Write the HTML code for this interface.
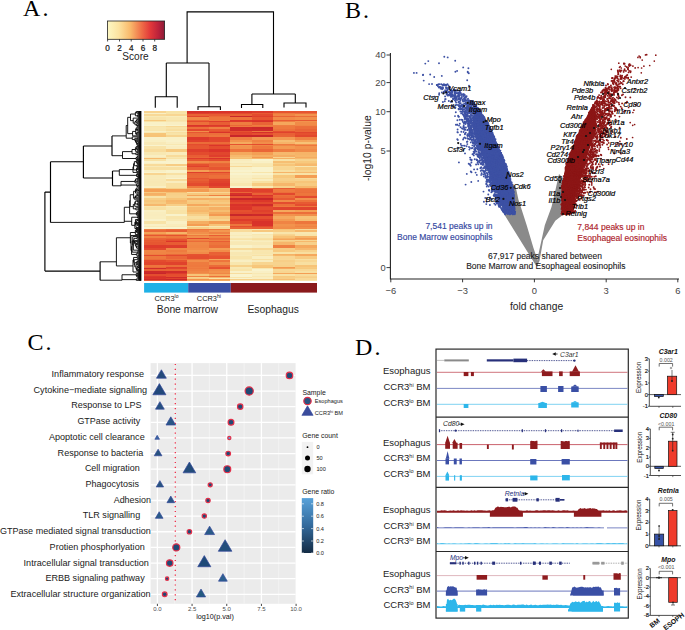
<!DOCTYPE html>
<html><head><meta charset="utf-8"><style>
html,body{margin:0;padding:0;background:#fff;}
svg{display:block;font-family:"Liberation Sans",sans-serif;}
</style></head><body>
<svg width="685" height="630" viewBox="0 0 685 630">
<text x="22.9" y="15.6" font-family="Liberation Serif" font-size="24" letter-spacing="2.2">A.</text>
<defs><linearGradient id="cb" x1="0" x2="1" y1="0" y2="0"><stop offset="0" stop-color="#fdf8c4"/><stop offset="0.2" stop-color="#fce3a0"/><stop offset="0.4" stop-color="#f9b96b"/><stop offset="0.6" stop-color="#ef6d47"/><stop offset="0.75" stop-color="#e2383a"/><stop offset="0.9" stop-color="#b9213b"/><stop offset="1" stop-color="#8a1c37"/></linearGradient></defs>
<rect x="107.4" y="21" width="57.2" height="18.3" fill="url(#cb)" stroke="#222" stroke-width="0.8"/>
<line x1="107.6" y1="39.3" x2="107.6" y2="41.5" stroke="#222" stroke-width="0.8"/>
<text x="107.6" y="50.8" font-size="8.2" text-anchor="middle" fill="#111" stroke="#111" stroke-width="0.2">0</text>
<line x1="119.5" y1="39.3" x2="119.5" y2="41.5" stroke="#222" stroke-width="0.8"/>
<text x="119.5" y="50.8" font-size="8.2" text-anchor="middle" fill="#111" stroke="#111" stroke-width="0.2">2</text>
<line x1="131.2" y1="39.3" x2="131.2" y2="41.5" stroke="#222" stroke-width="0.8"/>
<text x="131.2" y="50.8" font-size="8.2" text-anchor="middle" fill="#111" stroke="#111" stroke-width="0.2">4</text>
<line x1="143.0" y1="39.3" x2="143.0" y2="41.5" stroke="#222" stroke-width="0.8"/>
<text x="143.0" y="50.8" font-size="8.2" text-anchor="middle" fill="#111" stroke="#111" stroke-width="0.2">6</text>
<line x1="154.7" y1="39.3" x2="154.7" y2="41.5" stroke="#222" stroke-width="0.8"/>
<text x="154.7" y="50.8" font-size="8.2" text-anchor="middle" fill="#111" stroke="#111" stroke-width="0.2">8</text>
<text x="135.5" y="60.2" font-size="10.1" text-anchor="middle" fill="#222">Score</text>
<path d="M187.1,63 V11.9 H273.5 V94 M166.3,63 H209 M166.3,63 V96.8 M155.3,107.7 V96.8 H177.2 V107.7 M209,63 V106.7 M198,110 V106.7 H220.4 V110 M251.9,94 H295.3 M251.9,94 V104.5 M241.5,108 V104.5 H262.8 V108 M295.3,94 V103 M284,107.5 V103 H306 V107.5" fill="none" stroke="#000" stroke-width="1.1"/>
<g shape-rendering="crispEdges"><rect x="144.10" y="110.90" width="21.86" height="2.30" fill="#f8d490"/><rect x="165.66" y="110.90" width="21.86" height="2.30" fill="#f8e2a5"/><rect x="187.22" y="110.90" width="21.86" height="2.30" fill="#d7312a"/><rect x="208.79" y="110.90" width="21.86" height="2.30" fill="#d9332a"/><rect x="230.35" y="110.90" width="21.86" height="2.30" fill="#db352a"/><rect x="251.91" y="110.90" width="21.86" height="2.30" fill="#dd3a2b"/><rect x="273.48" y="110.90" width="21.86" height="2.30" fill="#e65430"/><rect x="295.04" y="110.90" width="21.86" height="2.30" fill="#e65531"/><rect x="144.10" y="112.90" width="21.86" height="1.80" fill="#f9efc3"/><rect x="165.66" y="112.90" width="21.86" height="1.80" fill="#f8e4a9"/><rect x="187.22" y="112.90" width="21.86" height="1.80" fill="#df3f2c"/><rect x="208.79" y="112.90" width="21.86" height="1.80" fill="#e1452d"/><rect x="230.35" y="112.90" width="21.86" height="1.80" fill="#e34b2e"/><rect x="251.91" y="112.90" width="21.86" height="1.80" fill="#e75932"/><rect x="273.48" y="112.90" width="21.86" height="1.80" fill="#ee7a3e"/><rect x="295.04" y="112.90" width="21.86" height="1.80" fill="#ec703a"/><rect x="144.10" y="114.40" width="21.86" height="1.80" fill="#f8d997"/><rect x="165.66" y="114.40" width="21.86" height="1.80" fill="#f8d693"/><rect x="187.22" y="114.40" width="21.86" height="1.80" fill="#e96235"/><rect x="208.79" y="114.40" width="21.86" height="1.80" fill="#e75b33"/><rect x="230.35" y="114.40" width="21.86" height="1.80" fill="#e96135"/><rect x="251.91" y="114.40" width="21.86" height="1.80" fill="#e34b2e"/><rect x="273.48" y="114.40" width="21.86" height="1.80" fill="#f08545"/><rect x="295.04" y="114.40" width="21.86" height="1.80" fill="#f2944e"/><rect x="144.10" y="115.90" width="21.86" height="1.80" fill="#f8eab7"/><rect x="165.66" y="115.90" width="21.86" height="1.80" fill="#f9ecbb"/><rect x="187.22" y="115.90" width="21.86" height="1.80" fill="#e1462d"/><rect x="208.79" y="115.90" width="21.86" height="1.80" fill="#eb6a38"/><rect x="230.35" y="115.90" width="21.86" height="1.80" fill="#ca282a"/><rect x="251.91" y="115.90" width="21.86" height="1.80" fill="#df3f2c"/><rect x="273.48" y="115.90" width="21.86" height="1.80" fill="#e96336"/><rect x="295.04" y="115.90" width="21.86" height="1.80" fill="#eb6d39"/><rect x="144.10" y="117.40" width="21.86" height="3.30" fill="#f8e4ab"/><rect x="165.66" y="117.40" width="21.86" height="3.30" fill="#f8e7b1"/><rect x="187.22" y="117.40" width="21.86" height="3.30" fill="#f08947"/><rect x="208.79" y="117.40" width="21.86" height="3.30" fill="#ed753c"/><rect x="230.35" y="117.40" width="21.86" height="3.30" fill="#ed743c"/><rect x="251.91" y="117.40" width="21.86" height="3.30" fill="#e65531"/><rect x="273.48" y="117.40" width="21.86" height="3.30" fill="#f18a48"/><rect x="295.04" y="117.40" width="21.86" height="3.30" fill="#f1904b"/><rect x="144.10" y="120.40" width="21.86" height="1.30" fill="#f7c97e"/><rect x="165.66" y="120.40" width="21.86" height="1.30" fill="#f8e3a8"/><rect x="187.22" y="120.40" width="21.86" height="1.30" fill="#ea6537"/><rect x="208.79" y="120.40" width="21.86" height="1.30" fill="#ee783d"/><rect x="230.35" y="120.40" width="21.86" height="1.30" fill="#dc372b"/><rect x="251.91" y="120.40" width="21.86" height="1.30" fill="#dc362a"/><rect x="273.48" y="120.40" width="21.86" height="1.30" fill="#e85c33"/><rect x="295.04" y="120.40" width="21.86" height="1.30" fill="#e75932"/><rect x="144.10" y="121.40" width="21.86" height="1.30" fill="#f8e3a7"/><rect x="165.66" y="121.40" width="21.86" height="1.30" fill="#f8e7b2"/><rect x="187.22" y="121.40" width="21.86" height="1.30" fill="#e44d2e"/><rect x="208.79" y="121.40" width="21.86" height="1.30" fill="#de3e2c"/><rect x="230.35" y="121.40" width="21.86" height="1.30" fill="#dd3a2b"/><rect x="251.91" y="121.40" width="21.86" height="1.30" fill="#d8322a"/><rect x="273.48" y="121.40" width="21.86" height="1.30" fill="#ef7f41"/><rect x="295.04" y="121.40" width="21.86" height="1.30" fill="#f2934d"/><rect x="144.10" y="122.40" width="21.86" height="2.80" fill="#f9f1c7"/><rect x="165.66" y="122.40" width="21.86" height="2.80" fill="#f9eec2"/><rect x="187.22" y="122.40" width="21.86" height="2.80" fill="#ec6f3a"/><rect x="208.79" y="122.40" width="21.86" height="2.80" fill="#e85d34"/><rect x="230.35" y="122.40" width="21.86" height="2.80" fill="#ee7d40"/><rect x="251.91" y="122.40" width="21.86" height="2.80" fill="#e96436"/><rect x="273.48" y="122.40" width="21.86" height="2.80" fill="#f5a75c"/><rect x="295.04" y="122.40" width="21.86" height="2.80" fill="#f18b48"/><rect x="144.10" y="124.90" width="21.86" height="1.80" fill="#f9f3cd"/><rect x="165.66" y="124.90" width="21.86" height="1.80" fill="#f9f3cd"/><rect x="187.22" y="124.90" width="21.86" height="1.80" fill="#da332a"/><rect x="208.79" y="124.90" width="21.86" height="1.80" fill="#dc382b"/><rect x="230.35" y="124.90" width="21.86" height="1.80" fill="#ea6737"/><rect x="251.91" y="124.90" width="21.86" height="1.80" fill="#ee7c3f"/><rect x="273.48" y="124.90" width="21.86" height="1.80" fill="#ef7e41"/><rect x="295.04" y="124.90" width="21.86" height="1.80" fill="#f08645"/><rect x="144.10" y="126.40" width="21.86" height="1.30" fill="#f8e3a8"/><rect x="165.66" y="126.40" width="21.86" height="1.30" fill="#f8d895"/><rect x="187.22" y="126.40" width="21.86" height="1.30" fill="#de3d2c"/><rect x="208.79" y="126.40" width="21.86" height="1.30" fill="#e0412c"/><rect x="230.35" y="126.40" width="21.86" height="1.30" fill="#ee7a3e"/><rect x="251.91" y="126.40" width="21.86" height="1.30" fill="#ed753c"/><rect x="273.48" y="126.40" width="21.86" height="1.30" fill="#ee7b3e"/><rect x="295.04" y="126.40" width="21.86" height="1.30" fill="#ec6f3a"/><rect x="144.10" y="127.40" width="21.86" height="2.30" fill="#f8e6af"/><rect x="165.66" y="127.40" width="21.86" height="2.30" fill="#f8e3a8"/><rect x="187.22" y="127.40" width="21.86" height="2.30" fill="#ec6f3a"/><rect x="208.79" y="127.40" width="21.86" height="2.30" fill="#ef8042"/><rect x="230.35" y="127.40" width="21.86" height="2.30" fill="#cf2b2a"/><rect x="251.91" y="127.40" width="21.86" height="2.30" fill="#cb282a"/><rect x="273.48" y="127.40" width="21.86" height="2.30" fill="#ee7a3e"/><rect x="295.04" y="127.40" width="21.86" height="2.30" fill="#eb6e3a"/><rect x="144.10" y="129.40" width="21.86" height="1.80" fill="#f8e6ae"/><rect x="165.66" y="129.40" width="21.86" height="1.80" fill="#f8de9f"/><rect x="187.22" y="129.40" width="21.86" height="1.80" fill="#e3492e"/><rect x="208.79" y="129.40" width="21.86" height="1.80" fill="#e75932"/><rect x="230.35" y="129.40" width="21.86" height="1.80" fill="#cf2c2a"/><rect x="251.91" y="129.40" width="21.86" height="1.80" fill="#cf2b2a"/><rect x="273.48" y="129.40" width="21.86" height="1.80" fill="#ec723b"/><rect x="295.04" y="129.40" width="21.86" height="1.80" fill="#e96436"/><rect x="144.10" y="130.90" width="21.86" height="1.80" fill="#f9f0c6"/><rect x="165.66" y="130.90" width="21.86" height="1.80" fill="#f9ebba"/><rect x="187.22" y="130.90" width="21.86" height="1.80" fill="#f18e4a"/><rect x="208.79" y="130.90" width="21.86" height="1.80" fill="#e5502f"/><rect x="230.35" y="130.90" width="21.86" height="1.80" fill="#e55230"/><rect x="251.91" y="130.90" width="21.86" height="1.80" fill="#ed773d"/><rect x="273.48" y="130.90" width="21.86" height="1.80" fill="#e5502f"/><rect x="295.04" y="130.90" width="21.86" height="1.80" fill="#ea6637"/><rect x="144.10" y="132.40" width="21.86" height="1.30" fill="#f8e9b5"/><rect x="165.66" y="132.40" width="21.86" height="1.30" fill="#f8dfa1"/><rect x="187.22" y="132.40" width="21.86" height="1.30" fill="#e75732"/><rect x="208.79" y="132.40" width="21.86" height="1.30" fill="#d9332a"/><rect x="230.35" y="132.40" width="21.86" height="1.30" fill="#e0412c"/><rect x="251.91" y="132.40" width="21.86" height="1.30" fill="#d5302a"/><rect x="273.48" y="132.40" width="21.86" height="1.30" fill="#e0422d"/><rect x="295.04" y="132.40" width="21.86" height="1.30" fill="#e1452d"/><rect x="144.10" y="133.40" width="21.86" height="2.30" fill="#f7c579"/><rect x="165.66" y="133.40" width="21.86" height="2.30" fill="#f8e3a7"/><rect x="187.22" y="133.40" width="21.86" height="2.30" fill="#eb6e3a"/><rect x="208.79" y="133.40" width="21.86" height="2.30" fill="#ec6f3a"/><rect x="230.35" y="133.40" width="21.86" height="2.30" fill="#e1462d"/><rect x="251.91" y="133.40" width="21.86" height="2.30" fill="#e54f2f"/><rect x="273.48" y="133.40" width="21.86" height="2.30" fill="#e96035"/><rect x="295.04" y="133.40" width="21.86" height="2.30" fill="#e5502f"/><rect x="144.10" y="135.40" width="21.86" height="2.30" fill="#f7c377"/><rect x="165.66" y="135.40" width="21.86" height="2.30" fill="#f7d48f"/><rect x="187.22" y="135.40" width="21.86" height="2.30" fill="#ec703a"/><rect x="208.79" y="135.40" width="21.86" height="2.30" fill="#ed763d"/><rect x="230.35" y="135.40" width="21.86" height="2.30" fill="#c8262a"/><rect x="251.91" y="135.40" width="21.86" height="2.30" fill="#c8262a"/><rect x="273.48" y="135.40" width="21.86" height="2.30" fill="#e96336"/><rect x="295.04" y="135.40" width="21.86" height="2.30" fill="#e2472d"/><rect x="144.10" y="137.40" width="21.86" height="3.30" fill="#f9f1c9"/><rect x="165.66" y="137.40" width="21.86" height="3.30" fill="#f9f0c5"/><rect x="187.22" y="137.40" width="21.86" height="3.30" fill="#dd392b"/><rect x="208.79" y="137.40" width="21.86" height="3.30" fill="#e2462d"/><rect x="230.35" y="137.40" width="21.86" height="3.30" fill="#ef8042"/><rect x="251.91" y="137.40" width="21.86" height="3.30" fill="#f2964f"/><rect x="273.48" y="137.40" width="21.86" height="3.30" fill="#f39a52"/><rect x="295.04" y="137.40" width="21.86" height="3.30" fill="#ef8343"/><rect x="144.10" y="140.40" width="21.86" height="2.30" fill="#f9efc2"/><rect x="165.66" y="140.40" width="21.86" height="2.30" fill="#f9f1c9"/><rect x="187.22" y="140.40" width="21.86" height="2.30" fill="#e0412c"/><rect x="208.79" y="140.40" width="21.86" height="2.30" fill="#e2482e"/><rect x="230.35" y="140.40" width="21.86" height="2.30" fill="#f2934d"/><rect x="251.91" y="140.40" width="21.86" height="2.30" fill="#ef8243"/><rect x="273.48" y="140.40" width="21.86" height="2.30" fill="#f6be73"/><rect x="295.04" y="140.40" width="21.86" height="2.30" fill="#f4a55a"/><rect x="144.10" y="142.40" width="21.86" height="1.80" fill="#f8e9b7"/><rect x="165.66" y="142.40" width="21.86" height="1.80" fill="#f9eec2"/><rect x="187.22" y="142.40" width="21.86" height="1.80" fill="#eb6c39"/><rect x="208.79" y="142.40" width="21.86" height="1.80" fill="#eb6a38"/><rect x="230.35" y="142.40" width="21.86" height="1.80" fill="#f5aa5e"/><rect x="251.91" y="142.40" width="21.86" height="1.80" fill="#f18d4a"/><rect x="273.48" y="142.40" width="21.86" height="1.80" fill="#f6b368"/><rect x="295.04" y="142.40" width="21.86" height="1.80" fill="#f7c276"/><rect x="144.10" y="143.90" width="21.86" height="1.30" fill="#f8e9b6"/><rect x="165.66" y="143.90" width="21.86" height="1.30" fill="#f8e8b2"/><rect x="187.22" y="143.90" width="21.86" height="1.30" fill="#e44d2e"/><rect x="208.79" y="143.90" width="21.86" height="1.30" fill="#e5512f"/><rect x="230.35" y="143.90" width="21.86" height="1.30" fill="#e65330"/><rect x="251.91" y="143.90" width="21.86" height="1.30" fill="#e44c2e"/><rect x="273.48" y="143.90" width="21.86" height="1.30" fill="#ee7b3f"/><rect x="295.04" y="143.90" width="21.86" height="1.30" fill="#f2934d"/><rect x="144.10" y="144.90" width="21.86" height="1.80" fill="#f9f3cd"/><rect x="165.66" y="144.90" width="21.86" height="1.80" fill="#f9f1c8"/><rect x="187.22" y="144.90" width="21.86" height="1.80" fill="#e65431"/><rect x="208.79" y="144.90" width="21.86" height="1.80" fill="#db342a"/><rect x="230.35" y="144.90" width="21.86" height="1.80" fill="#f39951"/><rect x="251.91" y="144.90" width="21.86" height="1.80" fill="#f08544"/><rect x="273.48" y="144.90" width="21.86" height="1.80" fill="#f08746"/><rect x="295.04" y="144.90" width="21.86" height="1.80" fill="#ed773d"/><rect x="144.10" y="146.40" width="21.86" height="3.30" fill="#f8e3a8"/><rect x="165.66" y="146.40" width="21.86" height="3.30" fill="#f9edc0"/><rect x="187.22" y="146.40" width="21.86" height="3.30" fill="#e65731"/><rect x="208.79" y="146.40" width="21.86" height="3.30" fill="#e44c2e"/><rect x="230.35" y="146.40" width="21.86" height="3.30" fill="#f2934d"/><rect x="251.91" y="146.40" width="21.86" height="3.30" fill="#ee783d"/><rect x="273.48" y="146.40" width="21.86" height="3.30" fill="#f39a51"/><rect x="295.04" y="146.40" width="21.86" height="3.30" fill="#f2924c"/><rect x="144.10" y="149.40" width="21.86" height="3.30" fill="#f8dc9c"/><rect x="165.66" y="149.40" width="21.86" height="3.30" fill="#f7ca80"/><rect x="187.22" y="149.40" width="21.86" height="3.30" fill="#de3e2c"/><rect x="208.79" y="149.40" width="21.86" height="3.30" fill="#db342a"/><rect x="230.35" y="149.40" width="21.86" height="3.30" fill="#ed743c"/><rect x="251.91" y="149.40" width="21.86" height="3.30" fill="#ea6637"/><rect x="273.48" y="149.40" width="21.86" height="3.30" fill="#ee7d40"/><rect x="295.04" y="149.40" width="21.86" height="3.30" fill="#f08a48"/><rect x="144.10" y="152.40" width="21.86" height="3.30" fill="#f8e8b2"/><rect x="165.66" y="152.40" width="21.86" height="3.30" fill="#f9ebbb"/><rect x="187.22" y="152.40" width="21.86" height="3.30" fill="#e34b2e"/><rect x="208.79" y="152.40" width="21.86" height="3.30" fill="#e1462d"/><rect x="230.35" y="152.40" width="21.86" height="3.30" fill="#f5a95d"/><rect x="251.91" y="152.40" width="21.86" height="3.30" fill="#f49f54"/><rect x="273.48" y="152.40" width="21.86" height="3.30" fill="#f6b86d"/><rect x="295.04" y="152.40" width="21.86" height="3.30" fill="#f6b468"/><rect x="144.10" y="155.40" width="21.86" height="1.80" fill="#f9eec1"/><rect x="165.66" y="155.40" width="21.86" height="1.80" fill="#f8db9a"/><rect x="187.22" y="155.40" width="21.86" height="1.80" fill="#e85d34"/><rect x="208.79" y="155.40" width="21.86" height="1.80" fill="#df3e2c"/><rect x="230.35" y="155.40" width="21.86" height="1.80" fill="#f6b96d"/><rect x="251.91" y="155.40" width="21.86" height="1.80" fill="#f5ae62"/><rect x="273.48" y="155.40" width="21.86" height="1.80" fill="#f5ae63"/><rect x="295.04" y="155.40" width="21.86" height="1.80" fill="#f6b76b"/><rect x="144.10" y="156.90" width="21.86" height="1.30" fill="#f8e9b6"/><rect x="165.66" y="156.90" width="21.86" height="1.30" fill="#f8e7b1"/><rect x="187.22" y="156.90" width="21.86" height="1.30" fill="#ea6537"/><rect x="208.79" y="156.90" width="21.86" height="1.30" fill="#e96336"/><rect x="230.35" y="156.90" width="21.86" height="1.30" fill="#f7c377"/><rect x="251.91" y="156.90" width="21.86" height="1.30" fill="#f39a51"/><rect x="273.48" y="156.90" width="21.86" height="1.30" fill="#f8d591"/><rect x="295.04" y="156.90" width="21.86" height="1.30" fill="#f5ac61"/><rect x="144.10" y="157.90" width="21.86" height="1.80" fill="#f6bb6f"/><rect x="165.66" y="157.90" width="21.86" height="1.80" fill="#f8e3a7"/><rect x="187.22" y="157.90" width="21.86" height="1.80" fill="#de3c2b"/><rect x="208.79" y="157.90" width="21.86" height="1.80" fill="#d9332a"/><rect x="230.35" y="157.90" width="21.86" height="1.80" fill="#f6bf73"/><rect x="251.91" y="157.90" width="21.86" height="1.80" fill="#f6b76b"/><rect x="273.48" y="157.90" width="21.86" height="1.80" fill="#f5b064"/><rect x="295.04" y="157.90" width="21.86" height="1.80" fill="#f6bb6f"/><rect x="144.10" y="159.40" width="21.86" height="2.30" fill="#f8e2a5"/><rect x="165.66" y="159.40" width="21.86" height="2.30" fill="#f9f0c7"/><rect x="187.22" y="159.40" width="21.86" height="2.30" fill="#e65731"/><rect x="208.79" y="159.40" width="21.86" height="2.30" fill="#e44c2e"/><rect x="230.35" y="159.40" width="21.86" height="2.30" fill="#f9ecbd"/><rect x="251.91" y="159.40" width="21.86" height="2.30" fill="#f9f3cd"/><rect x="273.48" y="159.40" width="21.86" height="2.30" fill="#f8e2a6"/><rect x="295.04" y="159.40" width="21.86" height="2.30" fill="#f7d38e"/><rect x="144.10" y="161.40" width="21.86" height="2.30" fill="#f9f3cd"/><rect x="165.66" y="161.40" width="21.86" height="2.30" fill="#f9f3cd"/><rect x="187.22" y="161.40" width="21.86" height="2.30" fill="#f18b48"/><rect x="208.79" y="161.40" width="21.86" height="2.30" fill="#ef8243"/><rect x="230.35" y="161.40" width="21.86" height="2.30" fill="#f9eec1"/><rect x="251.91" y="161.40" width="21.86" height="2.30" fill="#f9f0c5"/><rect x="273.48" y="161.40" width="21.86" height="2.30" fill="#f6bf73"/><rect x="295.04" y="161.40" width="21.86" height="2.30" fill="#f7c97e"/><rect x="144.10" y="163.40" width="21.86" height="1.30" fill="#f9efc3"/><rect x="165.66" y="163.40" width="21.86" height="1.30" fill="#f9f3cd"/><rect x="187.22" y="163.40" width="21.86" height="1.30" fill="#ec6f3a"/><rect x="208.79" y="163.40" width="21.86" height="1.30" fill="#ea6938"/><rect x="230.35" y="163.40" width="21.86" height="1.30" fill="#f8e8b4"/><rect x="251.91" y="163.40" width="21.86" height="1.30" fill="#f8e9b6"/><rect x="273.48" y="163.40" width="21.86" height="1.30" fill="#f7d089"/><rect x="295.04" y="163.40" width="21.86" height="1.30" fill="#f7c074"/><rect x="144.10" y="164.40" width="21.86" height="2.30" fill="#f8db9a"/><rect x="165.66" y="164.40" width="21.86" height="2.30" fill="#f7cd85"/><rect x="187.22" y="164.40" width="21.86" height="2.30" fill="#e54f2f"/><rect x="208.79" y="164.40" width="21.86" height="2.30" fill="#e96336"/><rect x="230.35" y="164.40" width="21.86" height="2.30" fill="#f9ecbc"/><rect x="251.91" y="164.40" width="21.86" height="2.30" fill="#f8e8b2"/><rect x="273.48" y="164.40" width="21.86" height="2.30" fill="#f7c579"/><rect x="295.04" y="164.40" width="21.86" height="2.30" fill="#f6b96d"/><rect x="144.10" y="166.40" width="21.86" height="1.30" fill="#f8e9b6"/><rect x="165.66" y="166.40" width="21.86" height="1.30" fill="#f9edbf"/><rect x="187.22" y="166.40" width="21.86" height="1.30" fill="#e0422c"/><rect x="208.79" y="166.40" width="21.86" height="1.30" fill="#ea6737"/><rect x="230.35" y="166.40" width="21.86" height="1.30" fill="#f8d896"/><rect x="251.91" y="166.40" width="21.86" height="1.30" fill="#f8e5ac"/><rect x="273.48" y="166.40" width="21.86" height="1.30" fill="#f8d895"/><rect x="295.04" y="166.40" width="21.86" height="1.30" fill="#f8e6af"/><rect x="144.10" y="167.40" width="21.86" height="3.30" fill="#f8e0a2"/><rect x="165.66" y="167.40" width="21.86" height="3.30" fill="#f8e0a2"/><rect x="187.22" y="167.40" width="21.86" height="3.30" fill="#e96035"/><rect x="208.79" y="167.40" width="21.86" height="3.30" fill="#e65531"/><rect x="230.35" y="167.40" width="21.86" height="3.30" fill="#f9f0c5"/><rect x="251.91" y="167.40" width="21.86" height="3.30" fill="#f9f3cd"/><rect x="273.48" y="167.40" width="21.86" height="3.30" fill="#f8d692"/><rect x="295.04" y="167.40" width="21.86" height="3.30" fill="#f7ca80"/><rect x="144.10" y="170.40" width="21.86" height="1.80" fill="#f9efc3"/><rect x="165.66" y="170.40" width="21.86" height="1.80" fill="#f9f3cd"/><rect x="187.22" y="170.40" width="21.86" height="1.80" fill="#f49f55"/><rect x="208.79" y="170.40" width="21.86" height="1.80" fill="#f08846"/><rect x="230.35" y="170.40" width="21.86" height="1.80" fill="#f9f3cd"/><rect x="251.91" y="170.40" width="21.86" height="1.80" fill="#f9f3cd"/><rect x="273.48" y="170.40" width="21.86" height="1.80" fill="#f8e0a2"/><rect x="295.04" y="170.40" width="21.86" height="1.80" fill="#f7d38d"/><rect x="144.10" y="171.90" width="21.86" height="1.30" fill="#f9f3cd"/><rect x="165.66" y="171.90" width="21.86" height="1.30" fill="#f9f2cb"/><rect x="187.22" y="171.90" width="21.86" height="1.30" fill="#df402c"/><rect x="208.79" y="171.90" width="21.86" height="1.30" fill="#e3492e"/><rect x="230.35" y="171.90" width="21.86" height="1.30" fill="#f9eec0"/><rect x="251.91" y="171.90" width="21.86" height="1.30" fill="#f8e5ab"/><rect x="273.48" y="171.90" width="21.86" height="1.30" fill="#f6b468"/><rect x="295.04" y="171.90" width="21.86" height="1.30" fill="#f6ba6f"/><rect x="144.10" y="172.90" width="21.86" height="2.80" fill="#f8d591"/><rect x="165.66" y="172.90" width="21.86" height="2.80" fill="#f8e1a4"/><rect x="187.22" y="172.90" width="21.86" height="2.80" fill="#ea6637"/><rect x="208.79" y="172.90" width="21.86" height="2.80" fill="#ea6637"/><rect x="230.35" y="172.90" width="21.86" height="2.80" fill="#f9f3cd"/><rect x="251.91" y="172.90" width="21.86" height="2.80" fill="#f9f3cd"/><rect x="273.48" y="172.90" width="21.86" height="2.80" fill="#f8e3a6"/><rect x="295.04" y="172.90" width="21.86" height="2.80" fill="#f8e2a6"/><rect x="144.10" y="175.40" width="21.86" height="3.30" fill="#f8eab7"/><rect x="165.66" y="175.40" width="21.86" height="3.30" fill="#f9edbf"/><rect x="187.22" y="175.40" width="21.86" height="3.30" fill="#ea6a38"/><rect x="208.79" y="175.40" width="21.86" height="3.30" fill="#ec703a"/><rect x="230.35" y="175.40" width="21.86" height="3.30" fill="#f9efc3"/><rect x="251.91" y="175.40" width="21.86" height="3.30" fill="#f9ecbc"/><rect x="273.48" y="175.40" width="21.86" height="3.30" fill="#f7c87c"/><rect x="295.04" y="175.40" width="21.86" height="3.30" fill="#f49e54"/><rect x="144.10" y="178.40" width="21.86" height="1.30" fill="#f8eab9"/><rect x="165.66" y="178.40" width="21.86" height="1.30" fill="#f9f3cd"/><rect x="187.22" y="178.40" width="21.86" height="1.30" fill="#e65731"/><rect x="208.79" y="178.40" width="21.86" height="1.30" fill="#ea6838"/><rect x="230.35" y="178.40" width="21.86" height="1.30" fill="#f9ecbc"/><rect x="251.91" y="178.40" width="21.86" height="1.30" fill="#f8e4a9"/><rect x="273.48" y="178.40" width="21.86" height="1.30" fill="#f7d08a"/><rect x="295.04" y="178.40" width="21.86" height="1.30" fill="#f8d997"/><rect x="144.10" y="179.40" width="21.86" height="2.30" fill="#f8e9b6"/><rect x="165.66" y="179.40" width="21.86" height="2.30" fill="#f8db9b"/><rect x="187.22" y="179.40" width="21.86" height="2.30" fill="#e85f34"/><rect x="208.79" y="179.40" width="21.86" height="2.30" fill="#e1462d"/><rect x="230.35" y="179.40" width="21.86" height="2.30" fill="#f9edbe"/><rect x="251.91" y="179.40" width="21.86" height="2.30" fill="#f9edbf"/><rect x="273.48" y="179.40" width="21.86" height="2.30" fill="#f7d089"/><rect x="295.04" y="179.40" width="21.86" height="2.30" fill="#f7d28d"/><rect x="144.10" y="181.40" width="21.86" height="2.30" fill="#f8e8b4"/><rect x="165.66" y="181.40" width="21.86" height="2.30" fill="#f9ecbe"/><rect x="187.22" y="181.40" width="21.86" height="2.30" fill="#e65631"/><rect x="208.79" y="181.40" width="21.86" height="2.30" fill="#e0412c"/><rect x="230.35" y="181.40" width="21.86" height="2.30" fill="#f9ebba"/><rect x="251.91" y="181.40" width="21.86" height="2.30" fill="#f8e0a2"/><rect x="273.48" y="181.40" width="21.86" height="2.30" fill="#f7c97f"/><rect x="295.04" y="181.40" width="21.86" height="2.30" fill="#f7c579"/><rect x="144.10" y="183.40" width="21.86" height="2.80" fill="#f8e9b4"/><rect x="165.66" y="183.40" width="21.86" height="2.80" fill="#f8e0a2"/><rect x="187.22" y="183.40" width="21.86" height="2.80" fill="#e34b2e"/><rect x="208.79" y="183.40" width="21.86" height="2.80" fill="#dd3a2b"/><rect x="230.35" y="183.40" width="21.86" height="2.80" fill="#f8e6af"/><rect x="251.91" y="183.40" width="21.86" height="2.80" fill="#f7cc83"/><rect x="273.48" y="183.40" width="21.86" height="2.80" fill="#f6b66b"/><rect x="295.04" y="183.40" width="21.86" height="2.80" fill="#f7cb81"/><rect x="144.10" y="185.90" width="21.86" height="2.30" fill="#f9efc3"/><rect x="165.66" y="185.90" width="21.86" height="2.30" fill="#f8e0a2"/><rect x="187.22" y="185.90" width="21.86" height="2.30" fill="#ee783d"/><rect x="208.79" y="185.90" width="21.86" height="2.30" fill="#e3492e"/><rect x="230.35" y="185.90" width="21.86" height="2.30" fill="#f9f3cd"/><rect x="251.91" y="185.90" width="21.86" height="2.30" fill="#f8e8b3"/><rect x="273.48" y="185.90" width="21.86" height="2.30" fill="#f7d08a"/><rect x="295.04" y="185.90" width="21.86" height="2.30" fill="#f6b76b"/><rect x="144.10" y="187.90" width="21.86" height="1.80" fill="#f6bc71"/><rect x="165.66" y="187.90" width="21.86" height="1.80" fill="#f7d089"/><rect x="187.22" y="187.90" width="21.86" height="1.80" fill="#f5a75c"/><rect x="208.79" y="187.90" width="21.86" height="1.80" fill="#f6bb6f"/><rect x="230.35" y="187.90" width="21.86" height="1.80" fill="#df412c"/><rect x="251.91" y="187.90" width="21.86" height="1.80" fill="#ea6838"/><rect x="273.48" y="187.90" width="21.86" height="1.80" fill="#e85c33"/><rect x="295.04" y="187.90" width="21.86" height="1.80" fill="#ee7b3f"/><rect x="144.10" y="189.40" width="21.86" height="2.80" fill="#f4a055"/><rect x="165.66" y="189.40" width="21.86" height="2.80" fill="#f49f54"/><rect x="187.22" y="189.40" width="21.86" height="2.80" fill="#f39b52"/><rect x="208.79" y="189.40" width="21.86" height="2.80" fill="#f6b469"/><rect x="230.35" y="189.40" width="21.86" height="2.80" fill="#de3d2c"/><rect x="251.91" y="189.40" width="21.86" height="2.80" fill="#df402c"/><rect x="273.48" y="189.40" width="21.86" height="2.80" fill="#ee793e"/><rect x="295.04" y="189.40" width="21.86" height="2.80" fill="#ec713b"/><rect x="144.10" y="191.90" width="21.86" height="1.80" fill="#f7c97f"/><rect x="165.66" y="191.90" width="21.86" height="1.80" fill="#f6bf73"/><rect x="187.22" y="191.90" width="21.86" height="1.80" fill="#f8de9f"/><rect x="208.79" y="191.90" width="21.86" height="1.80" fill="#f8d490"/><rect x="230.35" y="191.90" width="21.86" height="1.80" fill="#ea6537"/><rect x="251.91" y="191.90" width="21.86" height="1.80" fill="#e34a2e"/><rect x="273.48" y="191.90" width="21.86" height="1.80" fill="#ec6f3a"/><rect x="295.04" y="191.90" width="21.86" height="1.80" fill="#eb6e3a"/><rect x="144.10" y="193.40" width="21.86" height="2.30" fill="#f5b065"/><rect x="165.66" y="193.40" width="21.86" height="2.30" fill="#f7cf88"/><rect x="187.22" y="193.40" width="21.86" height="2.30" fill="#f7c87d"/><rect x="208.79" y="193.40" width="21.86" height="2.30" fill="#f7c074"/><rect x="230.35" y="193.40" width="21.86" height="2.30" fill="#d7312a"/><rect x="251.91" y="193.40" width="21.86" height="2.30" fill="#e96236"/><rect x="273.48" y="193.40" width="21.86" height="2.30" fill="#e2482e"/><rect x="295.04" y="193.40" width="21.86" height="2.30" fill="#ed763c"/><rect x="144.10" y="195.40" width="21.86" height="1.30" fill="#f6b76b"/><rect x="165.66" y="195.40" width="21.86" height="1.30" fill="#f7d18a"/><rect x="187.22" y="195.40" width="21.86" height="1.30" fill="#f4a358"/><rect x="208.79" y="195.40" width="21.86" height="1.30" fill="#ef8041"/><rect x="230.35" y="195.40" width="21.86" height="1.30" fill="#c8262a"/><rect x="251.91" y="195.40" width="21.86" height="1.30" fill="#da332a"/><rect x="273.48" y="195.40" width="21.86" height="1.30" fill="#ec703b"/><rect x="295.04" y="195.40" width="21.86" height="1.30" fill="#ec723b"/><rect x="144.10" y="196.40" width="21.86" height="1.80" fill="#f8e3a8"/><rect x="165.66" y="196.40" width="21.86" height="1.80" fill="#f7d28c"/><rect x="187.22" y="196.40" width="21.86" height="1.80" fill="#f8d591"/><rect x="208.79" y="196.40" width="21.86" height="1.80" fill="#f8d997"/><rect x="230.35" y="196.40" width="21.86" height="1.80" fill="#e75732"/><rect x="251.91" y="196.40" width="21.86" height="1.80" fill="#e0432d"/><rect x="273.48" y="196.40" width="21.86" height="1.80" fill="#eb6a38"/><rect x="295.04" y="196.40" width="21.86" height="1.80" fill="#e34a2e"/><rect x="144.10" y="197.90" width="21.86" height="2.30" fill="#f7cf88"/><rect x="165.66" y="197.90" width="21.86" height="2.30" fill="#f7c579"/><rect x="187.22" y="197.90" width="21.86" height="2.30" fill="#f5af64"/><rect x="208.79" y="197.90" width="21.86" height="2.30" fill="#f6b368"/><rect x="230.35" y="197.90" width="21.86" height="2.30" fill="#c8262a"/><rect x="251.91" y="197.90" width="21.86" height="2.30" fill="#c8262a"/><rect x="273.48" y="197.90" width="21.86" height="2.30" fill="#e75a33"/><rect x="295.04" y="197.90" width="21.86" height="2.30" fill="#f18e4a"/><rect x="144.10" y="199.90" width="21.86" height="2.30" fill="#f7c77c"/><rect x="165.66" y="199.90" width="21.86" height="2.30" fill="#f6b56a"/><rect x="187.22" y="199.90" width="21.86" height="2.30" fill="#f7cb82"/><rect x="208.79" y="199.90" width="21.86" height="2.30" fill="#f7c377"/><rect x="230.35" y="199.90" width="21.86" height="2.30" fill="#dd3b2b"/><rect x="251.91" y="199.90" width="21.86" height="2.30" fill="#dc372a"/><rect x="273.48" y="199.90" width="21.86" height="2.30" fill="#f18b48"/><rect x="295.04" y="199.90" width="21.86" height="2.30" fill="#ec733b"/><rect x="144.10" y="201.90" width="21.86" height="2.80" fill="#f7cc83"/><rect x="165.66" y="201.90" width="21.86" height="2.80" fill="#f6ba6e"/><rect x="187.22" y="201.90" width="21.86" height="2.80" fill="#f7c87c"/><rect x="208.79" y="201.90" width="21.86" height="2.80" fill="#f7ca81"/><rect x="230.35" y="201.90" width="21.86" height="2.80" fill="#e3492e"/><rect x="251.91" y="201.90" width="21.86" height="2.80" fill="#e2472d"/><rect x="273.48" y="201.90" width="21.86" height="2.80" fill="#e44d2f"/><rect x="295.04" y="201.90" width="21.86" height="2.80" fill="#e75a33"/><rect x="144.10" y="204.40" width="21.86" height="1.80" fill="#f6b86d"/><rect x="165.66" y="204.40" width="21.86" height="1.80" fill="#f7ce87"/><rect x="187.22" y="204.40" width="21.86" height="1.80" fill="#f5a85d"/><rect x="208.79" y="204.40" width="21.86" height="1.80" fill="#f6b56a"/><rect x="230.35" y="204.40" width="21.86" height="1.80" fill="#d9322a"/><rect x="251.91" y="204.40" width="21.86" height="1.80" fill="#d02c2a"/><rect x="273.48" y="204.40" width="21.86" height="1.80" fill="#ec703a"/><rect x="295.04" y="204.40" width="21.86" height="1.80" fill="#e44e2f"/><rect x="144.10" y="205.90" width="21.86" height="1.80" fill="#f8e5ac"/><rect x="165.66" y="205.90" width="21.86" height="1.80" fill="#f9ebba"/><rect x="187.22" y="205.90" width="21.86" height="1.80" fill="#f7cb82"/><rect x="208.79" y="205.90" width="21.86" height="1.80" fill="#f7cf89"/><rect x="230.35" y="205.90" width="21.86" height="1.80" fill="#dd382b"/><rect x="251.91" y="205.90" width="21.86" height="1.80" fill="#e0412c"/><rect x="273.48" y="205.90" width="21.86" height="1.80" fill="#ee7a3e"/><rect x="295.04" y="205.90" width="21.86" height="1.80" fill="#ee793e"/><rect x="144.10" y="207.40" width="21.86" height="3.30" fill="#f8e0a2"/><rect x="165.66" y="207.40" width="21.86" height="3.30" fill="#f8e6af"/><rect x="187.22" y="207.40" width="21.86" height="3.30" fill="#f6bc70"/><rect x="208.79" y="207.40" width="21.86" height="3.30" fill="#f5af64"/><rect x="230.35" y="207.40" width="21.86" height="3.30" fill="#db352a"/><rect x="251.91" y="207.40" width="21.86" height="3.30" fill="#e34a2e"/><rect x="273.48" y="207.40" width="21.86" height="3.30" fill="#e0432d"/><rect x="295.04" y="207.40" width="21.86" height="3.30" fill="#e0432d"/><rect x="144.10" y="210.40" width="21.86" height="1.80" fill="#f9efc3"/><rect x="165.66" y="210.40" width="21.86" height="1.80" fill="#f8e3a7"/><rect x="187.22" y="210.40" width="21.86" height="1.80" fill="#f6b76b"/><rect x="208.79" y="210.40" width="21.86" height="1.80" fill="#f6bd71"/><rect x="230.35" y="210.40" width="21.86" height="1.80" fill="#e5502f"/><rect x="251.91" y="210.40" width="21.86" height="1.80" fill="#df402c"/><rect x="273.48" y="210.40" width="21.86" height="1.80" fill="#f5a85d"/><rect x="295.04" y="210.40" width="21.86" height="1.80" fill="#f49f54"/><rect x="144.10" y="211.90" width="21.86" height="2.80" fill="#f9edbe"/><rect x="165.66" y="211.90" width="21.86" height="2.80" fill="#f8e3a6"/><rect x="187.22" y="211.90" width="21.86" height="2.80" fill="#f7c377"/><rect x="208.79" y="211.90" width="21.86" height="2.80" fill="#f5a95e"/><rect x="230.35" y="211.90" width="21.86" height="2.80" fill="#e34a2e"/><rect x="251.91" y="211.90" width="21.86" height="2.80" fill="#e2482d"/><rect x="273.48" y="211.90" width="21.86" height="2.80" fill="#ec6f3a"/><rect x="295.04" y="211.90" width="21.86" height="2.80" fill="#ec6e3a"/><rect x="144.10" y="214.40" width="21.86" height="2.30" fill="#f9ecbd"/><rect x="165.66" y="214.40" width="21.86" height="2.30" fill="#f9f2ca"/><rect x="187.22" y="214.40" width="21.86" height="2.30" fill="#f7d18b"/><rect x="208.79" y="214.40" width="21.86" height="2.30" fill="#f39951"/><rect x="230.35" y="214.40" width="21.86" height="2.30" fill="#c9272a"/><rect x="251.91" y="214.40" width="21.86" height="2.30" fill="#cd292a"/><rect x="273.48" y="214.40" width="21.86" height="2.30" fill="#f2924c"/><rect x="295.04" y="214.40" width="21.86" height="2.30" fill="#f18f4b"/><rect x="144.10" y="216.40" width="21.86" height="3.30" fill="#f9edbe"/><rect x="165.66" y="216.40" width="21.86" height="3.30" fill="#f8e5ac"/><rect x="187.22" y="216.40" width="21.86" height="3.30" fill="#f8dfa1"/><rect x="208.79" y="216.40" width="21.86" height="3.30" fill="#f7c97f"/><rect x="230.35" y="216.40" width="21.86" height="3.30" fill="#e5502f"/><rect x="251.91" y="216.40" width="21.86" height="3.30" fill="#e54f2f"/><rect x="273.48" y="216.40" width="21.86" height="3.30" fill="#f5a95e"/><rect x="295.04" y="216.40" width="21.86" height="3.30" fill="#f7c276"/><rect x="144.10" y="219.40" width="21.86" height="1.80" fill="#f9f2cb"/><rect x="165.66" y="219.40" width="21.86" height="1.80" fill="#f8e8b3"/><rect x="187.22" y="219.40" width="21.86" height="1.80" fill="#f8d896"/><rect x="208.79" y="219.40" width="21.86" height="1.80" fill="#f7d48f"/><rect x="230.35" y="219.40" width="21.86" height="1.80" fill="#de3b2b"/><rect x="251.91" y="219.40" width="21.86" height="1.80" fill="#de3c2b"/><rect x="273.48" y="219.40" width="21.86" height="1.80" fill="#f39b52"/><rect x="295.04" y="219.40" width="21.86" height="1.80" fill="#f6bc70"/><rect x="144.10" y="220.90" width="21.86" height="3.30" fill="#f8e3a7"/><rect x="165.66" y="220.90" width="21.86" height="3.30" fill="#f9f0c5"/><rect x="187.22" y="220.90" width="21.86" height="3.30" fill="#f5ae62"/><rect x="208.79" y="220.90" width="21.86" height="3.30" fill="#f39d53"/><rect x="230.35" y="220.90" width="21.86" height="3.30" fill="#e34b2e"/><rect x="251.91" y="220.90" width="21.86" height="3.30" fill="#d8322a"/><rect x="273.48" y="220.90" width="21.86" height="3.30" fill="#f08444"/><rect x="295.04" y="220.90" width="21.86" height="3.30" fill="#ed763c"/><rect x="144.10" y="223.90" width="21.86" height="2.30" fill="#f9f0c5"/><rect x="165.66" y="223.90" width="21.86" height="2.30" fill="#f9ecbc"/><rect x="187.22" y="223.90" width="21.86" height="2.30" fill="#f49d53"/><rect x="208.79" y="223.90" width="21.86" height="2.30" fill="#f7c377"/><rect x="230.35" y="223.90" width="21.86" height="2.30" fill="#ed763d"/><rect x="251.91" y="223.90" width="21.86" height="2.30" fill="#d9332a"/><rect x="273.48" y="223.90" width="21.86" height="2.30" fill="#f2934d"/><rect x="295.04" y="223.90" width="21.86" height="2.30" fill="#f18a48"/><rect x="144.10" y="225.90" width="21.86" height="1.30" fill="#f8eab7"/><rect x="165.66" y="225.90" width="21.86" height="1.30" fill="#f8e9b5"/><rect x="187.22" y="225.90" width="21.86" height="1.30" fill="#f8e3a8"/><rect x="208.79" y="225.90" width="21.86" height="1.30" fill="#f8e5ad"/><rect x="230.35" y="225.90" width="21.86" height="1.30" fill="#e5512f"/><rect x="251.91" y="225.90" width="21.86" height="1.30" fill="#e34a2e"/><rect x="273.48" y="225.90" width="21.86" height="1.30" fill="#f1904b"/><rect x="295.04" y="225.90" width="21.86" height="1.30" fill="#ef8343"/><rect x="144.10" y="226.90" width="21.86" height="2.30" fill="#f9f3cd"/><rect x="165.66" y="226.90" width="21.86" height="2.30" fill="#f9f3cd"/><rect x="187.22" y="226.90" width="21.86" height="2.30" fill="#f7cf88"/><rect x="208.79" y="226.90" width="21.86" height="2.30" fill="#f8da98"/><rect x="230.35" y="226.90" width="21.86" height="2.30" fill="#e96436"/><rect x="251.91" y="226.90" width="21.86" height="2.30" fill="#e85e34"/><rect x="273.48" y="226.90" width="21.86" height="2.30" fill="#f18d49"/><rect x="295.04" y="226.90" width="21.86" height="2.30" fill="#f18c49"/><rect x="144.10" y="228.90" width="21.86" height="1.80" fill="#ee7c3f"/><rect x="165.66" y="228.90" width="21.86" height="1.80" fill="#eb6d39"/><rect x="187.22" y="228.90" width="21.86" height="1.80" fill="#ee793e"/><rect x="208.79" y="228.90" width="21.86" height="1.80" fill="#ee793e"/><rect x="230.35" y="228.90" width="21.86" height="1.80" fill="#f8de9f"/><rect x="251.91" y="228.90" width="21.86" height="1.80" fill="#f8e6af"/><rect x="273.48" y="228.90" width="21.86" height="1.80" fill="#f7c67a"/><rect x="295.04" y="228.90" width="21.86" height="1.80" fill="#f8da99"/><rect x="144.10" y="230.40" width="21.86" height="1.80" fill="#ea6838"/><rect x="165.66" y="230.40" width="21.86" height="1.80" fill="#e85f34"/><rect x="187.22" y="230.40" width="21.86" height="1.80" fill="#f08444"/><rect x="208.79" y="230.40" width="21.86" height="1.80" fill="#f39850"/><rect x="230.35" y="230.40" width="21.86" height="1.80" fill="#f8db9b"/><rect x="251.91" y="230.40" width="21.86" height="1.80" fill="#f7c87e"/><rect x="273.48" y="230.40" width="21.86" height="1.80" fill="#f7cc84"/><rect x="295.04" y="230.40" width="21.86" height="1.80" fill="#f6b96d"/><rect x="144.10" y="231.90" width="21.86" height="2.30" fill="#f4a156"/><rect x="165.66" y="231.90" width="21.86" height="2.30" fill="#f6b468"/><rect x="187.22" y="231.90" width="21.86" height="2.30" fill="#f18f4b"/><rect x="208.79" y="231.90" width="21.86" height="2.30" fill="#ef8344"/><rect x="230.35" y="231.90" width="21.86" height="2.30" fill="#f9eec2"/><rect x="251.91" y="231.90" width="21.86" height="2.30" fill="#f9f3cd"/><rect x="273.48" y="231.90" width="21.86" height="2.30" fill="#f8e4aa"/><rect x="295.04" y="231.90" width="21.86" height="2.30" fill="#f8e7b1"/><rect x="144.10" y="233.90" width="21.86" height="1.30" fill="#ef7f41"/><rect x="165.66" y="233.90" width="21.86" height="1.30" fill="#f08847"/><rect x="187.22" y="233.90" width="21.86" height="1.30" fill="#f4a257"/><rect x="208.79" y="233.90" width="21.86" height="1.30" fill="#f4a055"/><rect x="230.35" y="233.90" width="21.86" height="1.30" fill="#f9eec1"/><rect x="251.91" y="233.90" width="21.86" height="1.30" fill="#f8e7b0"/><rect x="273.48" y="233.90" width="21.86" height="1.30" fill="#f8d592"/><rect x="295.04" y="233.90" width="21.86" height="1.30" fill="#f8e4ab"/><rect x="144.10" y="234.90" width="21.86" height="1.80" fill="#e65631"/><rect x="165.66" y="234.90" width="21.86" height="1.80" fill="#e5512f"/><rect x="187.22" y="234.90" width="21.86" height="1.80" fill="#ee7a3e"/><rect x="208.79" y="234.90" width="21.86" height="1.80" fill="#e85c33"/><rect x="230.35" y="234.90" width="21.86" height="1.80" fill="#f8eab7"/><rect x="251.91" y="234.90" width="21.86" height="1.80" fill="#f8eab8"/><rect x="273.48" y="234.90" width="21.86" height="1.80" fill="#f7cf88"/><rect x="295.04" y="234.90" width="21.86" height="1.80" fill="#f8e4a9"/><rect x="144.10" y="236.40" width="21.86" height="1.80" fill="#ef8243"/><rect x="165.66" y="236.40" width="21.86" height="1.80" fill="#ed783d"/><rect x="187.22" y="236.40" width="21.86" height="1.80" fill="#f18f4a"/><rect x="208.79" y="236.40" width="21.86" height="1.80" fill="#f08544"/><rect x="230.35" y="236.40" width="21.86" height="1.80" fill="#f9eec2"/><rect x="251.91" y="236.40" width="21.86" height="1.80" fill="#f8eab8"/><rect x="273.48" y="236.40" width="21.86" height="1.80" fill="#f7c377"/><rect x="295.04" y="236.40" width="21.86" height="1.80" fill="#f6b368"/><rect x="144.10" y="237.90" width="21.86" height="1.30" fill="#ea6637"/><rect x="165.66" y="237.90" width="21.86" height="1.30" fill="#ea6837"/><rect x="187.22" y="237.90" width="21.86" height="1.30" fill="#e2482d"/><rect x="208.79" y="237.90" width="21.86" height="1.30" fill="#ec6f3a"/><rect x="230.35" y="237.90" width="21.86" height="1.30" fill="#f8e5ad"/><rect x="251.91" y="237.90" width="21.86" height="1.30" fill="#f8e1a4"/><rect x="273.48" y="237.90" width="21.86" height="1.30" fill="#f6b368"/><rect x="295.04" y="237.90" width="21.86" height="1.30" fill="#f39a51"/><rect x="144.10" y="238.90" width="21.86" height="1.80" fill="#e96236"/><rect x="165.66" y="238.90" width="21.86" height="1.80" fill="#e65531"/><rect x="187.22" y="238.90" width="21.86" height="1.80" fill="#f08444"/><rect x="208.79" y="238.90" width="21.86" height="1.80" fill="#ec723b"/><rect x="230.35" y="238.90" width="21.86" height="1.80" fill="#f8e3a7"/><rect x="251.91" y="238.90" width="21.86" height="1.80" fill="#f8de9f"/><rect x="273.48" y="238.90" width="21.86" height="1.80" fill="#f4a65b"/><rect x="295.04" y="238.90" width="21.86" height="1.80" fill="#f4a459"/><rect x="144.10" y="240.40" width="21.86" height="1.30" fill="#e75932"/><rect x="165.66" y="240.40" width="21.86" height="1.30" fill="#e54f2f"/><rect x="187.22" y="240.40" width="21.86" height="1.30" fill="#ee7d40"/><rect x="208.79" y="240.40" width="21.86" height="1.30" fill="#ef8243"/><rect x="230.35" y="240.40" width="21.86" height="1.30" fill="#f9efc4"/><rect x="251.91" y="240.40" width="21.86" height="1.30" fill="#f8eab7"/><rect x="273.48" y="240.40" width="21.86" height="1.30" fill="#f7d28d"/><rect x="295.04" y="240.40" width="21.86" height="1.30" fill="#f8d692"/><rect x="144.10" y="241.40" width="21.86" height="1.30" fill="#e85c33"/><rect x="165.66" y="241.40" width="21.86" height="1.30" fill="#dc352a"/><rect x="187.22" y="241.40" width="21.86" height="1.30" fill="#eb6c39"/><rect x="208.79" y="241.40" width="21.86" height="1.30" fill="#e85e34"/><rect x="230.35" y="241.40" width="21.86" height="1.30" fill="#f8eab8"/><rect x="251.91" y="241.40" width="21.86" height="1.30" fill="#f9edbe"/><rect x="273.48" y="241.40" width="21.86" height="1.30" fill="#f7c97f"/><rect x="295.04" y="241.40" width="21.86" height="1.30" fill="#f6b86c"/><rect x="144.10" y="242.40" width="21.86" height="3.30" fill="#e65731"/><rect x="165.66" y="242.40" width="21.86" height="3.30" fill="#e85c33"/><rect x="187.22" y="242.40" width="21.86" height="3.30" fill="#f08947"/><rect x="208.79" y="242.40" width="21.86" height="3.30" fill="#ed753c"/><rect x="230.35" y="242.40" width="21.86" height="3.30" fill="#f8e8b4"/><rect x="251.91" y="242.40" width="21.86" height="3.30" fill="#f8e8b4"/><rect x="273.48" y="242.40" width="21.86" height="3.30" fill="#f6b66b"/><rect x="295.04" y="242.40" width="21.86" height="3.30" fill="#f7d08a"/><rect x="144.10" y="245.40" width="21.86" height="2.80" fill="#de3b2b"/><rect x="165.66" y="245.40" width="21.86" height="2.80" fill="#de3d2c"/><rect x="187.22" y="245.40" width="21.86" height="2.80" fill="#f08645"/><rect x="208.79" y="245.40" width="21.86" height="2.80" fill="#eb6d39"/><rect x="230.35" y="245.40" width="21.86" height="2.80" fill="#f9f2c9"/><rect x="251.91" y="245.40" width="21.86" height="2.80" fill="#f9edc0"/><rect x="273.48" y="245.40" width="21.86" height="2.80" fill="#ef8042"/><rect x="295.04" y="245.40" width="21.86" height="2.80" fill="#f5a85d"/><rect x="144.10" y="247.90" width="21.86" height="2.30" fill="#e2492e"/><rect x="165.66" y="247.90" width="21.86" height="2.30" fill="#f08746"/><rect x="187.22" y="247.90" width="21.86" height="2.30" fill="#f18b48"/><rect x="208.79" y="247.90" width="21.86" height="2.30" fill="#f39c53"/><rect x="230.35" y="247.90" width="21.86" height="2.30" fill="#f8db9a"/><rect x="251.91" y="247.90" width="21.86" height="2.30" fill="#f8d895"/><rect x="273.48" y="247.90" width="21.86" height="2.30" fill="#f7cc84"/><rect x="295.04" y="247.90" width="21.86" height="2.30" fill="#f6b86d"/><rect x="144.10" y="249.90" width="21.86" height="2.30" fill="#f08645"/><rect x="165.66" y="249.90" width="21.86" height="2.30" fill="#ee7c3f"/><rect x="187.22" y="249.90" width="21.86" height="2.30" fill="#f2954e"/><rect x="208.79" y="249.90" width="21.86" height="2.30" fill="#f18d49"/><rect x="230.35" y="249.90" width="21.86" height="2.30" fill="#f9eec0"/><rect x="251.91" y="249.90" width="21.86" height="2.30" fill="#f8e6af"/><rect x="273.48" y="249.90" width="21.86" height="2.30" fill="#f7c97e"/><rect x="295.04" y="249.90" width="21.86" height="2.30" fill="#f7d28d"/><rect x="144.10" y="251.90" width="21.86" height="2.30" fill="#f08444"/><rect x="165.66" y="251.90" width="21.86" height="2.30" fill="#ef8344"/><rect x="187.22" y="251.90" width="21.86" height="2.30" fill="#f18c49"/><rect x="208.79" y="251.90" width="21.86" height="2.30" fill="#e96135"/><rect x="230.35" y="251.90" width="21.86" height="2.30" fill="#f8e7b2"/><rect x="251.91" y="251.90" width="21.86" height="2.30" fill="#f8e6ad"/><rect x="273.48" y="251.90" width="21.86" height="2.30" fill="#f8e3a6"/><rect x="295.04" y="251.90" width="21.86" height="2.30" fill="#f8de9f"/><rect x="144.10" y="253.90" width="21.86" height="1.80" fill="#ee7c3f"/><rect x="165.66" y="253.90" width="21.86" height="1.80" fill="#ea6938"/><rect x="187.22" y="253.90" width="21.86" height="1.80" fill="#e65330"/><rect x="208.79" y="253.90" width="21.86" height="1.80" fill="#e96336"/><rect x="230.35" y="253.90" width="21.86" height="1.80" fill="#f8e7b2"/><rect x="251.91" y="253.90" width="21.86" height="1.80" fill="#f8e8b4"/><rect x="273.48" y="253.90" width="21.86" height="1.80" fill="#f5b266"/><rect x="295.04" y="253.90" width="21.86" height="1.80" fill="#f5a85d"/><rect x="144.10" y="255.40" width="21.86" height="1.30" fill="#e34b2e"/><rect x="165.66" y="255.40" width="21.86" height="1.30" fill="#e2492e"/><rect x="187.22" y="255.40" width="21.86" height="1.30" fill="#e5502f"/><rect x="208.79" y="255.40" width="21.86" height="1.30" fill="#e75b33"/><rect x="230.35" y="255.40" width="21.86" height="1.30" fill="#f8e9b5"/><rect x="251.91" y="255.40" width="21.86" height="1.30" fill="#f8e2a6"/><rect x="273.48" y="255.40" width="21.86" height="1.30" fill="#f6ba6e"/><rect x="295.04" y="255.40" width="21.86" height="1.30" fill="#f5a75c"/><rect x="144.10" y="256.40" width="21.86" height="2.80" fill="#ed783d"/><rect x="165.66" y="256.40" width="21.86" height="2.80" fill="#ea6537"/><rect x="187.22" y="256.40" width="21.86" height="2.80" fill="#e44e2f"/><rect x="208.79" y="256.40" width="21.86" height="2.80" fill="#e65230"/><rect x="230.35" y="256.40" width="21.86" height="2.80" fill="#f8e4aa"/><rect x="251.91" y="256.40" width="21.86" height="2.80" fill="#f9eec0"/><rect x="273.48" y="256.40" width="21.86" height="2.80" fill="#f8d693"/><rect x="295.04" y="256.40" width="21.86" height="2.80" fill="#f7ca81"/><rect x="144.10" y="258.90" width="21.86" height="1.80" fill="#eb6e3a"/><rect x="165.66" y="258.90" width="21.86" height="1.80" fill="#ec733b"/><rect x="187.22" y="258.90" width="21.86" height="1.80" fill="#ed753c"/><rect x="208.79" y="258.90" width="21.86" height="1.80" fill="#f4a65b"/><rect x="230.35" y="258.90" width="21.86" height="1.80" fill="#f8e9b6"/><rect x="251.91" y="258.90" width="21.86" height="1.80" fill="#f8e0a2"/><rect x="273.48" y="258.90" width="21.86" height="1.80" fill="#f8d895"/><rect x="295.04" y="258.90" width="21.86" height="1.80" fill="#f8e0a1"/><rect x="144.10" y="260.40" width="21.86" height="2.30" fill="#e34b2e"/><rect x="165.66" y="260.40" width="21.86" height="2.30" fill="#e65430"/><rect x="187.22" y="260.40" width="21.86" height="2.30" fill="#f18e4a"/><rect x="208.79" y="260.40" width="21.86" height="2.30" fill="#ed753c"/><rect x="230.35" y="260.40" width="21.86" height="2.30" fill="#f9eec2"/><rect x="251.91" y="260.40" width="21.86" height="2.30" fill="#f9ecbd"/><rect x="273.48" y="260.40" width="21.86" height="2.30" fill="#f7cf88"/><rect x="295.04" y="260.40" width="21.86" height="2.30" fill="#f8d794"/><rect x="144.10" y="262.40" width="21.86" height="2.80" fill="#e1452d"/><rect x="165.66" y="262.40" width="21.86" height="2.80" fill="#e0422c"/><rect x="187.22" y="262.40" width="21.86" height="2.80" fill="#ee7b3f"/><rect x="208.79" y="262.40" width="21.86" height="2.80" fill="#f18e4a"/><rect x="230.35" y="262.40" width="21.86" height="2.80" fill="#f8e6ae"/><rect x="251.91" y="262.40" width="21.86" height="2.80" fill="#f8d590"/><rect x="273.48" y="262.40" width="21.86" height="2.80" fill="#f7d38e"/><rect x="295.04" y="262.40" width="21.86" height="2.80" fill="#f8dfa1"/><rect x="144.10" y="264.90" width="21.86" height="2.30" fill="#ed753c"/><rect x="165.66" y="264.90" width="21.86" height="2.30" fill="#eb6e3a"/><rect x="187.22" y="264.90" width="21.86" height="2.30" fill="#ee793e"/><rect x="208.79" y="264.90" width="21.86" height="2.30" fill="#eb6b39"/><rect x="230.35" y="264.90" width="21.86" height="2.30" fill="#f7d18a"/><rect x="251.91" y="264.90" width="21.86" height="2.30" fill="#f7c77b"/><rect x="273.48" y="264.90" width="21.86" height="2.30" fill="#f7d18a"/><rect x="295.04" y="264.90" width="21.86" height="2.30" fill="#f7c377"/><rect x="144.10" y="266.90" width="21.86" height="1.30" fill="#eb6a38"/><rect x="165.66" y="266.90" width="21.86" height="1.30" fill="#df3f2c"/><rect x="187.22" y="266.90" width="21.86" height="1.30" fill="#ef7e41"/><rect x="208.79" y="266.90" width="21.86" height="1.30" fill="#e65330"/><rect x="230.35" y="266.90" width="21.86" height="1.30" fill="#f8e8b3"/><rect x="251.91" y="266.90" width="21.86" height="1.30" fill="#f7c478"/><rect x="273.48" y="266.90" width="21.86" height="1.30" fill="#f39a51"/><rect x="295.04" y="266.90" width="21.86" height="1.30" fill="#f7ca80"/><rect x="144.10" y="267.90" width="21.86" height="1.30" fill="#d02c2a"/><rect x="165.66" y="267.90" width="21.86" height="1.30" fill="#e1442d"/><rect x="187.22" y="267.90" width="21.86" height="1.30" fill="#ee793e"/><rect x="208.79" y="267.90" width="21.86" height="1.30" fill="#e65230"/><rect x="230.35" y="267.90" width="21.86" height="1.30" fill="#f8e7b0"/><rect x="251.91" y="267.90" width="21.86" height="1.30" fill="#f8e7b0"/><rect x="273.48" y="267.90" width="21.86" height="1.30" fill="#f5ac61"/><rect x="295.04" y="267.90" width="21.86" height="1.30" fill="#f7c87c"/><rect x="144.10" y="268.90" width="21.86" height="2.30" fill="#e86035"/><rect x="165.66" y="268.90" width="21.86" height="2.30" fill="#e96235"/><rect x="187.22" y="268.90" width="21.86" height="2.30" fill="#ef8042"/><rect x="208.79" y="268.90" width="21.86" height="2.30" fill="#f18c49"/><rect x="230.35" y="268.90" width="21.86" height="2.30" fill="#f8e4a9"/><rect x="251.91" y="268.90" width="21.86" height="2.30" fill="#f9f3cd"/><rect x="273.48" y="268.90" width="21.86" height="2.30" fill="#f8d895"/><rect x="295.04" y="268.90" width="21.86" height="2.30" fill="#f8d895"/><rect x="144.10" y="270.90" width="21.86" height="2.80" fill="#ce2a2a"/><rect x="165.66" y="270.90" width="21.86" height="2.80" fill="#d12d2a"/><rect x="187.22" y="270.90" width="21.86" height="2.80" fill="#f08645"/><rect x="208.79" y="270.90" width="21.86" height="2.80" fill="#f2924c"/><rect x="230.35" y="270.90" width="21.86" height="2.80" fill="#f9f1c8"/><rect x="251.91" y="270.90" width="21.86" height="2.80" fill="#f9efc4"/><rect x="273.48" y="270.90" width="21.86" height="2.80" fill="#f8d591"/><rect x="295.04" y="270.90" width="21.86" height="2.80" fill="#f8dfa0"/><rect x="144.10" y="273.40" width="21.86" height="1.30" fill="#c8262a"/><rect x="165.66" y="273.40" width="21.86" height="1.30" fill="#dd3b2b"/><rect x="187.22" y="273.40" width="21.86" height="1.30" fill="#f2904c"/><rect x="208.79" y="273.40" width="21.86" height="1.30" fill="#f08746"/><rect x="230.35" y="273.40" width="21.86" height="1.30" fill="#f8dd9e"/><rect x="251.91" y="273.40" width="21.86" height="1.30" fill="#f8e9b4"/><rect x="273.48" y="273.40" width="21.86" height="1.30" fill="#f5a95e"/><rect x="295.04" y="273.40" width="21.86" height="1.30" fill="#f49d53"/><rect x="144.10" y="274.40" width="21.86" height="1.80" fill="#e44d2f"/><rect x="165.66" y="274.40" width="21.86" height="1.80" fill="#e44e2f"/><rect x="187.22" y="274.40" width="21.86" height="1.80" fill="#f7c478"/><rect x="208.79" y="274.40" width="21.86" height="1.80" fill="#f5a85d"/><rect x="230.35" y="274.40" width="21.86" height="1.80" fill="#f9f3cd"/><rect x="251.91" y="274.40" width="21.86" height="1.80" fill="#f9eec0"/><rect x="273.48" y="274.40" width="21.86" height="1.80" fill="#f8e1a4"/><rect x="295.04" y="274.40" width="21.86" height="1.80" fill="#f8db9b"/><rect x="144.10" y="275.90" width="21.86" height="1.30" fill="#dc382b"/><rect x="165.66" y="275.90" width="21.86" height="1.30" fill="#e5502f"/><rect x="187.22" y="275.90" width="21.86" height="1.30" fill="#ef8343"/><rect x="208.79" y="275.90" width="21.86" height="1.30" fill="#ec703b"/><rect x="230.35" y="275.90" width="21.86" height="1.30" fill="#f9f3cd"/><rect x="251.91" y="275.90" width="21.86" height="1.30" fill="#f8e8b3"/><rect x="273.48" y="275.90" width="21.86" height="1.30" fill="#f7ca80"/><rect x="295.04" y="275.90" width="21.86" height="1.30" fill="#f7d28d"/><rect x="144.10" y="276.90" width="21.86" height="1.30" fill="#d8322a"/><rect x="165.66" y="276.90" width="21.86" height="1.30" fill="#d02c2a"/><rect x="187.22" y="276.90" width="21.86" height="1.30" fill="#f7d18b"/><rect x="208.79" y="276.90" width="21.86" height="1.30" fill="#f6b86d"/><rect x="230.35" y="276.90" width="21.86" height="1.30" fill="#f8e5ac"/><rect x="251.91" y="276.90" width="21.86" height="1.30" fill="#f9edbe"/><rect x="273.48" y="276.90" width="21.86" height="1.30" fill="#f7cc83"/><rect x="295.04" y="276.90" width="21.86" height="1.30" fill="#f7ce87"/><rect x="144.10" y="277.90" width="21.86" height="1.80" fill="#db352a"/><rect x="165.66" y="277.90" width="21.86" height="1.80" fill="#e0432d"/><rect x="187.22" y="277.90" width="21.86" height="1.80" fill="#f7cb81"/><rect x="208.79" y="277.90" width="21.86" height="1.80" fill="#f8e3a7"/><rect x="230.35" y="277.90" width="21.86" height="1.80" fill="#f9f3cc"/><rect x="251.91" y="277.90" width="21.86" height="1.80" fill="#f9eec2"/><rect x="273.48" y="277.90" width="21.86" height="1.80" fill="#f7ce86"/><rect x="295.04" y="277.90" width="21.86" height="1.80" fill="#f8d997"/><rect x="144.10" y="279.40" width="21.86" height="1.30" fill="#ce2b2a"/><rect x="165.66" y="279.40" width="21.86" height="1.30" fill="#c9272a"/><rect x="187.22" y="279.40" width="21.86" height="1.30" fill="#f2924c"/><rect x="208.79" y="279.40" width="21.86" height="1.30" fill="#f49f55"/><rect x="230.35" y="279.40" width="21.86" height="1.30" fill="#f7cf87"/><rect x="251.91" y="279.40" width="21.86" height="1.30" fill="#f7d28c"/><rect x="273.48" y="279.40" width="21.86" height="1.30" fill="#f6bd72"/><rect x="295.04" y="279.40" width="21.86" height="1.30" fill="#f8d896"/><rect x="144.10" y="280.40" width="21.86" height="0.50" fill="#e75b33"/><rect x="165.66" y="280.40" width="21.86" height="0.50" fill="#e65531"/><rect x="187.22" y="280.40" width="21.86" height="0.50" fill="#f5ac60"/><rect x="208.79" y="280.40" width="21.86" height="0.50" fill="#f5a95d"/><rect x="230.35" y="280.40" width="21.86" height="0.50" fill="#f9ebba"/><rect x="251.91" y="280.40" width="21.86" height="0.50" fill="#f9ebba"/><rect x="273.48" y="280.40" width="21.86" height="0.50" fill="#f8e8b3"/><rect x="295.04" y="280.40" width="21.86" height="0.50" fill="#f8e4ab"/></g>
<rect x="144.1" y="283" width="44.1" height="9.6" fill="#1fb1e6"/>
<rect x="188.2" y="283" width="42.6" height="9.6" fill="#3a4ea3"/>
<rect x="230.8" y="283" width="86.2" height="9.6" fill="#8a1a1c"/>
<text x="154.4" y="301" font-size="7.4" fill="#111">CCR3<tspan font-size="5" dy="-2.8">lo</tspan></text>
<text x="196.8" y="301" font-size="7.4" fill="#111">CCR3<tspan font-size="5" dy="-2.8">hi</tspan></text>
<text x="187.4" y="312.6" font-size="10.3" text-anchor="middle" fill="#222">Bone marrow</text>
<text x="273.2" y="312.6" font-size="10.3" text-anchor="middle" fill="#222">Esophagus</text>
<path d="M44.9,192.1V271.1M44.9,192.1H50.5M50.5,161.7V222.4M50.5,161.7H83.4M83.4,146V178M83.4,146H112M83.4,178H112.5M112,135.9V155.7M112.5,171V185.8M44.9,271.1H100.1M100.1,261.8V280.2" fill="none" stroke="#000" stroke-width="1.15"/><path d="M137.71,112.52V113.54M137.71,112.52H140.80M137.71,113.54H140.80M136.38,111.51V113.03M136.38,111.51H140.80M136.38,113.03H137.71M138.20,114.55V115.56M138.20,114.55H140.80M138.20,115.56H140.80M137.37,115.06V116.58M137.37,115.06H138.20M137.37,116.58H140.80M135.38,112.27V115.82M135.38,112.27H136.38M135.38,115.82H137.37M138.13,117.59V118.61M138.13,117.59H140.80M138.13,118.61H140.80M137.94,120.64V121.65M137.94,120.64H140.80M137.94,121.65H140.80M136.65,119.62V121.14M136.65,119.62H140.80M136.65,121.14H137.94M136.05,120.38V122.67M136.05,120.38H136.65M136.05,122.67H140.80M138.00,124.69V125.71M138.00,124.69H140.80M138.00,125.71H140.80M137.35,125.20V126.72M137.35,125.20H138.00M137.35,126.72H140.80M136.75,123.68V125.96M136.75,123.68H140.80M136.75,125.96H137.35M134.95,121.52V124.82M134.95,121.52H136.05M134.95,124.82H136.75M133.19,118.10V123.17M133.19,118.10H138.13M133.19,123.17H134.95M130.52,114.04V120.64M130.52,114.04H135.38M130.52,120.64H133.19M137.48,128.75V129.77M137.48,128.75H140.80M137.48,129.77H140.80M136.88,129.26V130.78M136.88,129.26H137.48M136.88,130.78H140.80M136.28,127.74V130.02M136.28,127.74H140.80M136.28,130.02H136.88M137.96,131.80V132.81M137.96,131.80H140.80M137.96,132.81H140.80M136.88,132.30V133.82M136.88,132.30H137.96M136.88,133.82H140.80M136.28,133.06V134.84M136.28,133.06H136.88M136.28,134.84H140.80M135.68,128.88V133.95M135.68,128.88H136.28M135.68,133.95H136.28M132.58,131.42V135.85M132.58,131.42H135.68M132.58,135.85H140.80M127.70,117.34V133.63M127.70,117.34H130.52M127.70,133.63H132.58M137.13,137.81V138.77M137.13,137.81H140.80M137.13,138.77H140.80M138.48,143.59V144.55M138.48,143.59H140.80M138.48,144.55H140.80M137.88,142.63V144.07M137.88,142.63H140.80M137.88,144.07H138.48M137.28,143.35V145.52M137.28,143.35H137.88M137.28,145.52H140.80M136.68,141.66V144.43M136.68,141.66H140.80M136.68,144.43H137.28M136.08,140.70V143.05M136.08,140.70H140.80M136.08,143.05H136.68M135.48,139.73V141.87M135.48,139.73H140.80M135.48,141.87H136.08M134.88,138.29V140.80M134.88,138.29H137.13M134.88,140.80H135.48M132.26,136.84V139.55M132.26,136.84H140.80M132.26,139.55H134.88M112.00,135.90H126.20M126.20,125.49V138.19M126.20,125.49H127.70M126.20,138.19H132.26M137.76,147.45V148.42M137.76,147.45H140.80M137.76,148.42H140.80M137.45,149.38V150.35M137.45,149.38H140.80M137.45,150.35H140.80M136.85,147.93V149.87M136.85,147.93H137.76M136.85,149.87H137.45M136.25,146.48V148.90M136.25,146.48H140.80M136.25,148.90H136.85M135.41,147.69V151.32M135.41,147.69H136.25M135.41,151.32H140.80M137.55,152.28V153.25M137.55,152.28H140.80M137.55,153.25H140.80M137.50,154.22V155.19M137.50,154.22H140.80M137.50,155.19H140.80M135.85,152.77V154.70M135.85,152.77H137.55M135.85,154.70H137.50M132.03,149.50V153.74M132.03,149.50H135.41M132.03,153.74H135.85M137.54,156.21V157.29M137.54,156.21H140.80M137.54,157.29H140.80M136.89,156.75V158.38M136.89,156.75H137.54M136.89,158.38H140.80M136.03,157.56V159.46M136.03,157.56H136.89M136.03,159.46H140.80M112.00,155.70H122.50M122.50,151.62V158.51M122.50,151.62H132.03M122.50,158.51H136.03M137.55,161.49V162.48M137.55,161.49H140.80M137.55,162.48H140.80M136.95,161.99V163.48M136.95,161.99H137.55M136.95,163.48H140.80M136.35,160.50V162.73M136.35,160.50H140.80M136.35,162.73H136.95M137.59,164.47V165.46M137.59,164.47H140.80M137.59,165.46H140.80M136.75,164.97V166.46M136.75,164.97H137.59M136.75,166.46H140.80M134.35,161.61V165.71M134.35,161.61H136.35M134.35,165.71H136.75M138.33,169.44V170.43M138.33,169.44H140.80M138.33,170.43H140.80M137.73,168.44V169.93M137.73,168.44H140.80M137.73,169.93H138.33M137.13,167.45V169.19M137.13,167.45H140.80M137.13,169.19H137.73M136.53,168.32V171.42M136.53,168.32H137.13M136.53,171.42H140.80M133.59,163.66V169.87M133.59,163.66H134.35M133.59,169.87H136.53M132.99,166.77V172.42M132.99,166.77H133.59M132.99,172.42H140.80M137.88,174.44V175.47M137.88,174.44H140.80M137.88,175.47H140.80M137.20,173.42V174.96M137.20,173.42H140.80M137.20,174.96H137.88M136.60,174.19V176.49M136.60,174.19H137.20M136.60,176.49H140.80M112.50,171.00H119.30M119.30,169.59V175.34M119.30,169.59H132.99M119.30,175.34H136.60M137.93,177.53V178.59M137.93,177.53H140.80M137.93,178.59H140.80M137.15,178.06V179.66M137.15,178.06H137.93M137.15,179.66H140.80M137.18,180.72V181.78M137.18,180.72H140.80M137.18,181.78H140.80M135.65,178.86V181.25M135.65,178.86H137.15M135.65,181.25H137.18M135.04,180.06V182.84M135.04,180.06H135.65M135.04,182.84H140.80M138.24,184.92V185.95M138.24,184.92H140.80M138.24,185.95H140.80M137.64,185.44V186.98M137.64,185.44H138.24M137.64,186.98H140.80M136.66,183.89V186.21M136.66,183.89H140.80M136.66,186.21H137.64M112.50,185.80H121.00M121.00,181.45V185.80M121.00,181.45H135.04M121.00,185.05H136.66M138.39,190.04V191.06M138.39,190.04H140.80M138.39,191.06H140.80M137.79,189.03V190.55M137.79,189.03H140.80M137.79,190.55H138.39M136.86,189.79V192.08M136.86,189.79H137.79M136.86,192.08H140.80M136.26,188.01V190.93M136.26,188.01H140.80M136.26,190.93H136.86M135.50,189.47V193.09M135.50,189.47H136.26M135.50,193.09H140.80M137.94,195.13V196.15M137.94,195.13H140.80M137.94,196.15H140.80M137.34,194.11V195.64M137.34,194.11H140.80M137.34,195.64H137.94M136.11,194.88V197.16M136.11,194.88H137.34M136.11,197.16H140.80M135.51,196.02V198.18M135.51,196.02H136.11M135.51,198.18H140.80M134.21,197.10V199.20M134.21,197.10H135.51M134.21,199.20H140.80M133.61,191.28V198.15M133.61,191.28H135.50M133.61,198.15H134.21M137.90,201.23V202.25M137.90,201.23H140.80M137.90,202.25H140.80M137.05,200.22V201.74M137.05,200.22H140.80M137.05,201.74H137.90M137.94,204.28V205.30M137.94,204.28H140.80M137.94,205.30H140.80M137.34,203.27V204.79M137.34,203.27H140.80M137.34,204.79H137.94M135.31,200.98V204.03M135.31,200.98H137.05M135.31,204.03H137.34M134.71,202.50V206.32M134.71,202.50H135.31M134.71,206.32H140.80M137.79,207.34V208.35M137.79,207.34H140.80M137.79,208.35H140.80M138.20,209.37V210.39M138.20,209.37H140.80M138.20,210.39H140.80M135.86,207.84V209.88M135.86,207.84H137.79M135.86,209.88H138.20M133.31,204.41V208.86M133.31,204.41H134.71M133.31,208.86H135.86M130.22,194.72V206.64M130.22,194.72H133.61M130.22,206.64H133.31M137.58,211.41V212.42M137.58,211.41H140.80M137.58,212.42H140.80M136.98,211.91V213.44M136.98,211.91H137.58M136.98,213.44H140.80M137.32,214.46V215.47M137.32,214.46H140.80M137.32,215.47H140.80M136.38,212.68V214.97M136.38,212.68H136.98M136.38,214.97H137.32M129.62,200.68V213.82M129.62,200.68H130.22M129.62,213.82H136.38M138.18,217.48V218.49M138.18,217.48H140.80M138.18,218.49H140.80M137.58,216.48V217.99M137.58,216.48H140.80M137.58,217.99H138.18M138.46,221.49V222.49M138.46,221.49H140.80M138.46,222.49H140.80M137.86,221.99V223.49M137.86,221.99H138.46M137.86,223.49H140.80M138.46,225.50V226.50M138.46,225.50H140.80M138.46,226.50H140.80M137.86,224.49V226.00M137.86,224.49H140.80M137.86,226.00H138.46M137.26,222.74V225.25M137.26,222.74H137.86M137.26,225.25H137.86M136.66,220.49V223.99M136.66,220.49H140.80M136.66,223.99H137.26M136.06,222.24V227.50M136.06,222.24H136.66M136.06,227.50H140.80M135.46,219.49V224.87M135.46,219.49H140.80M135.46,224.87H136.06M134.86,222.18V228.50M134.86,222.18H135.46M134.86,228.50H140.80M131.70,217.23V225.34M131.70,217.23H137.58M131.70,225.34H134.86M50.50,222.40H124.30M124.30,207.25V222.40M124.30,207.25H129.62M124.30,221.29H131.70M137.75,232.53V233.53M137.75,232.53H140.80M137.75,233.53H140.80M137.15,231.52V233.03M137.15,231.52H140.80M137.15,233.03H137.75M136.55,230.51V232.27M136.55,230.51H140.80M136.55,232.27H137.15M135.95,229.50V231.39M135.95,229.50H140.80M135.95,231.39H136.55M135.35,230.45V234.54M135.35,230.45H135.95M135.35,234.54H140.80M138.20,238.57V239.58M138.20,238.57H140.80M138.20,239.58H140.80M136.83,237.56V239.07M136.83,237.56H140.80M136.83,239.07H138.20M137.20,242.60V243.61M137.20,242.60H140.80M137.20,243.61H140.80M136.60,243.10V244.62M136.60,243.10H137.20M136.60,244.62H140.80M138.14,245.62V246.63M138.14,245.62H140.80M138.14,246.63H140.80M137.89,247.64V248.65M137.89,247.64H140.80M137.89,248.65H140.80M136.60,246.13V248.14M136.60,246.13H138.14M136.60,248.14H137.89M136.00,243.86V247.13M136.00,243.86H136.60M136.00,247.13H136.60M135.29,241.59V245.50M135.29,241.59H140.80M135.29,245.50H136.00M134.57,240.59V243.55M134.57,240.59H140.80M134.57,243.55H135.29M133.97,238.32V242.07M133.97,238.32H136.83M133.97,242.07H134.57M138.00,249.65V250.66M138.00,249.65H140.80M138.00,250.66H140.80M133.37,240.19V250.16M133.37,240.19H133.97M133.37,250.16H138.00M132.77,236.56V245.18M132.77,236.56H140.80M132.77,245.18H133.37M137.48,251.67V252.68M137.48,251.67H140.80M137.48,252.68H140.80M132.17,240.87V252.17M132.17,240.87H132.77M132.17,252.17H137.48M138.39,254.69V255.70M138.39,254.69H140.80M138.39,255.70H140.80M136.32,253.68V255.19M136.32,253.68H140.80M136.32,255.19H138.39M131.57,246.52V254.44M131.57,246.52H132.17M131.57,254.44H136.32M130.97,235.55V250.48M130.97,235.55H140.80M130.97,250.48H131.57M130.37,232.49V243.01M130.37,232.49H135.35M130.37,243.01H130.97M138.09,257.68V258.67M138.09,257.68H140.80M138.09,258.67H140.80M137.03,256.70V258.18M137.03,256.70H140.80M137.03,258.18H138.09M137.91,260.65V261.64M137.91,260.65H140.80M137.91,261.64H140.80M137.31,261.14V262.62M137.31,261.14H137.91M137.31,262.62H140.80M136.37,261.88V263.61M136.37,261.88H137.31M136.37,263.61H140.80M139.04,267.57V268.55M139.04,267.57H140.80M139.04,268.55H140.80M138.44,266.58V268.06M138.44,266.58H140.80M138.44,268.06H139.04M137.84,265.59V267.32M137.84,265.59H140.80M137.84,267.32H138.44M137.24,266.45V269.54M137.24,266.45H137.84M137.24,269.54H140.80M136.64,268.00V270.53M136.64,268.00H137.24M136.64,270.53H140.80M136.04,264.60V269.26M136.04,264.60H140.80M136.04,269.26H136.64M134.80,262.75V266.93M134.80,262.75H136.37M134.80,266.93H136.04M134.20,259.66V264.84M134.20,259.66H140.80M134.20,264.84H134.80M133.60,257.44V262.25M133.60,257.44H137.03M133.60,262.25H134.20M138.09,271.52V272.51M138.09,271.52H140.80M138.09,272.51H140.80M133.00,259.84V272.01M133.00,259.84H133.60M133.00,272.01H138.09M100.10,261.80H116.40M116.40,237.75V265.93M116.40,237.75H130.37M116.40,265.93H133.00M137.46,274.50V275.50M137.46,274.50H140.80M137.46,275.50H140.80M137.84,276.49V277.49M137.84,276.49H140.80M137.84,277.49H140.80M136.86,275.00V276.99M136.86,275.00H137.46M136.86,276.99H137.84M136.26,273.50V276.00M136.26,273.50H140.80M136.26,276.00H136.86M138.06,278.46V279.40M138.06,278.46H140.80M138.06,279.40H140.80M136.29,278.93V280.33M136.29,278.93H138.06M136.29,280.33H140.80M100.10,280.20H122.00M122.00,274.75V280.20M122.00,274.75H136.26M122.00,279.63H136.29" fill="none" stroke="#000" stroke-width="0.9"/><rect x="139.4" y="111" width="2" height="169.8" fill="#000"/>
<text x="344.9" y="17.6" font-family="Liberation Serif" font-size="24" letter-spacing="2.2">B.</text>
<path d="M390.4,53 V279 H679" fill="none" stroke="#222" stroke-width="1.1"/>
<line x1="386.5" y1="55" x2="390.4" y2="55" stroke="#222" stroke-width="0.9"/>
<text x="385.6" y="58.3" font-size="9.3" text-anchor="end" fill="#444">40</text>
<line x1="386.5" y1="82.6" x2="390.4" y2="82.6" stroke="#222" stroke-width="0.9"/>
<text x="385.6" y="85.9" font-size="9.3" text-anchor="end" fill="#444">20</text>
<line x1="386.5" y1="111.7" x2="390.4" y2="111.7" stroke="#222" stroke-width="0.9"/>
<text x="385.6" y="115.0" font-size="9.3" text-anchor="end" fill="#444">10</text>
<line x1="386.5" y1="151" x2="390.4" y2="151" stroke="#222" stroke-width="0.9"/>
<text x="385.6" y="154.3" font-size="9.3" text-anchor="end" fill="#444">5</text>
<line x1="386.5" y1="267.6" x2="390.4" y2="267.6" stroke="#222" stroke-width="0.9"/>
<text x="385.6" y="270.9" font-size="9.3" text-anchor="end" fill="#444">0</text>
<line x1="390.8" y1="279" x2="390.8" y2="282.3" stroke="#222" stroke-width="0.9"/>
<text x="390.8" y="294.4" font-size="9.4" text-anchor="middle" fill="#444">−6</text>
<line x1="462.6" y1="279" x2="462.6" y2="282.3" stroke="#222" stroke-width="0.9"/>
<text x="462.6" y="294.4" font-size="9.4" text-anchor="middle" fill="#444">−3</text>
<line x1="534.4" y1="279" x2="534.4" y2="282.3" stroke="#222" stroke-width="0.9"/>
<text x="534.4" y="294.4" font-size="9.4" text-anchor="middle" fill="#444">0</text>
<line x1="606.2" y1="279" x2="606.2" y2="282.3" stroke="#222" stroke-width="0.9"/>
<text x="606.2" y="294.4" font-size="9.4" text-anchor="middle" fill="#444">3</text>
<line x1="677.8" y1="279" x2="677.8" y2="282.3" stroke="#222" stroke-width="0.9"/>
<text x="677.8" y="294.4" font-size="9.4" text-anchor="middle" fill="#444">6</text>
<text x="536.6" y="309.5" font-size="10.3" text-anchor="middle" fill="#222">fold change</text>
<text transform="translate(371.2,148.2) rotate(-90)" font-size="10.4" text-anchor="middle" fill="#222">-log10 p-value</text>
<path d="M498.0,190.0 L504.0,214.0 L535.5,264.8 L537.6,266.6 L538.2,262.0 L533.4,247.8 L526.7,225.2 L518.4,199.6 L515.5,186.0 L508.0,180.0 Z" fill="#8a8a8a"/>
<path d="M536.6,266.6 L539.5,261.0 L543.2,240.3 L555.3,220.7 L563.0,214.7 L563.0,178.0 L559.0,174.0 L555.0,192.0 L551.5,207.0 L544.8,225.2 L537.6,258.0 Z" fill="#8a8a8a"/>
<path d="M446.0,84.0 L452.5,87.3 L458.7,90.5 L463.3,93.8 L467.9,97.0 L472.2,100.3 L474.8,103.6 L477.3,106.8 L479.8,110.1 L482.2,113.4 L484.2,116.6 L486.2,119.9 L488.1,123.2 L489.8,126.4 L491.3,129.7 L492.7,132.9 L494.2,136.2 L495.7,139.5 L497.1,142.7 L498.6,146.0 L499.9,149.2 L501.2,152.5 L502.5,155.8 L503.8,159.0 L505.1,162.3 L506.4,165.6 L507.7,168.8 L508.7,172.1 L509.7,175.3 L510.7,178.6 L511.7,181.9 L512.6,185.1 L513.6,188.4 L514.4,191.7 L514.6,194.9 L514.7,198.2 L514.8,201.4 L514.9,204.7 L515.1,208.0 L515.2,211.2 L515.3,214.5 L507.3,214.5 L505.3,211.2 L503.3,208.0 L501.3,204.7 L499.5,201.4 L498.6,198.2 L497.7,194.9 L496.8,191.7 L495.3,188.4 L493.5,185.1 L491.8,181.9 L490.4,178.6 L489.4,175.3 L488.4,172.1 L487.4,168.8 L486.1,165.6 L484.7,162.3 L483.4,159.0 L482.2,155.8 L481.1,152.5 L480.0,149.2 L478.8,146.0 L477.5,142.7 L476.2,139.5 L474.9,136.2 L474.0,132.9 L473.2,129.7 L472.5,126.4 L472.6,123.2 L473.1,119.9 L473.5,116.6 L473.7,113.4 L473.1,110.1 L472.8,106.8 L473.0,103.6 L472.2,100.3 L467.9,97.0 L463.3,93.8 L458.7,90.5 L452.5,87.3 L446.0,84.0 Z" fill="#3d51a4"/><g fill="#3d51a4"><circle cx="472.0" cy="115.1" r="0.95"/><circle cx="470.7" cy="165.7" r="0.95"/><circle cx="475.8" cy="117.8" r="0.95"/><circle cx="511.2" cy="193.2" r="0.95"/><circle cx="488.1" cy="166.8" r="0.95"/><circle cx="493.5" cy="171.6" r="0.95"/><circle cx="478.4" cy="123.3" r="0.95"/><circle cx="487.0" cy="177.8" r="0.95"/><circle cx="471.4" cy="135.5" r="0.95"/><circle cx="510.4" cy="198.7" r="0.95"/><circle cx="511.1" cy="210.0" r="0.95"/><circle cx="485.7" cy="150.2" r="0.95"/><circle cx="480.6" cy="160.2" r="0.95"/><circle cx="511.2" cy="195.8" r="0.95"/><circle cx="502.8" cy="196.3" r="0.95"/><circle cx="495.7" cy="177.2" r="0.95"/><circle cx="466.9" cy="121.2" r="0.95"/><circle cx="476.2" cy="137.6" r="0.95"/><circle cx="513.8" cy="197.9" r="0.95"/><circle cx="485.5" cy="177.8" r="0.95"/><circle cx="498.3" cy="150.0" r="0.95"/><circle cx="494.7" cy="162.3" r="0.95"/><circle cx="468.7" cy="163.7" r="0.95"/><circle cx="481.1" cy="125.0" r="0.95"/><circle cx="483.1" cy="144.1" r="0.95"/><circle cx="490.1" cy="157.0" r="0.95"/><circle cx="488.7" cy="140.3" r="0.95"/><circle cx="515.1" cy="211.6" r="0.95"/><circle cx="465.7" cy="138.2" r="0.95"/><circle cx="494.9" cy="166.5" r="0.95"/><circle cx="490.1" cy="172.6" r="0.95"/><circle cx="440.3" cy="86.9" r="0.95"/><circle cx="478.2" cy="116.8" r="0.95"/><circle cx="478.4" cy="131.5" r="0.95"/><circle cx="487.6" cy="123.2" r="0.95"/><circle cx="497.9" cy="158.3" r="0.95"/><circle cx="503.8" cy="188.9" r="0.95"/><circle cx="501.1" cy="175.1" r="0.95"/><circle cx="510.8" cy="192.8" r="0.95"/><circle cx="480.5" cy="127.9" r="0.95"/><circle cx="478.8" cy="113.4" r="0.95"/><circle cx="507.6" cy="189.3" r="0.95"/><circle cx="506.1" cy="189.3" r="0.95"/><circle cx="468.3" cy="100.9" r="0.95"/><circle cx="481.9" cy="129.2" r="0.95"/><circle cx="486.3" cy="204.1" r="0.95"/><circle cx="495.8" cy="198.8" r="0.95"/><circle cx="500.9" cy="205.0" r="0.95"/><circle cx="499.6" cy="170.5" r="0.95"/><circle cx="477.2" cy="113.7" r="0.95"/><circle cx="498.4" cy="189.7" r="0.95"/><circle cx="505.0" cy="204.6" r="0.95"/><circle cx="468.0" cy="106.4" r="0.95"/><circle cx="486.7" cy="138.0" r="0.95"/><circle cx="469.5" cy="116.9" r="0.95"/><circle cx="472.9" cy="129.9" r="0.95"/><circle cx="463.2" cy="106.4" r="0.95"/><circle cx="495.4" cy="191.5" r="0.95"/><circle cx="451.3" cy="90.5" r="0.95"/><circle cx="495.5" cy="139.2" r="0.95"/><circle cx="445.2" cy="91.2" r="0.95"/><circle cx="509.0" cy="211.2" r="0.95"/><circle cx="475.5" cy="125.2" r="0.95"/><circle cx="496.0" cy="160.6" r="0.95"/><circle cx="466.0" cy="100.2" r="0.95"/><circle cx="455.2" cy="94.4" r="0.95"/><circle cx="498.2" cy="186.1" r="0.95"/><circle cx="478.9" cy="140.3" r="0.95"/><circle cx="489.4" cy="138.9" r="0.95"/><circle cx="473.4" cy="153.9" r="0.95"/><circle cx="486.6" cy="139.6" r="0.95"/><circle cx="505.9" cy="201.2" r="0.95"/><circle cx="491.2" cy="170.4" r="0.95"/><circle cx="496.1" cy="179.8" r="0.95"/><circle cx="446.8" cy="84.6" r="0.95"/><circle cx="463.6" cy="96.0" r="0.95"/><circle cx="493.9" cy="171.9" r="0.95"/><circle cx="501.8" cy="188.2" r="0.95"/><circle cx="486.5" cy="177.3" r="0.95"/><circle cx="448.8" cy="92.0" r="0.95"/><circle cx="472.0" cy="115.6" r="0.95"/><circle cx="502.0" cy="182.3" r="0.95"/><circle cx="465.2" cy="129.7" r="0.95"/><circle cx="513.2" cy="211.0" r="0.95"/><circle cx="496.2" cy="174.2" r="0.95"/><circle cx="495.4" cy="147.1" r="0.95"/><circle cx="502.1" cy="203.6" r="0.95"/><circle cx="468.3" cy="108.3" r="0.95"/><circle cx="468.9" cy="125.1" r="0.95"/><circle cx="470.2" cy="122.6" r="0.95"/><circle cx="503.7" cy="160.3" r="0.95"/><circle cx="489.9" cy="146.6" r="0.95"/><circle cx="468.3" cy="126.0" r="0.95"/><circle cx="478.2" cy="146.6" r="0.95"/><circle cx="498.5" cy="191.2" r="0.95"/><circle cx="494.6" cy="195.8" r="0.95"/><circle cx="480.4" cy="145.0" r="0.95"/><circle cx="502.6" cy="172.1" r="0.95"/><circle cx="466.5" cy="108.7" r="0.95"/><circle cx="496.7" cy="196.0" r="0.95"/><circle cx="487.3" cy="124.9" r="0.95"/><circle cx="473.7" cy="122.1" r="0.95"/><circle cx="442.6" cy="84.9" r="0.95"/><circle cx="473.8" cy="111.4" r="0.95"/><circle cx="485.4" cy="155.0" r="0.95"/><circle cx="507.9" cy="202.6" r="0.95"/><circle cx="496.3" cy="184.8" r="0.95"/><circle cx="488.7" cy="169.4" r="0.95"/><circle cx="513.6" cy="209.5" r="0.95"/><circle cx="482.7" cy="148.5" r="0.95"/><circle cx="487.3" cy="157.9" r="0.95"/><circle cx="504.4" cy="169.5" r="0.95"/><circle cx="478.0" cy="127.3" r="0.95"/><circle cx="503.1" cy="168.5" r="0.95"/><circle cx="503.0" cy="182.5" r="0.95"/><circle cx="484.6" cy="118.7" r="0.95"/><circle cx="491.3" cy="149.9" r="0.95"/><circle cx="473.3" cy="127.4" r="0.95"/><circle cx="467.2" cy="130.1" r="0.95"/><circle cx="456.6" cy="97.0" r="0.95"/><circle cx="465.4" cy="108.1" r="0.95"/><circle cx="511.0" cy="190.5" r="0.95"/><circle cx="480.4" cy="136.0" r="0.95"/><circle cx="479.4" cy="110.4" r="0.95"/><circle cx="505.0" cy="188.8" r="0.95"/><circle cx="477.9" cy="156.1" r="0.95"/><circle cx="496.9" cy="173.6" r="0.95"/><circle cx="471.4" cy="162.5" r="0.95"/><circle cx="496.5" cy="170.4" r="0.95"/><circle cx="459.0" cy="109.2" r="0.95"/><circle cx="483.1" cy="168.3" r="0.95"/><circle cx="502.6" cy="200.4" r="0.95"/><circle cx="457.7" cy="90.6" r="0.95"/><circle cx="480.0" cy="154.3" r="0.95"/><circle cx="494.2" cy="174.7" r="0.95"/><circle cx="509.1" cy="205.0" r="0.95"/><circle cx="504.0" cy="189.3" r="0.95"/><circle cx="510.9" cy="182.8" r="0.95"/><circle cx="446.7" cy="94.2" r="0.95"/><circle cx="493.2" cy="175.3" r="0.95"/><circle cx="480.1" cy="123.8" r="0.95"/><circle cx="497.0" cy="177.9" r="0.95"/><circle cx="478.1" cy="161.8" r="0.95"/><circle cx="508.4" cy="186.2" r="0.95"/><circle cx="477.7" cy="111.3" r="0.95"/><circle cx="438.9" cy="87.6" r="0.95"/><circle cx="454.7" cy="91.8" r="0.95"/><circle cx="499.8" cy="175.8" r="0.95"/><circle cx="478.7" cy="112.6" r="0.95"/><circle cx="505.0" cy="165.2" r="0.95"/><circle cx="499.0" cy="179.0" r="0.95"/><circle cx="510.6" cy="205.7" r="0.95"/><circle cx="512.1" cy="190.3" r="0.95"/><circle cx="508.9" cy="173.1" r="0.95"/><circle cx="441.2" cy="88.0" r="0.95"/><circle cx="505.7" cy="201.5" r="0.95"/><circle cx="513.0" cy="188.9" r="0.95"/><circle cx="486.7" cy="123.8" r="0.95"/><circle cx="464.8" cy="122.3" r="0.95"/><circle cx="486.5" cy="127.6" r="0.95"/><circle cx="497.3" cy="180.5" r="0.95"/><circle cx="511.0" cy="204.5" r="0.95"/><circle cx="508.8" cy="185.7" r="0.95"/><circle cx="500.7" cy="178.0" r="0.95"/><circle cx="498.7" cy="147.6" r="0.95"/><circle cx="495.7" cy="144.9" r="0.95"/><circle cx="466.9" cy="115.0" r="0.95"/><circle cx="499.8" cy="197.8" r="0.95"/><circle cx="465.9" cy="127.5" r="0.95"/><circle cx="513.5" cy="208.7" r="0.95"/><circle cx="471.4" cy="115.4" r="0.95"/><circle cx="479.7" cy="160.4" r="0.95"/><circle cx="467.8" cy="112.7" r="0.95"/><circle cx="500.6" cy="162.9" r="0.95"/><circle cx="475.6" cy="107.2" r="0.95"/><circle cx="452.8" cy="95.2" r="0.95"/><circle cx="483.7" cy="164.3" r="0.95"/><circle cx="488.5" cy="129.2" r="0.95"/><circle cx="510.0" cy="193.0" r="0.95"/><circle cx="500.0" cy="154.4" r="0.95"/><circle cx="464.6" cy="129.2" r="0.95"/><circle cx="495.7" cy="180.0" r="0.95"/><circle cx="475.2" cy="111.9" r="0.95"/><circle cx="492.0" cy="140.2" r="0.95"/><circle cx="498.7" cy="205.5" r="0.95"/><circle cx="495.1" cy="163.9" r="0.95"/><circle cx="507.8" cy="207.7" r="0.95"/><circle cx="490.5" cy="184.9" r="0.95"/><circle cx="485.6" cy="122.1" r="0.95"/><circle cx="494.3" cy="178.3" r="0.95"/><circle cx="471.5" cy="120.0" r="0.95"/><circle cx="504.1" cy="181.5" r="0.95"/><circle cx="476.4" cy="137.6" r="0.95"/><circle cx="487.4" cy="175.4" r="0.95"/><circle cx="481.8" cy="132.6" r="0.95"/><circle cx="479.8" cy="152.6" r="0.95"/><circle cx="470.6" cy="121.2" r="0.95"/><circle cx="487.7" cy="122.8" r="0.95"/><circle cx="470.2" cy="101.2" r="0.95"/><circle cx="452.2" cy="90.6" r="0.95"/><circle cx="514.8" cy="211.8" r="0.95"/><circle cx="472.4" cy="108.1" r="0.95"/><circle cx="454.5" cy="96.2" r="0.95"/><circle cx="468.0" cy="138.6" r="0.95"/><circle cx="486.0" cy="165.9" r="0.95"/><circle cx="469.1" cy="116.3" r="0.95"/><circle cx="493.4" cy="150.4" r="0.95"/><circle cx="461.4" cy="106.0" r="0.95"/><circle cx="497.4" cy="202.3" r="0.95"/><circle cx="502.5" cy="190.2" r="0.95"/><circle cx="460.0" cy="106.3" r="0.95"/><circle cx="490.8" cy="155.4" r="0.95"/><circle cx="510.2" cy="188.8" r="0.95"/><circle cx="471.1" cy="125.1" r="0.95"/><circle cx="513.8" cy="192.0" r="0.95"/><circle cx="496.7" cy="159.0" r="0.95"/><circle cx="493.1" cy="176.6" r="0.95"/><circle cx="470.1" cy="132.5" r="0.95"/><circle cx="502.8" cy="168.0" r="0.95"/><circle cx="486.8" cy="134.0" r="0.95"/><circle cx="509.3" cy="208.0" r="0.95"/><circle cx="467.0" cy="120.8" r="0.95"/><circle cx="462.9" cy="94.3" r="0.95"/><circle cx="485.4" cy="152.7" r="0.95"/><circle cx="492.9" cy="190.7" r="0.95"/><circle cx="458.4" cy="93.1" r="0.95"/><circle cx="478.1" cy="155.3" r="0.95"/><circle cx="507.3" cy="172.0" r="0.95"/><circle cx="491.9" cy="183.1" r="0.95"/><circle cx="503.9" cy="198.2" r="0.95"/><circle cx="469.8" cy="133.9" r="0.95"/><circle cx="484.1" cy="120.6" r="0.95"/><circle cx="467.7" cy="130.0" r="0.95"/><circle cx="511.1" cy="206.6" r="0.95"/><circle cx="475.6" cy="130.2" r="0.95"/><circle cx="473.2" cy="124.9" r="0.95"/><circle cx="500.2" cy="186.0" r="0.95"/><circle cx="491.8" cy="141.7" r="0.95"/><circle cx="500.3" cy="161.6" r="0.95"/><circle cx="511.5" cy="209.7" r="0.95"/><circle cx="472.8" cy="110.4" r="0.95"/><circle cx="485.3" cy="197.9" r="0.95"/><circle cx="501.2" cy="187.6" r="0.95"/><circle cx="501.6" cy="184.0" r="0.95"/><circle cx="466.0" cy="103.1" r="0.95"/><circle cx="478.6" cy="132.7" r="0.95"/><circle cx="505.3" cy="212.0" r="0.95"/><circle cx="471.3" cy="119.2" r="0.95"/><circle cx="469.2" cy="128.5" r="0.95"/><circle cx="475.8" cy="143.1" r="0.95"/><circle cx="508.3" cy="212.7" r="0.95"/><circle cx="450.9" cy="93.0" r="0.95"/><circle cx="488.2" cy="134.1" r="0.95"/><circle cx="480.5" cy="155.6" r="0.95"/><circle cx="497.3" cy="176.8" r="0.95"/><circle cx="473.1" cy="136.1" r="0.95"/><circle cx="494.9" cy="160.3" r="0.95"/><circle cx="478.2" cy="164.2" r="0.95"/><circle cx="468.2" cy="120.9" r="0.95"/><circle cx="480.6" cy="153.7" r="0.95"/><circle cx="512.7" cy="203.2" r="0.95"/><circle cx="497.0" cy="198.8" r="0.95"/><circle cx="474.9" cy="121.4" r="0.95"/><circle cx="465.0" cy="95.1" r="0.95"/><circle cx="506.0" cy="192.6" r="0.95"/><circle cx="484.0" cy="150.8" r="0.95"/><circle cx="479.5" cy="140.9" r="0.95"/><circle cx="450.0" cy="94.9" r="0.95"/><circle cx="455.5" cy="92.6" r="0.95"/><circle cx="506.7" cy="200.7" r="0.95"/><circle cx="494.2" cy="160.1" r="0.95"/><circle cx="474.5" cy="152.3" r="0.95"/><circle cx="491.2" cy="145.2" r="0.95"/><circle cx="512.8" cy="212.2" r="0.95"/><circle cx="463.8" cy="123.0" r="0.95"/><circle cx="483.0" cy="164.9" r="0.95"/><circle cx="513.3" cy="195.9" r="0.95"/><circle cx="474.9" cy="140.5" r="0.95"/><circle cx="479.2" cy="112.2" r="0.95"/><circle cx="511.5" cy="203.2" r="0.95"/><circle cx="491.9" cy="134.2" r="0.95"/><circle cx="488.2" cy="136.4" r="0.95"/><circle cx="483.1" cy="118.4" r="0.95"/><circle cx="477.4" cy="112.8" r="0.95"/><circle cx="494.2" cy="175.3" r="0.95"/><circle cx="468.1" cy="106.9" r="0.95"/><circle cx="503.6" cy="162.0" r="0.95"/><circle cx="499.5" cy="186.7" r="0.95"/><circle cx="481.3" cy="119.0" r="0.95"/><circle cx="492.1" cy="190.7" r="0.95"/><circle cx="490.6" cy="147.0" r="0.95"/><circle cx="497.6" cy="179.6" r="0.95"/><circle cx="496.4" cy="195.0" r="0.95"/><circle cx="476.8" cy="142.3" r="0.95"/><circle cx="470.3" cy="110.5" r="0.95"/><circle cx="477.1" cy="123.5" r="0.95"/><circle cx="512.0" cy="213.0" r="0.95"/><circle cx="496.7" cy="179.9" r="0.95"/><circle cx="476.9" cy="116.6" r="0.95"/><circle cx="458.3" cy="98.3" r="0.95"/><circle cx="470.1" cy="106.5" r="0.95"/><circle cx="474.7" cy="159.2" r="0.95"/><circle cx="478.2" cy="110.3" r="0.95"/><circle cx="488.9" cy="154.1" r="0.95"/><circle cx="486.5" cy="135.8" r="0.95"/><circle cx="507.6" cy="206.9" r="0.95"/><circle cx="491.6" cy="140.6" r="0.95"/><circle cx="497.9" cy="158.6" r="0.95"/><circle cx="505.0" cy="212.6" r="0.95"/><circle cx="487.5" cy="181.9" r="0.95"/><circle cx="475.4" cy="126.6" r="0.95"/><circle cx="468.6" cy="119.2" r="0.95"/><circle cx="500.7" cy="181.2" r="0.95"/><circle cx="500.4" cy="189.0" r="0.95"/><circle cx="478.2" cy="134.6" r="0.95"/><circle cx="464.0" cy="111.6" r="0.95"/><circle cx="513.6" cy="194.6" r="0.95"/><circle cx="497.7" cy="156.6" r="0.95"/><circle cx="507.5" cy="180.5" r="0.95"/><circle cx="498.1" cy="155.0" r="0.95"/><circle cx="471.2" cy="101.9" r="0.95"/><circle cx="443.7" cy="84.9" r="0.95"/><circle cx="491.0" cy="143.5" r="0.95"/><circle cx="492.0" cy="175.5" r="0.95"/><circle cx="471.3" cy="106.3" r="0.95"/><circle cx="510.2" cy="210.7" r="0.95"/><circle cx="506.4" cy="189.1" r="0.95"/><circle cx="475.9" cy="113.3" r="0.95"/><circle cx="462.8" cy="114.0" r="0.95"/><circle cx="496.3" cy="158.8" r="0.95"/><circle cx="450.1" cy="87.2" r="0.95"/><circle cx="488.2" cy="158.3" r="0.95"/><circle cx="497.4" cy="170.4" r="0.95"/><circle cx="478.3" cy="124.2" r="0.95"/><circle cx="501.0" cy="160.0" r="0.95"/><circle cx="505.3" cy="214.4" r="0.95"/><circle cx="467.9" cy="99.9" r="0.95"/><circle cx="495.4" cy="204.7" r="0.95"/><circle cx="500.9" cy="197.4" r="0.95"/><circle cx="482.1" cy="123.8" r="0.95"/><circle cx="444.8" cy="101.3" r="0.95"/><circle cx="469.7" cy="109.0" r="0.95"/><circle cx="510.4" cy="184.3" r="0.95"/><circle cx="508.5" cy="171.9" r="0.95"/><circle cx="505.4" cy="204.9" r="0.95"/><circle cx="493.0" cy="135.0" r="0.95"/><circle cx="478.7" cy="123.9" r="0.95"/><circle cx="470.4" cy="117.5" r="0.95"/><circle cx="510.3" cy="208.9" r="0.95"/><circle cx="451.5" cy="91.6" r="0.95"/><circle cx="464.0" cy="115.5" r="0.95"/><circle cx="485.9" cy="149.4" r="0.95"/><circle cx="462.0" cy="128.4" r="0.95"/><circle cx="504.9" cy="182.0" r="0.95"/><circle cx="470.9" cy="112.6" r="0.95"/><circle cx="487.8" cy="167.8" r="0.95"/><circle cx="488.1" cy="146.4" r="0.95"/><circle cx="467.2" cy="110.1" r="0.95"/><circle cx="500.5" cy="203.4" r="0.95"/><circle cx="490.5" cy="177.0" r="0.95"/><circle cx="496.6" cy="201.4" r="0.95"/><circle cx="478.7" cy="122.2" r="0.95"/><circle cx="467.3" cy="102.9" r="0.95"/><circle cx="483.8" cy="125.2" r="0.95"/><circle cx="483.3" cy="125.4" r="0.95"/><circle cx="479.4" cy="115.8" r="0.95"/><circle cx="510.7" cy="201.6" r="0.95"/><circle cx="489.3" cy="154.8" r="0.95"/><circle cx="472.4" cy="122.9" r="0.95"/><circle cx="509.9" cy="191.0" r="0.95"/><circle cx="512.6" cy="202.1" r="0.95"/><circle cx="489.3" cy="139.7" r="0.95"/><circle cx="468.4" cy="121.6" r="0.95"/><circle cx="457.1" cy="124.6" r="0.95"/><circle cx="479.8" cy="136.0" r="0.95"/><circle cx="483.8" cy="116.8" r="0.95"/><circle cx="508.0" cy="197.7" r="0.95"/><circle cx="464.0" cy="98.9" r="0.95"/><circle cx="473.2" cy="127.6" r="0.95"/><circle cx="493.5" cy="141.1" r="0.95"/><circle cx="477.9" cy="146.5" r="0.95"/><circle cx="492.5" cy="133.0" r="0.95"/><circle cx="490.8" cy="155.1" r="0.95"/><circle cx="474.2" cy="145.7" r="0.95"/><circle cx="475.9" cy="106.8" r="0.95"/><circle cx="479.9" cy="154.6" r="0.95"/><circle cx="513.9" cy="211.9" r="0.95"/><circle cx="492.2" cy="182.5" r="0.95"/><circle cx="509.8" cy="214.4" r="0.95"/><circle cx="462.0" cy="95.9" r="0.95"/><circle cx="490.0" cy="170.4" r="0.95"/><circle cx="503.2" cy="206.3" r="0.95"/><circle cx="505.8" cy="164.9" r="0.95"/><circle cx="475.2" cy="109.0" r="0.95"/><circle cx="493.1" cy="160.6" r="0.95"/><circle cx="482.8" cy="152.1" r="0.95"/><circle cx="508.2" cy="188.4" r="0.95"/><circle cx="479.4" cy="141.2" r="0.95"/><circle cx="472.8" cy="125.5" r="0.95"/><circle cx="472.8" cy="122.6" r="0.95"/><circle cx="493.9" cy="161.5" r="0.95"/><circle cx="470.7" cy="112.3" r="0.95"/><circle cx="481.5" cy="131.6" r="0.95"/><circle cx="495.6" cy="170.2" r="0.95"/><circle cx="496.3" cy="152.3" r="0.95"/><circle cx="511.3" cy="186.5" r="0.95"/><circle cx="494.1" cy="147.3" r="0.95"/><circle cx="474.0" cy="118.2" r="0.95"/><circle cx="429.1" cy="84.1" r="0.95"/><circle cx="481.2" cy="143.4" r="0.95"/><circle cx="488.8" cy="190.1" r="0.95"/><circle cx="491.4" cy="147.8" r="0.95"/><circle cx="477.4" cy="122.3" r="0.95"/><circle cx="513.3" cy="196.1" r="0.95"/><circle cx="493.9" cy="156.2" r="0.95"/><circle cx="437.0" cy="84.9" r="0.95"/><circle cx="499.6" cy="195.1" r="0.95"/><circle cx="501.1" cy="166.8" r="0.95"/><circle cx="512.7" cy="214.2" r="0.95"/><circle cx="511.5" cy="196.5" r="0.95"/><circle cx="457.8" cy="139.9" r="0.95"/><circle cx="501.3" cy="193.8" r="0.95"/><circle cx="513.7" cy="211.2" r="0.95"/><circle cx="455.4" cy="107.5" r="0.95"/><circle cx="477.5" cy="135.7" r="0.95"/><circle cx="506.7" cy="194.3" r="0.95"/><circle cx="477.9" cy="140.0" r="0.95"/><circle cx="506.5" cy="205.2" r="0.95"/><circle cx="502.8" cy="181.7" r="0.95"/><circle cx="505.9" cy="164.2" r="0.95"/><circle cx="493.2" cy="168.7" r="0.95"/><circle cx="484.0" cy="145.9" r="0.95"/><circle cx="497.9" cy="197.7" r="0.95"/><circle cx="506.0" cy="192.8" r="0.95"/><circle cx="467.0" cy="110.9" r="0.95"/><circle cx="496.1" cy="159.0" r="0.95"/><circle cx="504.2" cy="202.0" r="0.95"/><circle cx="489.3" cy="140.8" r="0.95"/><circle cx="511.9" cy="211.8" r="0.95"/><circle cx="467.8" cy="109.3" r="0.95"/><circle cx="474.5" cy="111.9" r="0.95"/><circle cx="485.4" cy="160.9" r="0.95"/><circle cx="504.2" cy="212.2" r="0.95"/><circle cx="507.2" cy="169.7" r="0.95"/><circle cx="506.1" cy="187.4" r="0.95"/><circle cx="499.6" cy="164.8" r="0.95"/><circle cx="502.6" cy="205.6" r="0.95"/><circle cx="472.9" cy="134.2" r="0.95"/><circle cx="492.3" cy="183.7" r="0.95"/><circle cx="477.3" cy="147.7" r="0.95"/><circle cx="497.3" cy="165.5" r="0.95"/><circle cx="496.1" cy="201.1" r="0.95"/><circle cx="460.9" cy="93.3" r="0.95"/><circle cx="493.4" cy="155.0" r="0.95"/><circle cx="496.6" cy="182.9" r="0.95"/><circle cx="468.7" cy="126.1" r="0.95"/><circle cx="438.4" cy="84.2" r="0.95"/><circle cx="476.9" cy="110.2" r="0.95"/><circle cx="505.2" cy="211.5" r="0.95"/><circle cx="476.6" cy="111.0" r="0.95"/><circle cx="498.1" cy="157.2" r="0.95"/><circle cx="475.2" cy="142.0" r="0.95"/><circle cx="483.9" cy="149.3" r="0.95"/><circle cx="457.4" cy="120.2" r="0.95"/><circle cx="504.5" cy="165.2" r="0.95"/><circle cx="459.5" cy="106.5" r="0.95"/><circle cx="493.1" cy="186.1" r="0.95"/><circle cx="488.6" cy="156.4" r="0.95"/><circle cx="469.8" cy="139.6" r="0.95"/><circle cx="483.6" cy="144.1" r="0.95"/><circle cx="488.9" cy="180.6" r="0.95"/><circle cx="503.9" cy="209.0" r="0.95"/><circle cx="503.0" cy="200.1" r="0.95"/><circle cx="458.7" cy="98.9" r="0.95"/><circle cx="465.5" cy="114.9" r="0.95"/><circle cx="477.7" cy="145.4" r="0.95"/><circle cx="496.7" cy="161.3" r="0.95"/><circle cx="446.4" cy="92.9" r="0.95"/><circle cx="488.4" cy="176.6" r="0.95"/><circle cx="508.8" cy="191.3" r="0.95"/><circle cx="463.0" cy="104.4" r="0.95"/><circle cx="476.0" cy="125.8" r="0.95"/><circle cx="471.7" cy="104.3" r="0.95"/><circle cx="484.1" cy="171.6" r="0.95"/><circle cx="486.7" cy="164.2" r="0.95"/><circle cx="494.2" cy="173.1" r="0.95"/><circle cx="478.3" cy="144.5" r="0.95"/><circle cx="500.0" cy="190.0" r="0.95"/><circle cx="499.6" cy="206.5" r="0.95"/><circle cx="483.3" cy="132.6" r="0.95"/><circle cx="483.4" cy="141.2" r="0.95"/><circle cx="499.1" cy="187.1" r="0.95"/><circle cx="487.1" cy="181.0" r="0.95"/><circle cx="503.2" cy="163.6" r="0.95"/><circle cx="466.8" cy="114.2" r="0.95"/><circle cx="467.7" cy="105.2" r="0.95"/><circle cx="495.3" cy="176.8" r="0.95"/><circle cx="462.8" cy="121.7" r="0.95"/><circle cx="469.5" cy="108.5" r="0.95"/><circle cx="485.8" cy="163.9" r="0.95"/><circle cx="468.3" cy="104.1" r="0.95"/><circle cx="466.0" cy="97.7" r="0.95"/><circle cx="477.3" cy="132.7" r="0.95"/><circle cx="505.8" cy="207.8" r="0.95"/><circle cx="476.5" cy="124.4" r="0.95"/><circle cx="481.7" cy="148.0" r="0.95"/><circle cx="503.3" cy="211.7" r="0.95"/><circle cx="503.9" cy="159.8" r="0.95"/><circle cx="495.6" cy="194.8" r="0.95"/><circle cx="452.0" cy="101.8" r="0.95"/><circle cx="445.1" cy="96.4" r="0.95"/><circle cx="473.5" cy="116.2" r="0.95"/><circle cx="483.5" cy="137.9" r="0.95"/><circle cx="497.4" cy="196.5" r="0.95"/><circle cx="481.3" cy="125.2" r="0.95"/><circle cx="480.6" cy="127.4" r="0.95"/><circle cx="471.3" cy="128.7" r="0.95"/><circle cx="464.4" cy="101.0" r="0.95"/><circle cx="479.6" cy="149.6" r="0.95"/><circle cx="497.2" cy="201.0" r="0.95"/><circle cx="465.3" cy="110.3" r="0.95"/><circle cx="499.7" cy="158.7" r="0.95"/><circle cx="474.0" cy="128.8" r="0.95"/><circle cx="471.8" cy="136.2" r="0.95"/><circle cx="453.6" cy="90.2" r="0.95"/><circle cx="467.5" cy="123.5" r="0.95"/><circle cx="510.5" cy="195.7" r="0.95"/><circle cx="494.8" cy="173.7" r="0.95"/><circle cx="480.9" cy="123.8" r="0.95"/><circle cx="496.8" cy="150.7" r="0.95"/><circle cx="470.2" cy="127.4" r="0.95"/><circle cx="479.2" cy="123.7" r="0.95"/><circle cx="466.7" cy="100.8" r="0.95"/><circle cx="493.7" cy="154.1" r="0.95"/><circle cx="498.4" cy="201.2" r="0.95"/><circle cx="500.9" cy="158.7" r="0.95"/><circle cx="459.5" cy="101.9" r="0.95"/><circle cx="485.2" cy="120.8" r="0.95"/><circle cx="447.5" cy="95.5" r="0.95"/><circle cx="501.5" cy="195.1" r="0.95"/><circle cx="500.1" cy="175.4" r="0.95"/><circle cx="493.8" cy="150.0" r="0.95"/><circle cx="513.3" cy="202.1" r="0.95"/><circle cx="465.7" cy="100.5" r="0.95"/><circle cx="478.0" cy="141.8" r="0.95"/><circle cx="478.6" cy="115.3" r="0.95"/><circle cx="474.3" cy="129.3" r="0.95"/><circle cx="489.7" cy="162.7" r="0.95"/><circle cx="497.3" cy="173.3" r="0.95"/><circle cx="483.0" cy="128.6" r="0.95"/><circle cx="467.4" cy="141.4" r="0.95"/><circle cx="479.0" cy="117.2" r="0.95"/><circle cx="508.3" cy="191.8" r="0.95"/><circle cx="445.9" cy="90.9" r="0.95"/><circle cx="502.7" cy="169.1" r="0.95"/><circle cx="465.8" cy="132.6" r="0.95"/><circle cx="486.0" cy="139.5" r="0.95"/><circle cx="489.1" cy="162.7" r="0.95"/><circle cx="456.6" cy="90.8" r="0.95"/><circle cx="480.4" cy="116.5" r="0.95"/><circle cx="479.8" cy="121.1" r="0.95"/><circle cx="476.7" cy="126.1" r="0.95"/><circle cx="451.1" cy="95.6" r="0.95"/><circle cx="509.5" cy="206.4" r="0.95"/><circle cx="496.6" cy="202.5" r="0.95"/><circle cx="481.0" cy="156.5" r="0.95"/><circle cx="503.2" cy="195.7" r="0.95"/><circle cx="483.0" cy="161.0" r="0.95"/><circle cx="504.2" cy="173.6" r="0.95"/><circle cx="499.7" cy="189.4" r="0.95"/><circle cx="477.1" cy="120.2" r="0.95"/><circle cx="498.7" cy="174.9" r="0.95"/><circle cx="485.7" cy="141.4" r="0.95"/><circle cx="465.7" cy="122.2" r="0.95"/><circle cx="495.8" cy="191.8" r="0.95"/><circle cx="475.9" cy="132.8" r="0.95"/><circle cx="459.0" cy="125.6" r="0.95"/><circle cx="473.1" cy="124.4" r="0.95"/><circle cx="473.3" cy="133.1" r="0.95"/><circle cx="490.3" cy="185.4" r="0.95"/><circle cx="465.3" cy="114.9" r="0.95"/><circle cx="510.0" cy="205.4" r="0.95"/><circle cx="510.2" cy="186.7" r="0.95"/><circle cx="506.7" cy="169.1" r="0.95"/><circle cx="454.9" cy="95.8" r="0.95"/><circle cx="507.3" cy="200.9" r="0.95"/><circle cx="503.0" cy="208.0" r="0.95"/><circle cx="499.2" cy="176.8" r="0.95"/><circle cx="440.9" cy="88.4" r="0.95"/><circle cx="502.2" cy="161.0" r="0.95"/><circle cx="470.2" cy="130.7" r="0.95"/><circle cx="439.2" cy="93.2" r="0.95"/><circle cx="506.7" cy="166.5" r="0.95"/><circle cx="507.1" cy="201.9" r="0.95"/><circle cx="505.2" cy="181.3" r="0.95"/><circle cx="501.6" cy="178.6" r="0.95"/><circle cx="482.0" cy="158.1" r="0.95"/><circle cx="485.1" cy="167.5" r="0.95"/><circle cx="499.1" cy="206.8" r="0.95"/><circle cx="499.5" cy="182.8" r="0.95"/><circle cx="476.7" cy="154.5" r="0.95"/><circle cx="468.8" cy="110.8" r="0.95"/><circle cx="470.4" cy="129.8" r="0.95"/><circle cx="498.5" cy="198.5" r="0.95"/><circle cx="488.0" cy="133.0" r="0.95"/><circle cx="503.9" cy="182.2" r="0.95"/><circle cx="470.2" cy="111.2" r="0.95"/><circle cx="491.5" cy="155.9" r="0.95"/><circle cx="495.9" cy="150.8" r="0.95"/><circle cx="507.9" cy="208.4" r="0.95"/><circle cx="476.1" cy="164.5" r="0.95"/><circle cx="507.6" cy="201.4" r="0.95"/><circle cx="513.1" cy="214.3" r="0.95"/><circle cx="503.3" cy="199.9" r="0.95"/><circle cx="481.1" cy="154.9" r="0.95"/><circle cx="475.5" cy="121.6" r="0.95"/><circle cx="443.8" cy="85.2" r="0.95"/><circle cx="512.2" cy="203.8" r="0.95"/><circle cx="478.5" cy="152.5" r="0.95"/><circle cx="483.5" cy="118.4" r="0.95"/><circle cx="457.8" cy="93.2" r="0.95"/><circle cx="509.0" cy="176.3" r="0.95"/><circle cx="487.3" cy="173.8" r="0.95"/><circle cx="502.2" cy="190.7" r="0.95"/><circle cx="464.1" cy="98.1" r="0.95"/><circle cx="478.9" cy="145.5" r="0.95"/><circle cx="472.4" cy="145.4" r="0.95"/><circle cx="474.4" cy="104.7" r="0.95"/><circle cx="506.3" cy="166.8" r="0.95"/><circle cx="489.6" cy="146.0" r="0.95"/><circle cx="496.1" cy="192.2" r="0.95"/><circle cx="466.4" cy="119.8" r="0.95"/><circle cx="485.6" cy="175.8" r="0.95"/><circle cx="509.0" cy="195.5" r="0.95"/><circle cx="505.4" cy="182.8" r="0.95"/><circle cx="496.1" cy="174.0" r="0.95"/><circle cx="490.6" cy="166.0" r="0.95"/><circle cx="508.0" cy="208.9" r="0.95"/><circle cx="499.8" cy="161.9" r="0.95"/><circle cx="489.0" cy="150.3" r="0.95"/><circle cx="473.1" cy="143.1" r="0.95"/><circle cx="502.9" cy="210.5" r="0.95"/><circle cx="439.1" cy="94.8" r="0.95"/><circle cx="463.3" cy="150.0" r="0.95"/><circle cx="509.2" cy="213.6" r="0.95"/><circle cx="485.8" cy="124.6" r="0.95"/><circle cx="457.4" cy="132.1" r="0.95"/><circle cx="505.0" cy="194.7" r="0.95"/><circle cx="489.2" cy="154.9" r="0.95"/><circle cx="502.4" cy="155.7" r="0.95"/><circle cx="479.3" cy="136.7" r="0.95"/><circle cx="471.3" cy="101.3" r="0.95"/><circle cx="478.8" cy="143.3" r="0.95"/><circle cx="498.5" cy="194.4" r="0.95"/><circle cx="486.1" cy="161.8" r="0.95"/><circle cx="491.3" cy="174.1" r="0.95"/><circle cx="484.3" cy="144.3" r="0.95"/><circle cx="486.5" cy="158.2" r="0.95"/><circle cx="459.8" cy="99.2" r="0.95"/><circle cx="495.7" cy="195.9" r="0.95"/><circle cx="463.0" cy="145.6" r="0.95"/><circle cx="478.2" cy="113.8" r="0.95"/><circle cx="479.9" cy="121.7" r="0.95"/><circle cx="502.7" cy="182.7" r="0.95"/><circle cx="498.9" cy="173.1" r="0.95"/><circle cx="472.9" cy="109.1" r="0.95"/><circle cx="485.5" cy="171.0" r="0.95"/><circle cx="505.2" cy="210.6" r="0.95"/><circle cx="470.3" cy="102.4" r="0.95"/><circle cx="446.0" cy="87.7" r="0.95"/><circle cx="494.0" cy="188.0" r="0.95"/><circle cx="511.4" cy="200.9" r="0.95"/><circle cx="480.0" cy="141.3" r="0.95"/><circle cx="494.3" cy="166.9" r="0.95"/><circle cx="487.3" cy="176.8" r="0.95"/><circle cx="495.6" cy="182.9" r="0.95"/><circle cx="474.8" cy="128.5" r="0.95"/><circle cx="509.8" cy="182.0" r="0.95"/><circle cx="483.1" cy="162.0" r="0.95"/><circle cx="513.6" cy="212.6" r="0.95"/><circle cx="500.0" cy="202.8" r="0.95"/><circle cx="484.3" cy="130.9" r="0.95"/><circle cx="482.1" cy="139.6" r="0.95"/><circle cx="492.7" cy="158.1" r="0.95"/><circle cx="500.1" cy="156.5" r="0.95"/><circle cx="463.0" cy="107.2" r="0.95"/><circle cx="484.2" cy="162.3" r="0.95"/><circle cx="482.9" cy="122.2" r="0.95"/><circle cx="486.5" cy="161.8" r="0.95"/><circle cx="480.9" cy="117.3" r="0.95"/><circle cx="504.6" cy="201.6" r="0.95"/><circle cx="457.6" cy="147.8" r="0.95"/><circle cx="472.0" cy="112.6" r="0.95"/><circle cx="497.5" cy="159.8" r="0.95"/><circle cx="482.3" cy="121.0" r="0.95"/><circle cx="458.3" cy="116.6" r="0.95"/><circle cx="493.0" cy="169.8" r="0.95"/><circle cx="459.0" cy="95.6" r="0.95"/><circle cx="493.8" cy="178.9" r="0.95"/><circle cx="502.9" cy="156.9" r="0.95"/><circle cx="489.0" cy="141.3" r="0.95"/><circle cx="472.0" cy="102.9" r="0.95"/><circle cx="478.8" cy="157.1" r="0.95"/><circle cx="454.8" cy="98.2" r="0.95"/><circle cx="496.4" cy="148.7" r="0.95"/><circle cx="492.0" cy="190.9" r="0.95"/><circle cx="498.1" cy="188.5" r="0.95"/><circle cx="491.8" cy="189.4" r="0.95"/><circle cx="502.3" cy="197.4" r="0.95"/><circle cx="481.6" cy="170.1" r="0.95"/><circle cx="473.4" cy="136.4" r="0.95"/><circle cx="473.5" cy="108.4" r="0.95"/><circle cx="497.7" cy="187.8" r="0.95"/><circle cx="476.6" cy="142.3" r="0.95"/><circle cx="471.8" cy="139.8" r="0.95"/><circle cx="513.9" cy="207.2" r="0.95"/><circle cx="511.1" cy="196.0" r="0.95"/><circle cx="491.8" cy="145.4" r="0.95"/><circle cx="475.1" cy="150.7" r="0.95"/><circle cx="492.3" cy="132.8" r="0.95"/><circle cx="479.4" cy="115.8" r="0.95"/><circle cx="515.0" cy="212.0" r="0.95"/><circle cx="482.9" cy="148.1" r="0.95"/><circle cx="495.9" cy="154.9" r="0.95"/><circle cx="470.9" cy="114.6" r="0.95"/><circle cx="463.7" cy="125.2" r="0.95"/><circle cx="491.1" cy="176.9" r="0.95"/><circle cx="491.9" cy="176.7" r="0.95"/><circle cx="499.1" cy="177.4" r="0.95"/><circle cx="502.6" cy="167.1" r="0.95"/><circle cx="448.8" cy="101.0" r="0.95"/><circle cx="489.6" cy="154.8" r="0.95"/><circle cx="475.2" cy="141.0" r="0.95"/><circle cx="510.9" cy="194.4" r="0.95"/><circle cx="481.6" cy="139.0" r="0.95"/><circle cx="474.5" cy="111.6" r="0.95"/><circle cx="489.3" cy="190.7" r="0.95"/><circle cx="478.0" cy="142.1" r="0.95"/><circle cx="513.3" cy="199.3" r="0.95"/><circle cx="461.3" cy="131.7" r="0.95"/><circle cx="481.1" cy="120.3" r="0.95"/><circle cx="490.5" cy="128.6" r="0.95"/><circle cx="476.4" cy="139.0" r="0.95"/><circle cx="478.2" cy="180.9" r="0.95"/><circle cx="467.6" cy="118.3" r="0.95"/><circle cx="474.7" cy="117.4" r="0.95"/><circle cx="457.6" cy="129.5" r="0.95"/><circle cx="509.7" cy="189.9" r="0.95"/><circle cx="498.2" cy="181.5" r="0.95"/><circle cx="463.9" cy="94.7" r="0.95"/><circle cx="442.7" cy="88.8" r="0.95"/><circle cx="490.3" cy="142.3" r="0.95"/><circle cx="484.5" cy="142.2" r="0.95"/><circle cx="497.3" cy="178.2" r="0.95"/><circle cx="491.4" cy="158.1" r="0.95"/><circle cx="474.1" cy="144.1" r="0.95"/><circle cx="491.5" cy="157.1" r="0.95"/><circle cx="483.9" cy="132.3" r="0.95"/><circle cx="461.5" cy="111.8" r="0.95"/><circle cx="501.8" cy="157.2" r="0.95"/><circle cx="508.5" cy="210.3" r="0.95"/><circle cx="512.0" cy="212.9" r="0.95"/><circle cx="480.7" cy="133.0" r="0.95"/><circle cx="487.9" cy="179.8" r="0.95"/><circle cx="477.6" cy="121.2" r="0.95"/><circle cx="499.7" cy="205.5" r="0.95"/><circle cx="491.6" cy="162.6" r="0.95"/><circle cx="483.4" cy="128.3" r="0.95"/><circle cx="506.8" cy="202.0" r="0.95"/><circle cx="508.9" cy="191.9" r="0.95"/><circle cx="501.2" cy="152.9" r="0.95"/><circle cx="511.3" cy="184.1" r="0.95"/><circle cx="505.0" cy="192.1" r="0.95"/><circle cx="494.3" cy="140.7" r="0.95"/><circle cx="483.8" cy="120.3" r="0.95"/><circle cx="485.5" cy="139.7" r="0.95"/><circle cx="514.4" cy="205.6" r="0.95"/><circle cx="502.8" cy="210.9" r="0.95"/><circle cx="446.3" cy="88.0" r="0.95"/><circle cx="471.5" cy="160.4" r="0.95"/><circle cx="474.7" cy="125.9" r="0.95"/><circle cx="471.4" cy="121.8" r="0.95"/><circle cx="484.3" cy="126.1" r="0.95"/><circle cx="460.5" cy="99.5" r="0.95"/><circle cx="468.5" cy="111.7" r="0.95"/><circle cx="465.8" cy="107.9" r="0.95"/><circle cx="473.6" cy="119.7" r="0.95"/><circle cx="483.0" cy="130.8" r="0.95"/><circle cx="483.5" cy="126.3" r="0.95"/><circle cx="458.0" cy="93.8" r="0.95"/><circle cx="483.8" cy="140.7" r="0.95"/><circle cx="495.9" cy="194.6" r="0.95"/><circle cx="477.8" cy="134.1" r="0.95"/><circle cx="455.8" cy="112.3" r="0.95"/><circle cx="463.4" cy="107.3" r="0.95"/><circle cx="494.0" cy="195.6" r="0.95"/><circle cx="479.3" cy="123.8" r="0.95"/><circle cx="487.2" cy="154.7" r="0.95"/><circle cx="452.4" cy="105.8" r="0.95"/><circle cx="471.5" cy="107.0" r="0.95"/><circle cx="506.5" cy="200.7" r="0.95"/><circle cx="502.7" cy="180.3" r="0.95"/><circle cx="494.6" cy="158.3" r="0.95"/><circle cx="508.3" cy="188.5" r="0.95"/><circle cx="507.1" cy="205.2" r="0.95"/><circle cx="500.2" cy="176.7" r="0.95"/><circle cx="489.6" cy="178.0" r="0.95"/><circle cx="432.0" cy="84.0" r="0.95"/><circle cx="471.1" cy="129.5" r="0.95"/><circle cx="447.9" cy="89.3" r="0.95"/><circle cx="472.0" cy="101.4" r="0.95"/><circle cx="490.0" cy="127.3" r="0.95"/><circle cx="466.1" cy="104.8" r="0.95"/><circle cx="482.9" cy="128.5" r="0.95"/><circle cx="465.5" cy="107.6" r="0.95"/><circle cx="499.8" cy="176.0" r="0.95"/><circle cx="490.4" cy="155.4" r="0.95"/><circle cx="504.2" cy="187.8" r="0.95"/><circle cx="498.7" cy="182.8" r="0.95"/><circle cx="459.8" cy="93.9" r="0.95"/><circle cx="502.2" cy="189.3" r="0.95"/><circle cx="482.8" cy="124.8" r="0.95"/><circle cx="513.2" cy="187.7" r="0.95"/><circle cx="500.8" cy="173.9" r="0.95"/><circle cx="474.0" cy="120.0" r="0.95"/><circle cx="479.0" cy="138.1" r="0.95"/><circle cx="504.7" cy="206.2" r="0.95"/><circle cx="480.0" cy="114.2" r="0.95"/><circle cx="465.3" cy="99.5" r="0.95"/><circle cx="441.5" cy="84.2" r="0.95"/><circle cx="503.1" cy="174.8" r="0.95"/><circle cx="479.7" cy="119.8" r="0.95"/><circle cx="486.1" cy="121.3" r="0.95"/><circle cx="460.1" cy="134.9" r="0.95"/><circle cx="476.8" cy="174.9" r="0.95"/><circle cx="487.3" cy="133.5" r="0.95"/><circle cx="492.0" cy="182.1" r="0.95"/><circle cx="463.6" cy="127.0" r="0.95"/><circle cx="459.7" cy="119.7" r="0.95"/><circle cx="470.1" cy="120.4" r="0.95"/><circle cx="498.2" cy="165.3" r="0.95"/><circle cx="490.4" cy="133.0" r="0.95"/><circle cx="465.3" cy="124.1" r="0.95"/><circle cx="493.7" cy="176.9" r="0.95"/><circle cx="502.5" cy="197.9" r="0.95"/><circle cx="488.0" cy="136.0" r="0.95"/><circle cx="498.8" cy="151.8" r="0.95"/><circle cx="511.1" cy="212.0" r="0.95"/><circle cx="487.5" cy="156.5" r="0.95"/><circle cx="509.6" cy="206.4" r="0.95"/><circle cx="505.0" cy="210.0" r="0.95"/><circle cx="474.6" cy="115.1" r="0.95"/><circle cx="490.3" cy="143.3" r="0.95"/><circle cx="474.0" cy="106.9" r="0.95"/><circle cx="506.1" cy="205.3" r="0.95"/><circle cx="452.9" cy="96.7" r="0.95"/><circle cx="463.8" cy="94.2" r="0.95"/><circle cx="483.5" cy="160.5" r="0.95"/><circle cx="501.7" cy="199.2" r="0.95"/><circle cx="491.0" cy="157.0" r="0.95"/><circle cx="489.9" cy="139.1" r="0.95"/><circle cx="505.3" cy="195.7" r="0.95"/><circle cx="468.5" cy="135.4" r="0.95"/><circle cx="478.2" cy="137.7" r="0.95"/><circle cx="506.4" cy="166.1" r="0.95"/><circle cx="489.7" cy="147.6" r="0.95"/><circle cx="495.4" cy="168.7" r="0.95"/><circle cx="471.0" cy="130.4" r="0.95"/><circle cx="485.0" cy="141.0" r="0.95"/><circle cx="492.9" cy="181.5" r="0.95"/><circle cx="458.8" cy="106.1" r="0.95"/><circle cx="506.2" cy="168.8" r="0.95"/><circle cx="473.1" cy="113.4" r="0.95"/><circle cx="502.0" cy="205.1" r="0.95"/><circle cx="508.6" cy="174.6" r="0.95"/><circle cx="490.9" cy="171.9" r="0.95"/><circle cx="498.5" cy="170.0" r="0.95"/><circle cx="468.5" cy="124.6" r="0.95"/><circle cx="489.8" cy="127.4" r="0.95"/><circle cx="473.8" cy="155.4" r="0.95"/><circle cx="497.6" cy="176.1" r="0.95"/><circle cx="501.9" cy="155.1" r="0.95"/><circle cx="473.3" cy="126.0" r="0.95"/><circle cx="506.1" cy="168.6" r="0.95"/><circle cx="471.4" cy="127.0" r="0.95"/><circle cx="485.4" cy="135.7" r="0.95"/><circle cx="479.3" cy="152.6" r="0.95"/><circle cx="496.5" cy="168.7" r="0.95"/><circle cx="467.4" cy="115.7" r="0.95"/><circle cx="507.1" cy="188.1" r="0.95"/><circle cx="488.4" cy="157.6" r="0.95"/><circle cx="471.9" cy="139.7" r="0.95"/><circle cx="510.6" cy="202.5" r="0.95"/><circle cx="439.4" cy="87.0" r="0.95"/><circle cx="514.1" cy="212.0" r="0.95"/><circle cx="438.0" cy="86.3" r="0.95"/><circle cx="473.2" cy="104.3" r="0.95"/><circle cx="472.6" cy="120.6" r="0.95"/><circle cx="445.4" cy="85.3" r="0.95"/><circle cx="496.2" cy="167.1" r="0.95"/><circle cx="487.2" cy="143.7" r="0.95"/><circle cx="482.5" cy="130.9" r="0.95"/><circle cx="477.8" cy="123.8" r="0.95"/><circle cx="491.1" cy="164.1" r="0.95"/><circle cx="496.7" cy="196.1" r="0.95"/><circle cx="484.7" cy="160.5" r="0.95"/><circle cx="482.6" cy="131.1" r="0.95"/><circle cx="471.1" cy="105.9" r="0.95"/><circle cx="477.8" cy="127.2" r="0.95"/><circle cx="494.7" cy="170.7" r="0.95"/><circle cx="500.6" cy="185.5" r="0.95"/><circle cx="492.3" cy="186.0" r="0.95"/><circle cx="488.4" cy="153.1" r="0.95"/><circle cx="506.3" cy="210.6" r="0.95"/><circle cx="470.1" cy="164.8" r="0.95"/><circle cx="507.1" cy="186.0" r="0.95"/><circle cx="498.0" cy="147.1" r="0.95"/><circle cx="465.5" cy="111.0" r="0.95"/><circle cx="513.9" cy="204.8" r="0.95"/><circle cx="478.1" cy="117.3" r="0.95"/><circle cx="490.0" cy="179.0" r="0.95"/><circle cx="485.7" cy="122.1" r="0.95"/><circle cx="476.4" cy="145.5" r="0.95"/><circle cx="457.8" cy="132.4" r="0.95"/><circle cx="470.4" cy="138.0" r="0.95"/><circle cx="469.7" cy="135.0" r="0.95"/><circle cx="474.7" cy="121.7" r="0.95"/><circle cx="508.9" cy="185.4" r="0.95"/><circle cx="503.2" cy="173.0" r="0.95"/><circle cx="507.6" cy="207.7" r="0.95"/><circle cx="494.7" cy="194.8" r="0.95"/><circle cx="500.4" cy="194.8" r="0.95"/><circle cx="486.2" cy="126.2" r="0.95"/><circle cx="494.1" cy="189.7" r="0.95"/><circle cx="461.2" cy="113.4" r="0.95"/><circle cx="479.5" cy="154.2" r="0.95"/><circle cx="502.7" cy="171.3" r="0.95"/><circle cx="477.2" cy="125.2" r="0.95"/><circle cx="453.1" cy="99.2" r="0.95"/><circle cx="479.8" cy="115.3" r="0.95"/><circle cx="496.9" cy="177.6" r="0.95"/><circle cx="469.1" cy="102.7" r="0.95"/><circle cx="477.7" cy="156.4" r="0.95"/><circle cx="454.8" cy="92.0" r="0.95"/><circle cx="475.2" cy="150.5" r="0.95"/><circle cx="504.0" cy="201.1" r="0.95"/><circle cx="496.1" cy="182.1" r="0.95"/><circle cx="495.1" cy="190.5" r="0.95"/><circle cx="501.6" cy="174.4" r="0.95"/><circle cx="483.2" cy="174.4" r="0.95"/><circle cx="504.7" cy="209.1" r="0.95"/><circle cx="507.7" cy="182.8" r="0.95"/><circle cx="491.6" cy="150.2" r="0.95"/><circle cx="476.9" cy="146.3" r="0.95"/><circle cx="511.3" cy="213.1" r="0.95"/><circle cx="500.3" cy="202.8" r="0.95"/><circle cx="471.0" cy="129.5" r="0.95"/><circle cx="481.6" cy="153.7" r="0.95"/><circle cx="464.1" cy="122.9" r="0.95"/><circle cx="452.7" cy="94.9" r="0.95"/><circle cx="513.5" cy="213.5" r="0.95"/><circle cx="478.0" cy="147.3" r="0.95"/><circle cx="468.3" cy="123.6" r="0.95"/><circle cx="458.7" cy="99.3" r="0.95"/><circle cx="504.9" cy="176.8" r="0.95"/><circle cx="489.0" cy="126.8" r="0.95"/><circle cx="475.2" cy="111.9" r="0.95"/><circle cx="505.4" cy="163.7" r="0.95"/><circle cx="497.2" cy="184.8" r="0.95"/><circle cx="509.3" cy="212.2" r="0.95"/><circle cx="499.6" cy="178.4" r="0.95"/><circle cx="467.3" cy="144.1" r="0.95"/><circle cx="472.8" cy="118.2" r="0.95"/><circle cx="487.6" cy="150.4" r="0.95"/><circle cx="491.5" cy="149.5" r="0.95"/><circle cx="459.9" cy="103.7" r="0.95"/><circle cx="482.2" cy="161.3" r="0.95"/><circle cx="502.1" cy="184.2" r="0.95"/><circle cx="489.7" cy="138.6" r="0.95"/><circle cx="476.1" cy="117.2" r="0.95"/><circle cx="486.5" cy="162.2" r="0.95"/><circle cx="469.9" cy="164.2" r="0.95"/><circle cx="483.3" cy="153.7" r="0.95"/><circle cx="473.2" cy="117.3" r="0.95"/><circle cx="461.8" cy="104.9" r="0.95"/><circle cx="505.4" cy="188.1" r="0.95"/><circle cx="490.2" cy="148.0" r="0.95"/><circle cx="486.9" cy="125.4" r="0.95"/><circle cx="489.9" cy="142.1" r="0.95"/><circle cx="476.5" cy="121.9" r="0.95"/><circle cx="480.0" cy="150.7" r="0.95"/><circle cx="460.4" cy="111.5" r="0.95"/><circle cx="470.5" cy="139.1" r="0.95"/><circle cx="473.6" cy="136.7" r="0.95"/><circle cx="465.0" cy="153.4" r="0.95"/><circle cx="476.6" cy="117.4" r="0.95"/><circle cx="512.7" cy="213.9" r="0.95"/><circle cx="478.8" cy="114.4" r="0.95"/><circle cx="478.4" cy="110.8" r="0.95"/><circle cx="475.9" cy="124.4" r="0.95"/><circle cx="514.4" cy="208.9" r="0.95"/><circle cx="489.7" cy="127.5" r="0.95"/><circle cx="490.2" cy="175.3" r="0.95"/><circle cx="505.0" cy="197.2" r="0.95"/><circle cx="512.2" cy="184.6" r="0.95"/><circle cx="449.1" cy="88.3" r="0.95"/><circle cx="473.7" cy="138.1" r="0.95"/><circle cx="475.9" cy="139.8" r="0.95"/><circle cx="465.7" cy="112.9" r="0.95"/><circle cx="506.2" cy="213.0" r="0.95"/><circle cx="500.9" cy="204.4" r="0.95"/><circle cx="470.0" cy="129.7" r="0.95"/><circle cx="481.5" cy="151.7" r="0.95"/><circle cx="471.5" cy="132.3" r="0.95"/><circle cx="468.9" cy="134.0" r="0.95"/><circle cx="507.0" cy="205.1" r="0.95"/><circle cx="502.7" cy="178.7" r="0.95"/><circle cx="505.4" cy="166.8" r="0.95"/><circle cx="499.5" cy="157.6" r="0.95"/><circle cx="464.7" cy="137.4" r="0.95"/><circle cx="449.5" cy="87.3" r="0.95"/><circle cx="513.5" cy="195.0" r="0.95"/><circle cx="490.2" cy="179.4" r="0.95"/><circle cx="509.7" cy="178.3" r="0.95"/><circle cx="492.9" cy="188.0" r="0.95"/><circle cx="505.8" cy="213.3" r="0.95"/><circle cx="494.4" cy="194.2" r="0.95"/><circle cx="513.3" cy="212.4" r="0.95"/><circle cx="507.2" cy="200.3" r="0.95"/><circle cx="496.6" cy="194.6" r="0.95"/><circle cx="507.4" cy="178.8" r="0.95"/><circle cx="497.0" cy="172.3" r="0.95"/><circle cx="447.0" cy="90.2" r="0.95"/><circle cx="501.2" cy="189.5" r="0.95"/><circle cx="471.4" cy="103.5" r="0.95"/><circle cx="476.9" cy="160.1" r="0.95"/><circle cx="450.1" cy="94.2" r="0.95"/><circle cx="479.0" cy="118.1" r="0.95"/><circle cx="481.3" cy="124.4" r="0.95"/><circle cx="505.4" cy="184.3" r="0.95"/><circle cx="467.7" cy="113.8" r="0.95"/><circle cx="500.4" cy="170.1" r="0.95"/><circle cx="458.1" cy="115.6" r="0.95"/><circle cx="485.1" cy="139.2" r="0.95"/><circle cx="461.7" cy="109.3" r="0.95"/><circle cx="477.6" cy="162.8" r="0.95"/><circle cx="478.2" cy="115.3" r="0.95"/><circle cx="506.6" cy="207.7" r="0.95"/><circle cx="490.0" cy="180.7" r="0.95"/><circle cx="501.2" cy="176.2" r="0.95"/><circle cx="509.9" cy="188.7" r="0.95"/><circle cx="436.8" cy="85.0" r="0.95"/><circle cx="460.1" cy="105.7" r="0.95"/><circle cx="456.8" cy="93.2" r="0.95"/><circle cx="486.5" cy="181.6" r="0.95"/><circle cx="510.4" cy="204.4" r="0.95"/><circle cx="502.0" cy="168.1" r="0.95"/><circle cx="477.9" cy="154.3" r="0.95"/><circle cx="487.5" cy="135.0" r="0.95"/><circle cx="494.5" cy="184.4" r="0.95"/><circle cx="473.3" cy="105.8" r="0.95"/><circle cx="491.0" cy="183.2" r="0.95"/><circle cx="469.5" cy="132.6" r="0.95"/><circle cx="460.6" cy="127.2" r="0.95"/><circle cx="496.2" cy="160.3" r="0.95"/><circle cx="491.7" cy="172.0" r="0.95"/><circle cx="471.7" cy="129.4" r="0.95"/><circle cx="480.3" cy="115.2" r="0.95"/><circle cx="505.1" cy="209.2" r="0.95"/><circle cx="512.2" cy="200.2" r="0.95"/><circle cx="492.0" cy="180.6" r="0.95"/><circle cx="503.4" cy="175.0" r="0.95"/><circle cx="506.6" cy="211.0" r="0.95"/><circle cx="471.6" cy="123.8" r="0.95"/><circle cx="495.1" cy="162.0" r="0.95"/><circle cx="443.7" cy="91.8" r="0.95"/><circle cx="503.3" cy="185.8" r="0.95"/><circle cx="507.0" cy="171.4" r="0.95"/><circle cx="472.0" cy="130.1" r="0.95"/><circle cx="479.5" cy="131.0" r="0.95"/><circle cx="507.2" cy="189.3" r="0.95"/><circle cx="452.1" cy="92.1" r="0.95"/><circle cx="507.7" cy="213.9" r="0.95"/><circle cx="489.9" cy="173.4" r="0.95"/><circle cx="489.4" cy="126.7" r="0.95"/><circle cx="481.7" cy="134.9" r="0.95"/><circle cx="489.8" cy="129.4" r="0.95"/><circle cx="471.2" cy="137.5" r="0.95"/><circle cx="468.7" cy="119.4" r="0.95"/><circle cx="492.4" cy="146.6" r="0.95"/><circle cx="498.1" cy="195.3" r="0.95"/><circle cx="475.0" cy="116.0" r="0.95"/><circle cx="514.4" cy="207.7" r="0.95"/><circle cx="446.7" cy="91.4" r="0.95"/><circle cx="479.8" cy="158.4" r="0.95"/><circle cx="475.4" cy="125.7" r="0.95"/><circle cx="463.7" cy="109.6" r="0.95"/><circle cx="499.7" cy="171.4" r="0.95"/><circle cx="493.3" cy="135.4" r="0.95"/><circle cx="482.1" cy="152.4" r="0.95"/><circle cx="500.0" cy="196.6" r="0.95"/><circle cx="476.1" cy="154.3" r="0.95"/><circle cx="505.2" cy="181.7" r="0.95"/><circle cx="475.8" cy="120.9" r="0.95"/><circle cx="484.4" cy="117.5" r="0.95"/><circle cx="496.8" cy="196.5" r="0.95"/><circle cx="478.0" cy="121.8" r="0.95"/><circle cx="481.2" cy="137.8" r="0.95"/><circle cx="511.0" cy="210.6" r="0.95"/><circle cx="485.2" cy="133.2" r="0.95"/><circle cx="496.7" cy="160.1" r="0.95"/><circle cx="505.8" cy="177.4" r="0.95"/><circle cx="454.6" cy="91.6" r="0.95"/><circle cx="480.7" cy="143.7" r="0.95"/><circle cx="499.9" cy="206.5" r="0.95"/><circle cx="482.4" cy="155.1" r="0.95"/><circle cx="454.0" cy="98.3" r="0.95"/><circle cx="494.0" cy="183.0" r="0.95"/><circle cx="465.8" cy="116.9" r="0.95"/><circle cx="497.6" cy="197.8" r="0.95"/><circle cx="510.7" cy="208.2" r="0.95"/><circle cx="488.8" cy="142.0" r="0.95"/><circle cx="501.5" cy="156.5" r="0.95"/><circle cx="480.1" cy="154.7" r="0.95"/><circle cx="490.9" cy="151.9" r="0.95"/><circle cx="474.6" cy="109.4" r="0.95"/><circle cx="476.0" cy="114.4" r="0.95"/><circle cx="510.0" cy="187.9" r="0.95"/><circle cx="466.8" cy="109.9" r="0.95"/><circle cx="475.1" cy="140.8" r="0.95"/><circle cx="487.2" cy="168.1" r="0.95"/><circle cx="468.5" cy="122.5" r="0.95"/><circle cx="474.1" cy="169.4" r="0.95"/><circle cx="487.5" cy="161.4" r="0.95"/><circle cx="504.3" cy="203.2" r="0.95"/><circle cx="464.2" cy="127.9" r="0.95"/><circle cx="468.0" cy="119.1" r="0.95"/><circle cx="471.2" cy="120.0" r="0.95"/><circle cx="513.0" cy="194.7" r="0.95"/><circle cx="489.1" cy="143.9" r="0.95"/><circle cx="475.6" cy="172.6" r="0.95"/><circle cx="505.1" cy="193.2" r="0.95"/><circle cx="508.7" cy="206.4" r="0.95"/><circle cx="457.0" cy="100.0" r="0.95"/><circle cx="502.8" cy="202.1" r="0.95"/><circle cx="470.8" cy="142.4" r="0.95"/><circle cx="493.9" cy="188.2" r="0.95"/><circle cx="497.1" cy="185.8" r="0.95"/><circle cx="478.6" cy="148.1" r="0.95"/><circle cx="488.6" cy="124.1" r="0.95"/><circle cx="470.6" cy="128.1" r="0.95"/><circle cx="501.3" cy="177.5" r="0.95"/><circle cx="506.3" cy="170.4" r="0.95"/><circle cx="497.6" cy="196.4" r="0.95"/><circle cx="495.2" cy="143.8" r="0.95"/><circle cx="467.1" cy="106.4" r="0.95"/><circle cx="509.9" cy="181.9" r="0.95"/><circle cx="475.5" cy="127.0" r="0.95"/><circle cx="479.5" cy="120.0" r="0.95"/><circle cx="448.1" cy="87.6" r="0.95"/><circle cx="494.0" cy="175.9" r="0.95"/><circle cx="469.0" cy="121.0" r="0.95"/><circle cx="485.1" cy="133.7" r="0.95"/><circle cx="471.1" cy="109.2" r="0.95"/><circle cx="444.2" cy="91.9" r="0.95"/><circle cx="492.1" cy="168.4" r="0.95"/><circle cx="509.6" cy="186.5" r="0.95"/><circle cx="492.2" cy="173.0" r="0.95"/><circle cx="471.0" cy="111.3" r="0.95"/><circle cx="476.8" cy="134.6" r="0.95"/><circle cx="468.1" cy="120.6" r="0.95"/><circle cx="492.8" cy="177.9" r="0.95"/><circle cx="462.8" cy="100.1" r="0.95"/><circle cx="471.0" cy="104.6" r="0.95"/><circle cx="494.5" cy="165.5" r="0.95"/><circle cx="514.2" cy="209.3" r="0.95"/><circle cx="496.7" cy="174.0" r="0.95"/><circle cx="478.9" cy="129.1" r="0.95"/><circle cx="484.2" cy="138.4" r="0.95"/><circle cx="507.0" cy="176.6" r="0.95"/><circle cx="493.1" cy="143.3" r="0.95"/><circle cx="485.3" cy="130.5" r="0.95"/><circle cx="464.7" cy="145.8" r="0.95"/><circle cx="494.2" cy="150.2" r="0.95"/><circle cx="513.5" cy="212.2" r="0.95"/><circle cx="472.9" cy="104.3" r="0.95"/><circle cx="497.0" cy="147.6" r="0.95"/><circle cx="469.4" cy="132.1" r="0.95"/><circle cx="461.7" cy="108.9" r="0.95"/><circle cx="477.7" cy="136.7" r="0.95"/><circle cx="487.9" cy="134.4" r="0.95"/><circle cx="464.1" cy="109.3" r="0.95"/><circle cx="458.9" cy="105.1" r="0.95"/><circle cx="497.9" cy="172.8" r="0.95"/><circle cx="474.4" cy="143.3" r="0.95"/><circle cx="459.8" cy="107.1" r="0.95"/><circle cx="490.1" cy="163.7" r="0.95"/><circle cx="495.3" cy="158.5" r="0.95"/><circle cx="495.8" cy="188.8" r="0.95"/><circle cx="473.5" cy="138.0" r="0.95"/><circle cx="464.5" cy="105.4" r="0.95"/><circle cx="503.9" cy="200.6" r="0.95"/><circle cx="503.6" cy="203.0" r="0.95"/><circle cx="496.9" cy="203.2" r="0.95"/><circle cx="472.7" cy="118.7" r="0.95"/><circle cx="497.6" cy="196.9" r="0.95"/><circle cx="497.9" cy="167.8" r="0.95"/><circle cx="468.3" cy="101.8" r="0.95"/><circle cx="488.8" cy="144.5" r="0.95"/><circle cx="474.4" cy="127.5" r="0.95"/><circle cx="487.1" cy="168.1" r="0.95"/><circle cx="478.5" cy="149.4" r="0.95"/><circle cx="471.2" cy="119.4" r="0.95"/><circle cx="509.5" cy="192.5" r="0.95"/><circle cx="476.8" cy="114.9" r="0.95"/><circle cx="507.6" cy="194.4" r="0.95"/><circle cx="442.1" cy="89.2" r="0.95"/><circle cx="475.1" cy="149.5" r="0.95"/><circle cx="474.2" cy="102.9" r="0.95"/><circle cx="490.4" cy="198.5" r="0.95"/><circle cx="486.6" cy="128.4" r="0.95"/><circle cx="458.7" cy="94.2" r="0.95"/><circle cx="485.5" cy="148.4" r="0.95"/><circle cx="470.7" cy="123.4" r="0.95"/><circle cx="503.0" cy="205.4" r="0.95"/><circle cx="484.2" cy="122.6" r="0.95"/><circle cx="483.2" cy="158.6" r="0.95"/><circle cx="455.0" cy="97.5" r="0.95"/><circle cx="490.7" cy="179.4" r="0.95"/><circle cx="512.4" cy="198.2" r="0.95"/><circle cx="491.8" cy="140.1" r="0.95"/><circle cx="501.2" cy="178.7" r="0.95"/><circle cx="462.4" cy="119.9" r="0.95"/><circle cx="492.4" cy="148.2" r="0.95"/><circle cx="491.8" cy="165.9" r="0.95"/><circle cx="496.1" cy="144.0" r="0.95"/><circle cx="490.9" cy="157.5" r="0.95"/><circle cx="494.0" cy="174.1" r="0.95"/><circle cx="491.9" cy="190.4" r="0.95"/><circle cx="462.9" cy="128.8" r="0.95"/><circle cx="502.2" cy="156.4" r="0.95"/><circle cx="483.3" cy="127.1" r="0.95"/><circle cx="465.6" cy="184.6" r="0.95"/><circle cx="441.8" cy="92.5" r="0.95"/><circle cx="501.1" cy="208.3" r="0.95"/><circle cx="490.4" cy="184.5" r="0.95"/><circle cx="513.2" cy="197.8" r="0.95"/><circle cx="468.7" cy="135.6" r="0.95"/><circle cx="484.1" cy="157.7" r="0.95"/><circle cx="469.3" cy="108.3" r="0.95"/><circle cx="495.7" cy="173.8" r="0.95"/><circle cx="469.0" cy="147.0" r="0.95"/><circle cx="470.7" cy="129.5" r="0.95"/><circle cx="490.9" cy="144.4" r="0.95"/><circle cx="487.4" cy="140.8" r="0.95"/><circle cx="504.5" cy="210.4" r="0.95"/><circle cx="486.4" cy="166.5" r="0.95"/><circle cx="444.3" cy="92.5" r="0.95"/><circle cx="469.2" cy="101.3" r="0.95"/><circle cx="487.3" cy="132.6" r="0.95"/><circle cx="489.1" cy="138.8" r="0.95"/><circle cx="452.4" cy="92.1" r="0.95"/><circle cx="482.0" cy="122.5" r="0.95"/><circle cx="491.6" cy="177.7" r="0.95"/><circle cx="484.3" cy="167.2" r="0.95"/><circle cx="458.6" cy="108.7" r="0.95"/><circle cx="486.7" cy="201.8" r="0.95"/><circle cx="459.5" cy="91.3" r="0.95"/><circle cx="498.3" cy="187.4" r="0.95"/><circle cx="480.6" cy="140.0" r="0.95"/><circle cx="500.4" cy="192.7" r="0.95"/><circle cx="476.4" cy="114.2" r="0.95"/><circle cx="449.6" cy="89.2" r="0.95"/><circle cx="472.2" cy="113.1" r="0.95"/><circle cx="488.7" cy="142.0" r="0.95"/><circle cx="508.2" cy="189.2" r="0.95"/><circle cx="487.1" cy="168.4" r="0.95"/><circle cx="493.0" cy="155.9" r="0.95"/><circle cx="500.4" cy="174.9" r="0.95"/><circle cx="494.4" cy="159.0" r="0.95"/><circle cx="485.8" cy="140.4" r="0.95"/><circle cx="487.9" cy="149.3" r="0.95"/><circle cx="494.8" cy="194.1" r="0.95"/><circle cx="490.4" cy="147.6" r="0.95"/><circle cx="508.4" cy="183.9" r="0.95"/><circle cx="497.8" cy="180.1" r="0.95"/><circle cx="495.8" cy="183.3" r="0.95"/><circle cx="480.3" cy="122.1" r="0.95"/><circle cx="496.7" cy="202.5" r="0.95"/><circle cx="464.4" cy="111.7" r="0.95"/><circle cx="494.7" cy="142.0" r="0.95"/><circle cx="511.0" cy="203.4" r="0.95"/><circle cx="480.6" cy="155.2" r="0.95"/><circle cx="489.2" cy="128.9" r="0.95"/><circle cx="481.7" cy="123.6" r="0.95"/><circle cx="493.4" cy="147.3" r="0.95"/><circle cx="470.5" cy="127.4" r="0.95"/><circle cx="475.4" cy="116.2" r="0.95"/><circle cx="491.1" cy="185.9" r="0.95"/><circle cx="455.1" cy="93.1" r="0.95"/><circle cx="479.0" cy="155.8" r="0.95"/><circle cx="503.5" cy="208.3" r="0.95"/><circle cx="487.9" cy="142.5" r="0.95"/><circle cx="505.6" cy="200.8" r="0.95"/><circle cx="469.3" cy="102.1" r="0.95"/><circle cx="463.1" cy="101.4" r="0.95"/><circle cx="486.4" cy="165.4" r="0.95"/><circle cx="503.1" cy="189.2" r="0.95"/><circle cx="488.5" cy="134.2" r="0.95"/><circle cx="488.9" cy="156.1" r="0.95"/><circle cx="483.3" cy="142.2" r="0.95"/><circle cx="497.9" cy="168.0" r="0.95"/><circle cx="506.2" cy="197.6" r="0.95"/><circle cx="498.6" cy="194.3" r="0.95"/><circle cx="491.5" cy="149.7" r="0.95"/><circle cx="501.1" cy="178.7" r="0.95"/><circle cx="478.6" cy="138.9" r="0.95"/><circle cx="475.2" cy="122.3" r="0.95"/><circle cx="512.5" cy="204.2" r="0.95"/><circle cx="494.7" cy="165.6" r="0.95"/><circle cx="488.7" cy="186.6" r="0.95"/><circle cx="513.5" cy="213.6" r="0.95"/><circle cx="514.3" cy="208.4" r="0.95"/><circle cx="503.9" cy="188.5" r="0.95"/><circle cx="471.8" cy="130.9" r="0.95"/><circle cx="489.1" cy="142.7" r="0.95"/><circle cx="483.3" cy="140.0" r="0.95"/><circle cx="469.0" cy="103.4" r="0.95"/><circle cx="466.9" cy="118.8" r="0.95"/><circle cx="446.8" cy="88.4" r="0.95"/><circle cx="480.7" cy="156.4" r="0.95"/><circle cx="468.6" cy="120.6" r="0.95"/><circle cx="508.9" cy="209.5" r="0.95"/><circle cx="506.3" cy="203.0" r="0.95"/><circle cx="472.9" cy="101.3" r="0.95"/><circle cx="485.8" cy="136.9" r="0.95"/><circle cx="484.9" cy="141.5" r="0.95"/><circle cx="462.8" cy="109.4" r="0.95"/><circle cx="508.9" cy="208.2" r="0.95"/><circle cx="476.5" cy="131.8" r="0.95"/><circle cx="499.1" cy="205.8" r="0.95"/><circle cx="506.2" cy="203.4" r="0.95"/><circle cx="473.6" cy="151.8" r="0.95"/><circle cx="492.6" cy="186.9" r="0.95"/><circle cx="496.8" cy="166.2" r="0.95"/><circle cx="485.7" cy="127.6" r="0.95"/><circle cx="471.7" cy="139.9" r="0.95"/><circle cx="475.9" cy="113.9" r="0.95"/><circle cx="483.4" cy="128.7" r="0.95"/><circle cx="498.9" cy="150.8" r="0.95"/><circle cx="492.5" cy="183.7" r="0.95"/><circle cx="501.1" cy="153.5" r="0.95"/><circle cx="495.1" cy="160.2" r="0.95"/><circle cx="505.3" cy="202.1" r="0.95"/><circle cx="489.9" cy="205.0" r="0.95"/><circle cx="452.9" cy="95.6" r="0.95"/><circle cx="482.6" cy="162.4" r="0.95"/><circle cx="485.0" cy="168.0" r="0.95"/><circle cx="485.6" cy="175.9" r="0.95"/><circle cx="452.0" cy="93.9" r="0.95"/><circle cx="466.7" cy="107.2" r="0.95"/><circle cx="507.8" cy="174.2" r="0.95"/><circle cx="477.2" cy="127.3" r="0.95"/><circle cx="477.6" cy="160.6" r="0.95"/><circle cx="482.3" cy="124.6" r="0.95"/><circle cx="482.1" cy="137.5" r="0.95"/><circle cx="506.1" cy="201.1" r="0.95"/><circle cx="484.5" cy="173.1" r="0.95"/><circle cx="510.5" cy="179.1" r="0.95"/><circle cx="493.1" cy="156.9" r="0.95"/><circle cx="434.5" cy="96.8" r="0.95"/><circle cx="463.1" cy="114.6" r="0.95"/><circle cx="479.2" cy="137.7" r="0.95"/><circle cx="440.5" cy="88.5" r="0.95"/><circle cx="500.8" cy="184.7" r="0.95"/><circle cx="487.8" cy="165.5" r="0.95"/><circle cx="501.0" cy="203.6" r="0.95"/><circle cx="494.0" cy="143.7" r="0.95"/><circle cx="498.4" cy="181.1" r="0.95"/><circle cx="479.6" cy="119.5" r="0.95"/><circle cx="483.3" cy="163.8" r="0.95"/><circle cx="510.2" cy="204.2" r="0.95"/><circle cx="465.4" cy="113.7" r="0.95"/><circle cx="509.7" cy="210.5" r="0.95"/><circle cx="488.2" cy="151.7" r="0.95"/><circle cx="495.0" cy="160.5" r="0.95"/><circle cx="465.7" cy="108.4" r="0.95"/><circle cx="496.6" cy="167.5" r="0.95"/><circle cx="509.3" cy="203.7" r="0.95"/><circle cx="487.3" cy="154.8" r="0.95"/><circle cx="451.0" cy="94.3" r="0.95"/><circle cx="484.4" cy="120.7" r="0.95"/><circle cx="478.2" cy="122.0" r="0.95"/><circle cx="483.9" cy="152.5" r="0.95"/><circle cx="497.0" cy="200.1" r="0.95"/><circle cx="466.9" cy="141.9" r="0.95"/><circle cx="477.3" cy="160.3" r="0.95"/><circle cx="506.2" cy="183.0" r="0.95"/><circle cx="500.7" cy="204.5" r="0.95"/><circle cx="505.1" cy="170.6" r="0.95"/><circle cx="495.6" cy="181.9" r="0.95"/><circle cx="490.4" cy="181.0" r="0.95"/><circle cx="510.8" cy="187.2" r="0.95"/><circle cx="469.2" cy="116.2" r="0.95"/><circle cx="510.0" cy="207.0" r="0.95"/><circle cx="458.3" cy="96.3" r="0.95"/><circle cx="485.2" cy="138.7" r="0.95"/><circle cx="483.9" cy="148.5" r="0.95"/><circle cx="461.7" cy="98.1" r="0.95"/><circle cx="474.2" cy="134.7" r="0.95"/><circle cx="492.5" cy="178.8" r="0.95"/><circle cx="499.6" cy="158.3" r="0.95"/><circle cx="486.2" cy="124.4" r="0.95"/><circle cx="512.1" cy="190.3" r="0.95"/><circle cx="506.4" cy="184.3" r="0.95"/><circle cx="512.8" cy="213.2" r="0.95"/><circle cx="492.5" cy="165.4" r="0.95"/><circle cx="503.2" cy="205.5" r="0.95"/><circle cx="478.2" cy="122.5" r="0.95"/><circle cx="470.5" cy="111.2" r="0.95"/><circle cx="474.7" cy="151.8" r="0.95"/><circle cx="505.5" cy="206.2" r="0.95"/><circle cx="503.5" cy="211.1" r="0.95"/><circle cx="505.0" cy="164.3" r="0.95"/><circle cx="508.1" cy="189.9" r="0.95"/><circle cx="504.1" cy="212.3" r="0.95"/><circle cx="464.0" cy="94.8" r="0.95"/><circle cx="468.5" cy="127.1" r="0.95"/><circle cx="471.6" cy="148.3" r="0.95"/><circle cx="513.0" cy="210.1" r="0.95"/><circle cx="464.7" cy="119.0" r="0.95"/><circle cx="478.2" cy="125.0" r="0.95"/><circle cx="505.2" cy="187.6" r="0.95"/><circle cx="500.7" cy="162.7" r="0.95"/><circle cx="501.0" cy="196.0" r="0.95"/><circle cx="496.5" cy="194.5" r="0.95"/><circle cx="485.6" cy="121.5" r="0.95"/><circle cx="485.6" cy="128.6" r="0.95"/><circle cx="470.3" cy="138.8" r="0.95"/><circle cx="499.5" cy="176.5" r="0.95"/><circle cx="497.1" cy="149.2" r="0.95"/><circle cx="502.1" cy="160.3" r="0.95"/><circle cx="494.5" cy="152.5" r="0.95"/><circle cx="513.2" cy="202.1" r="0.95"/><circle cx="494.0" cy="152.8" r="0.95"/><circle cx="494.9" cy="191.5" r="0.95"/><circle cx="504.0" cy="191.5" r="0.95"/><circle cx="482.8" cy="115.9" r="0.95"/><circle cx="513.6" cy="209.7" r="0.95"/><circle cx="471.3" cy="182.0" r="0.95"/><circle cx="491.0" cy="185.8" r="0.95"/><circle cx="465.3" cy="123.0" r="0.95"/><circle cx="507.8" cy="179.4" r="0.95"/><circle cx="447.9" cy="92.4" r="0.95"/><circle cx="480.1" cy="123.2" r="0.95"/><circle cx="502.4" cy="174.5" r="0.95"/><circle cx="498.1" cy="156.7" r="0.95"/><circle cx="468.5" cy="109.7" r="0.95"/><circle cx="477.4" cy="122.3" r="0.95"/><circle cx="506.2" cy="168.0" r="0.95"/><circle cx="448.2" cy="94.8" r="0.95"/><circle cx="487.3" cy="155.2" r="0.95"/><circle cx="496.2" cy="153.6" r="0.95"/><circle cx="486.0" cy="130.5" r="0.95"/><circle cx="511.6" cy="210.0" r="0.95"/><circle cx="464.8" cy="113.7" r="0.95"/><circle cx="452.5" cy="106.2" r="0.95"/><circle cx="482.8" cy="129.2" r="0.95"/><circle cx="476.6" cy="143.3" r="0.95"/><circle cx="494.0" cy="142.6" r="0.95"/><circle cx="499.9" cy="160.8" r="0.95"/><circle cx="468.4" cy="105.5" r="0.95"/><circle cx="467.5" cy="115.2" r="0.95"/><circle cx="454.7" cy="100.1" r="0.95"/><circle cx="478.1" cy="143.9" r="0.95"/><circle cx="462.6" cy="112.0" r="0.95"/><circle cx="460.7" cy="109.2" r="0.95"/><circle cx="498.3" cy="163.7" r="0.95"/><circle cx="472.0" cy="137.0" r="0.95"/><circle cx="509.9" cy="185.8" r="0.95"/><circle cx="512.6" cy="211.1" r="0.95"/><circle cx="484.6" cy="146.9" r="0.95"/><circle cx="498.7" cy="171.3" r="0.95"/><circle cx="503.3" cy="157.9" r="0.95"/><circle cx="455.0" cy="116.1" r="0.95"/><circle cx="497.9" cy="167.9" r="0.95"/><circle cx="445.7" cy="99.1" r="0.95"/><circle cx="483.5" cy="143.1" r="0.95"/><circle cx="490.3" cy="145.5" r="0.95"/><circle cx="508.2" cy="183.4" r="0.95"/><circle cx="491.7" cy="150.6" r="0.95"/><circle cx="493.8" cy="173.6" r="0.95"/><circle cx="494.3" cy="137.4" r="0.95"/><circle cx="490.0" cy="160.9" r="0.95"/><circle cx="476.5" cy="159.5" r="0.95"/><circle cx="482.5" cy="122.6" r="0.95"/><circle cx="497.8" cy="150.4" r="0.95"/><circle cx="509.6" cy="211.0" r="0.95"/><circle cx="487.9" cy="124.8" r="0.95"/><circle cx="464.7" cy="121.4" r="0.95"/><circle cx="494.3" cy="157.3" r="0.95"/><circle cx="506.5" cy="211.4" r="0.95"/><circle cx="500.1" cy="201.2" r="0.95"/><circle cx="504.5" cy="206.9" r="0.95"/><circle cx="467.4" cy="115.6" r="0.95"/><circle cx="496.0" cy="169.3" r="0.95"/><circle cx="482.3" cy="152.2" r="0.95"/><circle cx="509.2" cy="213.3" r="0.95"/><circle cx="493.9" cy="140.3" r="0.95"/><circle cx="509.6" cy="207.0" r="0.95"/><circle cx="485.4" cy="126.7" r="0.95"/><circle cx="491.0" cy="132.3" r="0.95"/><circle cx="489.6" cy="177.3" r="0.95"/><circle cx="487.7" cy="185.3" r="0.95"/><circle cx="497.6" cy="188.2" r="0.95"/><circle cx="472.2" cy="136.8" r="0.95"/><circle cx="489.0" cy="143.6" r="0.95"/><circle cx="480.0" cy="136.6" r="0.95"/><circle cx="475.9" cy="111.5" r="0.95"/><circle cx="482.0" cy="140.5" r="0.95"/><circle cx="489.1" cy="181.3" r="0.95"/><circle cx="460.8" cy="144.0" r="0.95"/><circle cx="491.4" cy="161.3" r="0.95"/><circle cx="442.9" cy="88.1" r="0.95"/><circle cx="465.2" cy="96.7" r="0.95"/><circle cx="482.6" cy="129.3" r="0.95"/><circle cx="472.1" cy="117.1" r="0.95"/><circle cx="460.5" cy="98.9" r="0.95"/><circle cx="483.8" cy="176.4" r="0.95"/><circle cx="501.6" cy="203.9" r="0.95"/><circle cx="496.6" cy="175.0" r="0.95"/><circle cx="476.0" cy="120.2" r="0.95"/><circle cx="481.9" cy="140.1" r="0.95"/><circle cx="496.1" cy="195.4" r="0.95"/><circle cx="502.5" cy="169.0" r="0.95"/><circle cx="494.6" cy="163.3" r="0.95"/><circle cx="503.2" cy="190.2" r="0.95"/><circle cx="481.3" cy="112.7" r="0.95"/><circle cx="472.1" cy="141.1" r="0.95"/><circle cx="503.5" cy="178.8" r="0.95"/><circle cx="460.4" cy="106.6" r="0.95"/><circle cx="495.4" cy="157.7" r="0.95"/><circle cx="491.7" cy="156.4" r="0.95"/><circle cx="492.4" cy="156.4" r="0.95"/><circle cx="490.4" cy="130.2" r="0.95"/><circle cx="484.3" cy="167.6" r="0.95"/><circle cx="484.2" cy="171.2" r="0.95"/><circle cx="478.7" cy="117.2" r="0.95"/><circle cx="466.6" cy="146.2" r="0.95"/><circle cx="466.7" cy="104.3" r="0.95"/><circle cx="491.3" cy="192.2" r="0.95"/><circle cx="509.8" cy="179.7" r="0.95"/><circle cx="465.3" cy="107.6" r="0.95"/><circle cx="477.2" cy="116.7" r="0.95"/><circle cx="509.7" cy="195.5" r="0.95"/><circle cx="491.8" cy="183.5" r="0.95"/><circle cx="491.3" cy="133.0" r="0.95"/><circle cx="467.4" cy="123.5" r="0.95"/><circle cx="495.0" cy="160.2" r="0.95"/><circle cx="505.2" cy="181.6" r="0.95"/><circle cx="513.0" cy="205.7" r="0.95"/><circle cx="477.7" cy="123.4" r="0.95"/><circle cx="451.5" cy="94.5" r="0.95"/><circle cx="460.2" cy="92.1" r="0.95"/><circle cx="475.0" cy="133.2" r="0.95"/><circle cx="504.6" cy="208.0" r="0.95"/><circle cx="462.1" cy="105.4" r="0.95"/><circle cx="500.7" cy="159.8" r="0.95"/><circle cx="500.1" cy="183.0" r="0.95"/><circle cx="482.1" cy="159.7" r="0.95"/><circle cx="480.0" cy="110.5" r="0.95"/><circle cx="457.8" cy="96.0" r="0.95"/><circle cx="466.0" cy="116.2" r="0.95"/><circle cx="486.4" cy="123.6" r="0.95"/><circle cx="498.5" cy="202.7" r="0.95"/><circle cx="495.2" cy="164.6" r="0.95"/><circle cx="469.7" cy="112.4" r="0.95"/><circle cx="482.2" cy="164.6" r="0.95"/><circle cx="513.2" cy="192.3" r="0.95"/><circle cx="496.5" cy="202.7" r="0.95"/><circle cx="506.2" cy="171.0" r="0.95"/><circle cx="487.2" cy="138.1" r="0.95"/><circle cx="505.5" cy="178.3" r="0.95"/><circle cx="474.2" cy="116.2" r="0.95"/><circle cx="488.9" cy="157.5" r="0.95"/><circle cx="507.3" cy="190.1" r="0.95"/><circle cx="504.1" cy="207.7" r="0.95"/><circle cx="475.2" cy="128.8" r="0.95"/><circle cx="509.9" cy="205.7" r="0.95"/><circle cx="455.2" cy="90.2" r="0.95"/><circle cx="483.0" cy="133.1" r="0.95"/><circle cx="485.6" cy="152.9" r="0.95"/><circle cx="513.3" cy="212.9" r="0.95"/><circle cx="454.1" cy="89.4" r="0.95"/><circle cx="474.1" cy="124.9" r="0.95"/><circle cx="473.2" cy="113.8" r="0.95"/><circle cx="451.0" cy="96.8" r="0.95"/><circle cx="509.4" cy="178.2" r="0.95"/><circle cx="489.7" cy="158.8" r="0.95"/><circle cx="500.8" cy="155.9" r="0.95"/><circle cx="457.3" cy="139.3" r="0.95"/><circle cx="478.3" cy="156.8" r="0.95"/><circle cx="456.1" cy="102.6" r="0.95"/><circle cx="501.5" cy="154.9" r="0.95"/><circle cx="449.0" cy="88.2" r="0.95"/><circle cx="481.2" cy="167.2" r="0.95"/><circle cx="503.0" cy="206.8" r="0.95"/><circle cx="470.4" cy="159.5" r="0.95"/><circle cx="493.9" cy="151.5" r="0.95"/><circle cx="471.8" cy="112.5" r="0.95"/><circle cx="461.4" cy="145.8" r="0.95"/><circle cx="479.1" cy="109.5" r="0.95"/><circle cx="459.5" cy="92.4" r="0.95"/><circle cx="501.2" cy="167.8" r="0.95"/><circle cx="470.2" cy="121.4" r="0.95"/><circle cx="494.3" cy="203.6" r="0.95"/><circle cx="501.0" cy="171.2" r="0.95"/><circle cx="446.7" cy="93.9" r="0.95"/><circle cx="469.5" cy="103.1" r="0.95"/><circle cx="469.5" cy="108.7" r="0.95"/><circle cx="478.4" cy="147.6" r="0.95"/><circle cx="508.1" cy="187.7" r="0.95"/><circle cx="500.9" cy="173.9" r="0.95"/><circle cx="500.4" cy="190.2" r="0.95"/><circle cx="487.6" cy="128.2" r="0.95"/><circle cx="469.9" cy="129.1" r="0.95"/><circle cx="452.2" cy="91.7" r="0.95"/><circle cx="492.3" cy="138.8" r="0.95"/><circle cx="463.3" cy="105.2" r="0.95"/><circle cx="477.6" cy="149.2" r="0.95"/><circle cx="474.1" cy="132.9" r="0.95"/><circle cx="496.3" cy="190.5" r="0.95"/><circle cx="493.9" cy="169.8" r="0.95"/><circle cx="483.0" cy="131.9" r="0.95"/><circle cx="496.9" cy="189.9" r="0.95"/><circle cx="510.0" cy="176.4" r="0.95"/><circle cx="506.2" cy="170.8" r="0.95"/><circle cx="483.5" cy="191.6" r="0.95"/><circle cx="494.6" cy="195.1" r="0.95"/><circle cx="498.5" cy="198.3" r="0.95"/><circle cx="496.1" cy="152.1" r="0.95"/><circle cx="467.5" cy="134.1" r="0.95"/><circle cx="475.2" cy="148.4" r="0.95"/><circle cx="451.2" cy="96.6" r="0.95"/><circle cx="504.9" cy="198.1" r="0.95"/><circle cx="490.2" cy="164.3" r="0.95"/><circle cx="493.9" cy="186.3" r="0.95"/><circle cx="511.3" cy="202.3" r="0.95"/><circle cx="486.9" cy="162.1" r="0.95"/><circle cx="475.1" cy="134.8" r="0.95"/><circle cx="491.9" cy="134.5" r="0.95"/><circle cx="492.6" cy="145.9" r="0.95"/><circle cx="490.0" cy="177.8" r="0.95"/><circle cx="470.5" cy="126.2" r="0.95"/><circle cx="483.4" cy="171.1" r="0.95"/><circle cx="488.6" cy="167.5" r="0.95"/><circle cx="477.9" cy="108.2" r="0.95"/><circle cx="469.1" cy="104.8" r="0.95"/><circle cx="479.4" cy="139.0" r="0.95"/><circle cx="497.5" cy="162.4" r="0.95"/><circle cx="491.6" cy="142.7" r="0.95"/><circle cx="483.6" cy="134.0" r="0.95"/><circle cx="443.1" cy="85.2" r="0.95"/><circle cx="467.1" cy="116.0" r="0.95"/><circle cx="504.9" cy="212.3" r="0.95"/><circle cx="485.7" cy="167.6" r="0.95"/><circle cx="489.6" cy="182.3" r="0.95"/><circle cx="501.7" cy="183.0" r="0.95"/><circle cx="467.8" cy="112.4" r="0.95"/><circle cx="491.9" cy="188.4" r="0.95"/><circle cx="487.2" cy="140.1" r="0.95"/><circle cx="465.1" cy="133.6" r="0.95"/><circle cx="479.5" cy="161.0" r="0.95"/><circle cx="511.6" cy="187.4" r="0.95"/><circle cx="484.2" cy="122.5" r="0.95"/><circle cx="502.2" cy="162.0" r="0.95"/><circle cx="511.4" cy="184.7" r="0.95"/><circle cx="504.9" cy="179.3" r="0.95"/><circle cx="484.8" cy="140.1" r="0.95"/><circle cx="467.3" cy="135.3" r="0.95"/><circle cx="501.5" cy="200.4" r="0.95"/><circle cx="504.2" cy="201.8" r="0.95"/><circle cx="478.8" cy="120.2" r="0.95"/><circle cx="500.3" cy="194.9" r="0.95"/><circle cx="453.0" cy="98.8" r="0.95"/><circle cx="507.7" cy="181.9" r="0.95"/><circle cx="494.6" cy="189.4" r="0.95"/><circle cx="492.1" cy="179.4" r="0.95"/><circle cx="465.5" cy="100.6" r="0.95"/><circle cx="472.0" cy="122.5" r="0.95"/><circle cx="471.1" cy="135.2" r="0.95"/><circle cx="508.3" cy="210.0" r="0.95"/><circle cx="501.5" cy="191.7" r="0.95"/><circle cx="470.1" cy="121.9" r="0.95"/><circle cx="514.3" cy="206.4" r="0.95"/><circle cx="442.0" cy="87.1" r="0.95"/><circle cx="476.9" cy="141.1" r="0.95"/><circle cx="475.7" cy="144.6" r="0.95"/><circle cx="458.7" cy="101.6" r="0.95"/><circle cx="482.9" cy="170.4" r="0.95"/><circle cx="511.1" cy="183.1" r="0.95"/><circle cx="496.1" cy="177.7" r="0.95"/><circle cx="508.9" cy="201.4" r="0.95"/><circle cx="500.1" cy="191.9" r="0.95"/><circle cx="512.8" cy="214.1" r="0.95"/><circle cx="490.5" cy="181.5" r="0.95"/><circle cx="508.3" cy="189.3" r="0.95"/><circle cx="480.6" cy="117.5" r="0.95"/><circle cx="509.2" cy="189.6" r="0.95"/><circle cx="503.2" cy="210.7" r="0.95"/><circle cx="461.5" cy="94.7" r="0.95"/><circle cx="507.7" cy="213.3" r="0.95"/><circle cx="476.8" cy="119.2" r="0.95"/><circle cx="509.8" cy="206.3" r="0.95"/><circle cx="507.4" cy="182.7" r="0.95"/><circle cx="497.5" cy="165.6" r="0.95"/><circle cx="455.9" cy="124.8" r="0.95"/><circle cx="505.8" cy="184.6" r="0.95"/><circle cx="469.3" cy="124.6" r="0.95"/><circle cx="497.5" cy="198.4" r="0.95"/><circle cx="486.8" cy="198.7" r="0.95"/><circle cx="510.6" cy="194.4" r="0.95"/><circle cx="502.2" cy="165.9" r="0.95"/><circle cx="504.8" cy="189.8" r="0.95"/><circle cx="484.5" cy="127.9" r="0.95"/><circle cx="475.0" cy="120.0" r="0.95"/><circle cx="472.5" cy="154.2" r="0.95"/><circle cx="475.3" cy="112.6" r="0.95"/><circle cx="501.9" cy="204.6" r="0.95"/><circle cx="496.0" cy="174.8" r="0.95"/><circle cx="479.0" cy="121.2" r="0.95"/><circle cx="471.5" cy="172.3" r="0.95"/><circle cx="468.7" cy="105.9" r="0.95"/><circle cx="463.6" cy="115.2" r="0.95"/><circle cx="508.0" cy="189.4" r="0.95"/><circle cx="437.6" cy="84.9" r="0.95"/><circle cx="472.9" cy="131.2" r="0.95"/><circle cx="463.1" cy="139.5" r="0.95"/><circle cx="490.2" cy="134.2" r="0.95"/><circle cx="501.3" cy="162.3" r="0.95"/><circle cx="477.7" cy="135.8" r="0.95"/><circle cx="461.3" cy="108.6" r="0.95"/><circle cx="445.2" cy="90.2" r="0.95"/><circle cx="482.5" cy="154.7" r="0.95"/><circle cx="492.2" cy="163.6" r="0.95"/><circle cx="514.1" cy="207.5" r="0.95"/><circle cx="511.7" cy="203.7" r="0.95"/><circle cx="492.6" cy="176.7" r="0.95"/><circle cx="467.6" cy="136.1" r="0.95"/><circle cx="497.1" cy="162.8" r="0.95"/><circle cx="486.9" cy="132.3" r="0.95"/><circle cx="462.8" cy="110.8" r="0.95"/><circle cx="471.1" cy="107.5" r="0.95"/><circle cx="494.8" cy="154.4" r="0.95"/><circle cx="496.6" cy="201.7" r="0.95"/><circle cx="495.3" cy="187.7" r="0.95"/><circle cx="481.6" cy="149.7" r="0.95"/><circle cx="480.8" cy="170.9" r="0.95"/><circle cx="503.2" cy="176.8" r="0.95"/><circle cx="513.2" cy="192.3" r="0.95"/><circle cx="502.7" cy="176.3" r="0.95"/><circle cx="468.0" cy="98.7" r="0.95"/><circle cx="471.6" cy="159.6" r="0.95"/><circle cx="488.4" cy="139.9" r="0.95"/><circle cx="511.7" cy="189.5" r="0.95"/><circle cx="503.1" cy="197.6" r="0.95"/><circle cx="489.5" cy="167.9" r="0.95"/><circle cx="473.6" cy="139.5" r="0.95"/><circle cx="473.3" cy="142.8" r="0.95"/><circle cx="506.5" cy="167.0" r="0.95"/><circle cx="502.2" cy="168.6" r="0.95"/><circle cx="496.6" cy="158.4" r="0.95"/><circle cx="509.1" cy="208.2" r="0.95"/><circle cx="449.5" cy="91.8" r="0.95"/><circle cx="484.8" cy="173.0" r="0.95"/><circle cx="491.1" cy="177.1" r="0.95"/><circle cx="490.0" cy="153.0" r="0.95"/><circle cx="483.7" cy="130.1" r="0.95"/><circle cx="504.2" cy="172.5" r="0.95"/><circle cx="457.3" cy="124.8" r="0.95"/><circle cx="459.9" cy="95.2" r="0.95"/><circle cx="464.1" cy="116.8" r="0.95"/><circle cx="481.0" cy="147.6" r="0.95"/><circle cx="486.6" cy="166.9" r="0.95"/><circle cx="503.7" cy="203.9" r="0.95"/><circle cx="494.4" cy="196.4" r="0.95"/><circle cx="471.3" cy="135.2" r="0.95"/><circle cx="497.0" cy="173.3" r="0.95"/><circle cx="494.7" cy="176.8" r="0.95"/><circle cx="496.3" cy="163.6" r="0.95"/><circle cx="450.1" cy="92.2" r="0.95"/><circle cx="509.8" cy="208.8" r="0.95"/><circle cx="499.1" cy="157.6" r="0.95"/><circle cx="468.2" cy="103.5" r="0.95"/><circle cx="503.6" cy="199.1" r="0.95"/><circle cx="496.7" cy="150.2" r="0.95"/><circle cx="491.9" cy="184.9" r="0.95"/><circle cx="481.3" cy="126.5" r="0.95"/><circle cx="487.8" cy="130.4" r="0.95"/><circle cx="466.6" cy="96.3" r="0.95"/><circle cx="495.5" cy="149.3" r="0.95"/><circle cx="478.5" cy="126.7" r="0.95"/><circle cx="470.8" cy="118.1" r="0.95"/><circle cx="462.5" cy="120.1" r="0.95"/><circle cx="483.1" cy="147.7" r="0.95"/><circle cx="484.7" cy="173.6" r="0.95"/><circle cx="485.1" cy="133.6" r="0.95"/><circle cx="479.8" cy="162.4" r="0.95"/><circle cx="505.2" cy="180.2" r="0.95"/><circle cx="468.8" cy="105.9" r="0.95"/><circle cx="476.7" cy="148.3" r="0.95"/><circle cx="479.6" cy="133.2" r="0.95"/><circle cx="458.4" cy="93.1" r="0.95"/><circle cx="470.7" cy="128.2" r="0.95"/><circle cx="466.2" cy="119.3" r="0.95"/><circle cx="490.4" cy="132.7" r="0.95"/><circle cx="483.9" cy="201.7" r="0.95"/><circle cx="461.3" cy="119.6" r="0.95"/><circle cx="503.0" cy="176.2" r="0.95"/><circle cx="498.9" cy="202.2" r="0.95"/><circle cx="496.3" cy="197.8" r="0.95"/><circle cx="489.5" cy="128.4" r="0.95"/><circle cx="496.8" cy="144.0" r="0.95"/><circle cx="503.1" cy="189.7" r="0.95"/><circle cx="446.9" cy="94.0" r="0.95"/><circle cx="465.8" cy="103.8" r="0.95"/><circle cx="511.6" cy="212.3" r="0.95"/><circle cx="488.6" cy="179.7" r="0.95"/><circle cx="472.8" cy="133.4" r="0.95"/><circle cx="501.1" cy="175.8" r="0.95"/><circle cx="489.8" cy="144.3" r="0.95"/><circle cx="514.7" cy="214.2" r="0.95"/><circle cx="479.5" cy="114.5" r="0.95"/><circle cx="488.6" cy="131.4" r="0.95"/><circle cx="463.6" cy="126.8" r="0.95"/><circle cx="463.4" cy="101.4" r="0.95"/><circle cx="493.1" cy="174.7" r="0.95"/><circle cx="468.2" cy="125.9" r="0.95"/><circle cx="500.2" cy="186.1" r="0.95"/><circle cx="492.7" cy="190.4" r="0.95"/><circle cx="509.6" cy="197.1" r="0.95"/><circle cx="481.0" cy="132.4" r="0.95"/><circle cx="488.3" cy="172.3" r="0.95"/><circle cx="470.9" cy="101.2" r="0.95"/><circle cx="478.3" cy="121.8" r="0.95"/><circle cx="448.9" cy="95.6" r="0.95"/><circle cx="464.7" cy="98.1" r="0.95"/><circle cx="465.9" cy="112.0" r="0.95"/><circle cx="476.1" cy="112.4" r="0.95"/><circle cx="493.0" cy="165.1" r="0.95"/><circle cx="481.4" cy="163.7" r="0.95"/><circle cx="462.9" cy="106.6" r="0.95"/><circle cx="496.0" cy="190.3" r="0.95"/><circle cx="477.8" cy="124.5" r="0.95"/><circle cx="477.1" cy="129.6" r="0.95"/><circle cx="467.9" cy="107.7" r="0.95"/><circle cx="494.8" cy="164.6" r="0.95"/><circle cx="505.5" cy="212.1" r="0.95"/><circle cx="504.4" cy="205.0" r="0.95"/><circle cx="480.6" cy="163.9" r="0.95"/><circle cx="444.9" cy="85.3" r="0.95"/><circle cx="460.6" cy="106.9" r="0.95"/><circle cx="505.7" cy="212.8" r="0.95"/><circle cx="479.8" cy="148.2" r="0.95"/><circle cx="474.8" cy="108.9" r="0.95"/><circle cx="487.7" cy="131.0" r="0.95"/><circle cx="478.6" cy="148.8" r="0.95"/><circle cx="479.0" cy="119.4" r="0.95"/><circle cx="496.3" cy="186.3" r="0.95"/><circle cx="491.6" cy="149.9" r="0.95"/><circle cx="481.6" cy="150.0" r="0.95"/><circle cx="478.4" cy="154.8" r="0.95"/><circle cx="500.0" cy="187.0" r="0.95"/><circle cx="475.3" cy="140.6" r="0.95"/><circle cx="455.6" cy="99.8" r="0.95"/><circle cx="493.4" cy="142.8" r="0.95"/><circle cx="494.1" cy="187.5" r="0.95"/><circle cx="470.8" cy="118.9" r="0.95"/><circle cx="499.3" cy="200.9" r="0.95"/><circle cx="470.6" cy="126.5" r="0.95"/><circle cx="498.3" cy="169.5" r="0.95"/><circle cx="488.0" cy="165.2" r="0.95"/><circle cx="499.4" cy="173.8" r="0.95"/><circle cx="466.3" cy="121.9" r="0.95"/><circle cx="481.6" cy="173.2" r="0.95"/><circle cx="505.3" cy="199.3" r="0.95"/><circle cx="485.2" cy="145.6" r="0.95"/><circle cx="497.7" cy="173.3" r="0.95"/><circle cx="493.4" cy="140.1" r="0.95"/><circle cx="509.3" cy="204.7" r="0.95"/><circle cx="492.8" cy="156.6" r="0.95"/><circle cx="507.5" cy="204.3" r="0.95"/><circle cx="475.5" cy="125.7" r="0.95"/><circle cx="474.9" cy="110.3" r="0.95"/><circle cx="474.3" cy="149.5" r="0.95"/><circle cx="487.6" cy="122.6" r="0.95"/><circle cx="481.3" cy="122.6" r="0.95"/><circle cx="463.7" cy="138.1" r="0.95"/><circle cx="481.3" cy="163.3" r="0.95"/><circle cx="503.0" cy="208.1" r="0.95"/><circle cx="482.5" cy="154.9" r="0.95"/><circle cx="496.3" cy="144.6" r="0.95"/><circle cx="478.2" cy="122.7" r="0.95"/><circle cx="504.3" cy="208.0" r="0.95"/><circle cx="485.8" cy="125.1" r="0.95"/><circle cx="471.1" cy="133.8" r="0.95"/><circle cx="504.0" cy="194.7" r="0.95"/><circle cx="491.1" cy="137.5" r="0.95"/><circle cx="503.9" cy="162.8" r="0.95"/><circle cx="500.1" cy="194.9" r="0.95"/><circle cx="477.8" cy="111.7" r="0.95"/><circle cx="469.7" cy="136.7" r="0.95"/><circle cx="487.1" cy="130.4" r="0.95"/><circle cx="495.7" cy="151.3" r="0.95"/><circle cx="461.2" cy="98.0" r="0.95"/><circle cx="501.9" cy="177.8" r="0.95"/><circle cx="461.7" cy="97.3" r="0.95"/><circle cx="513.5" cy="189.4" r="0.95"/><circle cx="490.3" cy="176.4" r="0.95"/><circle cx="507.5" cy="203.8" r="0.95"/><circle cx="506.4" cy="170.2" r="0.95"/><circle cx="481.7" cy="129.3" r="0.95"/><circle cx="480.8" cy="149.9" r="0.95"/><circle cx="470.1" cy="117.5" r="0.95"/><circle cx="510.6" cy="212.2" r="0.95"/><circle cx="501.1" cy="194.6" r="0.95"/><circle cx="458.9" cy="116.7" r="0.95"/><circle cx="499.2" cy="195.3" r="0.95"/><circle cx="502.3" cy="179.1" r="0.95"/><circle cx="471.0" cy="119.6" r="0.95"/><circle cx="470.0" cy="148.0" r="0.95"/><circle cx="481.4" cy="129.7" r="0.95"/><circle cx="493.7" cy="153.2" r="0.95"/><circle cx="501.3" cy="188.2" r="0.95"/><circle cx="449.7" cy="94.9" r="0.95"/><circle cx="492.9" cy="184.8" r="0.95"/><circle cx="442.9" cy="87.5" r="0.95"/><circle cx="490.6" cy="149.9" r="0.95"/><circle cx="494.9" cy="152.9" r="0.95"/><circle cx="488.0" cy="143.3" r="0.95"/><circle cx="489.4" cy="190.1" r="0.95"/><circle cx="485.6" cy="167.4" r="0.95"/><circle cx="513.6" cy="211.7" r="0.95"/><circle cx="511.3" cy="201.3" r="0.95"/><circle cx="496.3" cy="164.7" r="0.95"/><circle cx="495.3" cy="192.2" r="0.95"/><circle cx="498.3" cy="194.7" r="0.95"/><circle cx="445.1" cy="84.8" r="0.95"/><circle cx="511.9" cy="209.7" r="0.95"/><circle cx="464.7" cy="97.7" r="0.95"/><circle cx="502.1" cy="195.6" r="0.95"/><circle cx="509.4" cy="211.3" r="0.95"/><circle cx="477.8" cy="127.4" r="0.95"/><circle cx="464.2" cy="129.8" r="0.95"/><circle cx="508.8" cy="190.4" r="0.95"/><circle cx="503.4" cy="181.4" r="0.95"/><circle cx="467.7" cy="106.9" r="0.95"/><circle cx="467.9" cy="109.0" r="0.95"/><circle cx="458.5" cy="99.4" r="0.95"/><circle cx="510.8" cy="200.3" r="0.95"/><circle cx="470.8" cy="116.0" r="0.95"/><circle cx="506.3" cy="180.0" r="0.95"/><circle cx="460.7" cy="103.3" r="0.95"/><circle cx="490.1" cy="184.4" r="0.95"/><circle cx="502.8" cy="167.8" r="0.95"/><circle cx="469.1" cy="104.0" r="0.95"/><circle cx="502.2" cy="210.0" r="0.95"/><circle cx="493.4" cy="156.7" r="0.95"/><circle cx="490.7" cy="143.7" r="0.95"/><circle cx="509.8" cy="210.9" r="0.95"/><circle cx="509.7" cy="191.8" r="0.95"/><circle cx="489.6" cy="182.1" r="0.95"/><circle cx="471.4" cy="134.5" r="0.95"/><circle cx="472.9" cy="104.3" r="0.95"/><circle cx="514.9" cy="213.3" r="0.95"/><circle cx="472.8" cy="142.8" r="0.95"/><circle cx="479.8" cy="157.6" r="0.95"/><circle cx="481.6" cy="120.6" r="0.95"/><circle cx="468.3" cy="138.9" r="0.95"/><circle cx="454.5" cy="93.3" r="0.95"/><circle cx="512.0" cy="197.2" r="0.95"/><circle cx="488.5" cy="150.8" r="0.95"/><circle cx="501.1" cy="157.7" r="0.95"/><circle cx="481.8" cy="140.6" r="0.95"/><circle cx="501.8" cy="200.7" r="0.95"/><circle cx="509.8" cy="192.1" r="0.95"/><circle cx="514.3" cy="209.5" r="0.95"/><circle cx="474.5" cy="109.5" r="0.95"/><circle cx="504.4" cy="163.9" r="0.95"/><circle cx="498.9" cy="171.4" r="0.95"/><circle cx="502.6" cy="210.4" r="0.95"/><circle cx="497.5" cy="185.6" r="0.95"/><circle cx="502.2" cy="203.2" r="0.95"/><circle cx="494.1" cy="187.1" r="0.95"/><circle cx="505.1" cy="214.0" r="0.95"/><circle cx="489.9" cy="163.1" r="0.95"/><circle cx="467.2" cy="119.0" r="0.95"/><circle cx="479.3" cy="144.8" r="0.95"/><circle cx="506.5" cy="177.2" r="0.95"/><circle cx="487.4" cy="122.6" r="0.95"/><circle cx="504.9" cy="206.7" r="0.95"/><circle cx="510.1" cy="208.8" r="0.95"/><circle cx="490.9" cy="168.9" r="0.95"/><circle cx="456.2" cy="98.5" r="0.95"/><circle cx="479.2" cy="135.9" r="0.95"/><circle cx="487.1" cy="135.0" r="0.95"/><circle cx="510.4" cy="208.6" r="0.95"/><circle cx="476.2" cy="107.0" r="0.95"/><circle cx="494.2" cy="136.5" r="0.95"/><circle cx="489.1" cy="137.0" r="0.95"/><circle cx="465.6" cy="117.4" r="0.95"/><circle cx="498.5" cy="149.6" r="0.95"/><circle cx="493.0" cy="152.0" r="0.95"/><circle cx="494.5" cy="162.0" r="0.95"/><circle cx="486.8" cy="186.5" r="0.95"/><circle cx="492.2" cy="157.3" r="0.95"/><circle cx="511.1" cy="210.9" r="0.95"/><circle cx="473.8" cy="142.3" r="0.95"/><circle cx="490.7" cy="132.5" r="0.95"/><circle cx="468.9" cy="125.8" r="0.95"/><circle cx="498.0" cy="166.3" r="0.95"/><circle cx="458.6" cy="96.5" r="0.95"/><circle cx="497.1" cy="203.4" r="0.95"/><circle cx="503.6" cy="211.9" r="0.95"/><circle cx="480.4" cy="168.3" r="0.95"/><circle cx="477.0" cy="111.5" r="0.95"/><circle cx="507.9" cy="176.1" r="0.95"/><circle cx="485.0" cy="174.6" r="0.95"/><circle cx="505.7" cy="204.7" r="0.95"/><circle cx="490.6" cy="167.6" r="0.95"/><circle cx="495.5" cy="166.9" r="0.95"/><circle cx="492.0" cy="134.8" r="0.95"/><circle cx="455.2" cy="96.8" r="0.95"/><circle cx="505.9" cy="208.3" r="0.95"/><circle cx="483.0" cy="135.4" r="0.95"/><circle cx="504.7" cy="164.5" r="0.95"/><circle cx="467.8" cy="113.5" r="0.95"/><circle cx="481.2" cy="174.9" r="0.95"/><circle cx="497.8" cy="171.0" r="0.95"/><circle cx="468.4" cy="120.6" r="0.95"/><circle cx="501.3" cy="193.3" r="0.95"/><circle cx="495.6" cy="173.2" r="0.95"/><circle cx="484.9" cy="133.9" r="0.95"/><circle cx="503.2" cy="194.2" r="0.95"/><circle cx="502.8" cy="160.1" r="0.95"/><circle cx="486.2" cy="142.5" r="0.95"/><circle cx="499.3" cy="199.2" r="0.95"/><circle cx="460.3" cy="108.2" r="0.95"/><circle cx="507.1" cy="182.3" r="0.95"/><circle cx="469.4" cy="149.6" r="0.95"/><circle cx="446.1" cy="85.8" r="0.95"/><circle cx="484.6" cy="142.5" r="0.95"/><circle cx="509.1" cy="204.8" r="0.95"/><circle cx="468.8" cy="128.9" r="0.95"/><circle cx="447.4" cy="90.3" r="0.95"/><circle cx="488.3" cy="194.5" r="0.95"/><circle cx="445.8" cy="84.9" r="0.95"/><circle cx="472.3" cy="125.8" r="0.95"/><circle cx="482.0" cy="140.8" r="0.95"/><circle cx="501.2" cy="203.1" r="0.95"/><circle cx="510.1" cy="214.0" r="0.95"/><circle cx="454.4" cy="90.0" r="0.95"/><circle cx="455.7" cy="95.7" r="0.95"/><circle cx="487.8" cy="174.3" r="0.95"/><circle cx="506.3" cy="204.2" r="0.95"/><circle cx="483.7" cy="171.7" r="0.95"/><circle cx="483.6" cy="145.4" r="0.95"/><circle cx="490.5" cy="141.1" r="0.95"/><circle cx="465.5" cy="116.6" r="0.95"/><circle cx="483.5" cy="145.3" r="0.95"/><circle cx="475.8" cy="129.9" r="0.95"/><circle cx="503.8" cy="175.6" r="0.95"/><circle cx="481.8" cy="159.5" r="0.95"/><circle cx="502.0" cy="179.5" r="0.95"/><circle cx="479.4" cy="137.2" r="0.95"/><circle cx="513.1" cy="208.2" r="0.95"/><circle cx="460.4" cy="100.7" r="0.95"/><circle cx="500.4" cy="183.7" r="0.95"/><circle cx="488.1" cy="133.6" r="0.95"/><circle cx="482.9" cy="115.4" r="0.95"/><circle cx="500.7" cy="154.5" r="0.95"/><circle cx="475.1" cy="132.2" r="0.95"/><circle cx="464.9" cy="134.3" r="0.95"/><circle cx="475.6" cy="125.0" r="0.95"/><circle cx="488.5" cy="160.5" r="0.95"/><circle cx="502.4" cy="185.6" r="0.95"/><circle cx="504.1" cy="200.3" r="0.95"/><circle cx="490.5" cy="134.7" r="0.95"/><circle cx="507.9" cy="211.7" r="0.95"/><circle cx="456.1" cy="104.7" r="0.95"/><circle cx="474.4" cy="103.6" r="0.95"/><circle cx="503.1" cy="199.3" r="0.95"/><circle cx="470.0" cy="131.4" r="0.95"/><circle cx="472.8" cy="135.8" r="0.95"/><circle cx="471.2" cy="125.5" r="0.95"/><circle cx="469.0" cy="102.2" r="0.95"/><circle cx="485.8" cy="169.7" r="0.95"/><circle cx="499.0" cy="152.7" r="0.95"/><circle cx="511.1" cy="202.3" r="0.95"/><circle cx="496.3" cy="197.0" r="0.95"/><circle cx="487.5" cy="155.3" r="0.95"/><circle cx="474.2" cy="146.4" r="0.95"/><circle cx="479.1" cy="138.0" r="0.95"/><circle cx="491.5" cy="138.0" r="0.95"/><circle cx="475.4" cy="119.4" r="0.95"/><circle cx="506.0" cy="208.4" r="0.95"/><circle cx="493.4" cy="169.7" r="0.95"/><circle cx="466.8" cy="173.9" r="0.95"/><circle cx="450.7" cy="101.7" r="0.95"/><circle cx="513.7" cy="207.1" r="0.95"/><circle cx="458.4" cy="102.5" r="0.95"/><circle cx="491.4" cy="149.6" r="0.95"/><circle cx="455.1" cy="94.6" r="0.95"/><circle cx="496.0" cy="185.3" r="0.95"/><circle cx="511.3" cy="202.4" r="0.95"/><circle cx="501.7" cy="181.9" r="0.95"/><circle cx="487.5" cy="126.3" r="0.95"/><circle cx="489.3" cy="130.4" r="0.95"/><circle cx="464.9" cy="118.3" r="0.95"/><circle cx="482.8" cy="135.8" r="0.95"/><circle cx="505.0" cy="167.4" r="0.95"/><circle cx="498.9" cy="205.3" r="0.95"/><circle cx="495.8" cy="148.4" r="0.95"/><circle cx="479.7" cy="157.1" r="0.95"/><circle cx="499.4" cy="192.5" r="0.95"/><circle cx="497.1" cy="201.4" r="0.95"/><circle cx="487.0" cy="170.2" r="0.95"/><circle cx="479.2" cy="133.2" r="0.95"/><circle cx="485.6" cy="131.2" r="0.95"/><circle cx="466.8" cy="112.2" r="0.95"/><circle cx="470.3" cy="110.7" r="0.95"/><circle cx="449.9" cy="94.0" r="0.95"/><circle cx="506.3" cy="168.1" r="0.95"/><circle cx="492.1" cy="172.4" r="0.95"/><circle cx="514.0" cy="214.0" r="0.95"/><circle cx="504.4" cy="186.3" r="0.95"/><circle cx="484.3" cy="158.1" r="0.95"/><circle cx="472.6" cy="112.6" r="0.95"/><circle cx="494.6" cy="166.7" r="0.95"/><circle cx="488.1" cy="125.5" r="0.95"/><circle cx="512.3" cy="210.0" r="0.95"/><circle cx="504.6" cy="173.6" r="0.95"/><circle cx="482.0" cy="144.6" r="0.95"/><circle cx="504.7" cy="212.5" r="0.95"/><circle cx="482.1" cy="157.5" r="0.95"/><circle cx="473.2" cy="123.7" r="0.95"/><circle cx="504.8" cy="213.0" r="0.95"/><circle cx="473.4" cy="139.2" r="0.95"/><circle cx="507.3" cy="211.6" r="0.95"/><circle cx="491.7" cy="177.5" r="0.95"/><circle cx="494.0" cy="176.2" r="0.95"/><circle cx="482.5" cy="137.0" r="0.95"/><circle cx="486.5" cy="121.2" r="0.95"/><circle cx="496.0" cy="168.5" r="0.95"/><circle cx="504.0" cy="175.0" r="0.95"/><circle cx="506.2" cy="203.5" r="0.95"/><circle cx="476.5" cy="122.3" r="0.95"/><circle cx="490.1" cy="197.5" r="0.95"/><circle cx="484.7" cy="166.3" r="0.95"/><circle cx="513.4" cy="211.7" r="0.95"/><circle cx="464.7" cy="112.4" r="0.95"/><circle cx="506.9" cy="207.2" r="0.95"/><circle cx="500.2" cy="199.5" r="0.95"/><circle cx="484.6" cy="148.6" r="0.95"/><circle cx="458.9" cy="162.4" r="0.95"/><circle cx="505.7" cy="167.4" r="0.95"/><circle cx="485.2" cy="138.7" r="0.95"/><circle cx="458.7" cy="109.3" r="0.95"/><circle cx="486.5" cy="172.9" r="0.95"/><circle cx="455.2" cy="97.1" r="0.95"/><circle cx="496.7" cy="191.3" r="0.95"/><circle cx="488.4" cy="136.7" r="0.95"/><circle cx="513.0" cy="187.8" r="0.95"/><circle cx="508.5" cy="208.2" r="0.95"/><circle cx="469.4" cy="130.7" r="0.95"/><circle cx="470.1" cy="157.6" r="0.95"/><circle cx="509.0" cy="192.0" r="0.95"/><circle cx="471.6" cy="133.0" r="0.95"/><circle cx="472.7" cy="148.0" r="0.95"/><circle cx="502.5" cy="184.3" r="0.95"/><circle cx="487.7" cy="124.5" r="0.95"/><circle cx="510.0" cy="211.6" r="0.95"/><circle cx="483.7" cy="136.5" r="0.95"/><circle cx="502.9" cy="178.4" r="0.95"/><circle cx="469.3" cy="100.4" r="0.95"/><circle cx="501.1" cy="153.0" r="0.95"/><circle cx="496.7" cy="180.1" r="0.95"/><circle cx="505.0" cy="211.2" r="0.95"/><circle cx="472.6" cy="104.9" r="0.95"/><circle cx="492.4" cy="188.5" r="0.95"/><circle cx="486.7" cy="140.8" r="0.95"/><circle cx="510.2" cy="189.1" r="0.95"/><circle cx="494.8" cy="177.5" r="0.95"/><circle cx="476.5" cy="151.5" r="0.95"/><circle cx="470.1" cy="130.1" r="0.95"/><circle cx="505.7" cy="175.6" r="0.95"/><circle cx="505.0" cy="167.1" r="0.95"/><circle cx="469.8" cy="133.5" r="0.95"/><circle cx="509.1" cy="211.7" r="0.95"/><circle cx="498.5" cy="179.0" r="0.95"/><circle cx="484.5" cy="142.6" r="0.95"/><circle cx="470.7" cy="106.7" r="0.95"/><circle cx="510.3" cy="212.5" r="0.95"/><circle cx="442.9" cy="102.0" r="0.95"/><circle cx="486.5" cy="158.7" r="0.95"/><circle cx="486.8" cy="179.6" r="0.95"/><circle cx="508.9" cy="191.2" r="0.95"/><circle cx="511.7" cy="182.4" r="0.95"/><circle cx="487.8" cy="134.3" r="0.95"/><circle cx="479.9" cy="137.9" r="0.95"/><circle cx="499.9" cy="205.8" r="0.95"/><circle cx="455.7" cy="92.6" r="0.95"/><circle cx="474.6" cy="128.0" r="0.95"/><circle cx="474.5" cy="141.6" r="0.95"/><circle cx="487.5" cy="134.2" r="0.95"/><circle cx="467.7" cy="105.7" r="0.95"/><circle cx="468.7" cy="122.5" r="0.95"/><circle cx="461.7" cy="105.8" r="0.95"/><circle cx="500.2" cy="154.8" r="0.95"/><circle cx="485.5" cy="127.6" r="0.95"/><circle cx="455.9" cy="98.9" r="0.95"/><circle cx="482.8" cy="121.1" r="0.95"/><circle cx="484.1" cy="121.9" r="0.95"/><circle cx="464.3" cy="103.6" r="0.95"/><circle cx="493.7" cy="140.5" r="0.95"/><circle cx="507.1" cy="193.3" r="0.95"/><circle cx="457.9" cy="105.0" r="0.95"/><circle cx="512.1" cy="206.2" r="0.95"/><circle cx="458.7" cy="93.0" r="0.95"/><circle cx="452.3" cy="94.5" r="0.95"/><circle cx="500.4" cy="150.6" r="0.95"/><circle cx="474.6" cy="127.8" r="0.95"/><circle cx="479.2" cy="118.1" r="0.95"/><circle cx="500.8" cy="207.1" r="0.95"/><circle cx="502.3" cy="188.9" r="0.95"/><circle cx="465.6" cy="102.4" r="0.95"/><circle cx="512.1" cy="210.0" r="0.95"/><circle cx="455.6" cy="101.3" r="0.95"/><circle cx="513.1" cy="205.9" r="0.95"/><circle cx="477.7" cy="108.0" r="0.95"/><circle cx="501.7" cy="209.4" r="0.95"/><circle cx="498.6" cy="164.9" r="0.95"/><circle cx="505.8" cy="197.6" r="0.95"/><circle cx="481.7" cy="163.1" r="0.95"/><circle cx="485.8" cy="123.9" r="0.95"/><circle cx="508.6" cy="204.3" r="0.95"/><circle cx="465.6" cy="118.2" r="0.95"/><circle cx="510.5" cy="210.1" r="0.95"/><circle cx="499.8" cy="154.2" r="0.95"/><circle cx="511.0" cy="205.8" r="0.95"/><circle cx="513.2" cy="206.2" r="0.95"/><circle cx="478.1" cy="133.2" r="0.95"/><circle cx="507.2" cy="171.4" r="0.95"/><circle cx="479.8" cy="148.1" r="0.95"/><circle cx="448.5" cy="85.5" r="0.95"/><circle cx="492.7" cy="133.9" r="0.95"/><circle cx="486.4" cy="125.4" r="0.95"/><circle cx="507.7" cy="210.8" r="0.95"/><circle cx="506.4" cy="194.1" r="0.95"/><circle cx="467.4" cy="118.5" r="0.95"/><circle cx="482.8" cy="137.1" r="0.95"/><circle cx="439.8" cy="84.3" r="0.95"/><circle cx="501.6" cy="191.8" r="0.95"/><circle cx="470.8" cy="131.0" r="0.95"/><circle cx="506.9" cy="193.3" r="0.95"/><circle cx="469.7" cy="113.3" r="0.95"/><circle cx="493.3" cy="185.6" r="0.95"/><circle cx="452.7" cy="95.5" r="0.95"/><circle cx="493.8" cy="168.8" r="0.95"/><circle cx="498.6" cy="204.0" r="0.95"/><circle cx="504.4" cy="160.7" r="0.95"/><circle cx="491.9" cy="199.5" r="0.95"/><circle cx="465.0" cy="117.6" r="0.95"/><circle cx="511.0" cy="200.8" r="0.95"/><circle cx="486.2" cy="167.7" r="0.95"/><circle cx="473.1" cy="109.3" r="0.95"/><circle cx="478.6" cy="132.4" r="0.95"/><circle cx="499.5" cy="203.6" r="0.95"/><circle cx="504.1" cy="178.1" r="0.95"/><circle cx="502.4" cy="195.1" r="0.95"/><circle cx="491.9" cy="160.8" r="0.95"/><circle cx="473.0" cy="109.0" r="0.95"/><circle cx="508.1" cy="177.6" r="0.95"/><circle cx="445.1" cy="99.1" r="0.95"/><circle cx="463.6" cy="132.0" r="0.95"/><circle cx="497.0" cy="172.7" r="0.95"/><circle cx="474.3" cy="153.0" r="0.95"/><circle cx="469.7" cy="102.9" r="0.95"/><circle cx="507.7" cy="189.0" r="0.95"/><circle cx="506.1" cy="212.4" r="0.95"/><circle cx="459.8" cy="123.7" r="0.95"/><circle cx="507.5" cy="185.4" r="0.95"/><circle cx="483.5" cy="151.6" r="0.95"/><circle cx="482.0" cy="147.8" r="0.95"/><circle cx="502.8" cy="178.5" r="0.95"/><circle cx="474.0" cy="129.1" r="0.95"/><circle cx="508.7" cy="177.9" r="0.95"/><circle cx="504.0" cy="212.4" r="0.95"/><circle cx="505.7" cy="167.4" r="0.95"/><circle cx="475.5" cy="148.6" r="0.95"/><circle cx="499.7" cy="151.1" r="0.95"/><circle cx="491.7" cy="130.8" r="0.95"/><circle cx="479.5" cy="153.6" r="0.95"/><circle cx="499.3" cy="187.6" r="0.95"/><circle cx="474.9" cy="136.6" r="0.95"/><circle cx="494.7" cy="160.7" r="0.95"/><circle cx="511.7" cy="207.2" r="0.95"/><circle cx="507.4" cy="211.7" r="0.95"/><circle cx="503.9" cy="169.8" r="0.95"/><circle cx="482.0" cy="159.7" r="0.95"/><circle cx="499.9" cy="189.0" r="0.95"/><circle cx="498.7" cy="202.5" r="0.95"/><circle cx="477.3" cy="169.2" r="0.95"/><circle cx="491.0" cy="182.9" r="0.95"/><circle cx="501.1" cy="199.9" r="0.95"/><circle cx="475.3" cy="147.6" r="0.95"/><circle cx="493.3" cy="185.6" r="0.95"/><circle cx="474.5" cy="119.1" r="0.95"/><circle cx="500.2" cy="195.9" r="0.95"/><circle cx="478.1" cy="136.3" r="0.95"/><circle cx="487.6" cy="136.1" r="0.95"/><circle cx="505.3" cy="197.5" r="0.95"/><circle cx="487.1" cy="139.5" r="0.95"/><circle cx="479.5" cy="129.2" r="0.95"/><circle cx="469.6" cy="117.8" r="0.95"/><circle cx="469.1" cy="125.5" r="0.95"/><circle cx="510.0" cy="205.3" r="0.95"/><circle cx="464.6" cy="99.5" r="0.95"/><circle cx="471.3" cy="112.6" r="0.95"/><circle cx="494.1" cy="167.6" r="0.95"/><circle cx="451.4" cy="95.0" r="0.95"/><circle cx="478.8" cy="144.1" r="0.95"/><circle cx="478.2" cy="113.8" r="0.95"/><circle cx="498.2" cy="187.1" r="0.95"/><circle cx="514.8" cy="204.6" r="0.95"/><circle cx="495.0" cy="190.6" r="0.95"/><circle cx="509.8" cy="192.9" r="0.95"/><circle cx="470.8" cy="171.5" r="0.95"/><circle cx="467.5" cy="138.1" r="0.95"/><circle cx="472.3" cy="132.3" r="0.95"/><circle cx="473.7" cy="104.2" r="0.95"/><circle cx="492.9" cy="184.9" r="0.95"/><circle cx="509.6" cy="177.5" r="0.95"/><circle cx="450.1" cy="92.9" r="0.95"/><circle cx="491.2" cy="175.6" r="0.95"/><circle cx="487.3" cy="131.3" r="0.95"/><circle cx="500.7" cy="189.1" r="0.95"/><circle cx="462.6" cy="99.8" r="0.95"/><circle cx="456.6" cy="97.8" r="0.95"/><circle cx="513.9" cy="195.9" r="0.95"/><circle cx="478.6" cy="151.0" r="0.95"/><circle cx="488.5" cy="152.2" r="0.95"/><circle cx="484.3" cy="128.1" r="0.95"/><circle cx="480.8" cy="168.1" r="0.95"/><circle cx="509.8" cy="203.3" r="0.95"/><circle cx="505.4" cy="166.6" r="0.95"/><circle cx="504.7" cy="202.2" r="0.95"/><circle cx="493.7" cy="195.4" r="0.95"/><circle cx="459.3" cy="96.1" r="0.95"/><circle cx="491.6" cy="162.5" r="0.95"/><circle cx="498.6" cy="204.6" r="0.95"/><circle cx="486.5" cy="181.1" r="0.95"/><circle cx="502.4" cy="165.4" r="0.95"/><circle cx="503.8" cy="164.9" r="0.95"/><circle cx="495.2" cy="199.1" r="0.95"/><circle cx="492.7" cy="191.6" r="0.95"/><circle cx="485.7" cy="140.4" r="0.95"/><circle cx="487.8" cy="142.9" r="0.95"/><circle cx="506.3" cy="168.7" r="0.95"/><circle cx="478.4" cy="147.3" r="0.95"/><circle cx="505.0" cy="186.3" r="0.95"/><circle cx="501.5" cy="154.4" r="0.95"/><circle cx="487.9" cy="169.8" r="0.95"/><circle cx="510.6" cy="182.8" r="0.95"/><circle cx="475.8" cy="132.5" r="0.95"/><circle cx="474.4" cy="140.6" r="0.95"/><circle cx="486.4" cy="183.3" r="0.95"/><circle cx="474.0" cy="140.2" r="0.95"/><circle cx="507.1" cy="188.7" r="0.95"/><circle cx="482.3" cy="157.5" r="0.95"/><circle cx="475.7" cy="108.6" r="0.95"/><circle cx="486.3" cy="184.3" r="0.95"/><circle cx="505.0" cy="195.9" r="0.95"/><circle cx="504.3" cy="187.8" r="0.95"/><circle cx="488.3" cy="136.1" r="0.95"/><circle cx="469.7" cy="123.6" r="0.95"/><circle cx="492.0" cy="133.7" r="0.95"/><circle cx="513.3" cy="187.5" r="0.95"/><circle cx="459.5" cy="98.0" r="0.95"/><circle cx="491.1" cy="168.4" r="0.95"/><circle cx="488.0" cy="145.9" r="0.95"/><circle cx="496.6" cy="162.1" r="0.95"/><circle cx="449.2" cy="87.2" r="0.95"/><circle cx="443.9" cy="84.1" r="0.95"/><circle cx="477.8" cy="149.1" r="0.95"/><circle cx="478.3" cy="141.7" r="0.95"/><circle cx="462.5" cy="107.9" r="0.95"/><circle cx="510.0" cy="214.1" r="0.95"/><circle cx="490.7" cy="148.8" r="0.95"/><circle cx="494.4" cy="153.4" r="0.95"/></g>
<g fill="#3d51a4"><circle cx="422.9" cy="75.1" r="0.95"/><circle cx="416.6" cy="72.9" r="0.95"/><circle cx="457.1" cy="70.9" r="0.95"/><circle cx="469.0" cy="85.7" r="0.95"/><circle cx="413.9" cy="72.9" r="0.95"/><circle cx="463.2" cy="67.4" r="0.95"/><circle cx="425.3" cy="63.6" r="0.95"/><circle cx="468.4" cy="68.2" r="0.95"/><circle cx="467.7" cy="71.7" r="0.95"/><circle cx="423.7" cy="80.6" r="0.95"/><circle cx="467.2" cy="80.3" r="0.95"/><circle cx="423.1" cy="74.7" r="0.95"/><circle cx="428.3" cy="61.1" r="0.95"/><circle cx="467.8" cy="72.4" r="0.95"/><circle cx="441.8" cy="75.9" r="0.95"/><circle cx="455.2" cy="60.7" r="0.95"/><circle cx="439.0" cy="63.3" r="0.95"/><circle cx="444.3" cy="56.8" r="0.95"/><circle cx="434.2" cy="77.0" r="0.95"/><circle cx="455.4" cy="71.8" r="0.95"/><circle cx="447.5" cy="84.2" r="0.95"/><circle cx="468.8" cy="73.3" r="0.95"/><circle cx="447.7" cy="57.4" r="0.95"/><circle cx="430.2" cy="74.5" r="0.95"/></g>
<path d="M624.0,62.0 L621.1,65.8 L618.3,69.6 L615.4,73.4 L612.4,77.2 L609.4,81.1 L606.4,84.9 L603.7,88.7 L600.9,92.5 L598.2,96.3 L595.8,100.1 L593.5,103.9 L591.3,107.8 L589.1,111.6 L587.2,115.4 L585.2,119.2 L583.3,123.0 L581.4,126.8 L579.4,130.6 L577.5,134.4 L575.8,138.2 L574.3,142.1 L572.8,145.9 L571.3,149.7 L569.8,153.5 L568.3,157.3 L566.7,161.1 L565.9,164.9 L565.1,168.8 L564.4,172.6 L563.6,176.4 L562.9,180.2 L562.1,184.0 L561.5,187.8 L561.5,191.6 L561.5,195.4 L561.5,199.2 L561.5,203.1 L561.5,206.9 L561.5,210.7 L561.5,214.5 L568.7,214.5 L570.1,210.7 L571.5,206.9 L572.9,203.1 L574.2,199.2 L575.6,195.4 L577.0,191.6 L578.4,187.8 L579.4,184.0 L580.4,180.2 L581.3,176.4 L582.3,172.6 L583.2,168.8 L584.1,164.9 L585.1,161.1 L586.5,157.3 L587.8,153.5 L589.2,149.7 L590.5,145.9 L591.9,142.1 L593.2,138.2 L594.6,134.4 L596.3,130.6 L596.3,126.8 L596.1,123.0 L596.0,119.2 L595.9,115.4 L595.9,111.6 L595.0,107.8 L593.5,103.9 L595.8,100.1 L598.2,96.3 L600.9,92.5 L603.7,88.7 L606.4,84.9 L609.4,81.1 L612.4,77.2 L615.4,73.4 L618.3,69.6 L621.1,65.8 L624.0,62.0 Z" fill="#8c1616"/><g fill="#8c1616"><circle cx="613.6" cy="93.9" r="0.95"/><circle cx="616.9" cy="97.4" r="0.95"/><circle cx="589.9" cy="137.0" r="0.95"/><circle cx="585.5" cy="149.1" r="0.95"/><circle cx="596.6" cy="102.1" r="0.95"/><circle cx="616.3" cy="108.6" r="0.95"/><circle cx="614.8" cy="111.2" r="0.95"/><circle cx="588.5" cy="144.1" r="0.95"/><circle cx="590.0" cy="135.8" r="0.95"/><circle cx="585.9" cy="152.7" r="0.95"/><circle cx="620.8" cy="137.7" r="0.95"/><circle cx="600.0" cy="125.6" r="0.95"/><circle cx="628.2" cy="77.8" r="0.95"/><circle cx="573.4" cy="203.6" r="0.95"/><circle cx="574.1" cy="193.8" r="0.95"/><circle cx="598.0" cy="117.6" r="0.95"/><circle cx="567.6" cy="189.4" r="0.95"/><circle cx="565.9" cy="178.9" r="0.95"/><circle cx="600.3" cy="139.6" r="0.95"/><circle cx="596.5" cy="106.3" r="0.95"/><circle cx="601.3" cy="111.9" r="0.95"/><circle cx="600.5" cy="112.2" r="0.95"/><circle cx="590.9" cy="143.8" r="0.95"/><circle cx="594.7" cy="143.9" r="0.95"/><circle cx="565.6" cy="181.0" r="0.95"/><circle cx="589.6" cy="116.5" r="0.95"/><circle cx="594.7" cy="151.6" r="0.95"/><circle cx="568.0" cy="213.6" r="0.95"/><circle cx="582.7" cy="150.0" r="0.95"/><circle cx="607.8" cy="108.9" r="0.95"/><circle cx="596.0" cy="142.1" r="0.95"/><circle cx="582.5" cy="132.3" r="0.95"/><circle cx="611.4" cy="90.8" r="0.95"/><circle cx="599.4" cy="106.4" r="0.95"/><circle cx="620.8" cy="78.5" r="0.95"/><circle cx="601.6" cy="103.6" r="0.95"/><circle cx="590.5" cy="156.6" r="0.95"/><circle cx="574.4" cy="203.7" r="0.95"/><circle cx="630.4" cy="72.3" r="0.95"/><circle cx="606.0" cy="113.7" r="0.95"/><circle cx="572.3" cy="199.7" r="0.95"/><circle cx="569.5" cy="177.3" r="0.95"/><circle cx="608.0" cy="93.0" r="0.95"/><circle cx="600.1" cy="133.5" r="0.95"/><circle cx="616.9" cy="90.9" r="0.95"/><circle cx="618.3" cy="98.5" r="0.95"/><circle cx="598.5" cy="156.0" r="0.95"/><circle cx="579.0" cy="185.2" r="0.95"/><circle cx="582.9" cy="184.3" r="0.95"/><circle cx="584.9" cy="187.3" r="0.95"/><circle cx="576.3" cy="196.2" r="0.95"/><circle cx="577.3" cy="135.7" r="0.95"/><circle cx="564.6" cy="212.6" r="0.95"/><circle cx="573.3" cy="159.4" r="0.95"/><circle cx="587.9" cy="159.3" r="0.95"/><circle cx="596.3" cy="103.2" r="0.95"/><circle cx="581.1" cy="139.5" r="0.95"/><circle cx="592.6" cy="152.0" r="0.95"/><circle cx="562.4" cy="195.0" r="0.95"/><circle cx="587.7" cy="134.7" r="0.95"/><circle cx="597.7" cy="116.8" r="0.95"/><circle cx="575.2" cy="158.3" r="0.95"/><circle cx="587.1" cy="140.2" r="0.95"/><circle cx="610.9" cy="85.5" r="0.95"/><circle cx="589.0" cy="163.6" r="0.95"/><circle cx="585.0" cy="162.5" r="0.95"/><circle cx="567.2" cy="188.7" r="0.95"/><circle cx="603.0" cy="120.6" r="0.95"/><circle cx="565.4" cy="168.0" r="0.95"/><circle cx="608.3" cy="147.6" r="0.95"/><circle cx="564.9" cy="197.1" r="0.95"/><circle cx="572.7" cy="195.3" r="0.95"/><circle cx="567.6" cy="163.0" r="0.95"/><circle cx="581.0" cy="142.8" r="0.95"/><circle cx="589.1" cy="147.6" r="0.95"/><circle cx="604.4" cy="136.2" r="0.95"/><circle cx="590.7" cy="131.8" r="0.95"/><circle cx="569.9" cy="213.0" r="0.95"/><circle cx="564.5" cy="205.1" r="0.95"/><circle cx="591.0" cy="126.9" r="0.95"/><circle cx="583.5" cy="127.4" r="0.95"/><circle cx="621.8" cy="108.2" r="0.95"/><circle cx="582.1" cy="195.3" r="0.95"/><circle cx="580.6" cy="135.0" r="0.95"/><circle cx="585.9" cy="172.5" r="0.95"/><circle cx="610.9" cy="116.7" r="0.95"/><circle cx="568.1" cy="205.0" r="0.95"/><circle cx="609.1" cy="97.0" r="0.95"/><circle cx="577.5" cy="193.4" r="0.95"/><circle cx="563.4" cy="211.4" r="0.95"/><circle cx="569.7" cy="203.5" r="0.95"/><circle cx="589.5" cy="155.9" r="0.95"/><circle cx="570.8" cy="212.6" r="0.95"/><circle cx="608.8" cy="107.8" r="0.95"/><circle cx="601.2" cy="132.7" r="0.95"/><circle cx="624.8" cy="110.7" r="0.95"/><circle cx="565.9" cy="177.0" r="0.95"/><circle cx="591.8" cy="128.2" r="0.95"/><circle cx="570.9" cy="164.5" r="0.95"/><circle cx="571.8" cy="194.0" r="0.95"/><circle cx="594.8" cy="125.3" r="0.95"/><circle cx="591.3" cy="129.8" r="0.95"/><circle cx="603.9" cy="107.8" r="0.95"/><circle cx="580.6" cy="182.8" r="0.95"/><circle cx="604.4" cy="93.2" r="0.95"/><circle cx="564.8" cy="196.3" r="0.95"/><circle cx="577.2" cy="164.3" r="0.95"/><circle cx="604.3" cy="112.8" r="0.95"/><circle cx="591.1" cy="109.7" r="0.95"/><circle cx="596.9" cy="100.3" r="0.95"/><circle cx="567.0" cy="167.3" r="0.95"/><circle cx="567.6" cy="205.6" r="0.95"/><circle cx="603.2" cy="120.2" r="0.95"/><circle cx="590.2" cy="142.0" r="0.95"/><circle cx="569.2" cy="165.0" r="0.95"/><circle cx="583.1" cy="128.5" r="0.95"/><circle cx="563.0" cy="187.1" r="0.95"/><circle cx="569.1" cy="209.6" r="0.95"/><circle cx="586.1" cy="162.5" r="0.95"/><circle cx="597.4" cy="166.8" r="0.95"/><circle cx="569.4" cy="154.5" r="0.95"/><circle cx="566.7" cy="214.4" r="0.95"/><circle cx="565.8" cy="195.2" r="0.95"/><circle cx="562.9" cy="206.5" r="0.95"/><circle cx="606.3" cy="105.4" r="0.95"/><circle cx="578.4" cy="176.6" r="0.95"/><circle cx="574.6" cy="175.7" r="0.95"/><circle cx="615.4" cy="91.5" r="0.95"/><circle cx="603.7" cy="117.5" r="0.95"/><circle cx="608.1" cy="101.3" r="0.95"/><circle cx="583.3" cy="180.7" r="0.95"/><circle cx="574.7" cy="162.0" r="0.95"/><circle cx="570.7" cy="210.7" r="0.95"/><circle cx="631.2" cy="77.1" r="0.95"/><circle cx="605.1" cy="89.8" r="0.95"/><circle cx="588.1" cy="154.0" r="0.95"/><circle cx="591.2" cy="152.7" r="0.95"/><circle cx="571.4" cy="211.8" r="0.95"/><circle cx="561.8" cy="211.9" r="0.95"/><circle cx="576.6" cy="153.4" r="0.95"/><circle cx="590.4" cy="111.0" r="0.95"/><circle cx="567.7" cy="211.6" r="0.95"/><circle cx="595.1" cy="134.2" r="0.95"/><circle cx="590.7" cy="155.2" r="0.95"/><circle cx="600.3" cy="147.3" r="0.95"/><circle cx="561.6" cy="194.8" r="0.95"/><circle cx="581.4" cy="186.8" r="0.95"/><circle cx="569.6" cy="176.4" r="0.95"/><circle cx="577.3" cy="135.9" r="0.95"/><circle cx="583.8" cy="193.0" r="0.95"/><circle cx="612.7" cy="113.7" r="0.95"/><circle cx="611.3" cy="126.8" r="0.95"/><circle cx="565.1" cy="196.4" r="0.95"/><circle cx="614.9" cy="115.6" r="0.95"/><circle cx="565.8" cy="171.3" r="0.95"/><circle cx="612.0" cy="88.9" r="0.95"/><circle cx="578.0" cy="134.6" r="0.95"/><circle cx="592.5" cy="128.5" r="0.95"/><circle cx="584.5" cy="122.8" r="0.95"/><circle cx="595.4" cy="151.7" r="0.95"/><circle cx="562.6" cy="187.6" r="0.95"/><circle cx="578.5" cy="194.7" r="0.95"/><circle cx="579.4" cy="137.3" r="0.95"/><circle cx="598.0" cy="114.8" r="0.95"/><circle cx="606.1" cy="110.4" r="0.95"/><circle cx="579.2" cy="136.9" r="0.95"/><circle cx="607.9" cy="113.8" r="0.95"/><circle cx="571.2" cy="187.8" r="0.95"/><circle cx="574.2" cy="195.1" r="0.95"/><circle cx="611.5" cy="88.8" r="0.95"/><circle cx="570.6" cy="157.7" r="0.95"/><circle cx="580.2" cy="188.7" r="0.95"/><circle cx="570.9" cy="166.6" r="0.95"/><circle cx="576.8" cy="175.7" r="0.95"/><circle cx="606.5" cy="118.2" r="0.95"/><circle cx="590.9" cy="166.3" r="0.95"/><circle cx="577.9" cy="185.7" r="0.95"/><circle cx="567.1" cy="169.4" r="0.95"/><circle cx="572.1" cy="210.7" r="0.95"/><circle cx="612.9" cy="102.2" r="0.95"/><circle cx="605.2" cy="97.2" r="0.95"/><circle cx="627.0" cy="101.8" r="0.95"/><circle cx="626.4" cy="75.7" r="0.95"/><circle cx="610.8" cy="115.8" r="0.95"/><circle cx="579.6" cy="182.5" r="0.95"/><circle cx="591.0" cy="142.8" r="0.95"/><circle cx="575.3" cy="169.6" r="0.95"/><circle cx="596.9" cy="167.5" r="0.95"/><circle cx="594.6" cy="125.3" r="0.95"/><circle cx="630.6" cy="65.2" r="0.95"/><circle cx="610.0" cy="95.2" r="0.95"/><circle cx="572.8" cy="153.9" r="0.95"/><circle cx="570.3" cy="209.9" r="0.95"/><circle cx="571.0" cy="193.9" r="0.95"/><circle cx="576.7" cy="189.4" r="0.95"/><circle cx="578.6" cy="173.5" r="0.95"/><circle cx="615.4" cy="90.4" r="0.95"/><circle cx="603.0" cy="119.0" r="0.95"/><circle cx="600.9" cy="112.2" r="0.95"/><circle cx="566.6" cy="168.2" r="0.95"/><circle cx="579.4" cy="195.4" r="0.95"/><circle cx="600.2" cy="129.1" r="0.95"/><circle cx="589.0" cy="159.5" r="0.95"/><circle cx="592.3" cy="144.8" r="0.95"/><circle cx="612.9" cy="83.2" r="0.95"/><circle cx="589.7" cy="136.7" r="0.95"/><circle cx="584.8" cy="156.8" r="0.95"/><circle cx="566.7" cy="191.9" r="0.95"/><circle cx="596.9" cy="110.6" r="0.95"/><circle cx="606.2" cy="88.4" r="0.95"/><circle cx="599.5" cy="118.5" r="0.95"/><circle cx="591.6" cy="146.0" r="0.95"/><circle cx="574.6" cy="202.1" r="0.95"/><circle cx="580.8" cy="136.5" r="0.95"/><circle cx="573.8" cy="198.1" r="0.95"/><circle cx="596.0" cy="150.8" r="0.95"/><circle cx="592.8" cy="152.9" r="0.95"/><circle cx="602.1" cy="114.6" r="0.95"/><circle cx="589.8" cy="140.5" r="0.95"/><circle cx="589.9" cy="115.8" r="0.95"/><circle cx="581.3" cy="159.9" r="0.95"/><circle cx="591.4" cy="150.0" r="0.95"/><circle cx="588.4" cy="154.1" r="0.95"/><circle cx="614.7" cy="90.5" r="0.95"/><circle cx="568.4" cy="173.0" r="0.95"/><circle cx="598.9" cy="132.0" r="0.95"/><circle cx="605.7" cy="90.5" r="0.95"/><circle cx="626.7" cy="67.0" r="0.95"/><circle cx="568.2" cy="182.7" r="0.95"/><circle cx="616.1" cy="77.4" r="0.95"/><circle cx="599.3" cy="117.9" r="0.95"/><circle cx="583.1" cy="170.7" r="0.95"/><circle cx="601.0" cy="113.6" r="0.95"/><circle cx="567.9" cy="207.7" r="0.95"/><circle cx="595.3" cy="118.8" r="0.95"/><circle cx="603.2" cy="128.8" r="0.95"/><circle cx="569.9" cy="199.6" r="0.95"/><circle cx="577.3" cy="159.5" r="0.95"/><circle cx="609.5" cy="107.4" r="0.95"/><circle cx="579.1" cy="156.6" r="0.95"/><circle cx="600.5" cy="137.7" r="0.95"/><circle cx="618.2" cy="81.8" r="0.95"/><circle cx="561.9" cy="207.8" r="0.95"/><circle cx="581.1" cy="129.9" r="0.95"/><circle cx="607.8" cy="120.4" r="0.95"/><circle cx="578.4" cy="159.7" r="0.95"/><circle cx="595.4" cy="102.0" r="0.95"/><circle cx="573.5" cy="174.6" r="0.95"/><circle cx="576.7" cy="146.8" r="0.95"/><circle cx="604.8" cy="111.5" r="0.95"/><circle cx="599.9" cy="136.1" r="0.95"/><circle cx="604.3" cy="127.6" r="0.95"/><circle cx="614.1" cy="92.4" r="0.95"/><circle cx="599.7" cy="145.2" r="0.95"/><circle cx="570.1" cy="198.9" r="0.95"/><circle cx="565.6" cy="213.7" r="0.95"/><circle cx="565.2" cy="184.2" r="0.95"/><circle cx="575.3" cy="210.9" r="0.95"/><circle cx="612.9" cy="90.3" r="0.95"/><circle cx="585.3" cy="174.1" r="0.95"/><circle cx="591.8" cy="176.8" r="0.95"/><circle cx="600.1" cy="125.9" r="0.95"/><circle cx="582.1" cy="129.8" r="0.95"/><circle cx="569.5" cy="168.7" r="0.95"/><circle cx="576.5" cy="137.6" r="0.95"/><circle cx="606.5" cy="90.0" r="0.95"/><circle cx="593.3" cy="118.2" r="0.95"/><circle cx="596.0" cy="114.1" r="0.95"/><circle cx="582.5" cy="165.2" r="0.95"/><circle cx="606.2" cy="109.9" r="0.95"/><circle cx="568.8" cy="168.6" r="0.95"/><circle cx="589.2" cy="138.2" r="0.95"/><circle cx="606.5" cy="109.1" r="0.95"/><circle cx="588.3" cy="179.8" r="0.95"/><circle cx="605.9" cy="109.3" r="0.95"/><circle cx="572.6" cy="188.2" r="0.95"/><circle cx="594.3" cy="176.8" r="0.95"/><circle cx="567.5" cy="199.7" r="0.95"/><circle cx="607.1" cy="109.4" r="0.95"/><circle cx="609.5" cy="86.9" r="0.95"/><circle cx="620.9" cy="83.2" r="0.95"/><circle cx="576.9" cy="188.5" r="0.95"/><circle cx="573.7" cy="201.9" r="0.95"/><circle cx="582.5" cy="189.8" r="0.95"/><circle cx="569.3" cy="163.5" r="0.95"/><circle cx="583.2" cy="166.8" r="0.95"/><circle cx="605.7" cy="91.7" r="0.95"/><circle cx="571.3" cy="193.8" r="0.95"/><circle cx="569.2" cy="211.9" r="0.95"/><circle cx="600.4" cy="114.8" r="0.95"/><circle cx="587.6" cy="159.3" r="0.95"/><circle cx="594.8" cy="135.8" r="0.95"/><circle cx="573.1" cy="149.9" r="0.95"/><circle cx="571.0" cy="209.5" r="0.95"/><circle cx="572.9" cy="203.6" r="0.95"/><circle cx="592.1" cy="107.8" r="0.95"/><circle cx="576.3" cy="177.8" r="0.95"/><circle cx="566.3" cy="163.6" r="0.95"/><circle cx="614.7" cy="78.2" r="0.95"/><circle cx="578.4" cy="167.4" r="0.95"/><circle cx="600.5" cy="121.2" r="0.95"/><circle cx="597.2" cy="141.7" r="0.95"/><circle cx="592.6" cy="117.1" r="0.95"/><circle cx="608.8" cy="114.9" r="0.95"/><circle cx="572.8" cy="182.8" r="0.95"/><circle cx="611.5" cy="101.0" r="0.95"/><circle cx="564.4" cy="203.2" r="0.95"/><circle cx="579.1" cy="184.2" r="0.95"/><circle cx="582.8" cy="170.7" r="0.95"/><circle cx="593.7" cy="118.4" r="0.95"/><circle cx="596.9" cy="152.7" r="0.95"/><circle cx="592.5" cy="147.9" r="0.95"/><circle cx="586.8" cy="154.9" r="0.95"/><circle cx="588.4" cy="121.2" r="0.95"/><circle cx="589.2" cy="121.9" r="0.95"/><circle cx="583.1" cy="129.4" r="0.95"/><circle cx="587.6" cy="144.8" r="0.95"/><circle cx="575.5" cy="193.4" r="0.95"/><circle cx="575.3" cy="175.0" r="0.95"/><circle cx="564.8" cy="212.2" r="0.95"/><circle cx="577.3" cy="154.6" r="0.95"/><circle cx="591.0" cy="170.9" r="0.95"/><circle cx="599.8" cy="143.7" r="0.95"/><circle cx="584.4" cy="143.1" r="0.95"/><circle cx="582.3" cy="171.7" r="0.95"/><circle cx="566.6" cy="171.7" r="0.95"/><circle cx="615.7" cy="100.5" r="0.95"/><circle cx="573.6" cy="203.6" r="0.95"/><circle cx="585.5" cy="157.7" r="0.95"/><circle cx="606.9" cy="131.2" r="0.95"/><circle cx="577.2" cy="185.5" r="0.95"/><circle cx="590.1" cy="177.0" r="0.95"/><circle cx="579.3" cy="167.8" r="0.95"/><circle cx="577.8" cy="167.0" r="0.95"/><circle cx="605.0" cy="118.4" r="0.95"/><circle cx="581.3" cy="195.4" r="0.95"/><circle cx="602.4" cy="110.7" r="0.95"/><circle cx="591.4" cy="147.5" r="0.95"/><circle cx="578.5" cy="193.2" r="0.95"/><circle cx="586.6" cy="130.6" r="0.95"/><circle cx="606.5" cy="94.0" r="0.95"/><circle cx="581.7" cy="174.9" r="0.95"/><circle cx="575.1" cy="176.7" r="0.95"/><circle cx="568.5" cy="183.3" r="0.95"/><circle cx="598.0" cy="191.8" r="0.95"/><circle cx="571.1" cy="195.1" r="0.95"/><circle cx="569.2" cy="185.1" r="0.95"/><circle cx="566.3" cy="208.7" r="0.95"/><circle cx="577.5" cy="171.7" r="0.95"/><circle cx="598.8" cy="114.7" r="0.95"/><circle cx="625.9" cy="70.9" r="0.95"/><circle cx="573.1" cy="207.9" r="0.95"/><circle cx="583.0" cy="128.6" r="0.95"/><circle cx="587.1" cy="165.9" r="0.95"/><circle cx="608.7" cy="91.8" r="0.95"/><circle cx="584.9" cy="156.3" r="0.95"/><circle cx="579.5" cy="144.2" r="0.95"/><circle cx="615.1" cy="91.3" r="0.95"/><circle cx="572.4" cy="147.3" r="0.95"/><circle cx="613.4" cy="80.6" r="0.95"/><circle cx="573.6" cy="166.3" r="0.95"/><circle cx="565.6" cy="169.5" r="0.95"/><circle cx="570.0" cy="193.6" r="0.95"/><circle cx="581.9" cy="148.2" r="0.95"/><circle cx="577.9" cy="164.9" r="0.95"/><circle cx="586.8" cy="176.0" r="0.95"/><circle cx="572.0" cy="156.5" r="0.95"/><circle cx="569.3" cy="160.1" r="0.95"/><circle cx="574.5" cy="201.0" r="0.95"/><circle cx="563.5" cy="213.2" r="0.95"/><circle cx="562.4" cy="185.6" r="0.95"/><circle cx="611.3" cy="100.3" r="0.95"/><circle cx="574.5" cy="192.9" r="0.95"/><circle cx="563.8" cy="197.8" r="0.95"/><circle cx="596.9" cy="118.7" r="0.95"/><circle cx="569.6" cy="202.1" r="0.95"/><circle cx="586.2" cy="130.1" r="0.95"/><circle cx="602.0" cy="92.2" r="0.95"/><circle cx="600.0" cy="138.1" r="0.95"/><circle cx="566.7" cy="207.1" r="0.95"/><circle cx="601.3" cy="131.2" r="0.95"/><circle cx="570.8" cy="172.9" r="0.95"/><circle cx="599.8" cy="145.2" r="0.95"/><circle cx="598.8" cy="141.0" r="0.95"/><circle cx="574.5" cy="211.7" r="0.95"/><circle cx="574.0" cy="180.2" r="0.95"/><circle cx="614.5" cy="102.5" r="0.95"/><circle cx="578.6" cy="158.8" r="0.95"/><circle cx="567.3" cy="210.2" r="0.95"/><circle cx="569.5" cy="211.1" r="0.95"/><circle cx="591.1" cy="138.1" r="0.95"/><circle cx="565.1" cy="185.9" r="0.95"/><circle cx="606.0" cy="85.5" r="0.95"/><circle cx="580.9" cy="169.6" r="0.95"/><circle cx="609.0" cy="113.4" r="0.95"/><circle cx="583.7" cy="171.7" r="0.95"/><circle cx="575.1" cy="147.3" r="0.95"/><circle cx="597.6" cy="114.2" r="0.95"/><circle cx="590.8" cy="124.9" r="0.95"/><circle cx="568.6" cy="175.4" r="0.95"/><circle cx="584.7" cy="153.6" r="0.95"/><circle cx="576.6" cy="186.9" r="0.95"/><circle cx="566.4" cy="212.0" r="0.95"/><circle cx="580.6" cy="145.8" r="0.95"/><circle cx="592.7" cy="145.8" r="0.95"/><circle cx="600.6" cy="110.2" r="0.95"/><circle cx="601.5" cy="136.6" r="0.95"/><circle cx="579.6" cy="150.1" r="0.95"/><circle cx="589.2" cy="158.8" r="0.95"/><circle cx="615.0" cy="107.4" r="0.95"/><circle cx="581.4" cy="134.6" r="0.95"/><circle cx="565.3" cy="175.4" r="0.95"/><circle cx="577.3" cy="191.9" r="0.95"/><circle cx="571.3" cy="192.8" r="0.95"/><circle cx="595.1" cy="103.2" r="0.95"/><circle cx="575.5" cy="192.9" r="0.95"/><circle cx="602.4" cy="144.7" r="0.95"/><circle cx="562.4" cy="203.1" r="0.95"/><circle cx="570.6" cy="195.9" r="0.95"/><circle cx="568.0" cy="194.9" r="0.95"/><circle cx="590.7" cy="144.2" r="0.95"/><circle cx="591.8" cy="113.2" r="0.95"/><circle cx="571.8" cy="207.8" r="0.95"/><circle cx="567.8" cy="210.5" r="0.95"/><circle cx="605.3" cy="119.3" r="0.95"/><circle cx="565.5" cy="196.6" r="0.95"/><circle cx="573.5" cy="201.5" r="0.95"/><circle cx="570.0" cy="209.9" r="0.95"/><circle cx="562.6" cy="204.3" r="0.95"/><circle cx="584.8" cy="156.3" r="0.95"/><circle cx="568.8" cy="160.8" r="0.95"/><circle cx="581.0" cy="151.8" r="0.95"/><circle cx="575.7" cy="166.4" r="0.95"/><circle cx="575.0" cy="194.1" r="0.95"/><circle cx="587.1" cy="160.7" r="0.95"/><circle cx="608.1" cy="115.3" r="0.95"/><circle cx="598.0" cy="105.9" r="0.95"/><circle cx="590.9" cy="159.1" r="0.95"/><circle cx="589.6" cy="142.2" r="0.95"/><circle cx="599.9" cy="111.1" r="0.95"/><circle cx="609.5" cy="114.5" r="0.95"/><circle cx="600.1" cy="119.3" r="0.95"/><circle cx="593.1" cy="169.0" r="0.95"/><circle cx="573.2" cy="173.2" r="0.95"/><circle cx="582.5" cy="170.7" r="0.95"/><circle cx="591.7" cy="132.3" r="0.95"/><circle cx="566.5" cy="198.2" r="0.95"/><circle cx="590.9" cy="142.8" r="0.95"/><circle cx="573.3" cy="150.4" r="0.95"/><circle cx="561.9" cy="198.8" r="0.95"/><circle cx="582.6" cy="182.3" r="0.95"/><circle cx="586.7" cy="128.1" r="0.95"/><circle cx="598.6" cy="130.4" r="0.95"/><circle cx="591.6" cy="144.0" r="0.95"/><circle cx="601.5" cy="114.7" r="0.95"/><circle cx="584.0" cy="164.1" r="0.95"/><circle cx="588.0" cy="159.6" r="0.95"/><circle cx="579.4" cy="176.1" r="0.95"/><circle cx="613.6" cy="105.4" r="0.95"/><circle cx="573.9" cy="202.1" r="0.95"/><circle cx="611.7" cy="112.7" r="0.95"/><circle cx="562.4" cy="186.0" r="0.95"/><circle cx="569.2" cy="194.9" r="0.95"/><circle cx="584.7" cy="170.9" r="0.95"/><circle cx="574.3" cy="201.4" r="0.95"/><circle cx="567.3" cy="199.1" r="0.95"/><circle cx="581.1" cy="131.3" r="0.95"/><circle cx="580.6" cy="195.2" r="0.95"/><circle cx="590.1" cy="174.0" r="0.95"/><circle cx="595.3" cy="114.8" r="0.95"/><circle cx="577.4" cy="141.7" r="0.95"/><circle cx="580.0" cy="153.9" r="0.95"/><circle cx="608.8" cy="91.9" r="0.95"/><circle cx="563.8" cy="198.7" r="0.95"/><circle cx="592.9" cy="167.6" r="0.95"/><circle cx="587.7" cy="137.7" r="0.95"/><circle cx="595.9" cy="133.8" r="0.95"/><circle cx="571.0" cy="168.4" r="0.95"/><circle cx="597.6" cy="137.0" r="0.95"/><circle cx="592.5" cy="163.0" r="0.95"/><circle cx="584.5" cy="170.2" r="0.95"/><circle cx="585.2" cy="192.8" r="0.95"/><circle cx="611.9" cy="100.0" r="0.95"/><circle cx="569.5" cy="211.4" r="0.95"/><circle cx="583.7" cy="181.9" r="0.95"/><circle cx="602.5" cy="108.0" r="0.95"/><circle cx="615.6" cy="90.9" r="0.95"/><circle cx="575.9" cy="149.8" r="0.95"/><circle cx="603.0" cy="120.7" r="0.95"/><circle cx="568.5" cy="203.9" r="0.95"/><circle cx="586.2" cy="157.4" r="0.95"/><circle cx="581.9" cy="130.1" r="0.95"/><circle cx="590.6" cy="144.2" r="0.95"/><circle cx="579.9" cy="143.7" r="0.95"/><circle cx="610.9" cy="127.8" r="0.95"/><circle cx="568.1" cy="196.4" r="0.95"/><circle cx="583.1" cy="126.7" r="0.95"/><circle cx="572.5" cy="190.5" r="0.95"/><circle cx="609.2" cy="110.2" r="0.95"/><circle cx="568.5" cy="159.9" r="0.95"/><circle cx="573.5" cy="197.0" r="0.95"/><circle cx="590.6" cy="134.5" r="0.95"/><circle cx="571.1" cy="208.2" r="0.95"/><circle cx="607.2" cy="123.3" r="0.95"/><circle cx="583.9" cy="163.2" r="0.95"/><circle cx="583.0" cy="168.8" r="0.95"/><circle cx="574.0" cy="167.5" r="0.95"/><circle cx="577.0" cy="175.4" r="0.95"/><circle cx="593.3" cy="121.5" r="0.95"/><circle cx="570.5" cy="190.3" r="0.95"/><circle cx="583.3" cy="189.7" r="0.95"/><circle cx="568.1" cy="195.7" r="0.95"/><circle cx="602.0" cy="135.7" r="0.95"/><circle cx="576.3" cy="181.4" r="0.95"/><circle cx="596.9" cy="141.4" r="0.95"/><circle cx="608.4" cy="119.2" r="0.95"/><circle cx="577.7" cy="189.9" r="0.95"/><circle cx="572.4" cy="205.6" r="0.95"/><circle cx="585.8" cy="155.7" r="0.95"/><circle cx="564.3" cy="198.2" r="0.95"/><circle cx="611.4" cy="89.1" r="0.95"/><circle cx="580.2" cy="161.2" r="0.95"/><circle cx="579.6" cy="193.3" r="0.95"/><circle cx="566.3" cy="164.1" r="0.95"/><circle cx="583.2" cy="184.9" r="0.95"/><circle cx="578.8" cy="191.2" r="0.95"/><circle cx="620.7" cy="106.6" r="0.95"/><circle cx="578.3" cy="174.0" r="0.95"/><circle cx="577.7" cy="139.8" r="0.95"/><circle cx="583.7" cy="159.0" r="0.95"/><circle cx="596.3" cy="125.3" r="0.95"/><circle cx="591.5" cy="157.2" r="0.95"/><circle cx="572.8" cy="192.7" r="0.95"/><circle cx="566.4" cy="200.6" r="0.95"/><circle cx="568.1" cy="198.8" r="0.95"/><circle cx="575.2" cy="172.7" r="0.95"/><circle cx="567.1" cy="163.7" r="0.95"/><circle cx="590.5" cy="123.6" r="0.95"/><circle cx="623.0" cy="94.4" r="0.95"/><circle cx="597.4" cy="130.0" r="0.95"/><circle cx="592.2" cy="131.7" r="0.95"/><circle cx="603.1" cy="101.5" r="0.95"/><circle cx="565.8" cy="211.8" r="0.95"/><circle cx="565.7" cy="187.7" r="0.95"/><circle cx="583.3" cy="134.5" r="0.95"/><circle cx="604.5" cy="117.6" r="0.95"/><circle cx="595.2" cy="115.9" r="0.95"/><circle cx="570.0" cy="170.1" r="0.95"/><circle cx="572.1" cy="188.6" r="0.95"/><circle cx="563.8" cy="183.6" r="0.95"/><circle cx="576.3" cy="155.4" r="0.95"/><circle cx="584.7" cy="182.4" r="0.95"/><circle cx="575.7" cy="195.7" r="0.95"/><circle cx="561.5" cy="204.8" r="0.95"/><circle cx="596.7" cy="116.6" r="0.95"/><circle cx="575.9" cy="152.6" r="0.95"/><circle cx="577.2" cy="165.9" r="0.95"/><circle cx="584.3" cy="179.0" r="0.95"/><circle cx="605.1" cy="96.5" r="0.95"/><circle cx="595.2" cy="136.7" r="0.95"/><circle cx="600.0" cy="114.3" r="0.95"/><circle cx="563.4" cy="212.3" r="0.95"/><circle cx="575.4" cy="140.7" r="0.95"/><circle cx="582.5" cy="125.6" r="0.95"/><circle cx="598.3" cy="116.2" r="0.95"/><circle cx="585.5" cy="175.0" r="0.95"/><circle cx="568.0" cy="165.5" r="0.95"/><circle cx="589.7" cy="128.1" r="0.95"/><circle cx="586.6" cy="128.3" r="0.95"/><circle cx="567.3" cy="208.6" r="0.95"/><circle cx="585.8" cy="131.9" r="0.95"/><circle cx="568.0" cy="184.9" r="0.95"/><circle cx="615.5" cy="87.2" r="0.95"/><circle cx="592.6" cy="120.0" r="0.95"/><circle cx="599.8" cy="102.6" r="0.95"/><circle cx="629.1" cy="70.9" r="0.95"/><circle cx="597.3" cy="98.0" r="0.95"/><circle cx="576.1" cy="200.6" r="0.95"/><circle cx="565.0" cy="173.5" r="0.95"/><circle cx="568.1" cy="213.8" r="0.95"/><circle cx="580.8" cy="164.6" r="0.95"/><circle cx="584.5" cy="187.3" r="0.95"/><circle cx="584.3" cy="192.6" r="0.95"/><circle cx="594.7" cy="172.9" r="0.95"/><circle cx="572.4" cy="190.3" r="0.95"/><circle cx="601.9" cy="128.7" r="0.95"/><circle cx="606.8" cy="130.1" r="0.95"/><circle cx="585.5" cy="158.7" r="0.95"/><circle cx="600.4" cy="136.9" r="0.95"/><circle cx="571.8" cy="169.8" r="0.95"/><circle cx="579.1" cy="161.7" r="0.95"/><circle cx="620.2" cy="86.6" r="0.95"/><circle cx="573.2" cy="209.8" r="0.95"/><circle cx="611.0" cy="96.8" r="0.95"/><circle cx="597.5" cy="137.2" r="0.95"/><circle cx="593.0" cy="150.0" r="0.95"/><circle cx="601.0" cy="158.6" r="0.95"/><circle cx="573.3" cy="173.6" r="0.95"/><circle cx="575.4" cy="192.2" r="0.95"/><circle cx="584.0" cy="164.1" r="0.95"/><circle cx="589.0" cy="170.5" r="0.95"/><circle cx="570.7" cy="205.9" r="0.95"/><circle cx="580.6" cy="134.2" r="0.95"/><circle cx="563.6" cy="202.0" r="0.95"/><circle cx="566.5" cy="185.7" r="0.95"/><circle cx="598.9" cy="125.0" r="0.95"/><circle cx="580.7" cy="144.1" r="0.95"/><circle cx="597.1" cy="121.9" r="0.95"/><circle cx="586.4" cy="140.2" r="0.95"/><circle cx="572.4" cy="205.3" r="0.95"/><circle cx="566.0" cy="209.7" r="0.95"/><circle cx="577.1" cy="197.2" r="0.95"/><circle cx="585.2" cy="120.5" r="0.95"/><circle cx="568.6" cy="201.9" r="0.95"/><circle cx="600.3" cy="123.8" r="0.95"/><circle cx="587.2" cy="164.1" r="0.95"/><circle cx="591.6" cy="121.4" r="0.95"/><circle cx="590.4" cy="150.8" r="0.95"/><circle cx="583.2" cy="141.6" r="0.95"/><circle cx="605.7" cy="125.3" r="0.95"/><circle cx="566.0" cy="173.9" r="0.95"/><circle cx="568.0" cy="161.8" r="0.95"/><circle cx="620.4" cy="71.8" r="0.95"/><circle cx="565.6" cy="210.0" r="0.95"/><circle cx="574.3" cy="192.6" r="0.95"/><circle cx="603.3" cy="89.9" r="0.95"/><circle cx="586.3" cy="169.9" r="0.95"/><circle cx="581.1" cy="127.8" r="0.95"/><circle cx="590.5" cy="189.2" r="0.95"/><circle cx="562.4" cy="183.7" r="0.95"/><circle cx="592.7" cy="157.1" r="0.95"/><circle cx="577.9" cy="173.9" r="0.95"/><circle cx="595.1" cy="121.8" r="0.95"/><circle cx="592.2" cy="146.0" r="0.95"/><circle cx="578.9" cy="176.0" r="0.95"/><circle cx="586.2" cy="137.1" r="0.95"/><circle cx="598.7" cy="117.5" r="0.95"/><circle cx="585.1" cy="156.7" r="0.95"/><circle cx="578.7" cy="161.4" r="0.95"/><circle cx="607.6" cy="115.6" r="0.95"/><circle cx="616.2" cy="90.8" r="0.95"/><circle cx="570.8" cy="172.0" r="0.95"/><circle cx="591.7" cy="108.4" r="0.95"/><circle cx="599.9" cy="133.4" r="0.95"/><circle cx="576.1" cy="139.2" r="0.95"/><circle cx="567.7" cy="210.9" r="0.95"/><circle cx="566.0" cy="180.8" r="0.95"/><circle cx="595.9" cy="155.6" r="0.95"/><circle cx="586.3" cy="152.1" r="0.95"/><circle cx="566.3" cy="167.4" r="0.95"/><circle cx="562.9" cy="180.9" r="0.95"/><circle cx="627.8" cy="68.7" r="0.95"/><circle cx="619.6" cy="70.1" r="0.95"/><circle cx="578.6" cy="179.1" r="0.95"/><circle cx="568.1" cy="209.9" r="0.95"/><circle cx="571.9" cy="159.3" r="0.95"/><circle cx="628.1" cy="67.5" r="0.95"/><circle cx="595.8" cy="136.8" r="0.95"/><circle cx="575.9" cy="156.7" r="0.95"/><circle cx="576.6" cy="186.7" r="0.95"/><circle cx="563.5" cy="181.1" r="0.95"/><circle cx="609.4" cy="98.1" r="0.95"/><circle cx="584.7" cy="128.5" r="0.95"/><circle cx="583.4" cy="173.8" r="0.95"/><circle cx="578.7" cy="179.1" r="0.95"/><circle cx="571.6" cy="209.2" r="0.95"/><circle cx="585.6" cy="161.6" r="0.95"/><circle cx="577.8" cy="167.2" r="0.95"/><circle cx="566.7" cy="200.6" r="0.95"/><circle cx="572.1" cy="151.5" r="0.95"/><circle cx="609.8" cy="93.5" r="0.95"/><circle cx="592.9" cy="106.2" r="0.95"/><circle cx="592.9" cy="146.1" r="0.95"/><circle cx="590.7" cy="167.6" r="0.95"/><circle cx="561.5" cy="208.9" r="0.95"/><circle cx="565.3" cy="178.7" r="0.95"/><circle cx="584.2" cy="164.9" r="0.95"/><circle cx="578.0" cy="177.7" r="0.95"/><circle cx="634.8" cy="88.9" r="0.95"/><circle cx="599.1" cy="95.1" r="0.95"/><circle cx="563.9" cy="197.3" r="0.95"/><circle cx="581.5" cy="180.2" r="0.95"/><circle cx="591.7" cy="145.1" r="0.95"/><circle cx="572.1" cy="162.3" r="0.95"/><circle cx="569.3" cy="209.4" r="0.95"/><circle cx="588.2" cy="116.2" r="0.95"/><circle cx="604.7" cy="122.2" r="0.95"/><circle cx="581.9" cy="183.8" r="0.95"/><circle cx="568.9" cy="210.4" r="0.95"/><circle cx="581.4" cy="138.0" r="0.95"/><circle cx="594.1" cy="151.5" r="0.95"/><circle cx="606.5" cy="91.5" r="0.95"/><circle cx="594.9" cy="144.3" r="0.95"/><circle cx="570.6" cy="200.2" r="0.95"/><circle cx="566.1" cy="213.4" r="0.95"/><circle cx="608.1" cy="119.7" r="0.95"/><circle cx="600.4" cy="131.7" r="0.95"/><circle cx="588.7" cy="155.0" r="0.95"/><circle cx="565.8" cy="187.6" r="0.95"/><circle cx="569.7" cy="199.1" r="0.95"/><circle cx="594.6" cy="149.4" r="0.95"/><circle cx="588.0" cy="149.5" r="0.95"/><circle cx="561.5" cy="204.1" r="0.95"/><circle cx="577.0" cy="190.6" r="0.95"/><circle cx="573.2" cy="176.1" r="0.95"/><circle cx="570.6" cy="203.1" r="0.95"/><circle cx="590.4" cy="156.9" r="0.95"/><circle cx="617.4" cy="85.4" r="0.95"/><circle cx="577.7" cy="135.0" r="0.95"/><circle cx="571.6" cy="207.4" r="0.95"/><circle cx="573.4" cy="170.6" r="0.95"/><circle cx="589.2" cy="184.7" r="0.95"/><circle cx="582.6" cy="136.0" r="0.95"/><circle cx="601.9" cy="115.6" r="0.95"/><circle cx="571.3" cy="186.6" r="0.95"/><circle cx="579.8" cy="161.6" r="0.95"/><circle cx="586.5" cy="142.6" r="0.95"/><circle cx="624.8" cy="77.2" r="0.95"/><circle cx="616.4" cy="84.9" r="0.95"/><circle cx="602.9" cy="139.5" r="0.95"/><circle cx="582.0" cy="139.9" r="0.95"/><circle cx="615.4" cy="136.6" r="0.95"/><circle cx="605.8" cy="114.3" r="0.95"/><circle cx="574.2" cy="199.1" r="0.95"/><circle cx="572.2" cy="203.5" r="0.95"/><circle cx="599.7" cy="107.0" r="0.95"/><circle cx="605.3" cy="117.9" r="0.95"/><circle cx="596.1" cy="141.9" r="0.95"/><circle cx="571.3" cy="179.3" r="0.95"/><circle cx="582.6" cy="188.8" r="0.95"/><circle cx="585.8" cy="163.9" r="0.95"/><circle cx="609.2" cy="111.8" r="0.95"/><circle cx="612.2" cy="100.8" r="0.95"/><circle cx="591.8" cy="131.4" r="0.95"/><circle cx="584.8" cy="139.1" r="0.95"/><circle cx="615.8" cy="77.5" r="0.95"/><circle cx="561.9" cy="186.5" r="0.95"/><circle cx="579.8" cy="199.7" r="0.95"/><circle cx="615.7" cy="110.1" r="0.95"/><circle cx="579.3" cy="195.2" r="0.95"/><circle cx="569.5" cy="208.4" r="0.95"/><circle cx="585.4" cy="176.7" r="0.95"/><circle cx="574.1" cy="152.4" r="0.95"/><circle cx="605.5" cy="87.8" r="0.95"/><circle cx="604.6" cy="102.0" r="0.95"/><circle cx="597.0" cy="155.8" r="0.95"/><circle cx="623.3" cy="81.3" r="0.95"/><circle cx="595.8" cy="140.4" r="0.95"/><circle cx="607.4" cy="109.3" r="0.95"/><circle cx="593.0" cy="156.4" r="0.95"/><circle cx="579.8" cy="190.7" r="0.95"/><circle cx="582.0" cy="138.9" r="0.95"/><circle cx="565.0" cy="199.5" r="0.95"/><circle cx="571.8" cy="170.4" r="0.95"/><circle cx="571.4" cy="191.1" r="0.95"/><circle cx="566.3" cy="182.3" r="0.95"/><circle cx="602.4" cy="137.2" r="0.95"/><circle cx="586.0" cy="138.4" r="0.95"/><circle cx="564.0" cy="178.5" r="0.95"/><circle cx="621.7" cy="78.9" r="0.95"/><circle cx="599.9" cy="120.7" r="0.95"/><circle cx="586.2" cy="168.3" r="0.95"/><circle cx="588.3" cy="118.2" r="0.95"/><circle cx="582.2" cy="134.0" r="0.95"/><circle cx="592.0" cy="132.3" r="0.95"/><circle cx="562.6" cy="207.0" r="0.95"/><circle cx="598.4" cy="132.0" r="0.95"/><circle cx="587.2" cy="131.1" r="0.95"/><circle cx="584.1" cy="176.3" r="0.95"/><circle cx="574.5" cy="166.0" r="0.95"/><circle cx="580.4" cy="190.8" r="0.95"/><circle cx="579.5" cy="152.0" r="0.95"/><circle cx="571.0" cy="182.8" r="0.95"/><circle cx="576.7" cy="196.4" r="0.95"/><circle cx="578.9" cy="188.2" r="0.95"/><circle cx="568.7" cy="179.9" r="0.95"/><circle cx="576.5" cy="200.8" r="0.95"/><circle cx="571.3" cy="204.8" r="0.95"/><circle cx="618.1" cy="72.3" r="0.95"/><circle cx="576.5" cy="140.4" r="0.95"/><circle cx="595.0" cy="114.0" r="0.95"/><circle cx="576.5" cy="174.0" r="0.95"/><circle cx="607.8" cy="83.9" r="0.95"/><circle cx="568.0" cy="207.7" r="0.95"/><circle cx="609.3" cy="102.6" r="0.95"/><circle cx="590.9" cy="117.2" r="0.95"/><circle cx="577.5" cy="188.9" r="0.95"/><circle cx="586.2" cy="152.7" r="0.95"/><circle cx="625.3" cy="76.6" r="0.95"/><circle cx="598.4" cy="128.2" r="0.95"/><circle cx="591.4" cy="154.4" r="0.95"/><circle cx="566.9" cy="213.3" r="0.95"/><circle cx="615.6" cy="119.6" r="0.95"/><circle cx="590.1" cy="158.9" r="0.95"/><circle cx="585.3" cy="152.4" r="0.95"/><circle cx="608.3" cy="136.3" r="0.95"/><circle cx="590.7" cy="160.0" r="0.95"/><circle cx="585.6" cy="121.1" r="0.95"/><circle cx="600.4" cy="134.8" r="0.95"/><circle cx="581.1" cy="190.6" r="0.95"/><circle cx="568.4" cy="165.1" r="0.95"/><circle cx="602.3" cy="112.7" r="0.95"/><circle cx="601.7" cy="132.3" r="0.95"/><circle cx="590.1" cy="151.6" r="0.95"/><circle cx="566.0" cy="171.3" r="0.95"/><circle cx="579.3" cy="148.2" r="0.95"/><circle cx="610.5" cy="116.1" r="0.95"/><circle cx="583.4" cy="180.5" r="0.95"/><circle cx="579.1" cy="170.0" r="0.95"/><circle cx="608.0" cy="98.8" r="0.95"/><circle cx="574.9" cy="190.7" r="0.95"/><circle cx="572.5" cy="186.3" r="0.95"/><circle cx="584.3" cy="132.5" r="0.95"/><circle cx="564.7" cy="186.1" r="0.95"/><circle cx="604.3" cy="123.0" r="0.95"/><circle cx="570.0" cy="211.7" r="0.95"/><circle cx="617.8" cy="93.4" r="0.95"/><circle cx="578.3" cy="162.0" r="0.95"/><circle cx="603.9" cy="99.5" r="0.95"/><circle cx="571.3" cy="208.7" r="0.95"/><circle cx="566.8" cy="165.6" r="0.95"/><circle cx="598.3" cy="109.7" r="0.95"/><circle cx="570.8" cy="166.5" r="0.95"/><circle cx="583.5" cy="180.5" r="0.95"/><circle cx="583.6" cy="147.5" r="0.95"/><circle cx="591.9" cy="140.5" r="0.95"/><circle cx="574.7" cy="197.4" r="0.95"/><circle cx="602.2" cy="123.5" r="0.95"/><circle cx="586.2" cy="175.5" r="0.95"/><circle cx="566.2" cy="201.7" r="0.95"/><circle cx="618.8" cy="96.8" r="0.95"/><circle cx="569.5" cy="200.1" r="0.95"/><circle cx="614.6" cy="88.0" r="0.95"/><circle cx="564.8" cy="178.7" r="0.95"/><circle cx="563.0" cy="194.8" r="0.95"/><circle cx="582.8" cy="176.8" r="0.95"/><circle cx="601.2" cy="98.9" r="0.95"/><circle cx="592.8" cy="173.1" r="0.95"/><circle cx="574.2" cy="188.2" r="0.95"/><circle cx="613.7" cy="83.1" r="0.95"/><circle cx="603.3" cy="116.8" r="0.95"/><circle cx="572.6" cy="158.1" r="0.95"/><circle cx="596.5" cy="116.7" r="0.95"/><circle cx="573.4" cy="207.1" r="0.95"/><circle cx="573.5" cy="185.5" r="0.95"/><circle cx="570.1" cy="204.3" r="0.95"/><circle cx="603.8" cy="99.1" r="0.95"/><circle cx="605.4" cy="125.9" r="0.95"/><circle cx="607.4" cy="104.9" r="0.95"/><circle cx="575.5" cy="142.1" r="0.95"/><circle cx="587.0" cy="122.6" r="0.95"/><circle cx="570.7" cy="188.9" r="0.95"/><circle cx="565.2" cy="209.3" r="0.95"/><circle cx="569.6" cy="189.1" r="0.95"/><circle cx="581.4" cy="165.0" r="0.95"/><circle cx="568.1" cy="174.1" r="0.95"/><circle cx="574.6" cy="158.5" r="0.95"/><circle cx="590.1" cy="114.9" r="0.95"/><circle cx="565.4" cy="208.9" r="0.95"/><circle cx="598.0" cy="128.3" r="0.95"/><circle cx="569.5" cy="205.1" r="0.95"/><circle cx="602.8" cy="142.2" r="0.95"/><circle cx="593.6" cy="187.3" r="0.95"/><circle cx="595.1" cy="189.1" r="0.95"/><circle cx="594.9" cy="146.5" r="0.95"/><circle cx="573.2" cy="212.6" r="0.95"/><circle cx="571.4" cy="166.7" r="0.95"/><circle cx="568.1" cy="162.0" r="0.95"/><circle cx="578.8" cy="135.3" r="0.95"/><circle cx="577.1" cy="178.5" r="0.95"/><circle cx="567.1" cy="184.5" r="0.95"/><circle cx="568.8" cy="175.6" r="0.95"/><circle cx="582.5" cy="182.2" r="0.95"/><circle cx="569.9" cy="178.6" r="0.95"/><circle cx="604.1" cy="133.0" r="0.95"/><circle cx="592.2" cy="137.6" r="0.95"/><circle cx="596.9" cy="161.3" r="0.95"/><circle cx="612.3" cy="111.5" r="0.95"/><circle cx="575.1" cy="191.7" r="0.95"/><circle cx="604.8" cy="121.4" r="0.95"/><circle cx="626.3" cy="77.6" r="0.95"/><circle cx="582.1" cy="197.0" r="0.95"/><circle cx="583.5" cy="127.7" r="0.95"/><circle cx="581.8" cy="160.3" r="0.95"/><circle cx="599.9" cy="103.4" r="0.95"/><circle cx="598.8" cy="144.1" r="0.95"/><circle cx="572.2" cy="196.1" r="0.95"/><circle cx="567.8" cy="211.8" r="0.95"/><circle cx="606.3" cy="101.4" r="0.95"/><circle cx="598.0" cy="109.0" r="0.95"/><circle cx="588.5" cy="154.4" r="0.95"/><circle cx="576.0" cy="173.1" r="0.95"/><circle cx="618.3" cy="74.3" r="0.95"/><circle cx="572.7" cy="204.6" r="0.95"/><circle cx="581.5" cy="176.7" r="0.95"/><circle cx="586.1" cy="155.3" r="0.95"/><circle cx="607.9" cy="140.7" r="0.95"/><circle cx="615.9" cy="122.1" r="0.95"/><circle cx="570.2" cy="186.2" r="0.95"/><circle cx="593.6" cy="132.5" r="0.95"/><circle cx="618.8" cy="79.9" r="0.95"/><circle cx="571.9" cy="197.8" r="0.95"/><circle cx="604.8" cy="89.7" r="0.95"/><circle cx="610.1" cy="108.8" r="0.95"/><circle cx="568.4" cy="188.8" r="0.95"/><circle cx="592.7" cy="168.4" r="0.95"/><circle cx="600.8" cy="154.6" r="0.95"/><circle cx="573.1" cy="191.3" r="0.95"/><circle cx="595.8" cy="126.6" r="0.95"/><circle cx="582.7" cy="187.2" r="0.95"/><circle cx="571.7" cy="211.1" r="0.95"/><circle cx="581.8" cy="180.9" r="0.95"/><circle cx="579.7" cy="176.4" r="0.95"/><circle cx="565.7" cy="188.3" r="0.95"/><circle cx="562.2" cy="187.6" r="0.95"/><circle cx="579.6" cy="185.3" r="0.95"/><circle cx="602.0" cy="126.4" r="0.95"/><circle cx="596.7" cy="112.3" r="0.95"/><circle cx="607.1" cy="144.5" r="0.95"/><circle cx="609.7" cy="125.2" r="0.95"/><circle cx="567.6" cy="186.6" r="0.95"/><circle cx="588.2" cy="145.6" r="0.95"/><circle cx="594.1" cy="188.7" r="0.95"/><circle cx="582.2" cy="185.9" r="0.95"/><circle cx="573.7" cy="196.3" r="0.95"/><circle cx="616.2" cy="83.9" r="0.95"/><circle cx="581.3" cy="192.9" r="0.95"/><circle cx="563.3" cy="202.9" r="0.95"/><circle cx="570.8" cy="189.6" r="0.95"/><circle cx="585.1" cy="144.4" r="0.95"/><circle cx="576.5" cy="176.0" r="0.95"/><circle cx="582.5" cy="130.5" r="0.95"/><circle cx="602.9" cy="103.2" r="0.95"/><circle cx="592.8" cy="115.5" r="0.95"/><circle cx="564.6" cy="201.2" r="0.95"/><circle cx="573.3" cy="200.0" r="0.95"/><circle cx="601.2" cy="95.6" r="0.95"/><circle cx="601.3" cy="124.7" r="0.95"/><circle cx="617.8" cy="110.4" r="0.95"/><circle cx="575.1" cy="142.1" r="0.95"/><circle cx="568.9" cy="162.7" r="0.95"/><circle cx="578.2" cy="179.1" r="0.95"/><circle cx="566.9" cy="205.4" r="0.95"/><circle cx="574.8" cy="203.9" r="0.95"/><circle cx="585.9" cy="163.6" r="0.95"/><circle cx="612.2" cy="77.9" r="0.95"/><circle cx="604.8" cy="119.7" r="0.95"/><circle cx="569.4" cy="202.6" r="0.95"/><circle cx="571.9" cy="206.1" r="0.95"/><circle cx="568.0" cy="160.7" r="0.95"/><circle cx="569.4" cy="212.4" r="0.95"/><circle cx="568.4" cy="204.4" r="0.95"/><circle cx="568.6" cy="207.9" r="0.95"/><circle cx="586.1" cy="131.4" r="0.95"/><circle cx="604.6" cy="110.6" r="0.95"/><circle cx="590.0" cy="117.1" r="0.95"/><circle cx="596.6" cy="103.7" r="0.95"/><circle cx="569.1" cy="192.2" r="0.95"/><circle cx="585.7" cy="139.4" r="0.95"/><circle cx="574.8" cy="179.9" r="0.95"/><circle cx="590.0" cy="175.7" r="0.95"/><circle cx="598.3" cy="109.5" r="0.95"/><circle cx="584.0" cy="143.5" r="0.95"/><circle cx="593.1" cy="115.3" r="0.95"/><circle cx="583.2" cy="136.7" r="0.95"/><circle cx="594.0" cy="122.3" r="0.95"/><circle cx="604.6" cy="95.4" r="0.95"/><circle cx="562.2" cy="193.4" r="0.95"/><circle cx="608.0" cy="84.6" r="0.95"/><circle cx="603.9" cy="101.2" r="0.95"/><circle cx="609.1" cy="119.0" r="0.95"/><circle cx="577.2" cy="195.4" r="0.95"/><circle cx="604.4" cy="106.2" r="0.95"/><circle cx="577.8" cy="154.7" r="0.95"/><circle cx="583.6" cy="159.6" r="0.95"/><circle cx="582.5" cy="170.6" r="0.95"/><circle cx="610.9" cy="96.4" r="0.95"/><circle cx="583.1" cy="137.0" r="0.95"/><circle cx="587.0" cy="178.9" r="0.95"/><circle cx="565.3" cy="175.3" r="0.95"/><circle cx="588.0" cy="164.7" r="0.95"/><circle cx="565.7" cy="203.8" r="0.95"/><circle cx="563.8" cy="190.4" r="0.95"/><circle cx="565.6" cy="201.1" r="0.95"/><circle cx="571.0" cy="203.1" r="0.95"/><circle cx="579.9" cy="177.3" r="0.95"/><circle cx="596.2" cy="137.3" r="0.95"/><circle cx="574.7" cy="173.6" r="0.95"/><circle cx="567.1" cy="188.5" r="0.95"/><circle cx="571.2" cy="159.8" r="0.95"/><circle cx="583.6" cy="170.0" r="0.95"/><circle cx="570.5" cy="177.0" r="0.95"/><circle cx="593.5" cy="157.3" r="0.95"/><circle cx="563.7" cy="194.7" r="0.95"/><circle cx="595.6" cy="107.4" r="0.95"/><circle cx="578.7" cy="193.7" r="0.95"/><circle cx="593.3" cy="137.0" r="0.95"/><circle cx="578.8" cy="140.4" r="0.95"/><circle cx="600.0" cy="140.3" r="0.95"/><circle cx="585.9" cy="153.0" r="0.95"/><circle cx="607.2" cy="107.9" r="0.95"/><circle cx="581.4" cy="198.5" r="0.95"/><circle cx="582.7" cy="175.3" r="0.95"/><circle cx="581.8" cy="181.1" r="0.95"/><circle cx="579.2" cy="188.6" r="0.95"/><circle cx="577.9" cy="193.8" r="0.95"/><circle cx="576.5" cy="158.0" r="0.95"/><circle cx="581.4" cy="130.1" r="0.95"/><circle cx="573.1" cy="177.3" r="0.95"/><circle cx="567.0" cy="175.7" r="0.95"/><circle cx="579.4" cy="187.2" r="0.95"/><circle cx="596.4" cy="132.8" r="0.95"/><circle cx="593.3" cy="153.0" r="0.95"/><circle cx="574.7" cy="170.9" r="0.95"/><circle cx="578.7" cy="173.3" r="0.95"/><circle cx="581.6" cy="159.5" r="0.95"/><circle cx="612.2" cy="112.0" r="0.95"/><circle cx="569.8" cy="172.1" r="0.95"/><circle cx="567.0" cy="185.8" r="0.95"/><circle cx="601.0" cy="123.4" r="0.95"/><circle cx="586.9" cy="163.1" r="0.95"/><circle cx="595.6" cy="118.1" r="0.95"/><circle cx="574.4" cy="151.5" r="0.95"/><circle cx="580.9" cy="195.0" r="0.95"/><circle cx="592.7" cy="164.5" r="0.95"/><circle cx="603.4" cy="114.1" r="0.95"/><circle cx="571.9" cy="164.6" r="0.95"/><circle cx="604.5" cy="102.6" r="0.95"/><circle cx="622.1" cy="103.4" r="0.95"/><circle cx="602.8" cy="132.8" r="0.95"/><circle cx="601.9" cy="142.3" r="0.95"/><circle cx="592.0" cy="158.7" r="0.95"/><circle cx="599.5" cy="126.0" r="0.95"/><circle cx="584.2" cy="167.0" r="0.95"/><circle cx="617.8" cy="86.6" r="0.95"/><circle cx="580.8" cy="184.1" r="0.95"/><circle cx="612.7" cy="82.1" r="0.95"/><circle cx="562.6" cy="214.5" r="0.95"/><circle cx="565.5" cy="206.2" r="0.95"/><circle cx="572.0" cy="152.9" r="0.95"/><circle cx="599.2" cy="124.9" r="0.95"/><circle cx="574.7" cy="190.1" r="0.95"/><circle cx="577.8" cy="145.4" r="0.95"/><circle cx="592.7" cy="148.6" r="0.95"/><circle cx="567.0" cy="206.2" r="0.95"/><circle cx="568.2" cy="205.3" r="0.95"/><circle cx="588.8" cy="175.3" r="0.95"/><circle cx="601.5" cy="102.2" r="0.95"/><circle cx="590.3" cy="153.2" r="0.95"/><circle cx="570.6" cy="160.3" r="0.95"/><circle cx="581.1" cy="169.0" r="0.95"/><circle cx="589.5" cy="136.9" r="0.95"/><circle cx="596.6" cy="150.1" r="0.95"/><circle cx="585.4" cy="159.7" r="0.95"/><circle cx="605.7" cy="133.2" r="0.95"/><circle cx="599.4" cy="126.5" r="0.95"/><circle cx="611.5" cy="80.9" r="0.95"/><circle cx="571.7" cy="165.3" r="0.95"/><circle cx="592.6" cy="117.2" r="0.95"/><circle cx="585.5" cy="159.4" r="0.95"/><circle cx="612.8" cy="78.1" r="0.95"/><circle cx="588.5" cy="133.4" r="0.95"/><circle cx="563.9" cy="193.8" r="0.95"/><circle cx="570.3" cy="203.8" r="0.95"/><circle cx="581.9" cy="143.5" r="0.95"/><circle cx="602.1" cy="127.9" r="0.95"/><circle cx="607.3" cy="108.0" r="0.95"/><circle cx="583.2" cy="124.5" r="0.95"/><circle cx="606.4" cy="114.4" r="0.95"/><circle cx="593.5" cy="126.0" r="0.95"/><circle cx="603.0" cy="101.1" r="0.95"/><circle cx="579.4" cy="161.2" r="0.95"/><circle cx="563.6" cy="201.1" r="0.95"/><circle cx="594.5" cy="155.2" r="0.95"/><circle cx="590.4" cy="137.5" r="0.95"/><circle cx="579.6" cy="132.0" r="0.95"/><circle cx="606.2" cy="127.2" r="0.95"/><circle cx="571.1" cy="153.2" r="0.95"/><circle cx="599.3" cy="149.1" r="0.95"/><circle cx="574.3" cy="197.7" r="0.95"/><circle cx="568.8" cy="197.1" r="0.95"/><circle cx="589.0" cy="159.1" r="0.95"/><circle cx="587.0" cy="122.5" r="0.95"/><circle cx="580.2" cy="178.2" r="0.95"/><circle cx="612.6" cy="100.8" r="0.95"/><circle cx="589.7" cy="128.4" r="0.95"/><circle cx="574.0" cy="196.7" r="0.95"/><circle cx="574.5" cy="142.1" r="0.95"/><circle cx="571.8" cy="151.2" r="0.95"/><circle cx="565.6" cy="213.5" r="0.95"/><circle cx="567.6" cy="176.4" r="0.95"/><circle cx="595.1" cy="148.6" r="0.95"/><circle cx="601.8" cy="128.3" r="0.95"/><circle cx="591.2" cy="168.0" r="0.95"/><circle cx="565.3" cy="205.0" r="0.95"/><circle cx="578.1" cy="143.7" r="0.95"/><circle cx="591.4" cy="124.1" r="0.95"/><circle cx="573.3" cy="156.4" r="0.95"/><circle cx="613.4" cy="105.8" r="0.95"/><circle cx="565.3" cy="186.7" r="0.95"/><circle cx="583.6" cy="148.0" r="0.95"/><circle cx="583.2" cy="173.4" r="0.95"/><circle cx="581.8" cy="147.6" r="0.95"/><circle cx="617.8" cy="70.4" r="0.95"/><circle cx="565.3" cy="208.0" r="0.95"/><circle cx="579.9" cy="163.3" r="0.95"/><circle cx="582.8" cy="164.3" r="0.95"/><circle cx="568.5" cy="206.1" r="0.95"/><circle cx="576.4" cy="160.1" r="0.95"/><circle cx="586.3" cy="137.1" r="0.95"/><circle cx="602.2" cy="112.9" r="0.95"/><circle cx="579.9" cy="192.5" r="0.95"/><circle cx="600.8" cy="139.3" r="0.95"/><circle cx="610.4" cy="103.1" r="0.95"/><circle cx="576.0" cy="147.9" r="0.95"/><circle cx="568.0" cy="188.6" r="0.95"/><circle cx="592.6" cy="114.7" r="0.95"/><circle cx="580.0" cy="172.6" r="0.95"/><circle cx="614.5" cy="103.0" r="0.95"/><circle cx="578.8" cy="179.1" r="0.95"/><circle cx="596.7" cy="101.4" r="0.95"/><circle cx="621.5" cy="70.5" r="0.95"/><circle cx="563.9" cy="180.2" r="0.95"/><circle cx="604.4" cy="96.4" r="0.95"/><circle cx="580.1" cy="131.8" r="0.95"/><circle cx="615.7" cy="108.4" r="0.95"/><circle cx="606.6" cy="117.1" r="0.95"/><circle cx="574.3" cy="149.0" r="0.95"/><circle cx="570.7" cy="185.2" r="0.95"/><circle cx="566.2" cy="213.3" r="0.95"/><circle cx="582.3" cy="169.4" r="0.95"/><circle cx="602.5" cy="115.2" r="0.95"/><circle cx="612.1" cy="98.8" r="0.95"/><circle cx="571.9" cy="165.2" r="0.95"/><circle cx="600.1" cy="110.7" r="0.95"/><circle cx="584.4" cy="166.7" r="0.95"/><circle cx="573.8" cy="203.2" r="0.95"/><circle cx="606.8" cy="140.0" r="0.95"/><circle cx="610.3" cy="98.5" r="0.95"/><circle cx="584.2" cy="164.9" r="0.95"/><circle cx="572.1" cy="203.1" r="0.95"/><circle cx="575.1" cy="183.8" r="0.95"/><circle cx="589.6" cy="151.4" r="0.95"/><circle cx="589.9" cy="139.7" r="0.95"/><circle cx="573.4" cy="207.2" r="0.95"/><circle cx="602.4" cy="104.4" r="0.95"/><circle cx="626.1" cy="103.0" r="0.95"/><circle cx="582.0" cy="190.2" r="0.95"/><circle cx="588.4" cy="140.0" r="0.95"/><circle cx="562.8" cy="213.6" r="0.95"/><circle cx="608.9" cy="107.2" r="0.95"/><circle cx="596.4" cy="124.0" r="0.95"/><circle cx="574.4" cy="147.0" r="0.95"/><circle cx="606.4" cy="109.9" r="0.95"/><circle cx="574.0" cy="148.0" r="0.95"/><circle cx="599.8" cy="115.2" r="0.95"/><circle cx="565.1" cy="190.3" r="0.95"/><circle cx="613.5" cy="93.6" r="0.95"/><circle cx="581.2" cy="133.8" r="0.95"/><circle cx="608.3" cy="88.8" r="0.95"/><circle cx="563.0" cy="205.1" r="0.95"/><circle cx="580.2" cy="150.7" r="0.95"/><circle cx="582.5" cy="167.4" r="0.95"/><circle cx="597.5" cy="113.4" r="0.95"/><circle cx="575.9" cy="169.5" r="0.95"/><circle cx="592.1" cy="128.4" r="0.95"/><circle cx="574.0" cy="162.3" r="0.95"/><circle cx="576.6" cy="205.3" r="0.95"/><circle cx="568.4" cy="212.3" r="0.95"/><circle cx="588.5" cy="147.3" r="0.95"/><circle cx="561.7" cy="213.6" r="0.95"/><circle cx="586.6" cy="169.0" r="0.95"/><circle cx="577.1" cy="190.2" r="0.95"/><circle cx="584.6" cy="175.5" r="0.95"/><circle cx="579.9" cy="157.2" r="0.95"/><circle cx="573.6" cy="166.5" r="0.95"/><circle cx="570.5" cy="164.2" r="0.95"/><circle cx="592.7" cy="143.6" r="0.95"/><circle cx="595.2" cy="117.6" r="0.95"/><circle cx="590.3" cy="161.0" r="0.95"/><circle cx="596.0" cy="117.9" r="0.95"/><circle cx="600.8" cy="136.4" r="0.95"/><circle cx="600.5" cy="115.3" r="0.95"/><circle cx="614.2" cy="80.1" r="0.95"/><circle cx="612.4" cy="81.0" r="0.95"/><circle cx="602.4" cy="90.7" r="0.95"/><circle cx="598.6" cy="142.0" r="0.95"/><circle cx="593.5" cy="118.2" r="0.95"/><circle cx="601.8" cy="131.2" r="0.95"/><circle cx="615.1" cy="100.6" r="0.95"/><circle cx="569.5" cy="186.0" r="0.95"/><circle cx="589.4" cy="140.4" r="0.95"/><circle cx="599.1" cy="144.9" r="0.95"/><circle cx="613.0" cy="97.6" r="0.95"/><circle cx="567.2" cy="202.8" r="0.95"/><circle cx="569.7" cy="201.4" r="0.95"/><circle cx="605.1" cy="92.3" r="0.95"/><circle cx="583.7" cy="122.3" r="0.95"/><circle cx="574.3" cy="159.4" r="0.95"/><circle cx="571.2" cy="180.5" r="0.95"/><circle cx="571.0" cy="193.6" r="0.95"/><circle cx="566.4" cy="200.5" r="0.95"/><circle cx="591.1" cy="135.1" r="0.95"/><circle cx="566.9" cy="189.6" r="0.95"/><circle cx="589.6" cy="131.3" r="0.95"/><circle cx="579.5" cy="173.9" r="0.95"/><circle cx="629.1" cy="64.5" r="0.95"/><circle cx="578.3" cy="167.4" r="0.95"/><circle cx="577.3" cy="197.7" r="0.95"/><circle cx="616.8" cy="91.9" r="0.95"/><circle cx="618.4" cy="89.9" r="0.95"/><circle cx="584.6" cy="164.2" r="0.95"/><circle cx="600.6" cy="128.0" r="0.95"/><circle cx="564.8" cy="180.9" r="0.95"/><circle cx="577.9" cy="144.2" r="0.95"/><circle cx="574.0" cy="181.8" r="0.95"/><circle cx="592.4" cy="149.0" r="0.95"/><circle cx="571.6" cy="191.3" r="0.95"/><circle cx="594.7" cy="129.4" r="0.95"/><circle cx="579.8" cy="142.4" r="0.95"/><circle cx="569.3" cy="210.1" r="0.95"/><circle cx="569.2" cy="164.3" r="0.95"/><circle cx="595.6" cy="102.9" r="0.95"/><circle cx="599.8" cy="124.1" r="0.95"/><circle cx="568.2" cy="177.5" r="0.95"/><circle cx="614.6" cy="79.2" r="0.95"/><circle cx="568.0" cy="176.1" r="0.95"/><circle cx="599.6" cy="107.0" r="0.95"/><circle cx="567.4" cy="209.1" r="0.95"/><circle cx="573.7" cy="187.9" r="0.95"/><circle cx="564.7" cy="207.3" r="0.95"/><circle cx="577.7" cy="172.8" r="0.95"/><circle cx="603.4" cy="124.1" r="0.95"/><circle cx="602.6" cy="91.8" r="0.95"/><circle cx="573.4" cy="187.3" r="0.95"/><circle cx="573.3" cy="174.3" r="0.95"/><circle cx="566.1" cy="166.5" r="0.95"/><circle cx="568.4" cy="207.3" r="0.95"/><circle cx="588.9" cy="122.1" r="0.95"/><circle cx="608.6" cy="102.7" r="0.95"/><circle cx="578.0" cy="156.8" r="0.95"/><circle cx="572.1" cy="199.4" r="0.95"/><circle cx="621.9" cy="95.2" r="0.95"/><circle cx="578.6" cy="164.1" r="0.95"/><circle cx="567.7" cy="185.3" r="0.95"/><circle cx="564.9" cy="207.5" r="0.95"/><circle cx="576.0" cy="169.8" r="0.95"/><circle cx="607.3" cy="108.5" r="0.95"/><circle cx="565.2" cy="202.2" r="0.95"/><circle cx="579.4" cy="140.0" r="0.95"/><circle cx="596.1" cy="156.5" r="0.95"/><circle cx="580.0" cy="159.7" r="0.95"/><circle cx="604.5" cy="103.5" r="0.95"/><circle cx="608.8" cy="109.0" r="0.95"/><circle cx="600.6" cy="104.7" r="0.95"/><circle cx="567.1" cy="212.4" r="0.95"/><circle cx="573.4" cy="194.5" r="0.95"/><circle cx="607.6" cy="104.4" r="0.95"/><circle cx="603.5" cy="99.8" r="0.95"/><circle cx="607.6" cy="95.7" r="0.95"/><circle cx="565.9" cy="210.9" r="0.95"/><circle cx="596.4" cy="101.3" r="0.95"/><circle cx="585.7" cy="155.0" r="0.95"/><circle cx="620.6" cy="88.3" r="0.95"/><circle cx="566.9" cy="165.7" r="0.95"/><circle cx="572.9" cy="149.6" r="0.95"/><circle cx="571.4" cy="164.8" r="0.95"/><circle cx="574.5" cy="145.8" r="0.95"/><circle cx="596.8" cy="137.9" r="0.95"/><circle cx="568.5" cy="208.4" r="0.95"/><circle cx="635.2" cy="67.9" r="0.95"/><circle cx="581.6" cy="181.4" r="0.95"/><circle cx="569.1" cy="192.6" r="0.95"/><circle cx="594.5" cy="105.1" r="0.95"/><circle cx="611.2" cy="106.7" r="0.95"/><circle cx="569.3" cy="207.1" r="0.95"/><circle cx="564.9" cy="206.2" r="0.95"/><circle cx="593.1" cy="105.0" r="0.95"/><circle cx="595.0" cy="192.1" r="0.95"/><circle cx="589.0" cy="142.6" r="0.95"/><circle cx="570.3" cy="153.0" r="0.95"/><circle cx="574.7" cy="172.2" r="0.95"/><circle cx="596.5" cy="115.4" r="0.95"/><circle cx="586.1" cy="168.8" r="0.95"/><circle cx="605.8" cy="91.6" r="0.95"/><circle cx="565.6" cy="209.1" r="0.95"/><circle cx="610.9" cy="114.4" r="0.95"/><circle cx="597.3" cy="145.6" r="0.95"/><circle cx="605.3" cy="118.4" r="0.95"/><circle cx="620.2" cy="76.6" r="0.95"/><circle cx="613.8" cy="101.6" r="0.95"/><circle cx="578.2" cy="174.7" r="0.95"/><circle cx="563.0" cy="208.1" r="0.95"/><circle cx="580.9" cy="129.4" r="0.95"/><circle cx="572.2" cy="207.8" r="0.95"/><circle cx="602.9" cy="105.8" r="0.95"/><circle cx="568.4" cy="162.1" r="0.95"/><circle cx="588.9" cy="114.6" r="0.95"/><circle cx="574.4" cy="150.5" r="0.95"/><circle cx="565.2" cy="195.3" r="0.95"/><circle cx="599.7" cy="131.2" r="0.95"/><circle cx="590.4" cy="117.8" r="0.95"/><circle cx="602.8" cy="103.2" r="0.95"/><circle cx="594.7" cy="107.6" r="0.95"/><circle cx="586.9" cy="136.7" r="0.95"/><circle cx="568.7" cy="213.5" r="0.95"/><circle cx="579.0" cy="142.6" r="0.95"/><circle cx="589.6" cy="126.5" r="0.95"/><circle cx="568.9" cy="162.9" r="0.95"/><circle cx="569.7" cy="213.6" r="0.95"/><circle cx="608.5" cy="102.0" r="0.95"/><circle cx="611.9" cy="91.3" r="0.95"/><circle cx="571.4" cy="194.6" r="0.95"/><circle cx="563.2" cy="211.9" r="0.95"/><circle cx="563.4" cy="210.5" r="0.95"/><circle cx="621.8" cy="82.9" r="0.95"/><circle cx="604.1" cy="90.7" r="0.95"/><circle cx="586.2" cy="126.6" r="0.95"/><circle cx="608.6" cy="105.2" r="0.95"/><circle cx="577.5" cy="143.8" r="0.95"/><circle cx="569.7" cy="210.2" r="0.95"/><circle cx="577.0" cy="193.7" r="0.95"/><circle cx="592.9" cy="167.0" r="0.95"/><circle cx="578.5" cy="160.0" r="0.95"/><circle cx="566.0" cy="213.9" r="0.95"/><circle cx="592.8" cy="113.9" r="0.95"/><circle cx="597.8" cy="141.1" r="0.95"/><circle cx="599.3" cy="151.0" r="0.95"/><circle cx="569.4" cy="202.8" r="0.95"/><circle cx="603.7" cy="122.9" r="0.95"/><circle cx="593.1" cy="116.3" r="0.95"/><circle cx="582.1" cy="174.7" r="0.95"/><circle cx="576.4" cy="176.5" r="0.95"/><circle cx="583.0" cy="162.6" r="0.95"/><circle cx="572.3" cy="199.7" r="0.95"/><circle cx="567.8" cy="205.1" r="0.95"/><circle cx="587.2" cy="146.7" r="0.95"/><circle cx="584.3" cy="135.5" r="0.95"/><circle cx="601.3" cy="155.3" r="0.95"/><circle cx="582.9" cy="160.7" r="0.95"/><circle cx="569.3" cy="206.2" r="0.95"/><circle cx="621.1" cy="144.2" r="0.95"/><circle cx="599.9" cy="122.5" r="0.95"/><circle cx="618.3" cy="74.0" r="0.95"/><circle cx="562.9" cy="181.7" r="0.95"/><circle cx="594.9" cy="141.0" r="0.95"/><circle cx="593.7" cy="112.7" r="0.95"/><circle cx="596.5" cy="104.2" r="0.95"/><circle cx="608.1" cy="92.1" r="0.95"/><circle cx="578.2" cy="197.2" r="0.95"/><circle cx="575.1" cy="201.7" r="0.95"/><circle cx="599.4" cy="105.8" r="0.95"/><circle cx="569.1" cy="167.8" r="0.95"/><circle cx="602.3" cy="114.2" r="0.95"/><circle cx="573.3" cy="199.5" r="0.95"/><circle cx="576.6" cy="136.5" r="0.95"/><circle cx="613.6" cy="94.0" r="0.95"/><circle cx="594.0" cy="135.9" r="0.95"/><circle cx="583.6" cy="170.6" r="0.95"/><circle cx="586.3" cy="123.7" r="0.95"/><circle cx="582.8" cy="157.8" r="0.95"/><circle cx="564.8" cy="177.3" r="0.95"/><circle cx="562.6" cy="196.1" r="0.95"/><circle cx="583.8" cy="122.4" r="0.95"/><circle cx="585.4" cy="127.7" r="0.95"/><circle cx="575.5" cy="169.3" r="0.95"/><circle cx="586.6" cy="178.8" r="0.95"/><circle cx="604.0" cy="125.8" r="0.95"/><circle cx="570.1" cy="164.3" r="0.95"/><circle cx="598.0" cy="101.8" r="0.95"/><circle cx="596.2" cy="109.2" r="0.95"/><circle cx="607.3" cy="128.1" r="0.95"/><circle cx="561.7" cy="200.4" r="0.95"/><circle cx="580.9" cy="175.8" r="0.95"/><circle cx="583.9" cy="134.0" r="0.95"/><circle cx="572.7" cy="205.4" r="0.95"/><circle cx="576.1" cy="150.0" r="0.95"/><circle cx="586.2" cy="136.5" r="0.95"/><circle cx="570.8" cy="212.3" r="0.95"/><circle cx="614.0" cy="106.0" r="0.95"/><circle cx="592.0" cy="146.9" r="0.95"/><circle cx="574.0" cy="172.6" r="0.95"/><circle cx="562.7" cy="209.8" r="0.95"/><circle cx="600.8" cy="109.4" r="0.95"/><circle cx="581.6" cy="159.1" r="0.95"/><circle cx="570.6" cy="208.8" r="0.95"/><circle cx="603.9" cy="89.5" r="0.95"/><circle cx="583.6" cy="137.4" r="0.95"/><circle cx="578.0" cy="152.5" r="0.95"/><circle cx="564.7" cy="209.5" r="0.95"/><circle cx="597.5" cy="147.1" r="0.95"/><circle cx="601.5" cy="97.2" r="0.95"/><circle cx="592.7" cy="110.8" r="0.95"/><circle cx="574.6" cy="205.4" r="0.95"/><circle cx="593.2" cy="145.6" r="0.95"/><circle cx="568.5" cy="182.2" r="0.95"/><circle cx="600.7" cy="119.5" r="0.95"/><circle cx="614.0" cy="92.6" r="0.95"/><circle cx="563.6" cy="212.9" r="0.95"/><circle cx="567.7" cy="202.8" r="0.95"/><circle cx="605.1" cy="89.7" r="0.95"/><circle cx="561.7" cy="204.6" r="0.95"/><circle cx="594.2" cy="156.3" r="0.95"/><circle cx="599.6" cy="101.5" r="0.95"/><circle cx="590.5" cy="120.4" r="0.95"/><circle cx="589.8" cy="131.1" r="0.95"/><circle cx="573.2" cy="201.8" r="0.95"/><circle cx="617.0" cy="87.5" r="0.95"/><circle cx="574.1" cy="176.9" r="0.95"/><circle cx="604.9" cy="125.5" r="0.95"/><circle cx="616.2" cy="76.1" r="0.95"/><circle cx="592.0" cy="120.5" r="0.95"/><circle cx="562.2" cy="195.7" r="0.95"/><circle cx="583.3" cy="163.1" r="0.95"/><circle cx="589.4" cy="120.4" r="0.95"/><circle cx="563.9" cy="203.6" r="0.95"/><circle cx="601.0" cy="92.5" r="0.95"/><circle cx="581.2" cy="155.7" r="0.95"/><circle cx="580.5" cy="136.8" r="0.95"/><circle cx="567.9" cy="162.4" r="0.95"/><circle cx="605.1" cy="113.7" r="0.95"/><circle cx="574.4" cy="146.0" r="0.95"/><circle cx="617.8" cy="78.6" r="0.95"/><circle cx="583.3" cy="135.9" r="0.95"/><circle cx="610.4" cy="122.3" r="0.95"/><circle cx="561.8" cy="196.2" r="0.95"/><circle cx="589.9" cy="192.4" r="0.95"/><circle cx="570.6" cy="167.7" r="0.95"/><circle cx="588.1" cy="175.7" r="0.95"/><circle cx="577.8" cy="154.5" r="0.95"/><circle cx="617.2" cy="80.5" r="0.95"/><circle cx="575.2" cy="168.9" r="0.95"/><circle cx="568.4" cy="192.9" r="0.95"/><circle cx="598.2" cy="131.7" r="0.95"/><circle cx="596.1" cy="106.2" r="0.95"/><circle cx="594.5" cy="106.2" r="0.95"/><circle cx="573.8" cy="162.6" r="0.95"/><circle cx="618.0" cy="94.9" r="0.95"/><circle cx="591.2" cy="149.9" r="0.95"/><circle cx="569.1" cy="168.4" r="0.95"/><circle cx="588.5" cy="128.4" r="0.95"/><circle cx="582.2" cy="192.3" r="0.95"/><circle cx="603.2" cy="126.4" r="0.95"/><circle cx="594.8" cy="122.3" r="0.95"/><circle cx="589.8" cy="138.7" r="0.95"/><circle cx="590.8" cy="149.2" r="0.95"/><circle cx="575.5" cy="180.6" r="0.95"/><circle cx="573.0" cy="193.2" r="0.95"/><circle cx="586.4" cy="139.6" r="0.95"/><circle cx="588.0" cy="143.1" r="0.95"/><circle cx="565.6" cy="196.5" r="0.95"/><circle cx="574.9" cy="176.4" r="0.95"/><circle cx="608.2" cy="100.6" r="0.95"/><circle cx="585.1" cy="185.2" r="0.95"/><circle cx="578.3" cy="193.4" r="0.95"/><circle cx="590.8" cy="112.1" r="0.95"/><circle cx="586.1" cy="129.7" r="0.95"/><circle cx="593.7" cy="153.3" r="0.95"/><circle cx="614.4" cy="81.8" r="0.95"/><circle cx="578.7" cy="179.9" r="0.95"/><circle cx="586.7" cy="119.6" r="0.95"/><circle cx="586.5" cy="128.6" r="0.95"/><circle cx="571.3" cy="174.4" r="0.95"/><circle cx="566.8" cy="206.8" r="0.95"/><circle cx="588.6" cy="171.2" r="0.95"/><circle cx="580.5" cy="156.1" r="0.95"/><circle cx="576.0" cy="183.3" r="0.95"/><circle cx="576.3" cy="170.1" r="0.95"/><circle cx="578.7" cy="140.3" r="0.95"/><circle cx="571.7" cy="197.8" r="0.95"/><circle cx="599.0" cy="111.5" r="0.95"/><circle cx="566.9" cy="209.1" r="0.95"/><circle cx="589.9" cy="154.8" r="0.95"/><circle cx="579.7" cy="147.8" r="0.95"/><circle cx="563.6" cy="198.3" r="0.95"/><circle cx="598.2" cy="105.1" r="0.95"/><circle cx="586.4" cy="136.9" r="0.95"/><circle cx="613.8" cy="99.9" r="0.95"/><circle cx="573.0" cy="156.5" r="0.95"/><circle cx="575.1" cy="152.0" r="0.95"/><circle cx="616.2" cy="83.2" r="0.95"/><circle cx="567.0" cy="202.3" r="0.95"/><circle cx="604.7" cy="95.5" r="0.95"/><circle cx="605.1" cy="130.6" r="0.95"/><circle cx="615.3" cy="99.6" r="0.95"/><circle cx="602.1" cy="112.0" r="0.95"/><circle cx="567.6" cy="179.5" r="0.95"/><circle cx="586.4" cy="144.1" r="0.95"/><circle cx="618.4" cy="95.2" r="0.95"/><circle cx="578.7" cy="188.2" r="0.95"/><circle cx="579.5" cy="164.1" r="0.95"/><circle cx="598.2" cy="104.6" r="0.95"/><circle cx="584.5" cy="173.3" r="0.95"/><circle cx="612.2" cy="94.8" r="0.95"/><circle cx="596.6" cy="138.8" r="0.95"/><circle cx="584.7" cy="182.0" r="0.95"/><circle cx="595.0" cy="112.0" r="0.95"/><circle cx="576.1" cy="201.2" r="0.95"/><circle cx="575.1" cy="141.6" r="0.95"/><circle cx="595.6" cy="154.3" r="0.95"/><circle cx="580.5" cy="148.7" r="0.95"/><circle cx="617.8" cy="90.5" r="0.95"/><circle cx="577.2" cy="154.3" r="0.95"/><circle cx="589.8" cy="181.4" r="0.95"/><circle cx="562.7" cy="208.9" r="0.95"/><circle cx="608.2" cy="107.7" r="0.95"/><circle cx="578.4" cy="152.1" r="0.95"/><circle cx="580.5" cy="173.2" r="0.95"/><circle cx="608.8" cy="87.7" r="0.95"/><circle cx="594.3" cy="126.4" r="0.95"/><circle cx="570.1" cy="194.0" r="0.95"/><circle cx="599.7" cy="129.5" r="0.95"/><circle cx="598.2" cy="122.1" r="0.95"/><circle cx="574.3" cy="153.3" r="0.95"/><circle cx="570.2" cy="197.3" r="0.95"/><circle cx="584.3" cy="149.2" r="0.95"/><circle cx="614.3" cy="81.0" r="0.95"/><circle cx="597.5" cy="102.2" r="0.95"/><circle cx="595.5" cy="151.2" r="0.95"/><circle cx="580.7" cy="181.2" r="0.95"/><circle cx="583.5" cy="178.4" r="0.95"/><circle cx="561.7" cy="187.8" r="0.95"/><circle cx="579.2" cy="164.5" r="0.95"/><circle cx="592.0" cy="159.5" r="0.95"/><circle cx="566.9" cy="189.3" r="0.95"/><circle cx="600.9" cy="125.7" r="0.95"/><circle cx="567.5" cy="214.0" r="0.95"/><circle cx="572.1" cy="206.3" r="0.95"/><circle cx="582.1" cy="186.1" r="0.95"/><circle cx="613.5" cy="84.3" r="0.95"/><circle cx="626.9" cy="77.6" r="0.95"/><circle cx="577.3" cy="146.7" r="0.95"/><circle cx="570.8" cy="213.5" r="0.95"/><circle cx="627.3" cy="75.0" r="0.95"/><circle cx="567.0" cy="205.5" r="0.95"/><circle cx="581.6" cy="166.7" r="0.95"/><circle cx="614.3" cy="103.2" r="0.95"/><circle cx="626.8" cy="139.0" r="0.95"/><circle cx="579.1" cy="199.5" r="0.95"/><circle cx="585.8" cy="169.3" r="0.95"/><circle cx="598.8" cy="104.6" r="0.95"/><circle cx="591.0" cy="139.9" r="0.95"/><circle cx="593.7" cy="129.2" r="0.95"/><circle cx="583.8" cy="124.1" r="0.95"/><circle cx="588.2" cy="123.0" r="0.95"/><circle cx="597.2" cy="102.5" r="0.95"/><circle cx="606.1" cy="104.3" r="0.95"/><circle cx="564.8" cy="183.2" r="0.95"/><circle cx="593.1" cy="125.7" r="0.95"/><circle cx="575.8" cy="174.3" r="0.95"/><circle cx="572.8" cy="207.4" r="0.95"/><circle cx="580.0" cy="162.5" r="0.95"/><circle cx="612.1" cy="105.8" r="0.95"/><circle cx="570.7" cy="212.2" r="0.95"/><circle cx="621.8" cy="77.3" r="0.95"/><circle cx="575.0" cy="187.5" r="0.95"/><circle cx="596.0" cy="163.1" r="0.95"/><circle cx="588.9" cy="158.8" r="0.95"/><circle cx="577.9" cy="162.3" r="0.95"/><circle cx="580.5" cy="186.1" r="0.95"/><circle cx="567.1" cy="209.7" r="0.95"/><circle cx="585.7" cy="170.2" r="0.95"/><circle cx="600.1" cy="133.6" r="0.95"/><circle cx="618.8" cy="102.7" r="0.95"/><circle cx="597.2" cy="135.4" r="0.95"/><circle cx="580.8" cy="185.7" r="0.95"/><circle cx="583.3" cy="131.5" r="0.95"/><circle cx="562.5" cy="210.1" r="0.95"/><circle cx="595.8" cy="176.3" r="0.95"/><circle cx="582.5" cy="181.0" r="0.95"/><circle cx="594.1" cy="107.6" r="0.95"/><circle cx="582.2" cy="154.2" r="0.95"/><circle cx="605.6" cy="113.7" r="0.95"/><circle cx="622.1" cy="75.8" r="0.95"/><circle cx="572.3" cy="198.7" r="0.95"/><circle cx="568.1" cy="185.8" r="0.95"/><circle cx="562.7" cy="182.0" r="0.95"/><circle cx="567.8" cy="201.5" r="0.95"/><circle cx="564.4" cy="214.0" r="0.95"/><circle cx="578.2" cy="154.4" r="0.95"/><circle cx="565.1" cy="181.9" r="0.95"/><circle cx="612.6" cy="100.1" r="0.95"/><circle cx="599.9" cy="112.2" r="0.95"/><circle cx="580.4" cy="170.3" r="0.95"/><circle cx="600.3" cy="116.8" r="0.95"/><circle cx="605.2" cy="108.9" r="0.95"/><circle cx="584.7" cy="151.8" r="0.95"/><circle cx="561.6" cy="213.7" r="0.95"/><circle cx="564.6" cy="212.1" r="0.95"/><circle cx="614.0" cy="95.0" r="0.95"/><circle cx="588.3" cy="168.5" r="0.95"/><circle cx="614.4" cy="89.4" r="0.95"/><circle cx="595.9" cy="169.4" r="0.95"/><circle cx="584.8" cy="159.4" r="0.95"/><circle cx="578.3" cy="172.0" r="0.95"/><circle cx="572.6" cy="181.7" r="0.95"/><circle cx="588.5" cy="179.3" r="0.95"/><circle cx="590.0" cy="125.3" r="0.95"/><circle cx="578.2" cy="148.8" r="0.95"/><circle cx="573.2" cy="202.8" r="0.95"/><circle cx="572.2" cy="203.2" r="0.95"/><circle cx="585.4" cy="119.9" r="0.95"/><circle cx="604.6" cy="105.4" r="0.95"/><circle cx="604.0" cy="140.6" r="0.95"/><circle cx="574.7" cy="200.1" r="0.95"/><circle cx="562.0" cy="212.6" r="0.95"/><circle cx="612.1" cy="78.2" r="0.95"/><circle cx="598.8" cy="164.3" r="0.95"/><circle cx="594.9" cy="128.0" r="0.95"/><circle cx="584.2" cy="137.7" r="0.95"/><circle cx="584.9" cy="149.0" r="0.95"/><circle cx="572.2" cy="176.1" r="0.95"/><circle cx="607.7" cy="122.6" r="0.95"/><circle cx="577.6" cy="176.6" r="0.95"/><circle cx="565.0" cy="179.6" r="0.95"/><circle cx="598.1" cy="103.8" r="0.95"/><circle cx="601.2" cy="136.0" r="0.95"/><circle cx="578.4" cy="154.4" r="0.95"/><circle cx="594.2" cy="134.2" r="0.95"/><circle cx="615.7" cy="107.9" r="0.95"/><circle cx="593.3" cy="104.9" r="0.95"/><circle cx="595.4" cy="129.8" r="0.95"/><circle cx="620.5" cy="78.9" r="0.95"/><circle cx="597.1" cy="108.0" r="0.95"/><circle cx="610.1" cy="87.1" r="0.95"/><circle cx="583.0" cy="129.2" r="0.95"/><circle cx="585.1" cy="183.9" r="0.95"/><circle cx="575.4" cy="196.7" r="0.95"/><circle cx="582.7" cy="188.2" r="0.95"/><circle cx="617.9" cy="71.3" r="0.95"/><circle cx="571.6" cy="207.1" r="0.95"/><circle cx="617.2" cy="89.5" r="0.95"/><circle cx="566.4" cy="188.5" r="0.95"/><circle cx="578.5" cy="139.2" r="0.95"/><circle cx="605.5" cy="92.7" r="0.95"/><circle cx="575.0" cy="150.5" r="0.95"/><circle cx="597.0" cy="119.2" r="0.95"/><circle cx="572.0" cy="204.5" r="0.95"/><circle cx="583.2" cy="148.1" r="0.95"/><circle cx="605.0" cy="100.9" r="0.95"/><circle cx="575.1" cy="172.6" r="0.95"/><circle cx="576.0" cy="170.8" r="0.95"/><circle cx="571.9" cy="205.2" r="0.95"/><circle cx="591.8" cy="165.1" r="0.95"/><circle cx="571.7" cy="152.0" r="0.95"/><circle cx="573.4" cy="193.4" r="0.95"/><circle cx="571.3" cy="187.9" r="0.95"/><circle cx="590.9" cy="161.8" r="0.95"/><circle cx="595.7" cy="164.2" r="0.95"/><circle cx="578.8" cy="136.7" r="0.95"/><circle cx="619.5" cy="83.9" r="0.95"/><circle cx="579.4" cy="189.6" r="0.95"/><circle cx="609.0" cy="110.8" r="0.95"/><circle cx="575.6" cy="203.7" r="0.95"/><circle cx="582.4" cy="139.7" r="0.95"/><circle cx="577.5" cy="177.5" r="0.95"/><circle cx="561.8" cy="195.4" r="0.95"/><circle cx="586.6" cy="180.8" r="0.95"/><circle cx="625.5" cy="97.3" r="0.95"/><circle cx="582.5" cy="172.1" r="0.95"/><circle cx="565.0" cy="190.6" r="0.95"/><circle cx="574.0" cy="185.7" r="0.95"/><circle cx="576.8" cy="169.0" r="0.95"/><circle cx="606.1" cy="127.5" r="0.95"/><circle cx="594.0" cy="124.8" r="0.95"/><circle cx="599.7" cy="111.3" r="0.95"/><circle cx="585.0" cy="145.6" r="0.95"/><circle cx="569.8" cy="181.7" r="0.95"/><circle cx="568.0" cy="206.6" r="0.95"/><circle cx="591.6" cy="112.7" r="0.95"/><circle cx="585.3" cy="151.0" r="0.95"/><circle cx="586.5" cy="161.4" r="0.95"/><circle cx="602.6" cy="101.5" r="0.95"/><circle cx="602.0" cy="112.4" r="0.95"/><circle cx="598.1" cy="134.1" r="0.95"/><circle cx="580.5" cy="177.0" r="0.95"/><circle cx="597.4" cy="109.1" r="0.95"/><circle cx="572.1" cy="158.2" r="0.95"/><circle cx="585.7" cy="175.5" r="0.95"/><circle cx="589.2" cy="152.5" r="0.95"/><circle cx="577.9" cy="157.5" r="0.95"/><circle cx="576.3" cy="164.2" r="0.95"/><circle cx="577.9" cy="148.7" r="0.95"/><circle cx="593.6" cy="117.6" r="0.95"/><circle cx="570.3" cy="191.5" r="0.95"/><circle cx="585.0" cy="165.4" r="0.95"/><circle cx="598.0" cy="96.8" r="0.95"/><circle cx="573.7" cy="211.2" r="0.95"/><circle cx="569.7" cy="211.3" r="0.95"/><circle cx="593.1" cy="117.5" r="0.95"/><circle cx="562.6" cy="205.9" r="0.95"/><circle cx="577.8" cy="171.5" r="0.95"/><circle cx="568.2" cy="160.4" r="0.95"/><circle cx="605.5" cy="94.9" r="0.95"/><circle cx="567.5" cy="180.4" r="0.95"/><circle cx="584.8" cy="141.2" r="0.95"/><circle cx="582.7" cy="147.3" r="0.95"/><circle cx="602.2" cy="125.6" r="0.95"/><circle cx="596.4" cy="168.0" r="0.95"/><circle cx="591.1" cy="116.4" r="0.95"/><circle cx="586.5" cy="133.3" r="0.95"/><circle cx="568.6" cy="179.5" r="0.95"/><circle cx="575.1" cy="187.3" r="0.95"/><circle cx="567.5" cy="188.4" r="0.95"/><circle cx="575.9" cy="174.6" r="0.95"/><circle cx="576.4" cy="194.6" r="0.95"/><circle cx="573.5" cy="194.2" r="0.95"/><circle cx="599.8" cy="109.2" r="0.95"/><circle cx="570.0" cy="209.0" r="0.95"/><circle cx="587.1" cy="124.5" r="0.95"/><circle cx="624.9" cy="77.8" r="0.95"/><circle cx="577.3" cy="139.7" r="0.95"/><circle cx="597.7" cy="104.3" r="0.95"/><circle cx="571.7" cy="204.2" r="0.95"/><circle cx="609.2" cy="95.1" r="0.95"/><circle cx="632.9" cy="66.1" r="0.95"/><circle cx="600.0" cy="129.2" r="0.95"/><circle cx="597.9" cy="105.1" r="0.95"/><circle cx="575.5" cy="193.7" r="0.95"/><circle cx="582.6" cy="170.4" r="0.95"/><circle cx="570.9" cy="205.6" r="0.95"/><circle cx="600.3" cy="129.6" r="0.95"/><circle cx="593.9" cy="126.1" r="0.95"/><circle cx="566.4" cy="166.8" r="0.95"/><circle cx="606.9" cy="89.4" r="0.95"/><circle cx="596.1" cy="156.1" r="0.95"/><circle cx="603.5" cy="113.4" r="0.95"/><circle cx="573.3" cy="194.9" r="0.95"/><circle cx="564.7" cy="205.0" r="0.95"/><circle cx="568.5" cy="198.3" r="0.95"/><circle cx="569.5" cy="174.5" r="0.95"/><circle cx="564.7" cy="207.1" r="0.95"/><circle cx="567.6" cy="212.9" r="0.95"/><circle cx="601.5" cy="131.5" r="0.95"/><circle cx="594.2" cy="113.0" r="0.95"/><circle cx="590.4" cy="119.6" r="0.95"/><circle cx="592.3" cy="154.5" r="0.95"/><circle cx="562.6" cy="190.0" r="0.95"/><circle cx="600.4" cy="99.0" r="0.95"/><circle cx="566.2" cy="179.5" r="0.95"/><circle cx="584.4" cy="139.2" r="0.95"/><circle cx="585.2" cy="129.0" r="0.95"/><circle cx="570.0" cy="185.2" r="0.95"/><circle cx="571.9" cy="168.5" r="0.95"/><circle cx="562.0" cy="185.8" r="0.95"/><circle cx="564.7" cy="188.6" r="0.95"/><circle cx="580.2" cy="139.4" r="0.95"/><circle cx="593.3" cy="161.5" r="0.95"/><circle cx="564.9" cy="201.2" r="0.95"/><circle cx="581.9" cy="192.3" r="0.95"/><circle cx="563.1" cy="200.2" r="0.95"/><circle cx="590.6" cy="136.1" r="0.95"/><circle cx="583.2" cy="139.2" r="0.95"/><circle cx="564.8" cy="187.8" r="0.95"/><circle cx="565.6" cy="182.1" r="0.95"/><circle cx="584.2" cy="169.3" r="0.95"/><circle cx="606.6" cy="124.6" r="0.95"/><circle cx="563.4" cy="207.4" r="0.95"/><circle cx="568.8" cy="209.7" r="0.95"/><circle cx="609.1" cy="123.2" r="0.95"/><circle cx="565.8" cy="186.8" r="0.95"/><circle cx="581.9" cy="138.0" r="0.95"/><circle cx="604.0" cy="103.4" r="0.95"/><circle cx="597.2" cy="150.7" r="0.95"/><circle cx="602.3" cy="98.1" r="0.95"/><circle cx="585.9" cy="131.8" r="0.95"/><circle cx="566.6" cy="202.1" r="0.95"/><circle cx="571.6" cy="159.9" r="0.95"/><circle cx="603.2" cy="99.8" r="0.95"/><circle cx="615.2" cy="76.1" r="0.95"/><circle cx="574.1" cy="198.6" r="0.95"/><circle cx="585.9" cy="155.8" r="0.95"/><circle cx="590.4" cy="135.9" r="0.95"/><circle cx="587.7" cy="131.4" r="0.95"/><circle cx="593.9" cy="154.7" r="0.95"/><circle cx="595.5" cy="120.7" r="0.95"/><circle cx="574.0" cy="212.5" r="0.95"/><circle cx="570.3" cy="174.4" r="0.95"/><circle cx="575.5" cy="177.1" r="0.95"/><circle cx="563.2" cy="190.9" r="0.95"/><circle cx="573.6" cy="166.7" r="0.95"/><circle cx="606.6" cy="92.1" r="0.95"/><circle cx="577.2" cy="138.1" r="0.95"/><circle cx="595.8" cy="134.1" r="0.95"/><circle cx="566.3" cy="188.3" r="0.95"/><circle cx="581.0" cy="160.3" r="0.95"/><circle cx="571.3" cy="205.3" r="0.95"/><circle cx="600.2" cy="97.7" r="0.95"/><circle cx="567.4" cy="207.8" r="0.95"/><circle cx="593.8" cy="155.6" r="0.95"/><circle cx="587.0" cy="133.3" r="0.95"/><circle cx="567.6" cy="201.9" r="0.95"/><circle cx="601.4" cy="104.4" r="0.95"/><circle cx="592.8" cy="131.8" r="0.95"/><circle cx="568.0" cy="213.0" r="0.95"/><circle cx="578.9" cy="172.7" r="0.95"/><circle cx="591.0" cy="152.4" r="0.95"/><circle cx="584.3" cy="189.8" r="0.95"/><circle cx="594.2" cy="111.8" r="0.95"/><circle cx="583.0" cy="184.1" r="0.95"/><circle cx="567.6" cy="204.0" r="0.95"/><circle cx="585.8" cy="173.6" r="0.95"/><circle cx="578.5" cy="183.6" r="0.95"/><circle cx="624.1" cy="70.6" r="0.95"/><circle cx="572.8" cy="212.1" r="0.95"/><circle cx="595.2" cy="159.1" r="0.95"/><circle cx="562.3" cy="191.6" r="0.95"/><circle cx="582.2" cy="141.0" r="0.95"/><circle cx="603.5" cy="93.6" r="0.95"/><circle cx="593.0" cy="144.4" r="0.95"/><circle cx="565.1" cy="199.4" r="0.95"/><circle cx="593.0" cy="142.0" r="0.95"/><circle cx="570.1" cy="206.5" r="0.95"/><circle cx="586.7" cy="166.3" r="0.95"/><circle cx="570.9" cy="196.2" r="0.95"/><circle cx="563.0" cy="190.9" r="0.95"/><circle cx="578.7" cy="195.6" r="0.95"/><circle cx="565.1" cy="209.0" r="0.95"/><circle cx="584.5" cy="126.9" r="0.95"/><circle cx="583.1" cy="175.7" r="0.95"/><circle cx="573.4" cy="183.1" r="0.95"/><circle cx="580.7" cy="151.8" r="0.95"/><circle cx="574.6" cy="158.5" r="0.95"/><circle cx="588.9" cy="112.8" r="0.95"/><circle cx="586.7" cy="173.0" r="0.95"/><circle cx="564.6" cy="183.0" r="0.95"/><circle cx="600.5" cy="116.7" r="0.95"/><circle cx="607.1" cy="99.0" r="0.95"/><circle cx="568.0" cy="160.1" r="0.95"/><circle cx="575.2" cy="199.1" r="0.95"/><circle cx="586.0" cy="151.3" r="0.95"/><circle cx="619.9" cy="71.1" r="0.95"/><circle cx="566.6" cy="209.1" r="0.95"/><circle cx="571.3" cy="172.8" r="0.95"/><circle cx="589.7" cy="160.3" r="0.95"/><circle cx="600.3" cy="122.3" r="0.95"/><circle cx="572.6" cy="197.6" r="0.95"/><circle cx="597.2" cy="145.5" r="0.95"/><circle cx="574.5" cy="172.7" r="0.95"/><circle cx="565.9" cy="207.1" r="0.95"/><circle cx="580.8" cy="152.5" r="0.95"/><circle cx="573.0" cy="160.1" r="0.95"/><circle cx="585.2" cy="176.9" r="0.95"/><circle cx="592.6" cy="155.6" r="0.95"/><circle cx="597.3" cy="103.1" r="0.95"/><circle cx="591.5" cy="112.9" r="0.95"/><circle cx="579.2" cy="186.9" r="0.95"/><circle cx="577.9" cy="191.3" r="0.95"/><circle cx="598.8" cy="105.4" r="0.95"/><circle cx="595.4" cy="143.5" r="0.95"/><circle cx="596.4" cy="132.3" r="0.95"/><circle cx="572.7" cy="202.4" r="0.95"/><circle cx="562.9" cy="206.0" r="0.95"/><circle cx="567.1" cy="178.6" r="0.95"/><circle cx="575.4" cy="187.6" r="0.95"/><circle cx="601.9" cy="136.5" r="0.95"/><circle cx="599.0" cy="120.8" r="0.95"/><circle cx="565.0" cy="211.2" r="0.95"/><circle cx="589.3" cy="177.0" r="0.95"/><circle cx="577.5" cy="153.2" r="0.95"/><circle cx="570.5" cy="161.4" r="0.95"/><circle cx="609.5" cy="106.5" r="0.95"/><circle cx="564.4" cy="179.8" r="0.95"/><circle cx="566.8" cy="179.9" r="0.95"/><circle cx="603.3" cy="116.1" r="0.95"/><circle cx="579.5" cy="160.1" r="0.95"/><circle cx="582.0" cy="169.4" r="0.95"/><circle cx="605.4" cy="129.1" r="0.95"/><circle cx="580.9" cy="174.4" r="0.95"/><circle cx="608.7" cy="88.6" r="0.95"/><circle cx="570.0" cy="201.3" r="0.95"/><circle cx="565.1" cy="206.0" r="0.95"/><circle cx="586.9" cy="119.6" r="0.95"/><circle cx="564.9" cy="207.3" r="0.95"/><circle cx="566.8" cy="164.5" r="0.95"/><circle cx="579.1" cy="141.1" r="0.95"/><circle cx="616.0" cy="83.1" r="0.95"/><circle cx="605.3" cy="103.7" r="0.95"/><circle cx="580.2" cy="146.4" r="0.95"/><circle cx="565.0" cy="177.2" r="0.95"/><circle cx="608.8" cy="94.3" r="0.95"/><circle cx="571.1" cy="192.4" r="0.95"/><circle cx="586.3" cy="121.3" r="0.95"/><circle cx="615.1" cy="92.0" r="0.95"/><circle cx="610.5" cy="116.5" r="0.95"/><circle cx="581.4" cy="127.3" r="0.95"/><circle cx="566.5" cy="191.2" r="0.95"/><circle cx="619.1" cy="86.6" r="0.95"/><circle cx="570.1" cy="162.3" r="0.95"/><circle cx="598.6" cy="155.8" r="0.95"/><circle cx="584.7" cy="155.6" r="0.95"/><circle cx="592.5" cy="131.8" r="0.95"/><circle cx="594.2" cy="128.0" r="0.95"/><circle cx="591.6" cy="162.3" r="0.95"/><circle cx="571.8" cy="186.5" r="0.95"/><circle cx="569.7" cy="214.1" r="0.95"/><circle cx="586.3" cy="118.9" r="0.95"/><circle cx="580.8" cy="176.4" r="0.95"/><circle cx="586.1" cy="160.6" r="0.95"/><circle cx="575.9" cy="173.2" r="0.95"/><circle cx="588.5" cy="135.7" r="0.95"/><circle cx="615.3" cy="109.1" r="0.95"/><circle cx="564.2" cy="209.4" r="0.95"/><circle cx="582.7" cy="172.6" r="0.95"/><circle cx="599.0" cy="129.8" r="0.95"/><circle cx="611.8" cy="108.6" r="0.95"/><circle cx="588.8" cy="140.9" r="0.95"/><circle cx="611.3" cy="94.3" r="0.95"/><circle cx="587.6" cy="176.1" r="0.95"/><circle cx="593.5" cy="153.5" r="0.95"/><circle cx="592.7" cy="172.4" r="0.95"/><circle cx="570.2" cy="203.4" r="0.95"/><circle cx="572.0" cy="186.4" r="0.95"/><circle cx="584.4" cy="148.1" r="0.95"/><circle cx="563.0" cy="205.1" r="0.95"/><circle cx="573.9" cy="160.4" r="0.95"/><circle cx="588.2" cy="126.8" r="0.95"/><circle cx="603.0" cy="133.4" r="0.95"/><circle cx="586.7" cy="160.2" r="0.95"/><circle cx="587.9" cy="148.3" r="0.95"/><circle cx="572.3" cy="194.1" r="0.95"/><circle cx="591.8" cy="183.0" r="0.95"/><circle cx="568.7" cy="212.9" r="0.95"/><circle cx="594.5" cy="159.5" r="0.95"/><circle cx="586.1" cy="141.4" r="0.95"/><circle cx="565.5" cy="203.6" r="0.95"/><circle cx="569.9" cy="198.7" r="0.95"/><circle cx="573.9" cy="151.0" r="0.95"/><circle cx="568.0" cy="175.7" r="0.95"/><circle cx="601.2" cy="97.2" r="0.95"/><circle cx="585.3" cy="184.5" r="0.95"/><circle cx="579.0" cy="199.4" r="0.95"/><circle cx="610.8" cy="124.6" r="0.95"/><circle cx="592.9" cy="109.7" r="0.95"/><circle cx="577.7" cy="150.6" r="0.95"/><circle cx="601.9" cy="102.0" r="0.95"/><circle cx="610.0" cy="104.6" r="0.95"/><circle cx="568.8" cy="178.0" r="0.95"/><circle cx="589.6" cy="132.8" r="0.95"/><circle cx="605.5" cy="92.8" r="0.95"/><circle cx="566.5" cy="213.0" r="0.95"/><circle cx="618.4" cy="86.5" r="0.95"/><circle cx="599.5" cy="108.9" r="0.95"/><circle cx="571.6" cy="186.4" r="0.95"/><circle cx="568.3" cy="159.3" r="0.95"/><circle cx="585.5" cy="179.3" r="0.95"/><circle cx="566.6" cy="196.8" r="0.95"/><circle cx="605.0" cy="109.3" r="0.95"/><circle cx="581.8" cy="166.6" r="0.95"/><circle cx="635.8" cy="104.9" r="0.95"/><circle cx="576.4" cy="190.1" r="0.95"/><circle cx="575.1" cy="157.4" r="0.95"/><circle cx="615.7" cy="77.7" r="0.95"/><circle cx="589.5" cy="156.7" r="0.95"/><circle cx="577.1" cy="163.7" r="0.95"/><circle cx="623.8" cy="78.4" r="0.95"/><circle cx="624.6" cy="69.2" r="0.95"/><circle cx="567.5" cy="191.3" r="0.95"/><circle cx="587.4" cy="168.3" r="0.95"/><circle cx="575.8" cy="193.1" r="0.95"/><circle cx="604.7" cy="115.6" r="0.95"/><circle cx="572.7" cy="208.9" r="0.95"/><circle cx="566.8" cy="204.0" r="0.95"/><circle cx="567.2" cy="210.9" r="0.95"/><circle cx="577.1" cy="191.7" r="0.95"/><circle cx="570.5" cy="162.4" r="0.95"/><circle cx="602.8" cy="134.6" r="0.95"/><circle cx="600.5" cy="141.7" r="0.95"/><circle cx="616.8" cy="109.9" r="0.95"/><circle cx="563.9" cy="204.2" r="0.95"/><circle cx="585.8" cy="160.0" r="0.95"/><circle cx="575.6" cy="185.6" r="0.95"/><circle cx="579.8" cy="188.2" r="0.95"/><circle cx="585.5" cy="147.9" r="0.95"/><circle cx="568.7" cy="190.6" r="0.95"/><circle cx="576.0" cy="158.2" r="0.95"/><circle cx="572.7" cy="159.7" r="0.95"/><circle cx="570.6" cy="191.1" r="0.95"/><circle cx="569.0" cy="178.2" r="0.95"/><circle cx="565.4" cy="208.6" r="0.95"/><circle cx="566.9" cy="180.7" r="0.95"/><circle cx="565.4" cy="212.3" r="0.95"/><circle cx="590.5" cy="191.6" r="0.95"/><circle cx="563.1" cy="211.2" r="0.95"/><circle cx="567.8" cy="203.1" r="0.95"/><circle cx="618.4" cy="88.7" r="0.95"/><circle cx="603.1" cy="142.5" r="0.95"/><circle cx="578.3" cy="137.1" r="0.95"/><circle cx="580.8" cy="154.7" r="0.95"/><circle cx="595.8" cy="116.1" r="0.95"/><circle cx="593.0" cy="111.7" r="0.95"/><circle cx="570.4" cy="171.8" r="0.95"/><circle cx="563.7" cy="176.1" r="0.95"/><circle cx="610.3" cy="95.8" r="0.95"/><circle cx="564.8" cy="178.2" r="0.95"/><circle cx="565.0" cy="196.7" r="0.95"/><circle cx="613.5" cy="102.7" r="0.95"/><circle cx="574.1" cy="206.6" r="0.95"/><circle cx="562.4" cy="199.1" r="0.95"/><circle cx="585.9" cy="189.6" r="0.95"/><circle cx="592.6" cy="164.3" r="0.95"/><circle cx="579.8" cy="182.9" r="0.95"/><circle cx="603.3" cy="96.6" r="0.95"/><circle cx="597.5" cy="138.9" r="0.95"/><circle cx="587.1" cy="148.6" r="0.95"/><circle cx="614.4" cy="87.3" r="0.95"/><circle cx="582.1" cy="191.9" r="0.95"/><circle cx="580.7" cy="164.3" r="0.95"/><circle cx="605.9" cy="134.4" r="0.95"/><circle cx="590.7" cy="145.3" r="0.95"/><circle cx="572.2" cy="185.1" r="0.95"/><circle cx="599.6" cy="101.6" r="0.95"/><circle cx="610.7" cy="111.3" r="0.95"/><circle cx="577.5" cy="148.5" r="0.95"/><circle cx="605.3" cy="97.1" r="0.95"/><circle cx="578.7" cy="167.4" r="0.95"/><circle cx="568.8" cy="205.9" r="0.95"/><circle cx="588.0" cy="120.6" r="0.95"/><circle cx="591.5" cy="151.7" r="0.95"/><circle cx="591.2" cy="181.8" r="0.95"/><circle cx="605.9" cy="130.8" r="0.95"/><circle cx="567.9" cy="207.2" r="0.95"/><circle cx="574.8" cy="181.8" r="0.95"/><circle cx="578.2" cy="182.6" r="0.95"/><circle cx="571.6" cy="211.5" r="0.95"/><circle cx="584.7" cy="156.7" r="0.95"/><circle cx="569.1" cy="197.2" r="0.95"/><circle cx="592.2" cy="179.4" r="0.95"/><circle cx="582.8" cy="155.5" r="0.95"/><circle cx="601.5" cy="118.8" r="0.95"/><circle cx="594.0" cy="140.4" r="0.95"/><circle cx="579.5" cy="167.7" r="0.95"/><circle cx="567.4" cy="178.6" r="0.95"/><circle cx="585.9" cy="170.9" r="0.95"/><circle cx="597.4" cy="102.2" r="0.95"/><circle cx="564.1" cy="209.2" r="0.95"/><circle cx="600.3" cy="134.7" r="0.95"/><circle cx="622.8" cy="84.3" r="0.95"/><circle cx="582.1" cy="144.3" r="0.95"/><circle cx="564.1" cy="204.1" r="0.95"/><circle cx="570.9" cy="203.3" r="0.95"/><circle cx="571.2" cy="179.8" r="0.95"/><circle cx="568.5" cy="198.1" r="0.95"/><circle cx="571.0" cy="213.0" r="0.95"/><circle cx="593.8" cy="138.1" r="0.95"/><circle cx="608.0" cy="160.1" r="0.95"/><circle cx="567.5" cy="214.3" r="0.95"/><circle cx="573.4" cy="161.7" r="0.95"/><circle cx="624.6" cy="63.8" r="0.95"/><circle cx="584.4" cy="172.0" r="0.95"/><circle cx="609.1" cy="105.0" r="0.95"/><circle cx="614.3" cy="98.7" r="0.95"/><circle cx="598.7" cy="142.6" r="0.95"/><circle cx="594.8" cy="103.4" r="0.95"/><circle cx="578.8" cy="141.2" r="0.95"/><circle cx="603.9" cy="143.0" r="0.95"/><circle cx="573.4" cy="150.6" r="0.95"/><circle cx="578.2" cy="168.9" r="0.95"/><circle cx="571.5" cy="205.4" r="0.95"/><circle cx="596.7" cy="136.8" r="0.95"/><circle cx="572.7" cy="170.9" r="0.95"/><circle cx="579.8" cy="192.0" r="0.95"/><circle cx="602.3" cy="127.6" r="0.95"/><circle cx="571.2" cy="174.2" r="0.95"/><circle cx="583.7" cy="172.1" r="0.95"/><circle cx="599.2" cy="116.3" r="0.95"/><circle cx="570.4" cy="185.9" r="0.95"/><circle cx="604.5" cy="133.9" r="0.95"/><circle cx="575.9" cy="195.6" r="0.95"/><circle cx="566.2" cy="193.6" r="0.95"/><circle cx="589.2" cy="158.3" r="0.95"/><circle cx="616.9" cy="101.9" r="0.95"/><circle cx="583.4" cy="182.0" r="0.95"/><circle cx="581.8" cy="175.7" r="0.95"/><circle cx="577.5" cy="173.3" r="0.95"/><circle cx="587.0" cy="168.4" r="0.95"/><circle cx="617.6" cy="76.4" r="0.95"/><circle cx="630.6" cy="71.2" r="0.95"/><circle cx="584.7" cy="140.1" r="0.95"/><circle cx="587.4" cy="177.6" r="0.95"/><circle cx="591.5" cy="156.6" r="0.95"/><circle cx="573.4" cy="153.9" r="0.95"/><circle cx="574.0" cy="166.7" r="0.95"/><circle cx="582.2" cy="134.6" r="0.95"/><circle cx="591.6" cy="128.7" r="0.95"/><circle cx="579.7" cy="130.3" r="0.95"/><circle cx="620.5" cy="75.5" r="0.95"/><circle cx="602.9" cy="100.8" r="0.95"/><circle cx="584.3" cy="187.5" r="0.95"/><circle cx="587.7" cy="181.2" r="0.95"/><circle cx="583.8" cy="182.5" r="0.95"/><circle cx="572.0" cy="207.1" r="0.95"/><circle cx="563.2" cy="207.9" r="0.95"/><circle cx="564.9" cy="190.1" r="0.95"/><circle cx="589.7" cy="125.1" r="0.95"/><circle cx="580.3" cy="159.2" r="0.95"/><circle cx="589.5" cy="112.1" r="0.95"/><circle cx="588.9" cy="120.8" r="0.95"/><circle cx="585.2" cy="137.5" r="0.95"/><circle cx="615.9" cy="144.1" r="0.95"/><circle cx="594.9" cy="134.6" r="0.95"/><circle cx="573.7" cy="181.0" r="0.95"/><circle cx="566.0" cy="170.3" r="0.95"/><circle cx="562.9" cy="211.6" r="0.95"/><circle cx="589.8" cy="163.2" r="0.95"/><circle cx="581.6" cy="142.4" r="0.95"/><circle cx="625.3" cy="66.1" r="0.95"/><circle cx="582.0" cy="154.5" r="0.95"/><circle cx="598.1" cy="97.5" r="0.95"/><circle cx="563.6" cy="193.4" r="0.95"/><circle cx="570.0" cy="168.7" r="0.95"/><circle cx="620.8" cy="78.3" r="0.95"/><circle cx="614.1" cy="101.4" r="0.95"/><circle cx="602.2" cy="123.0" r="0.95"/><circle cx="577.7" cy="167.7" r="0.95"/><circle cx="569.7" cy="154.2" r="0.95"/><circle cx="564.6" cy="202.7" r="0.95"/><circle cx="591.8" cy="116.2" r="0.95"/><circle cx="581.1" cy="160.6" r="0.95"/><circle cx="592.3" cy="136.2" r="0.95"/><circle cx="578.3" cy="166.7" r="0.95"/><circle cx="605.4" cy="135.4" r="0.95"/><circle cx="585.7" cy="154.9" r="0.95"/><circle cx="609.0" cy="93.5" r="0.95"/><circle cx="591.7" cy="184.9" r="0.95"/><circle cx="623.8" cy="81.1" r="0.95"/><circle cx="604.2" cy="110.9" r="0.95"/><circle cx="599.5" cy="98.1" r="0.95"/><circle cx="567.0" cy="182.6" r="0.95"/><circle cx="577.9" cy="170.5" r="0.95"/><circle cx="587.7" cy="141.5" r="0.95"/><circle cx="584.7" cy="134.4" r="0.95"/><circle cx="576.6" cy="198.1" r="0.95"/><circle cx="585.1" cy="178.3" r="0.95"/><circle cx="572.5" cy="149.9" r="0.95"/><circle cx="571.1" cy="162.3" r="0.95"/><circle cx="605.7" cy="89.7" r="0.95"/><circle cx="587.2" cy="192.1" r="0.95"/><circle cx="583.7" cy="137.8" r="0.95"/><circle cx="611.6" cy="103.6" r="0.95"/><circle cx="595.0" cy="160.0" r="0.95"/><circle cx="587.5" cy="157.6" r="0.95"/><circle cx="572.2" cy="197.3" r="0.95"/><circle cx="593.2" cy="117.0" r="0.95"/><circle cx="573.7" cy="195.5" r="0.95"/><circle cx="607.4" cy="119.1" r="0.95"/><circle cx="594.2" cy="114.7" r="0.95"/><circle cx="571.5" cy="176.0" r="0.95"/><circle cx="601.0" cy="112.5" r="0.95"/><circle cx="563.4" cy="202.3" r="0.95"/><circle cx="573.9" cy="174.6" r="0.95"/><circle cx="586.2" cy="127.1" r="0.95"/><circle cx="586.7" cy="119.6" r="0.95"/><circle cx="565.6" cy="213.3" r="0.95"/><circle cx="571.6" cy="173.2" r="0.95"/><circle cx="571.5" cy="151.2" r="0.95"/><circle cx="590.1" cy="115.0" r="0.95"/><circle cx="595.3" cy="127.5" r="0.95"/><circle cx="603.7" cy="130.5" r="0.95"/><circle cx="583.9" cy="181.6" r="0.95"/><circle cx="602.2" cy="122.0" r="0.95"/><circle cx="615.9" cy="88.2" r="0.95"/><circle cx="568.8" cy="201.9" r="0.95"/><circle cx="606.9" cy="131.0" r="0.95"/><circle cx="588.3" cy="139.2" r="0.95"/><circle cx="614.5" cy="81.7" r="0.95"/><circle cx="602.6" cy="121.6" r="0.95"/><circle cx="567.7" cy="167.7" r="0.95"/><circle cx="617.3" cy="88.1" r="0.95"/><circle cx="582.2" cy="158.4" r="0.95"/><circle cx="585.1" cy="125.4" r="0.95"/><circle cx="562.2" cy="205.9" r="0.95"/><circle cx="588.7" cy="137.1" r="0.95"/><circle cx="572.2" cy="174.5" r="0.95"/><circle cx="563.0" cy="212.2" r="0.95"/><circle cx="594.1" cy="145.5" r="0.95"/><circle cx="569.2" cy="159.2" r="0.95"/><circle cx="565.5" cy="194.0" r="0.95"/><circle cx="605.1" cy="90.5" r="0.95"/><circle cx="590.6" cy="156.7" r="0.95"/><circle cx="576.0" cy="147.5" r="0.95"/><circle cx="614.1" cy="91.2" r="0.95"/><circle cx="597.5" cy="111.2" r="0.95"/><circle cx="575.0" cy="189.8" r="0.95"/><circle cx="566.4" cy="214.2" r="0.95"/><circle cx="571.9" cy="196.9" r="0.95"/><circle cx="603.4" cy="99.6" r="0.95"/><circle cx="610.8" cy="101.5" r="0.95"/><circle cx="583.8" cy="195.5" r="0.95"/><circle cx="582.7" cy="144.1" r="0.95"/><circle cx="628.1" cy="69.4" r="0.95"/><circle cx="589.2" cy="133.4" r="0.95"/><circle cx="572.7" cy="208.8" r="0.95"/><circle cx="619.2" cy="86.8" r="0.95"/><circle cx="589.4" cy="152.0" r="0.95"/><circle cx="574.9" cy="207.5" r="0.95"/><circle cx="619.2" cy="104.4" r="0.95"/><circle cx="573.0" cy="192.9" r="0.95"/><circle cx="578.7" cy="170.5" r="0.95"/><circle cx="580.2" cy="137.0" r="0.95"/><circle cx="599.6" cy="125.2" r="0.95"/><circle cx="574.3" cy="194.0" r="0.95"/><circle cx="582.4" cy="165.9" r="0.95"/><circle cx="599.9" cy="166.5" r="0.95"/><circle cx="592.0" cy="132.7" r="0.95"/><circle cx="606.9" cy="128.1" r="0.95"/><circle cx="607.4" cy="90.6" r="0.95"/><circle cx="563.2" cy="192.5" r="0.95"/><circle cx="608.8" cy="87.3" r="0.95"/><circle cx="587.0" cy="171.0" r="0.95"/><circle cx="581.1" cy="173.6" r="0.95"/><circle cx="575.3" cy="194.0" r="0.95"/><circle cx="563.9" cy="210.4" r="0.95"/><circle cx="567.3" cy="192.2" r="0.95"/><circle cx="596.0" cy="159.9" r="0.95"/><circle cx="578.1" cy="190.6" r="0.95"/><circle cx="569.4" cy="207.1" r="0.95"/><circle cx="609.1" cy="123.3" r="0.95"/><circle cx="584.9" cy="182.4" r="0.95"/><circle cx="581.3" cy="143.5" r="0.95"/><circle cx="595.8" cy="124.6" r="0.95"/><circle cx="584.3" cy="141.5" r="0.95"/><circle cx="574.1" cy="196.8" r="0.95"/><circle cx="587.4" cy="157.3" r="0.95"/><circle cx="566.1" cy="190.1" r="0.95"/><circle cx="577.7" cy="182.0" r="0.95"/><circle cx="593.5" cy="109.8" r="0.95"/><circle cx="603.4" cy="123.4" r="0.95"/><circle cx="573.6" cy="189.8" r="0.95"/><circle cx="578.4" cy="186.2" r="0.95"/><circle cx="566.4" cy="205.6" r="0.95"/><circle cx="563.8" cy="189.3" r="0.95"/><circle cx="614.3" cy="87.6" r="0.95"/><circle cx="575.2" cy="199.2" r="0.95"/><circle cx="615.9" cy="83.4" r="0.95"/><circle cx="596.6" cy="127.2" r="0.95"/><circle cx="586.1" cy="172.7" r="0.95"/><circle cx="602.8" cy="123.6" r="0.95"/><circle cx="580.1" cy="190.0" r="0.95"/><circle cx="578.7" cy="135.1" r="0.95"/><circle cx="563.7" cy="207.9" r="0.95"/><circle cx="575.3" cy="166.5" r="0.95"/><circle cx="588.5" cy="137.8" r="0.95"/><circle cx="585.6" cy="125.4" r="0.95"/><circle cx="563.2" cy="181.3" r="0.95"/><circle cx="600.7" cy="98.1" r="0.95"/><circle cx="609.8" cy="89.7" r="0.95"/><circle cx="587.6" cy="153.5" r="0.95"/><circle cx="608.1" cy="88.3" r="0.95"/><circle cx="580.7" cy="155.7" r="0.95"/><circle cx="594.8" cy="124.3" r="0.95"/><circle cx="576.3" cy="201.0" r="0.95"/><circle cx="604.0" cy="96.8" r="0.95"/><circle cx="629.7" cy="64.1" r="0.95"/><circle cx="579.2" cy="179.5" r="0.95"/><circle cx="603.9" cy="124.1" r="0.95"/><circle cx="580.6" cy="183.1" r="0.95"/><circle cx="591.2" cy="140.1" r="0.95"/><circle cx="623.9" cy="63.5" r="0.95"/><circle cx="598.4" cy="130.8" r="0.95"/><circle cx="587.2" cy="198.3" r="0.95"/><circle cx="572.6" cy="176.1" r="0.95"/><circle cx="579.7" cy="166.8" r="0.95"/><circle cx="581.6" cy="137.1" r="0.95"/><circle cx="569.1" cy="168.9" r="0.95"/><circle cx="577.7" cy="164.5" r="0.95"/><circle cx="569.3" cy="163.1" r="0.95"/><circle cx="571.8" cy="159.1" r="0.95"/><circle cx="604.1" cy="97.7" r="0.95"/><circle cx="576.0" cy="168.3" r="0.95"/><circle cx="569.0" cy="172.1" r="0.95"/><circle cx="565.6" cy="211.0" r="0.95"/><circle cx="588.7" cy="187.5" r="0.95"/><circle cx="611.7" cy="87.2" r="0.95"/><circle cx="576.2" cy="157.5" r="0.95"/><circle cx="606.4" cy="117.6" r="0.95"/><circle cx="574.8" cy="189.9" r="0.95"/><circle cx="601.0" cy="132.8" r="0.95"/><circle cx="576.9" cy="165.9" r="0.95"/><circle cx="571.6" cy="208.2" r="0.95"/><circle cx="609.7" cy="120.2" r="0.95"/><circle cx="596.8" cy="101.6" r="0.95"/><circle cx="612.7" cy="101.1" r="0.95"/><circle cx="610.7" cy="94.8" r="0.95"/><circle cx="583.1" cy="164.9" r="0.95"/><circle cx="574.9" cy="177.3" r="0.95"/><circle cx="574.1" cy="182.1" r="0.95"/><circle cx="603.0" cy="128.2" r="0.95"/><circle cx="570.9" cy="199.0" r="0.95"/><circle cx="608.2" cy="123.2" r="0.95"/><circle cx="571.9" cy="152.6" r="0.95"/><circle cx="630.3" cy="97.4" r="0.95"/><circle cx="579.4" cy="145.1" r="0.95"/><circle cx="571.5" cy="194.6" r="0.95"/><circle cx="592.2" cy="119.4" r="0.95"/><circle cx="575.6" cy="155.9" r="0.95"/><circle cx="568.7" cy="184.4" r="0.95"/><circle cx="565.9" cy="182.7" r="0.95"/><circle cx="583.5" cy="124.9" r="0.95"/><circle cx="574.2" cy="154.2" r="0.95"/></g>
<g fill="#8c1616"><circle cx="629.4" cy="65.4" r="0.85"/><circle cx="640.1" cy="56.8" r="0.85"/><circle cx="620.5" cy="75.9" r="0.85"/><circle cx="646.7" cy="54.7" r="0.85"/><circle cx="617.1" cy="77.7" r="0.85"/><circle cx="628.5" cy="72.5" r="0.85"/><circle cx="642.2" cy="60.1" r="0.85"/><circle cx="621.3" cy="68.0" r="0.85"/><circle cx="620.5" cy="70.5" r="0.85"/><circle cx="621.4" cy="77.1" r="0.85"/><circle cx="621.9" cy="77.7" r="0.85"/><circle cx="640.3" cy="57.7" r="0.85"/><circle cx="638.1" cy="67.6" r="0.85"/><circle cx="624.9" cy="79.1" r="0.85"/><circle cx="645.5" cy="54.9" r="0.85"/><circle cx="629.2" cy="65.7" r="0.85"/><circle cx="623.9" cy="63.7" r="0.85"/><circle cx="643.9" cy="66.2" r="0.85"/><circle cx="637.9" cy="57.4" r="0.85"/><circle cx="623.6" cy="71.9" r="0.85"/><circle cx="619.5" cy="67.3" r="0.85"/><circle cx="620.2" cy="66.6" r="0.85"/><circle cx="641.3" cy="72.8" r="0.85"/><circle cx="618.8" cy="63.2" r="0.85"/><circle cx="629.4" cy="65.8" r="0.85"/><circle cx="620.2" cy="81.9" r="0.85"/><circle cx="654.3" cy="61.1" r="0.85"/><circle cx="611.3" cy="69.3" r="0.85"/><circle cx="649.7" cy="65.5" r="0.85"/><circle cx="655.8" cy="55.2" r="0.85"/><circle cx="641.6" cy="68.0" r="0.85"/><circle cx="621.2" cy="78.0" r="0.85"/><circle cx="618.2" cy="84.2" r="0.85"/><circle cx="639.1" cy="56.1" r="0.85"/><circle cx="628.2" cy="78.7" r="0.85"/><circle cx="608.7" cy="142.9" r="0.85"/><circle cx="611.3" cy="133.2" r="0.85"/><circle cx="630.2" cy="122.6" r="0.85"/><circle cx="621.0" cy="153.7" r="0.85"/><circle cx="632.6" cy="137.5" r="0.85"/><circle cx="609.3" cy="118.4" r="0.85"/><circle cx="618.0" cy="142.9" r="0.85"/><circle cx="612.6" cy="131.0" r="0.85"/><circle cx="613.0" cy="150.0" r="0.85"/><circle cx="629.8" cy="112.5" r="0.85"/><circle cx="633.9" cy="110.2" r="0.85"/><circle cx="603.8" cy="168.6" r="0.85"/><circle cx="619.6" cy="127.5" r="0.85"/><circle cx="614.3" cy="153.6" r="0.85"/><circle cx="606.6" cy="139.8" r="0.85"/><circle cx="618.2" cy="145.0" r="0.85"/><circle cx="632.9" cy="112.5" r="0.85"/><circle cx="602.7" cy="164.9" r="0.85"/><circle cx="628.6" cy="107.5" r="0.85"/><circle cx="625.3" cy="143.6" r="0.85"/><circle cx="623.8" cy="111.8" r="0.85"/><circle cx="607.6" cy="132.4" r="0.85"/><circle cx="632.7" cy="125.3" r="0.85"/><circle cx="619.9" cy="141.4" r="0.85"/><circle cx="608.6" cy="149.3" r="0.85"/><circle cx="619.5" cy="116.6" r="0.85"/><circle cx="614.7" cy="109.9" r="0.85"/><circle cx="634.6" cy="124.5" r="0.85"/><circle cx="608.6" cy="164.2" r="0.85"/><circle cx="618.2" cy="150.8" r="0.85"/></g>
<g fill="#111"><circle cx="443.4" cy="93.4" r="1.1"/><circle cx="446.1" cy="92.3" r="1.1"/><circle cx="467.7" cy="102.9" r="1.1"/><circle cx="451.9" cy="101.2" r="1.1"/><circle cx="464.1" cy="106.1" r="1.1"/><circle cx="483.6" cy="122" r="1.1"/><circle cx="485.7" cy="120.9" r="1.1"/><circle cx="480" cy="143.8" r="1.1"/><circle cx="458.2" cy="143.1" r="1.1"/><circle cx="506.3" cy="177.8" r="1.1"/><circle cx="510.7" cy="187.8" r="1.1"/><circle cx="503.4" cy="198.9" r="1.1"/><circle cx="512.9" cy="198.3" r="1.1"/><circle cx="603" cy="94" r="1.1"/><circle cx="608" cy="93" r="1.1"/><circle cx="612" cy="95" r="1.1"/><circle cx="618" cy="94" r="1.1"/><circle cx="625" cy="88" r="1.1"/><circle cx="620" cy="98" r="1.1"/><circle cx="612" cy="105" r="1.1"/><circle cx="608" cy="110" r="1.1"/><circle cx="602" cy="117" r="1.1"/><circle cx="598" cy="126" r="1.1"/><circle cx="594" cy="128" r="1.1"/><circle cx="590" cy="133" r="1.1"/><circle cx="586" cy="136" r="1.1"/><circle cx="588" cy="145" r="1.1"/><circle cx="584" cy="150" r="1.1"/><circle cx="578" cy="157" r="1.1"/><circle cx="584" cy="160" r="1.1"/><circle cx="560" cy="182" r="1.1"/><circle cx="560" cy="188" r="1.1"/><circle cx="563" cy="192" r="1.1"/><circle cx="561" cy="197" r="1.1"/><circle cx="565" cy="200" r="1.1"/><circle cx="563" cy="214" r="1.1"/><circle cx="600" cy="140" r="1.1"/><circle cx="583" cy="152" r="1.1"/></g>
<g font-size="7.4" font-style="italic" fill="#000" stroke="#000" stroke-width="0.2"><text x="448.3" y="91.3">Vcam1</text><text x="423.3" y="99.6">Ctsg</text><text x="469.4" y="104.9">Itgax</text><text x="437.5" y="109.3">Mertk</text><text x="468.8" y="112.3">Itgam</text><text x="486.4" y="122.0">Mpo</text><text x="484.7" y="129.9">Tgfb1</text><text x="484.3" y="147.9">Itgam</text><text x="447.6" y="152.1">Csf3r</text><text x="506.3" y="177.1">Nos2</text><text x="490.7" y="190.4">Cd36</text><text x="513.4" y="189.3">Cdk6</text><text x="485.6" y="201.5">Bcl2</text><text x="508.9" y="206.0">Nos1</text><text x="583.4" y="85.8">Nfkbia</text><text x="626.8" y="83.9">Antxr2</text><text x="571.8" y="93.2">Pde3b</text><text x="621.5" y="92.8">Csf2rb2</text><text x="573.9" y="99.6">Pde4b</text><text x="623.2" y="107.0">Cd80</text><text x="566.5" y="110.2">Retnla</text><text x="616.2" y="114.0">Il1rn</text><text x="571.1" y="118.6">Ahr</text><text x="607.3" y="125.0">Hif1a</text><text x="560.1" y="128.4">Cd300lf</text><text x="602.4" y="133.0">Nfkb1</text><text x="563.3" y="136.6">Klf7</text><text x="599.3" y="138.3">Cdk17</text><text x="561.2" y="143.6">Tlr4</text><text x="609.4" y="146.8">P2ry10</text><text x="550.6" y="150.4">P2ry14</text><text x="609.9" y="154.2">Nr4a3</text><text x="546.4" y="157.4">Cd274</text><text x="595" y="162.6">Tiparp</text><text x="615.6" y="162.0">Cd44</text><text x="547.4" y="163.1">Cd300lb</text><text x="588.3" y="173.7">Ikzf3</text><text x="544.2" y="181.1">Cd55</text><text x="582.3" y="182.2">Sema7a</text><text x="587.6" y="195.5">Cd300ld</text><text x="548.5" y="195.5">Il1a</text><text x="548.5" y="203.4">Il1b</text><text x="577" y="201.4">Ptgs2</text><text x="571.8" y="208.9">Trib1</text><text x="565.4" y="216.3">Retnlg</text></g>
<g font-size="8.5" fill="#3346a0" stroke="#3346a0" stroke-width="0.15" text-anchor="end"><text x="492.5" y="229.4">7,541 peaks up in</text><text x="492.5" y="239.5">Bone Marrow eosinophils</text></g>
<g font-size="8.5" fill="#ad1d2b" stroke="#ad1d2b" stroke-width="0.15"><text x="577.3" y="229.8">7,844 peaks up in</text><text x="577.3" y="240.9">Esophageal eosinophils</text></g>
<g font-size="8.5" fill="#1a1a1a" stroke="#1a1a1a" stroke-width="0.1" text-anchor="middle"><text x="545" y="258.9">67,917 peaks shared between</text><text x="545.8" y="269.2">Bone Marrow and Esophageal eosinophils</text></g>
<text x="27.4" y="350.3" font-family="Liberation Serif" font-size="24" letter-spacing="2.2">C.</text>
<rect x="150.6" y="363.1" width="145.00000000000003" height="240.69999999999993" fill="#ebebeb"/>
<line x1="174.74" y1="363.1" x2="174.74" y2="603.8" stroke="#f7f7f7" stroke-width="0.7"/>
<line x1="209.41" y1="363.1" x2="209.41" y2="603.8" stroke="#f7f7f7" stroke-width="0.7"/>
<line x1="244.09" y1="363.1" x2="244.09" y2="603.8" stroke="#f7f7f7" stroke-width="0.7"/>
<line x1="278.76" y1="363.1" x2="278.76" y2="603.8" stroke="#f7f7f7" stroke-width="0.7"/>
<line x1="157.40" y1="363.1" x2="157.40" y2="603.8" stroke="#fff" stroke-width="1.3"/>
<line x1="192.07" y1="363.1" x2="192.07" y2="603.8" stroke="#fff" stroke-width="1.3"/>
<line x1="226.75" y1="363.1" x2="226.75" y2="603.8" stroke="#fff" stroke-width="1.3"/>
<line x1="261.43" y1="363.1" x2="261.43" y2="603.8" stroke="#fff" stroke-width="1.3"/>
<line x1="150.6" y1="375.40" x2="295.6" y2="375.40" stroke="#fff" stroke-width="1.3"/>
<line x1="150.6" y1="391.04" x2="295.6" y2="391.04" stroke="#fff" stroke-width="1.3"/>
<line x1="150.6" y1="406.67" x2="295.6" y2="406.67" stroke="#fff" stroke-width="1.3"/>
<line x1="150.6" y1="422.31" x2="295.6" y2="422.31" stroke="#fff" stroke-width="1.3"/>
<line x1="150.6" y1="437.94" x2="295.6" y2="437.94" stroke="#fff" stroke-width="1.3"/>
<line x1="150.6" y1="453.58" x2="295.6" y2="453.58" stroke="#fff" stroke-width="1.3"/>
<line x1="150.6" y1="469.22" x2="295.6" y2="469.22" stroke="#fff" stroke-width="1.3"/>
<line x1="150.6" y1="484.85" x2="295.6" y2="484.85" stroke="#fff" stroke-width="1.3"/>
<line x1="150.6" y1="500.49" x2="295.6" y2="500.49" stroke="#fff" stroke-width="1.3"/>
<line x1="150.6" y1="516.12" x2="295.6" y2="516.12" stroke="#fff" stroke-width="1.3"/>
<line x1="150.6" y1="531.76" x2="295.6" y2="531.76" stroke="#fff" stroke-width="1.3"/>
<line x1="150.6" y1="547.40" x2="295.6" y2="547.40" stroke="#fff" stroke-width="1.3"/>
<line x1="150.6" y1="563.03" x2="295.6" y2="563.03" stroke="#fff" stroke-width="1.3"/>
<line x1="150.6" y1="578.67" x2="295.6" y2="578.67" stroke="#fff" stroke-width="1.3"/>
<line x1="150.6" y1="594.30" x2="295.6" y2="594.30" stroke="#fff" stroke-width="1.3"/>
<line x1="175.3" y1="363.90000000000003" x2="175.3" y2="603.8" stroke="#ef2b45" stroke-width="1.3" stroke-dasharray="1.2 3.7"/>
<line x1="157.40" y1="603.8" x2="157.40" y2="606.0" stroke="#333" stroke-width="0.9"/>
<text x="157.40" y="611" font-size="6" text-anchor="middle" fill="#4d4d4d">0.0</text>
<line x1="192.07" y1="603.8" x2="192.07" y2="606.0" stroke="#333" stroke-width="0.9"/>
<text x="192.07" y="611" font-size="6" text-anchor="middle" fill="#4d4d4d">2.5</text>
<line x1="226.75" y1="603.8" x2="226.75" y2="606.0" stroke="#333" stroke-width="0.9"/>
<text x="226.75" y="611" font-size="6" text-anchor="middle" fill="#4d4d4d">5.0</text>
<line x1="261.43" y1="603.8" x2="261.43" y2="606.0" stroke="#333" stroke-width="0.9"/>
<text x="261.43" y="611" font-size="6" text-anchor="middle" fill="#4d4d4d">7.5</text>
<line x1="296.10" y1="603.8" x2="296.10" y2="606.0" stroke="#333" stroke-width="0.9"/>
<text x="296.10" y="611" font-size="6" text-anchor="middle" fill="#4d4d4d">10.0</text>
<text x="215" y="618.5" font-size="7.2" text-anchor="middle" fill="#111">log10(p.val)</text>
<text x="51.6" y="376.90" font-size="9.1" fill="#1a1a1a" textLength="92.4" lengthAdjust="spacingAndGlyphs">Inflammatory response</text>
<text x="33.5" y="392.62" font-size="9.1" fill="#1a1a1a" textLength="113.7" lengthAdjust="spacingAndGlyphs">Cytokine−mediate signalling</text>
<text x="71.2" y="408.34" font-size="9.1" fill="#1a1a1a" textLength="70.3" lengthAdjust="spacingAndGlyphs">Response to LPS</text>
<text x="77.4" y="424.06" font-size="9.1" fill="#1a1a1a" textLength="62.8" lengthAdjust="spacingAndGlyphs">GTPase activity</text>
<text x="48.9" y="439.78" font-size="9.1" fill="#1a1a1a" textLength="95.8" lengthAdjust="spacingAndGlyphs">Apoptotic cell clearance</text>
<text x="57.6" y="455.50" font-size="9.1" fill="#1a1a1a" textLength="85.6" lengthAdjust="spacingAndGlyphs">Response to bacteria</text>
<text x="84.9" y="471.23" font-size="9.1" fill="#1a1a1a" textLength="54.8" lengthAdjust="spacingAndGlyphs">Cell migration</text>
<text x="85.6" y="486.95" font-size="9.1" fill="#1a1a1a" textLength="53.4" lengthAdjust="spacingAndGlyphs">Phagocytosis</text>
<text x="113.7" y="502.67" font-size="9.1" fill="#1a1a1a" textLength="37.2" lengthAdjust="spacingAndGlyphs">Adhesion</text>
<text x="82.7" y="518.39" font-size="9.1" fill="#1a1a1a" textLength="57.5" lengthAdjust="spacingAndGlyphs">TLR signalling</text>
<text x="0" y="534.11" font-size="9.1" fill="#1a1a1a" textLength="150.7" lengthAdjust="spacingAndGlyphs">GTPase mediated signal transduction</text>
<text x="49.6" y="549.83" font-size="9.1" fill="#1a1a1a" textLength="95.1" lengthAdjust="spacingAndGlyphs">Protien phosphorlyation</text>
<text x="23.6" y="565.55" font-size="9.1" fill="#1a1a1a" textLength="125.3" lengthAdjust="spacingAndGlyphs">Intracellular signal transduction</text>
<text x="45.4" y="581.27" font-size="9.1" fill="#1a1a1a" textLength="99.3" lengthAdjust="spacingAndGlyphs">ERBB signaling pathway</text>
<text x="10.4" y="596.99" font-size="9.1" fill="#1a1a1a" textLength="140.3" lengthAdjust="spacingAndGlyphs">Extracellular structure organization</text>
<path d="M161.40,369.79 L166.35,378.20 L156.45,378.20 Z" fill="#244a7a" stroke="#34489b" stroke-width="0.7" stroke-linejoin="round"/>
<circle cx="289.50" cy="375.40" r="3.25" fill="#1f4a75" stroke="#e2304a" stroke-width="1.2"/>
<path d="M159.40,383.61 L165.95,394.75 L152.85,394.75 Z" fill="#22487a" stroke="#34489b" stroke-width="0.7" stroke-linejoin="round"/>
<circle cx="249.20" cy="391.04" r="4.10" fill="#1f4a75" stroke="#e2304a" stroke-width="1.2"/>
<path d="M159.90,401.69 L164.30,409.17 L155.50,409.17 Z" fill="#26507f" stroke="#34489b" stroke-width="0.7" stroke-linejoin="round"/>
<circle cx="240.20" cy="406.67" r="2.70" fill="#1f4a75" stroke="#e2304a" stroke-width="1.2"/>
<path d="M170.80,416.87 L175.60,425.03 L166.00,425.03 Z" fill="#2a5686" stroke="#34489b" stroke-width="0.7" stroke-linejoin="round"/>
<circle cx="231.00" cy="422.31" r="2.90" fill="#1f4a75" stroke="#e2304a" stroke-width="1.2"/>
<path d="M157.20,435.34 L159.50,439.25 L154.90,439.25 Z" fill="#3a6aa0" stroke="#34489b" stroke-width="0.7" stroke-linejoin="round"/>
<circle cx="229.30" cy="437.94" r="1.60" fill="#5d9fd6" stroke="#e2304a" stroke-width="1.2"/>
<path d="M158.10,449.22 L161.95,455.76 L154.25,455.76 Z" fill="#27527f" stroke="#34489b" stroke-width="0.7" stroke-linejoin="round"/>
<circle cx="228.20" cy="453.58" r="2.35" fill="#1f4a75" stroke="#e2304a" stroke-width="1.2"/>
<path d="M189.40,462.02 L195.75,472.81 L183.05,472.81 Z" fill="#234c7a" stroke="#34489b" stroke-width="0.7" stroke-linejoin="round"/>
<circle cx="227.30" cy="469.22" r="3.45" fill="#1f4a75" stroke="#e2304a" stroke-width="1.2"/>
<path d="M159.90,480.66 L163.60,486.95 L156.20,486.95 Z" fill="#28547f" stroke="#34489b" stroke-width="0.7" stroke-linejoin="round"/>
<circle cx="210.20" cy="484.85" r="2.05" fill="#1f4a75" stroke="#e2304a" stroke-width="1.2"/>
<path d="M170.80,496.12 L174.65,502.67 L166.95,502.67 Z" fill="#2a5686" stroke="#34489b" stroke-width="0.7" stroke-linejoin="round"/>
<circle cx="208.00" cy="500.49" r="2.15" fill="#1f4a75" stroke="#e2304a" stroke-width="1.2"/>
<path d="M159.20,511.76 L163.05,518.31 L155.35,518.31 Z" fill="#2a5a88" stroke="#34489b" stroke-width="0.7" stroke-linejoin="round"/>
<circle cx="204.30" cy="516.12" r="2.15" fill="#1f4a75" stroke="#e2304a" stroke-width="1.2"/>
<path d="M209.60,526.15 L214.55,534.56 L204.65,534.56 Z" fill="#2a5a88" stroke="#34489b" stroke-width="0.7" stroke-linejoin="round"/>
<circle cx="189.40" cy="531.76" r="2.25" fill="#1f4a75" stroke="#e2304a" stroke-width="1.2"/>
<path d="M225.10,539.69 L231.90,551.25 L218.30,551.25 Z" fill="#234e7c" stroke="#34489b" stroke-width="0.7" stroke-linejoin="round"/>
<circle cx="176.30" cy="547.40" r="3.55" fill="#1f4a75" stroke="#e2304a" stroke-width="1.2"/>
<path d="M204.30,555.61 L210.85,566.74 L197.75,566.74 Z" fill="#1f4a78" stroke="#34489b" stroke-width="0.7" stroke-linejoin="round"/>
<circle cx="169.70" cy="563.03" r="3.25" fill="#1f4a75" stroke="#e2304a" stroke-width="1.2"/>
<path d="M222.90,573.68 L227.30,581.16 L218.50,581.16 Z" fill="#2c5f8f" stroke="#34489b" stroke-width="0.7" stroke-linejoin="round"/>
<circle cx="167.10" cy="578.67" r="1.70" fill="#1f4a75" stroke="#e2304a" stroke-width="1.2"/>
<path d="M201.00,589.09 L205.60,596.91 L196.40,596.91 Z" fill="#245a80" stroke="#34489b" stroke-width="0.7" stroke-linejoin="round"/>
<circle cx="164.70" cy="594.30" r="2.35" fill="#1f4a75" stroke="#e2304a" stroke-width="1.2"/>
<text x="302.4" y="395.3" font-size="6.9" fill="#1a1a1a">Sample</text>
<circle cx="307.50" cy="401.00" r="3.70" fill="#2a5482" stroke="#e2304a" stroke-width="1.2"/>
<text x="314.8" y="403" font-size="5.6" fill="#1a1a1a">Esophagus</text>
<path d="M307.50,405.85 L313.10,415.37 L301.90,415.37 Z" fill="#3a4c9c" stroke="#3a4c9c" stroke-width="0.7" stroke-linejoin="round"/>
<text x="314.8" y="415" font-size="5.6" fill="#1a1a1a">CCR3<tspan font-size="3.8" dy="-1.8">hi</tspan><tspan dy="1.8"> BM</tspan></text>
<text x="302.2" y="438.1" font-size="6.9" fill="#1a1a1a">Gene count</text>
<rect x="301.8" y="441.9" width="11.4" height="32.4" fill="#f2f2f2"/>
<circle cx="307.5" cy="447.2" r="0.9" fill="#000"/><circle cx="307.5" cy="458.1" r="2.5" fill="#000"/><circle cx="307.5" cy="469" r="3.2" fill="#000"/>
<g font-size="5.6" fill="#1a1a1a"><text x="316.5" y="449.2">0</text><text x="316.5" y="460.2">50</text><text x="316.5" y="471.1">100</text></g>
<text x="302.2" y="494.3" font-size="6.9" fill="#1a1a1a">Gene ratio</text>
<defs><linearGradient id="gr" x1="0" x2="0" y1="0" y2="1"><stop offset="0" stop-color="#58a2da"/><stop offset="0.5" stop-color="#336a9c"/><stop offset="1" stop-color="#142c45"/></linearGradient></defs>
<rect x="301.8" y="498.1" width="11.4" height="54.9" fill="url(#gr)"/>
<line x1="301.8" y1="503.8" x2="304" y2="503.8" stroke="#fff" stroke-width="0.6"/><line x1="311" y1="503.8" x2="313.2" y2="503.8" stroke="#fff" stroke-width="0.6"/>
<text x="316.2" y="505.8" font-size="5.6" fill="#1a1a1a">0.8</text>
<line x1="301.8" y1="516.2" x2="304" y2="516.2" stroke="#fff" stroke-width="0.6"/><line x1="311" y1="516.2" x2="313.2" y2="516.2" stroke="#fff" stroke-width="0.6"/>
<text x="316.2" y="518.2" font-size="5.6" fill="#1a1a1a">0.6</text>
<line x1="301.8" y1="528.6" x2="304" y2="528.6" stroke="#fff" stroke-width="0.6"/><line x1="311" y1="528.6" x2="313.2" y2="528.6" stroke="#fff" stroke-width="0.6"/>
<text x="316.2" y="530.6" font-size="5.6" fill="#1a1a1a">0.4</text>
<line x1="301.8" y1="541" x2="304" y2="541" stroke="#fff" stroke-width="0.6"/><line x1="311" y1="541" x2="313.2" y2="541" stroke="#fff" stroke-width="0.6"/>
<text x="316.2" y="543" font-size="5.6" fill="#1a1a1a">0.2</text>
<line x1="301.8" y1="553" x2="304" y2="553" stroke="#fff" stroke-width="0.6"/><line x1="311" y1="553" x2="313.2" y2="553" stroke="#fff" stroke-width="0.6"/>
<text x="316.2" y="555" font-size="5.6" fill="#1a1a1a">0.0</text>
<text x="354.9" y="354.7" font-family="Liberation Serif" font-size="24" letter-spacing="2.4">D.</text>
<rect x="436" y="349.1" width="192.3" height="269" fill="none" stroke="#2a2a2a" stroke-width="1.2"/>
<line x1="436" y1="417.2" x2="628.3" y2="417.2" stroke="#2a2a2a" stroke-width="1.2"/>
<line x1="436" y1="487.3" x2="628.3" y2="487.3" stroke="#2a2a2a" stroke-width="1.2"/>
<line x1="436" y1="551.5" x2="628.3" y2="551.5" stroke="#2a2a2a" stroke-width="1.2"/>
<text x="430.5" y="374.30" font-size="9.5" text-anchor="end" fill="#222">Esophagus</text><text x="430.5" y="389.90" font-size="9.5" text-anchor="end" fill="#222">CCR3<tspan font-size="5.5" dy="-3.3">hi</tspan><tspan dy="3.3"> BM</tspan></text><text x="430.5" y="405.80" font-size="9.5" text-anchor="end" fill="#222">CCR3<tspan font-size="5.5" dy="-3.3">lo</tspan><tspan dy="3.3"> BM</tspan></text>
<text x="430.5" y="445.60" font-size="9.5" text-anchor="end" fill="#222">Esophagus</text><text x="430.5" y="461.00" font-size="9.5" text-anchor="end" fill="#222">CCR3<tspan font-size="5.5" dy="-3.3">hi</tspan><tspan dy="3.3"> BM</tspan></text><text x="430.5" y="476.60" font-size="9.5" text-anchor="end" fill="#222">CCR3<tspan font-size="5.5" dy="-3.3">lo</tspan><tspan dy="3.3"> BM</tspan></text>
<text x="430.5" y="513.30" font-size="9.5" text-anchor="end" fill="#222">Esophagus</text><text x="430.5" y="529.00" font-size="9.5" text-anchor="end" fill="#222">CCR3<tspan font-size="5.5" dy="-3.3">hi</tspan><tspan dy="3.3"> BM</tspan></text><text x="430.5" y="544.30" font-size="9.5" text-anchor="end" fill="#222">CCR3<tspan font-size="5.5" dy="-3.3">lo</tspan><tspan dy="3.3"> BM</tspan></text>
<text x="430.5" y="577.30" font-size="9.5" text-anchor="end" fill="#222">Esophagus</text><text x="430.5" y="592.60" font-size="9.5" text-anchor="end" fill="#222">CCR3<tspan font-size="5.5" dy="-3.3">hi</tspan><tspan dy="3.3"> BM</tspan></text><text x="430.5" y="608.30" font-size="9.5" text-anchor="end" fill="#222">CCR3<tspan font-size="5.5" dy="-3.3">lo</tspan><tspan dy="3.3"> BM</tspan></text>
<line x1="437" y1="360.4" x2="444.3" y2="360.4" stroke="#999" stroke-width="0.6"/>
<rect x="444.30" y="359.40" width="24.50" height="2.00" fill="#8a8a8a"/>
<rect x="486.80" y="359.30" width="26.60" height="2.20" fill="#27307a"/>
<rect x="513.40" y="358.60" width="13.70" height="3.60" fill="#27307a"/>
<line x1="527.1" y1="360.6" x2="574.4" y2="360.6" stroke="#27307a" stroke-width="1.0" stroke-dasharray="0.8 0.9"/>
<circle cx="574.4" cy="360.6" r="1.2" fill="#27307a"/>
<path d="M552.2,354 L555.8,352.3 L555.8,355.7 Z" fill="#111"/><line x1="555.8" y1="354" x2="557.6" y2="354" stroke="#111" stroke-width="0.8"/>
<text x="560" y="356.6" font-size="6.8" font-style="italic" fill="#333">C3ar1</text>
<line x1="437" y1="372.3" x2="627.5" y2="372.3" stroke="#c4505c" stroke-width="0.8"/>
<rect x="463.70" y="372.00" width="4.70" height="4.10" fill="#8e1b1e"/>
<rect x="470.90" y="372.00" width="3.00" height="4.10" fill="#8e1b1e"/>
<rect x="559.10" y="371.40" width="3.60" height="4.70" fill="#8e1b1e"/>
<rect x="541.90" y="371.40" width="10.60" height="4.70" fill="#8e1b1e"/><path d="M540.90,371.70 L543.40,369.20 L545.90,371.70 Z" fill="#8e1b1e"/>
<rect x="569.70" y="371.40" width="10.20" height="4.70" fill="#8e1b1e"/><path d="M572.00,371.70 L575.50,365.20 L579.00,371.70 Z" fill="#8e1b1e"/>
<line x1="437" y1="388.4" x2="627.5" y2="388.4" stroke="#5a68b5" stroke-width="0.8"/>
<rect x="540.40" y="386.00" width="6.50" height="6.00" fill="#3a4fa5"/>
<rect x="558.10" y="386.00" width="5.40" height="6.00" fill="#3a4fa5"/>
<rect x="571.20" y="386.50" width="7.50" height="5.50" fill="#3a4fa5"/><path d="M572.00,386.80 L575.00,384.50 L578.00,386.80 Z" fill="#3a4fa5"/>
<line x1="437" y1="404.3" x2="627.5" y2="404.3" stroke="#72cdf0" stroke-width="0.9"/>
<rect x="463.70" y="404.00" width="4.70" height="4.00" fill="#2db6ea"/>
<rect x="538.30" y="403.00" width="8.60" height="5.00" fill="#2db6ea"/><path d="M538.50,403.30 L542.50,401.80 L546.50,403.30 Z" fill="#2db6ea"/>
<rect x="571.20" y="402.50" width="7.50" height="5.00" fill="#2db6ea"/><path d="M571.50,402.80 L575.00,401.00 L578.50,402.80 Z" fill="#2db6ea"/>
<text x="443" y="426.3" font-size="6.8" font-style="italic" fill="#222">Cd80</text>
<line x1="458.6" y1="424.2" x2="460.8" y2="424.2" stroke="#111" stroke-width="0.8"/><path d="M460.8,422.4 L464.6,424.2 L460.8,426 Z" fill="#111"/>
<line x1="439.2" y1="430.7" x2="614" y2="430.7" stroke="#27307a" stroke-width="1.0" stroke-dasharray="0.8 0.9"/>
<circle cx="455.7" cy="430.7" r="1.1" fill="#27307a"/>
<rect x="438.90" y="429.20" width="1.20" height="3.00" fill="#27307a"/>
<rect x="521.70" y="429.20" width="1.20" height="3.00" fill="#27307a"/>
<rect x="544.90" y="429.20" width="1.20" height="3.00" fill="#27307a"/>
<rect x="561.00" y="429.20" width="1.20" height="3.00" fill="#27307a"/>
<circle cx="578" cy="430.7" r="0.9" fill="none" stroke="#27307a" stroke-width="0.5"/>
<rect x="614.10" y="429.50" width="8.60" height="2.50" fill="#27307a"/>
<line x1="437" y1="444.6" x2="627.5" y2="444.6" stroke="#c4505c" stroke-width="0.9"/>
<rect x="445.20" y="442.80" width="4.80" height="6.00" fill="#8e1b1e"/><path d="M445.20,443.10 L447.60,435.80 L450.00,443.10 Z" fill="#8e1b1e"/>
<rect x="452.70" y="442.80" width="4.90" height="6.00" fill="#8e1b1e"/><path d="M452.20,443.10 L454.40,439.10 L456.60,443.10 Z" fill="#8e1b1e"/>
<rect x="459.50" y="443.00" width="2.60" height="5.80" fill="#8e1b1e"/>
<rect x="486.90" y="444.60" width="1.90" height="4.40" fill="#8e1b1e"/>
<rect x="511.90" y="444.60" width="1.90" height="4.90" fill="#8e1b1e"/>
<path d="M530.20,449.00 L530.20,441.27 L531.40,440.85 L532.60,440.89 L533.80,441.02 L535.00,441.23 L536.20,440.77 L537.40,440.75 L537.50,441.40 L537.50,449.00 Z" fill="#8e1b1e"/>
<path d="M560.70,449.00 L560.70,440.99 L561.90,441.00 L563.10,441.21 L564.30,441.40 L565.50,441.10 L566.70,440.93 L567.90,441.34 L569.10,440.76 L569.80,441.40 L569.80,449.00 Z" fill="#8e1b1e"/>
<rect x="599.90" y="442.60" width="1.90" height="6.40" fill="#8e1b1e"/>
<rect x="603.30" y="442.60" width="1.90" height="6.40" fill="#8e1b1e"/>
<rect x="606.50" y="442.60" width="1.90" height="6.40" fill="#8e1b1e"/>
<rect x="609.70" y="442.60" width="1.90" height="6.40" fill="#8e1b1e"/>
<rect x="612.90" y="442.60" width="1.90" height="6.40" fill="#8e1b1e"/>
<rect x="615.40" y="442.60" width="1.90" height="6.40" fill="#8e1b1e"/>
<rect x="599.90" y="442.60" width="17.30" height="1.60" fill="#8e1b1e"/>
<line x1="437" y1="460.5" x2="627.5" y2="460.5" stroke="#5a68b5" stroke-width="0.9"/>
<rect x="445.50" y="458.50" width="3.50" height="5.90" fill="#3a4fa5"/><path d="M445.80,458.80 L447.60,450.90 L449.40,458.80 Z" fill="#3a4fa5"/>
<rect x="453.80" y="458.50" width="2.90" height="5.90" fill="#3a4fa5"/>
<rect x="459.50" y="458.50" width="2.40" height="5.90" fill="#3a4fa5"/>
<rect x="530.20" y="459.00" width="6.20" height="5.50" fill="#3a4fa5"/>
<rect x="561.60" y="459.00" width="8.20" height="5.50" fill="#3a4fa5"/>
<line x1="437" y1="476.4" x2="627.5" y2="476.4" stroke="#72cdf0" stroke-width="0.9"/>
<rect x="445.50" y="475.20" width="3.50" height="5.40" fill="#2db6ea"/><path d="M445.40,475.50 L447.40,471.50 L449.40,475.50 Z" fill="#2db6ea"/>
<rect x="454.10" y="475.20" width="1.10" height="5.40" fill="#2db6ea"/>
<rect x="459.80" y="475.20" width="2.10" height="5.40" fill="#2db6ea"/>
<rect x="530.20" y="475.50" width="7.30" height="4.90" fill="#2db6ea"/>
<rect x="562.00" y="475.00" width="7.80" height="5.40" fill="#2db6ea"/>
<text x="504.7" y="496.1" font-size="6.8" font-style="italic" fill="#27307a">Retnla</text>
<line x1="522.7" y1="493.7" x2="524.6" y2="493.7" stroke="#111" stroke-width="0.8"/><path d="M524.6,491.9 L528.4,493.7 L524.6,495.5 Z" fill="#111"/>
<line x1="505.6" y1="499.8" x2="564.4" y2="499.8" stroke="#27307a" stroke-width="1.0" stroke-dasharray="0.8 0.9"/>
<rect x="505.60" y="498.20" width="2.50" height="3.20" fill="#27307a"/>
<rect x="512.60" y="497.90" width="4.80" height="3.80" fill="#27307a"/>
<rect x="536.40" y="498.20" width="2.40" height="3.20" fill="#27307a"/>
<rect x="555.50" y="497.90" width="4.20" height="3.80" fill="#27307a"/>
<rect x="559.70" y="499.00" width="4.70" height="1.60" fill="#27307a"/>
<path d="M437.00,512.80 L437.00,510.74 L438.50,510.74 L440.00,510.87 L441.50,510.20 L443.00,510.38 L444.50,510.29 L446.00,510.47 L447.50,510.88 L449.00,510.67 L450.50,510.55 L452.00,510.82 L453.50,510.23 L455.00,510.64 L456.50,510.79 L458.00,510.33 L459.50,510.81 L461.00,510.25 L462.50,510.58 L464.00,510.51 L465.50,510.66 L467.00,510.56 L468.50,510.77 L470.00,510.87 L471.50,510.29 L473.00,510.74 L474.50,510.35 L476.00,510.75 L477.50,510.22 L479.00,510.27 L480.50,510.37 L482.00,510.37 L483.50,510.49 L485.00,510.39 L486.50,510.81 L488.00,510.57 L489.50,510.32 L491.00,510.76 L492.50,510.25 L494.00,510.28 L495.50,510.61 L497.00,510.64 L498.50,510.58 L500.00,510.63 L501.50,510.20 L503.00,510.63 L504.50,510.88 L506.00,510.83 L507.50,510.40 L509.00,510.21 L510.50,510.55 L512.00,510.56 L513.50,510.51 L515.00,510.38 L516.50,510.74 L518.00,510.47 L519.50,510.51 L521.00,510.46 L522.50,510.77 L524.00,510.78 L525.50,510.66 L527.00,510.25 L528.50,510.66 L530.00,510.48 L531.50,510.69 L533.00,510.83 L534.50,510.85 L536.00,510.33 L537.50,510.36 L539.00,510.64 L540.50,510.42 L542.00,510.43 L543.50,510.27 L545.00,510.23 L546.50,510.62 L548.00,510.21 L549.50,510.23 L551.00,510.49 L552.50,510.28 L554.00,510.56 L555.50,510.64 L557.00,510.73 L558.50,510.29 L560.00,510.79 L561.50,510.85 L563.00,510.34 L564.50,510.36 L566.00,510.56 L567.50,510.31 L569.00,510.86 L570.50,510.72 L572.00,510.70 L573.50,510.61 L575.00,510.78 L576.50,510.85 L578.00,510.66 L579.50,510.27 L581.00,510.21 L582.50,510.38 L584.00,510.56 L585.50,510.72 L587.00,510.23 L588.50,510.53 L590.00,510.39 L591.50,510.88 L593.00,510.75 L594.50,510.31 L596.00,510.34 L597.50,510.28 L599.00,510.48 L600.50,510.60 L602.00,510.49 L603.50,510.31 L605.00,510.68 L606.50,510.53 L608.00,510.71 L609.50,510.36 L611.00,510.89 L612.50,510.42 L614.00,510.23 L615.50,510.88 L617.00,510.48 L618.50,510.45 L620.00,510.30 L621.50,510.49 L623.00,510.72 L624.50,510.62 L626.00,510.23 L627.50,510.90 L627.50,512.80 Z" fill="#8e1b1e"/>
<path d="M489.90,516.50 L489.90,515.41 L491.00,514.69 L492.10,513.09 L493.20,511.44 L494.30,509.87 L495.40,507.71 L496.50,507.33 L497.60,506.46 L498.70,506.71 L499.80,507.35 L500.90,506.85 L502.00,507.11 L503.10,506.91 L504.20,507.24 L505.30,507.30 L506.40,507.28 L507.50,507.05 L508.60,506.65 L509.70,506.84 L510.80,507.44 L511.90,506.65 L513.00,506.45 L514.10,506.57 L515.20,506.55 L516.30,507.49 L517.40,507.69 L518.50,509.82 L519.60,510.63 L520.70,512.99 L521.80,514.00 L522.90,516.50 L522.90,516.50 Z" fill="#8e1b1e"/>
<rect x="489.90" y="511.50" width="33.00" height="5.00" fill="#8e1b1e"/>
<path d="M573.90,516.50 L573.90,516.25 L575.00,514.15 L576.10,512.89 L577.20,511.51 L578.30,509.51 L579.40,508.69 L580.50,508.10 L581.60,508.70 L582.70,508.50 L583.80,508.45 L584.90,508.05 L586.00,508.90 L587.10,508.40 L588.20,508.49 L589.30,508.27 L590.40,508.03 L591.50,508.69 L592.60,508.30 L593.70,508.47 L594.80,508.44 L595.90,508.94 L597.00,509.09 L598.10,510.57 L599.20,512.84 L600.30,514.53 L601.40,516.50 L601.40,516.50 Z" fill="#8e1b1e"/>
<rect x="573.90" y="511.50" width="27.50" height="5.00" fill="#8e1b1e"/>
<path d="M437.00,528.30 L437.00,527.10 L439.00,527.46 L441.00,527.47 L443.00,527.47 L445.00,527.17 L447.00,527.20 L449.00,527.32 L451.00,527.25 L453.00,527.49 L455.00,527.24 L457.00,527.32 L459.00,527.29 L461.00,527.34 L463.00,527.34 L465.00,527.41 L467.00,527.48 L469.00,527.33 L471.00,527.40 L473.00,527.22 L475.00,527.17 L477.00,527.21 L479.00,527.32 L481.00,527.41 L483.00,527.35 L485.00,527.31 L487.00,527.25 L489.00,527.11 L491.00,527.47 L493.00,527.31 L495.00,527.30 L497.00,527.21 L499.00,527.14 L501.00,527.19 L503.00,527.25 L505.00,527.20 L507.00,527.23 L509.00,527.16 L511.00,527.22 L513.00,527.23 L515.00,527.40 L517.00,527.13 L519.00,527.35 L521.00,527.25 L523.00,527.17 L525.00,527.11 L527.00,527.10 L529.00,527.50 L531.00,527.37 L533.00,527.38 L535.00,527.34 L537.00,527.44 L539.00,527.28 L541.00,527.47 L543.00,527.38 L545.00,527.12 L547.00,527.20 L549.00,527.32 L551.00,527.46 L553.00,527.12 L555.00,527.22 L557.00,527.42 L559.00,527.37 L561.00,527.24 L563.00,527.23 L565.00,527.40 L567.00,527.12 L569.00,527.37 L571.00,527.40 L573.00,527.16 L575.00,527.44 L577.00,527.23 L579.00,527.42 L581.00,527.26 L583.00,527.39 L585.00,527.35 L587.00,527.12 L589.00,527.31 L591.00,527.33 L593.00,527.25 L595.00,527.39 L597.00,527.43 L599.00,527.35 L601.00,527.39 L603.00,527.42 L604.00,527.50 L604.00,528.30 Z" fill="#4a5aae"/>
<rect x="607.00" y="527.50" width="20.50" height="0.80" fill="#5a68b5"/>
<path d="M437.00,544.30 L437.00,543.02 L439.00,543.48 L441.00,543.09 L443.00,543.03 L445.00,543.15 L447.00,543.49 L449.00,543.25 L451.00,543.48 L453.00,543.20 L455.00,543.15 L457.00,543.38 L459.00,543.50 L461.00,543.23 L463.00,543.45 L465.00,543.35 L467.00,543.27 L469.00,543.05 L471.00,543.31 L473.00,543.43 L475.00,543.10 L477.00,543.09 L479.00,543.24 L481.00,543.48 L483.00,543.41 L485.00,543.30 L487.00,543.22 L489.00,543.39 L491.00,543.10 L493.00,543.08 L495.00,543.04 L497.00,543.06 L499.00,543.49 L501.00,543.21 L503.00,543.46 L505.00,543.05 L507.00,543.13 L509.00,543.12 L511.00,543.41 L513.00,543.47 L515.00,543.09 L517.00,543.20 L519.00,543.19 L521.00,543.26 L523.00,543.10 L525.00,543.33 L527.00,543.37 L529.00,543.32 L531.00,543.35 L533.00,543.19 L535.00,543.05 L537.00,543.46 L539.00,543.47 L541.00,543.24 L543.00,543.16 L545.00,543.41 L547.00,543.37 L549.00,543.47 L551.00,543.48 L553.00,543.25 L555.00,543.16 L557.00,543.17 L559.00,543.42 L561.00,543.45 L563.00,543.03 L565.00,543.23 L567.00,543.30 L569.00,543.15 L571.00,543.14 L573.00,543.24 L575.00,543.46 L577.00,543.09 L579.00,543.39 L581.00,543.48 L583.00,543.32 L585.00,543.23 L587.00,543.19 L589.00,543.41 L591.00,543.15 L593.00,543.25 L595.00,543.42 L597.00,543.07 L599.00,543.10 L601.00,543.05 L603.00,543.16 L605.00,543.39 L607.00,543.11 L609.00,543.05 L611.00,543.23 L613.00,543.05 L615.00,543.01 L617.00,543.30 L619.00,543.03 L621.00,543.03 L623.00,543.10 L625.00,543.49 L627.00,543.32 L627.50,543.50 L627.50,544.30 Z" fill="#55c4ee"/>
<text x="449.9" y="560.1" font-size="6.8" font-style="italic" fill="#27307a">Mpo</text>
<line x1="463" y1="557.8" x2="465" y2="557.8" stroke="#111" stroke-width="0.8"/><path d="M465,556 L468.8,557.8 L465,559.6 Z" fill="#111"/>
<line x1="449.9" y1="563.2" x2="570.6" y2="563.2" stroke="#27307a" stroke-width="1.0" stroke-dasharray="0.8 0.9"/>
<rect x="449.90" y="562.20" width="6.50" height="2.10" fill="#27307a"/>
<rect x="459.40" y="561.70" width="1.40" height="3.00" fill="#27307a"/>
<rect x="462.30" y="561.70" width="1.40" height="3.00" fill="#27307a"/>
<rect x="468.10" y="561.70" width="1.40" height="3.00" fill="#27307a"/>
<rect x="474.00" y="561.70" width="1.40" height="3.00" fill="#27307a"/>
<rect x="476.90" y="561.70" width="1.40" height="3.00" fill="#27307a"/>
<rect x="480.50" y="561.70" width="1.40" height="3.00" fill="#27307a"/>
<rect x="492.20" y="561.60" width="2.90" height="3.20" fill="#27307a"/>
<rect x="532.90" y="561.60" width="2.90" height="3.20" fill="#27307a"/>
<rect x="539.00" y="561.60" width="2.00" height="3.20" fill="#27307a"/>
<rect x="549.30" y="561.60" width="2.60" height="3.20" fill="#27307a"/>
<rect x="559.20" y="561.60" width="2.50" height="3.20" fill="#27307a"/>
<rect x="520.00" y="561.70" width="1.40" height="3.00" fill="#27307a"/>
<rect x="533.10" y="561.70" width="1.40" height="3.00" fill="#27307a"/>
<line x1="592.5" y1="563.2" x2="627.8" y2="563.2" stroke="#999" stroke-width="1.0" stroke-dasharray="0.8 0.9"/>
<rect x="592.50" y="561.80" width="6.80" height="2.80" fill="#999"/>
<rect x="601.20" y="561.80" width="3.30" height="2.80" fill="#999"/>
<rect x="621.20" y="561.60" width="2.50" height="3.20" fill="#999"/>
<line x1="437" y1="575.6" x2="627.5" y2="575.6" stroke="#d7a4ac" stroke-width="0.8"/>
<rect x="476.60" y="575.00" width="10.50" height="4.70" fill="#8e1b1e"/>
<rect x="542.40" y="575.40" width="5.40" height="4.30" fill="#8e1b1e"/>
<rect x="583.30" y="575.00" width="1.90" height="4.70" fill="#8e1b1e"/>
<path d="M613.50,579.70 L613.50,573.29 L614.70,573.29 L615.90,573.14 L617.10,573.25 L618.30,573.74 L619.50,572.97 L620.70,573.36 L620.80,573.90 L620.80,579.70 Z" fill="#8e1b1e"/>
<line x1="437" y1="591.1" x2="627.5" y2="591.1" stroke="#5a68b5" stroke-width="0.9"/>
<path d="M445.90,595.50 L445.90,594.18 L447.10,587.19 L448.30,586.00 L449.50,586.67 L450.70,586.34 L451.90,586.39 L453.10,586.18 L454.30,586.96 L455.50,587.38 L456.70,587.69 L457.60,595.50 L457.60,595.50 Z" fill="#3a4fa5"/>
<rect x="445.90" y="590.50" width="11.70" height="5.00" fill="#3a4fa5"/>
<path d="M476.10,595.50 L476.10,589.59 L477.30,589.38 L478.50,589.21 L479.70,589.48 L480.90,589.62 L482.10,589.68 L483.30,589.45 L484.50,589.35 L485.70,589.68 L486.90,589.30 L487.10,589.70 L487.10,595.50 Z" fill="#3a4fa5"/>
<path d="M570.00,595.50 L570.00,595.16 L571.10,592.03 L572.20,587.42 L573.30,587.16 L574.40,586.57 L575.50,587.18 L576.60,587.80 L577.70,587.62 L578.80,587.32 L579.90,586.97 L581.00,586.77 L582.10,586.80 L583.20,586.96 L584.30,587.60 L585.40,587.31 L586.50,587.40 L587.60,587.22 L588.70,587.58 L589.80,587.14 L590.90,587.27 L592.00,587.94 L593.10,586.68 L594.20,587.06 L595.30,586.72 L596.40,586.82 L597.50,586.83 L598.60,586.41 L599.70,587.40 L600.80,587.37 L601.90,590.09 L603.00,592.34 L603.70,595.50 L603.70,595.50 Z" fill="#3a4fa5"/>
<rect x="573.10" y="590.50" width="30.60" height="5.00" fill="#3a4fa5"/>
<path d="M614.00,595.50 L614.00,588.03 L615.20,588.04 L616.40,587.70 L617.60,588.34 L618.80,588.32 L620.00,587.91 L620.10,588.50 L620.10,595.50 Z" fill="#3a4fa5"/>
<path d="M437.00,607.90 L437.00,606.11 L438.60,606.31 L440.20,606.57 L441.80,606.38 L443.40,606.10 L445.00,606.30 L446.60,606.32 L448.20,606.37 L449.80,606.22 L451.40,606.24 L453.00,606.18 L454.60,606.08 L456.20,606.15 L457.80,606.38 L459.40,606.45 L461.00,606.13 L462.60,606.12 L464.20,606.04 L465.80,606.48 L467.40,606.09 L469.00,606.07 L470.60,606.55 L472.20,606.42 L473.80,606.22 L475.40,606.51 L477.00,606.10 L478.60,606.44 L480.20,606.19 L481.80,606.42 L483.40,606.47 L485.00,606.48 L486.60,606.30 L488.20,606.17 L489.80,606.47 L491.40,606.19 L493.00,606.40 L494.60,606.21 L496.20,606.38 L497.80,606.48 L499.40,606.52 L501.00,606.57 L502.60,606.18 L504.20,606.35 L505.80,606.53 L507.40,606.07 L509.00,606.21 L510.60,606.59 L512.20,606.17 L513.80,606.24 L515.40,606.33 L517.00,606.30 L518.60,606.02 L520.20,606.38 L521.80,606.22 L523.40,606.22 L525.00,606.38 L526.60,606.39 L528.20,606.15 L529.80,606.22 L531.40,606.33 L533.00,606.29 L534.60,606.47 L536.20,606.13 L537.80,606.59 L539.40,606.21 L541.00,606.33 L542.60,606.47 L544.20,606.25 L545.80,606.25 L547.40,606.55 L549.00,606.31 L550.60,606.50 L552.20,606.12 L553.80,606.40 L555.40,606.40 L557.00,606.47 L558.60,606.57 L560.20,606.49 L561.80,606.51 L563.40,606.23 L565.00,606.09 L566.60,606.47 L568.20,606.53 L569.80,606.28 L571.40,606.53 L573.00,606.36 L574.60,606.14 L576.20,606.48 L577.80,606.18 L579.40,606.28 L581.00,606.55 L582.60,606.45 L584.20,606.24 L585.80,606.54 L587.40,606.48 L589.00,606.25 L590.60,606.11 L592.20,606.29 L593.80,606.20 L595.40,606.59 L597.00,606.42 L598.60,606.41 L600.20,606.05 L601.80,606.39 L603.40,606.13 L605.00,606.58 L606.60,606.30 L608.20,606.07 L609.80,606.14 L611.40,606.25 L613.00,606.49 L614.60,606.04 L616.20,606.55 L617.80,606.02 L619.40,606.13 L621.00,606.17 L622.60,606.28 L624.20,606.50 L625.80,606.40 L627.40,606.20 L627.50,606.60 L627.50,607.90 Z" fill="#2db6ea"/>
<path d="M445.90,611.60 L445.90,610.16 L447.00,599.64 L448.10,598.74 L449.20,600.38 L450.30,599.87 L451.40,600.30 L452.50,599.79 L453.60,598.76 L454.70,598.84 L455.80,600.17 L456.90,603.15 L457.60,611.60 L457.60,611.60 Z" fill="#2db6ea"/>
<rect x="445.90" y="604.00" width="11.70" height="7.60" fill="#2db6ea"/>
<path d="M457.60,607.50 L457.60,605.39 L459.10,604.84 L460.60,605.06 L462.10,605.27 L463.60,605.13 L465.10,604.63 L466.60,605.07 L468.10,604.81 L469.60,604.87 L471.10,605.03 L472.60,604.94 L474.10,605.14 L475.60,605.30 L477.10,605.01 L478.60,605.20 L480.10,605.17 L481.60,605.31 L483.10,604.59 L484.60,605.07 L486.10,605.30 L487.60,605.47 L489.10,605.29 L490.60,604.63 L492.10,605.16 L493.60,604.83 L495.10,605.27 L496.60,604.85 L498.10,605.05 L499.60,604.76 L501.10,604.97 L502.60,605.12 L504.10,605.22 L505.60,604.91 L507.10,604.67 L508.60,604.81 L510.10,605.02 L511.60,605.17 L513.10,604.61 L514.60,604.65 L516.10,605.35 L517.60,604.82 L519.10,604.73 L520.60,604.82 L522.10,604.54 L523.60,604.62 L525.10,605.25 L526.60,604.50 L528.10,605.17 L529.60,605.12 L531.10,604.52 L532.60,605.33 L534.10,605.10 L535.60,604.87 L537.10,605.23 L538.60,605.23 L540.10,604.71 L541.60,604.89 L543.10,604.76 L544.60,604.71 L546.10,604.63 L547.60,604.61 L549.10,604.68 L550.60,604.52 L552.10,605.00 L553.60,604.80 L555.10,604.99 L556.60,604.53 L558.10,604.84 L559.60,605.07 L561.10,604.84 L562.60,605.21 L564.10,605.37 L565.60,605.11 L567.10,605.36 L568.60,605.50 L570.10,605.41 L571.60,605.05 L572.00,605.50 L572.00,607.50 Z" fill="#2db6ea"/>
<rect x="459.80" y="605.30" width="5.40" height="6.30" fill="#2db6ea"/>
<rect x="476.10" y="605.00" width="5.20" height="6.60" fill="#2db6ea"/>
<path d="M568.00,611.60 L568.00,609.77 L569.10,608.33 L570.20,603.77 L571.30,602.73 L572.40,601.78 L573.50,602.29 L574.60,601.93 L575.70,601.29 L576.80,602.01 L577.90,602.06 L579.00,601.25 L580.10,602.72 L581.20,602.16 L582.30,601.32 L583.40,601.00 L584.50,600.65 L585.60,602.38 L586.70,601.50 L587.80,602.25 L588.90,601.32 L590.00,600.97 L591.10,602.68 L592.20,602.17 L593.30,600.75 L594.40,602.15 L595.50,601.48 L596.60,601.04 L597.70,602.33 L598.80,601.12 L599.90,602.99 L601.00,605.05 L602.10,608.62 L603.00,611.60 L603.00,611.60 Z" fill="#2db6ea"/>
<rect x="571.60" y="606.00" width="31.40" height="5.60" fill="#2db6ea"/>
<path d="M614.00,611.60 L614.00,602.68 L615.20,602.84 L616.40,603.07 L617.60,602.14 L618.80,602.89 L620.00,602.41 L620.10,603.10 L620.10,611.60 Z" fill="#2db6ea"/>
<text x="668.3" y="354.10" font-size="6.9" font-weight="bold" font-style="italic" text-anchor="middle" fill="#111">C3ar1</text>
<text x="666.2" y="362.00" font-size="5.3" text-anchor="middle" fill="#555">0.002</text>
<path d="M659.2,366.60 V363.50 H672.6 V366.60" fill="none" stroke="#333" stroke-width="0.7"/>
<path d="M649.3,358.8 V406.3 H681" fill="none" stroke="#222" stroke-width="0.8"/>
<line x1="647.9" y1="358.8" x2="649.3" y2="358.8" stroke="#222" stroke-width="0.7"/>
<text x="648.00" y="360.80" font-size="5.8" text-anchor="end" fill="#111" stroke="#111" stroke-width="0.15">3</text>
<line x1="647.9" y1="371.1" x2="649.3" y2="371.1" stroke="#222" stroke-width="0.7"/>
<text x="648.00" y="373.10" font-size="5.8" text-anchor="end" fill="#111" stroke="#111" stroke-width="0.15">2</text>
<line x1="647.9" y1="383" x2="649.3" y2="383" stroke="#222" stroke-width="0.7"/>
<text x="648.00" y="385.00" font-size="5.8" text-anchor="end" fill="#111" stroke="#111" stroke-width="0.15">1</text>
<line x1="647.9" y1="394.6" x2="649.3" y2="394.6" stroke="#222" stroke-width="0.7"/>
<text x="648.00" y="396.60" font-size="5.8" text-anchor="end" fill="#111" stroke="#111" stroke-width="0.15">0</text>
<line x1="647.9" y1="406.3" x2="649.3" y2="406.3" stroke="#222" stroke-width="0.7"/>
<text x="648.00" y="408.30" font-size="5.8" text-anchor="end" fill="#111" stroke="#111" stroke-width="0.15">-1</text>
<line x1="659" y1="406.3" x2="659" y2="407.90000000000003" stroke="#222" stroke-width="0.6"/><line x1="672.8" y1="406.3" x2="672.8" y2="407.90000000000003" stroke="#222" stroke-width="0.6"/>
<line x1="649.3" y1="394.6" x2="681" y2="394.6" stroke="#333" stroke-width="0.8"/>
<rect x="654.4" y="394.60" width="8.90" height="1.90" fill="#3652a6" stroke="#111" stroke-width="0.7"/>
<rect x="667.5" y="376.20" width="9.20" height="18.40" fill="#ef3b2b" stroke="#111" stroke-width="0.7"/>
<path d="M672,370 V382" stroke="#222" stroke-width="0.6"/><circle cx="672" cy="381" r="0.9" fill="#222"/><circle cx="671" cy="368" r="0.8" fill="none" stroke="#444" stroke-width="0.5"/><circle cx="658.8" cy="397.5" r="0.9" fill="#222"/>
<text transform="translate(640.70,377.40) rotate(-90)" font-size="6.3" text-anchor="middle" fill="#111">Expression</text>
<text x="668.3" y="418.20" font-size="6.9" font-weight="bold" font-style="italic" text-anchor="middle" fill="#111">CD80</text>
<text x="666.2" y="425.70" font-size="5.3" text-anchor="middle" fill="#555">&lt;0.001</text>
<path d="M659.2,430.30 V427.20 H672.6 V430.30" fill="none" stroke="#333" stroke-width="0.7"/>
<path d="M650.3,428.9 V475.5 H681" fill="none" stroke="#222" stroke-width="0.8"/>
<line x1="648.9" y1="428.9" x2="650.3" y2="428.9" stroke="#222" stroke-width="0.7"/>
<text x="649.00" y="430.90" font-size="5.8" text-anchor="end" fill="#111" stroke="#111" stroke-width="0.15">4</text>
<line x1="648.9" y1="438.4" x2="650.3" y2="438.4" stroke="#222" stroke-width="0.7"/>
<text x="649.00" y="440.40" font-size="5.8" text-anchor="end" fill="#111" stroke="#111" stroke-width="0.15">3</text>
<line x1="648.9" y1="447.8" x2="650.3" y2="447.8" stroke="#222" stroke-width="0.7"/>
<text x="649.00" y="449.80" font-size="5.8" text-anchor="end" fill="#111" stroke="#111" stroke-width="0.15">2</text>
<line x1="648.9" y1="457.1" x2="650.3" y2="457.1" stroke="#222" stroke-width="0.7"/>
<text x="649.00" y="459.10" font-size="5.8" text-anchor="end" fill="#111" stroke="#111" stroke-width="0.15">1</text>
<line x1="648.9" y1="466.3" x2="650.3" y2="466.3" stroke="#222" stroke-width="0.7"/>
<text x="649.00" y="468.30" font-size="5.8" text-anchor="end" fill="#111" stroke="#111" stroke-width="0.15">0</text>
<line x1="648.9" y1="475.5" x2="650.3" y2="475.5" stroke="#222" stroke-width="0.7"/>
<text x="649.00" y="477.50" font-size="5.8" text-anchor="end" fill="#111" stroke="#111" stroke-width="0.15">-1</text>
<line x1="659" y1="475.5" x2="659" y2="477.1" stroke="#222" stroke-width="0.6"/><line x1="672.8" y1="475.5" x2="672.8" y2="477.1" stroke="#222" stroke-width="0.6"/>
<line x1="650.3" y1="466.3" x2="681" y2="466.3" stroke="#333" stroke-width="0.8"/>
<rect x="654.8" y="466.30" width="8.50" height="2.20" fill="#3652a6" stroke="#111" stroke-width="0.7"/>
<rect x="668.5" y="441.20" width="8.50" height="25.10" fill="#ef3b2b" stroke="#111" stroke-width="0.7"/>
<path d="M672.7,432.3 V450 M670.7,432.3 H674.7" stroke="#222" stroke-width="0.6" fill="none"/><circle cx="672.7" cy="434.5" r="0.9" fill="#222"/><circle cx="672.7" cy="438.7" r="0.9" fill="#222"/><circle cx="672.7" cy="450.7" r="0.9" fill="#222"/><circle cx="659" cy="470.5" r="0.9" fill="#222"/>
<text transform="translate(641.70,447.20) rotate(-90)" font-size="6.3" text-anchor="middle" fill="#111">Expression</text>
<text x="668.3" y="493.40" font-size="6.9" font-weight="bold" font-style="italic" text-anchor="middle" fill="#111">Retnla</text>
<text x="666.2" y="501.40" font-size="5.3" text-anchor="middle" fill="#555">0.005</text>
<path d="M659.2,506.40 V503.30 H672.6 V506.40" fill="none" stroke="#333" stroke-width="0.7"/>
<path d="M649.7,499 V545.8 H681" fill="none" stroke="#222" stroke-width="0.8"/>
<line x1="648.3000000000001" y1="499" x2="649.7" y2="499" stroke="#222" stroke-width="0.7"/>
<text x="648.40" y="501.00" font-size="5.8" text-anchor="end" fill="#111" stroke="#111" stroke-width="0.15">4</text>
<line x1="648.3000000000001" y1="510.6" x2="649.7" y2="510.6" stroke="#222" stroke-width="0.7"/>
<text x="648.40" y="512.60" font-size="5.8" text-anchor="end" fill="#111" stroke="#111" stroke-width="0.15">3</text>
<line x1="648.3000000000001" y1="522.3" x2="649.7" y2="522.3" stroke="#222" stroke-width="0.7"/>
<text x="648.40" y="524.30" font-size="5.8" text-anchor="end" fill="#111" stroke="#111" stroke-width="0.15">2</text>
<line x1="648.3000000000001" y1="534.1" x2="649.7" y2="534.1" stroke="#222" stroke-width="0.7"/>
<text x="648.40" y="536.10" font-size="5.8" text-anchor="end" fill="#111" stroke="#111" stroke-width="0.15">1</text>
<line x1="648.3000000000001" y1="545.8" x2="649.7" y2="545.8" stroke="#222" stroke-width="0.7"/>
<text x="648.40" y="547.80" font-size="5.8" text-anchor="end" fill="#111" stroke="#111" stroke-width="0.15">0</text>
<line x1="659" y1="545.8" x2="659" y2="547.4" stroke="#222" stroke-width="0.6"/><line x1="672.8" y1="545.8" x2="672.8" y2="547.4" stroke="#222" stroke-width="0.6"/>
<rect x="654.5" y="534.10" width="9.20" height="11.70" fill="#3652a6" stroke="#111" stroke-width="0.7"/>
<rect x="668.5" y="510.60" width="8.50" height="35.20" fill="#ef3b2b" stroke="#111" stroke-width="0.7"/>
<path d="M659.1,526 V540" stroke="#222" stroke-width="0.6"/><circle cx="659.1" cy="526" r="0.9" fill="#444"/><circle cx="659.1" cy="536" r="0.9" fill="#222"/><circle cx="659.1" cy="539" r="0.9" fill="#222"/><circle cx="672.7" cy="510" r="1" fill="#222"/>
<text transform="translate(641.10,515.00) rotate(-90)" font-size="6.3" text-anchor="middle" fill="#111">Expression</text>
<text x="668.3" y="561.90" font-size="6.9" font-weight="bold" font-style="italic" text-anchor="middle" fill="#111">Mpo</text>
<text x="666.2" y="569.40" font-size="5.3" text-anchor="middle" fill="#555">&lt;0.001</text>
<path d="M659.2,574.40 V571.30 H672.6 V574.40" fill="none" stroke="#333" stroke-width="0.7"/>
<path d="M650.3,568.4 V615.4 H681" fill="none" stroke="#222" stroke-width="0.8"/>
<line x1="648.9" y1="568.4" x2="650.3" y2="568.4" stroke="#222" stroke-width="0.7"/>
<text x="649.00" y="570.40" font-size="5.8" text-anchor="end" fill="#111" stroke="#111" stroke-width="0.15">2</text>
<line x1="648.9" y1="577.7" x2="650.3" y2="577.7" stroke="#222" stroke-width="0.7"/>
<text x="649.00" y="579.70" font-size="5.8" text-anchor="end" fill="#111" stroke="#111" stroke-width="0.15">0</text>
<line x1="648.9" y1="587.1" x2="650.3" y2="587.1" stroke="#222" stroke-width="0.7"/>
<text x="649.00" y="589.10" font-size="5.8" text-anchor="end" fill="#111" stroke="#111" stroke-width="0.15">-2</text>
<line x1="648.9" y1="596.4" x2="650.3" y2="596.4" stroke="#222" stroke-width="0.7"/>
<text x="649.00" y="598.40" font-size="5.8" text-anchor="end" fill="#111" stroke="#111" stroke-width="0.15">-4</text>
<line x1="648.9" y1="605.9" x2="650.3" y2="605.9" stroke="#222" stroke-width="0.7"/>
<text x="649.00" y="607.90" font-size="5.8" text-anchor="end" fill="#111" stroke="#111" stroke-width="0.15">-6</text>
<line x1="648.9" y1="615.4" x2="650.3" y2="615.4" stroke="#222" stroke-width="0.7"/>
<text x="649.00" y="617.40" font-size="5.8" text-anchor="end" fill="#111" stroke="#111" stroke-width="0.15">-8</text>
<line x1="659" y1="615.4" x2="659" y2="617.0" stroke="#222" stroke-width="0.6"/><line x1="672.8" y1="615.4" x2="672.8" y2="617.0" stroke="#222" stroke-width="0.6"/>
<line x1="650.3" y1="577.7" x2="681" y2="577.7" stroke="#333" stroke-width="0.8"/>
<rect x="654.8" y="577.70" width="8.50" height="0.00" fill="#3652a6" stroke="#111" stroke-width="0.7"/>
<rect x="668.7" y="577.70" width="8.60" height="24.60" fill="#ef3b2b" stroke="#111" stroke-width="0.7"/>
<circle cx="659" cy="577.7" r="1.1" fill="#222"/><path d="M656,577.7 H662" stroke="#222" stroke-width="1"/><path d="M673,602.3 V605 M671,605 H675" stroke="#222" stroke-width="0.6" fill="none"/><circle cx="673" cy="602.3" r="0.9" fill="#222"/>
<text transform="translate(641.70,583.80) rotate(-90)" font-size="6.3" text-anchor="middle" fill="#111">Expression</text>
<text transform="translate(651.8,628.2) rotate(-37)" font-size="6.9" font-weight="bold" fill="#111">BM</text>
<text transform="translate(665.5,630.5) rotate(-37)" font-size="6.9" font-weight="bold" fill="#111">ESOPH</text>
</svg></body></html>
